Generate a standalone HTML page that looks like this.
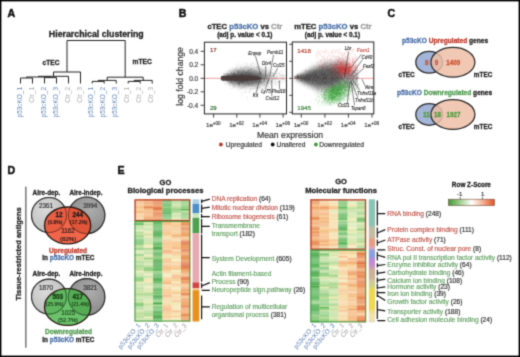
<!DOCTYPE html>
<html><head><meta charset="utf-8"><title>Figure</title>
<style>
html,body{margin:0;padding:0;background:#fff;width:520px;height:357px;overflow:hidden;}
svg{display:block;}
text{font-family:"Liberation Sans", sans-serif;}
</style></head><body>
<svg width="520" height="357" viewBox="0 0 520 357">
<defs><filter id="gb" filterUnits="userSpaceOnUse" x="0" y="0" width="520" height="357" color-interpolation-filters="sRGB"><feConvolveMatrix order="3" kernelMatrix="1 4 1 4 16 4 1 4 1" divisor="36" edgeMode="duplicate" preserveAlpha="true"/></filter></defs>
<g filter="url(#gb)">
<rect width="520" height="357" fill="#fff"/>
<rect x="0.7" y="0.7" width="518.6" height="355.6" fill="none" stroke="#000" stroke-width="1.4"/>
<text class="ns" x="7.6" y="16.7" font-size="10.6" font-weight="bold" fill="#111" stroke="#111" stroke-width="0.5">A</text>
<text class="ns" x="178.8" y="16.6" font-size="10.6" font-weight="bold" fill="#111" stroke="#111" stroke-width="0.5">B</text>
<text class="ns" x="387.6" y="17.0" font-size="10.6" font-weight="bold" fill="#111" stroke="#111" stroke-width="0.5">C</text>
<text class="ns" x="7.4" y="173.8" font-size="10.6" font-weight="bold" fill="#111" stroke="#111" stroke-width="0.5">D</text>
<text class="ns" x="117.6" y="174.2" font-size="10.6" font-weight="bold" fill="#111" stroke="#111" stroke-width="0.5">E</text>
<text x="96.3" y="36.9" font-size="8.8" font-weight="bold" fill="#222" stroke="#222" stroke-width="0.28" text-anchor="middle" >Hierarchical clustering</text>
<text x="42.6" y="64.5" font-size="6.6" font-weight="bold" fill="#222" stroke="#222" stroke-width="0.28" >cTEC</text>
<text x="132.5" y="64.3" font-size="6.65" font-weight="bold" fill="#222" stroke="#222" stroke-width="0.28" >mTEC</text>
<path d="M20.5 83.5L20.5 78.0M32.5 83.5L32.5 78.0M20.5 78.0L32.5 78.0M44.5 83.5L44.5 77.6M56.5 83.5L56.5 77.6M44.5 77.6L56.5 77.6M26.5 78.0L26.5 77.0M50.5 77.6L50.5 77.0M26.5 77.0L50.5 77.0M38.5 77.0L38.5 76.3M68.5 83.5L68.5 76.3M38.5 76.3L68.5 76.3M53.5 76.3L53.5 72.0M80.5 83.5L80.5 72.0M53.5 72.0L80.5 72.0M92.2 83.5L92.2 81.4M104.2 83.5L104.2 81.4M92.2 81.4L104.2 81.4M98.2 81.4L98.2 80.4M116.2 83.5L116.2 80.4M98.2 80.4L116.2 80.4M128.2 83.5L128.2 81.4M140.2 83.5L140.2 81.4M128.2 81.4L140.2 81.4M134.2 81.4L134.2 80.4M152.2 83.5L152.2 80.4M134.2 80.4L152.2 80.4M107.2 80.4L107.2 77.2M143.2 80.4L143.2 77.2M107.2 77.2L143.2 77.2M67.0 72.0L67.0 40.5M125.19999999999999 77.2L125.19999999999999 40.5M67.0 40.5L125.19999999999999 40.5" stroke="#222" stroke-width="1.0" fill="none"/>
<text class="ns" x="21.7" y="87.0" font-size="6.45" fill="#6385b8" text-anchor="end" transform="rotate(-90 21.7 87.0)">p53cKO_1</text>
<text class="ns" x="33.7" y="87.0" font-size="6.45" fill="#a8a8a8" text-anchor="end" transform="rotate(-90 33.7 87.0)">Ctr_1</text>
<text class="ns" x="45.7" y="87.0" font-size="6.45" fill="#6385b8" text-anchor="end" transform="rotate(-90 45.7 87.0)">p53cKO_2</text>
<text class="ns" x="57.7" y="87.0" font-size="6.45" fill="#6385b8" text-anchor="end" transform="rotate(-90 57.7 87.0)">p53cKO_3</text>
<text class="ns" x="69.7" y="87.0" font-size="6.45" fill="#a8a8a8" text-anchor="end" transform="rotate(-90 69.7 87.0)">Ctr_2</text>
<text class="ns" x="81.7" y="87.0" font-size="6.45" fill="#a8a8a8" text-anchor="end" transform="rotate(-90 81.7 87.0)">Ctr_3</text>
<text class="ns" x="93.4" y="87.0" font-size="6.45" fill="#6385b8" text-anchor="end" transform="rotate(-90 93.4 87.0)">p53cKO_1</text>
<text class="ns" x="105.4" y="87.0" font-size="6.45" fill="#6385b8" text-anchor="end" transform="rotate(-90 105.4 87.0)">p53cKO_2</text>
<text class="ns" x="117.4" y="87.0" font-size="6.45" fill="#6385b8" text-anchor="end" transform="rotate(-90 117.4 87.0)">p53cKO_3</text>
<text class="ns" x="129.39999999999998" y="87.0" font-size="6.45" fill="#a8a8a8" text-anchor="end" transform="rotate(-90 129.39999999999998 87.0)">Ctr_1</text>
<text class="ns" x="141.39999999999998" y="87.0" font-size="6.45" fill="#a8a8a8" text-anchor="end" transform="rotate(-90 141.39999999999998 87.0)">Ctr_2</text>
<text class="ns" x="153.39999999999998" y="87.0" font-size="6.45" fill="#a8a8a8" text-anchor="end" transform="rotate(-90 153.39999999999998 87.0)">Ctr_3</text>
<text x="207.4" y="29.3" font-size="7.7" font-weight="bold" fill="#222" stroke="#222" stroke-width="0.28">cTEC <tspan fill="#4a70a8" stroke="#4a70a8">p53cKO</tspan> vs <tspan fill="#9a9a9a" stroke="#9a9a9a">Ctr</tspan></text>
<text x="294.2" y="28.9" font-size="7.7" font-weight="bold" fill="#222" stroke="#222" stroke-width="0.28">mTEC <tspan fill="#4a70a8" stroke="#4a70a8">p53cKO</tspan> vs <tspan fill="#9a9a9a" stroke="#9a9a9a">Ctr</tspan></text>
<text x="217.2" y="36.9" font-size="6.4" font-weight="bold" fill="#222" stroke="#222" stroke-width="0.28" >(adj p. value &lt; 0.1)</text>
<text x="304.8" y="37.1" font-size="6.4" font-weight="bold" fill="#222" stroke="#222" stroke-width="0.28" >(adj p. value &lt; 0.1)</text>
<text x="0" y="0" font-size="9.6" fill="#333" stroke="#333" stroke-width="0.18" text-anchor="middle" transform="translate(182.9 76.4) rotate(-90) scale(0.9 1)">log fold change</text>
<defs><filter id="b1" x="-20%" y="-50%" width="140%" height="200%"><feGaussianBlur stdDeviation="1.2"/></filter><filter id="b2" x="-20%" y="-50%" width="140%" height="200%"><feGaussianBlur stdDeviation="2.2"/></filter><clipPath id="cp1"><rect x="204.5" y="42.5" width="81.3" height="71"/></clipPath><clipPath id="cp2"><rect x="292.8" y="42.5" width="80.5" height="71"/></clipPath></defs>
<line x1="204.5" y1="78.3" x2="286" y2="78.3" stroke="#e05a5a" stroke-width="0.7" opacity="0.85"/>
<line x1="292.8" y1="78.3" x2="373.5" y2="78.3" stroke="#e05a5a" stroke-width="0.7" opacity="0.85"/>
<defs><filter id="b3" x="-30%" y="-80%" width="160%" height="260%"><feGaussianBlur stdDeviation="3"/></filter><filter id="b05" x="-10%" y="-50%" width="120%" height="200%"><feGaussianBlur stdDeviation="0.6"/></filter></defs>
<g clip-path="url(#cp1)">
<ellipse cx="249" cy="77.6" rx="21" ry="8.0" fill="#8c8c8c" opacity="0.85" filter="url(#b3)"/>
<ellipse cx="247" cy="77.8" rx="15" ry="5.2" fill="#555" opacity="0.8" filter="url(#b2)"/>
<path d="M243.3 71.5h0.6M239.2 72.5h0.6M236.8 77.7h0.6M244.2 80.2h0.6M236.3 70.2h0.6M251.9 77.0h0.6M244.9 80.1h0.6M242.8 78.0h0.6M227.9 74.7h0.6M224.8 80.0h0.6M228.5 74.0h0.6M245.8 80.8h0.6M242.5 85.3h0.6M226.6 72.2h0.6M245.6 78.7h0.6M232.7 78.6h0.6M232.7 78.3h0.6M260.3 73.4h0.6M241.5 75.9h0.6M244.3 70.1h0.6M244.5 78.0h0.6M226.5 79.0h0.6M245.2 73.8h0.6M229.1 74.8h0.6M253.6 74.6h0.6M255.8 77.2h0.6M255.5 77.6h0.6M234.1 77.1h0.6M236.7 77.7h0.6M229.2 73.6h0.6M240.3 64.7h0.6M266.6 80.2h0.6M232.8 82.6h0.6M224.0 74.6h0.6M241.7 74.1h0.6M256.0 78.9h0.6M237.9 81.5h0.6M276.8 79.6h0.6M238.8 83.0h0.6M241.4 77.1h0.6M229.8 78.8h0.6M236.9 79.1h0.6M255.2 74.8h0.6M255.5 84.0h0.6M264.3 80.3h0.6M253.8 82.8h0.6M249.2 75.1h0.6M223.8 79.7h0.6M231.8 73.9h0.6M234.7 78.9h0.6M252.0 62.7h0.6M240.1 72.7h0.6M252.5 81.4h0.6M242.0 75.1h0.6M230.3 78.0h0.6M232.2 71.8h0.6M246.4 85.5h0.6M235.1 79.7h0.6M224.0 77.5h0.6M249.5 79.5h0.6M259.4 79.0h0.6M257.4 84.9h0.6M257.9 78.4h0.6M226.6 73.7h0.6M274.5 76.6h0.6M239.2 83.1h0.6M231.0 79.3h0.6M235.7 75.7h0.6M232.9 79.6h0.6M228.4 77.8h0.6M240.9 80.2h0.6M243.4 69.2h0.6M238.4 73.4h0.6M243.4 80.7h0.6M238.8 76.4h0.6M232.7 78.7h0.6M234.2 84.8h0.6M249.0 75.6h0.6M227.1 78.2h0.6M234.6 75.3h0.6M256.9 73.8h0.6M244.4 76.9h0.6M251.2 69.2h0.6M241.0 67.3h0.6M228.9 81.5h0.6M236.1 77.0h0.6M242.7 82.9h0.6M236.1 77.9h0.6M238.8 78.0h0.6M243.6 80.7h0.6M255.8 81.2h0.6M235.4 72.6h0.6M261.8 83.3h0.6M241.1 72.7h0.6M258.0 78.3h0.6M261.1 90.2h0.6M276.6 77.7h0.6M259.8 85.9h0.6M260.0 75.5h0.6M275.7 79.5h0.6M225.6 77.7h0.6M230.7 78.8h0.6M259.3 72.8h0.6M223.5 75.8h0.6M243.9 79.0h0.6M243.8 69.3h0.6M226.7 75.3h0.6M231.1 79.6h0.6M252.2 73.8h0.6M250.3 72.4h0.6M234.3 73.2h0.6M231.9 78.0h0.6M233.0 76.1h0.6M249.0 78.1h0.6M227.6 77.0h0.6M241.8 86.3h0.6M227.1 76.4h0.6M257.1 66.6h0.6M244.5 77.9h0.6M266.8 77.4h0.6M223.2 77.9h0.6M224.1 74.2h0.6M234.0 81.7h0.6M271.5 77.3h0.6M229.3 77.4h0.6M266.2 70.2h0.6M244.0 79.7h0.6M243.8 77.0h0.6M253.1 84.8h0.6M230.4 76.2h0.6M234.0 72.8h0.6M228.5 77.9h0.6M243.1 72.7h0.6M282.8 78.8h0.6M236.7 72.9h0.6M249.8 76.5h0.6M247.4 76.0h0.6M244.6 77.1h0.6M239.2 75.1h0.6M267.7 73.8h0.6M243.1 77.0h0.6M235.5 75.1h0.6M262.1 78.1h0.6M255.5 75.7h0.6M246.8 65.3h0.6M240.2 77.1h0.6M276.5 82.1h0.6M242.3 78.8h0.6M234.6 79.7h0.6M252.2 79.8h0.6M238.2 75.3h0.6M242.2 70.8h0.6M237.6 80.8h0.6M239.9 82.1h0.6M226.2 79.0h0.6M232.2 78.9h0.6M233.1 78.9h0.6M238.6 77.2h0.6M246.4 78.7h0.6M230.9 77.5h0.6M240.2 78.8h0.6M248.7 72.2h0.6M229.8 75.6h0.6M231.7 79.4h0.6M276.9 76.4h0.6M253.2 63.9h0.6M240.3 77.9h0.6M227.8 71.2h0.6M275.6 83.9h0.6M231.4 79.8h0.6M236.2 80.1h0.6M240.1 74.3h0.6M248.3 71.3h0.6M242.6 76.3h0.6M241.9 77.4h0.6M244.1 73.4h0.6M249.9 78.1h0.6M227.4 79.4h0.6M256.3 80.5h0.6M225.5 75.1h0.6M234.1 69.4h0.6M233.0 77.5h0.6M242.4 74.1h0.6M229.5 78.8h0.6M229.5 82.4h0.6M264.5 85.0h0.6M236.5 78.6h0.6M241.2 82.5h0.6M238.3 84.4h0.6M227.2 77.7h0.6M240.3 78.6h0.6M263.0 81.4h0.6M233.0 77.3h0.6M250.0 74.6h0.6M263.7 73.8h0.6M228.9 77.6h0.6M258.5 74.1h0.6M224.5 79.3h0.6M254.1 75.5h0.6M237.7 83.6h0.6M229.7 81.2h0.6M240.6 71.7h0.6M234.5 81.5h0.6M225.7 76.6h0.6M262.6 84.0h0.6M264.8 79.8h0.6M230.4 77.4h0.6M236.7 80.2h0.6M235.8 75.3h0.6M238.7 78.9h0.6M228.3 78.7h0.6M260.2 76.7h0.6M243.3 79.3h0.6M231.0 74.3h0.6M236.0 79.7h0.6M233.0 73.3h0.6M239.8 80.2h0.6M253.9 80.0h0.6M254.2 81.3h0.6M230.0 75.9h0.6M244.1 92.7h0.6M231.7 76.8h0.6M225.4 78.0h0.6M230.1 75.3h0.6M242.3 84.3h0.6M226.6 76.4h0.6M233.4 81.1h0.6M249.8 72.4h0.6M233.6 78.7h0.6M233.3 76.3h0.6M231.1 80.6h0.6M224.8 77.0h0.6M238.5 73.8h0.6M242.7 79.7h0.6M244.0 71.5h0.6M230.4 74.6h0.6M230.7 80.0h0.6M257.2 67.6h0.6M231.2 80.1h0.6M238.1 75.9h0.6M230.1 74.8h0.6M230.1 78.4h0.6M226.8 79.3h0.6M272.9 75.5h0.6M237.5 76.9h0.6M224.5 79.4h0.6M242.7 81.2h0.6M241.8 77.3h0.6M242.2 73.9h0.6M270.4 73.9h0.6M241.1 74.8h0.6M242.2 80.8h0.6M233.4 79.7h0.6M230.4 78.6h0.6M241.6 84.1h0.6M240.5 76.3h0.6M231.3 76.4h0.6M235.6 76.2h0.6M243.2 86.9h0.6M244.3 67.3h0.6M234.8 78.7h0.6M223.7 78.6h0.6M245.7 77.9h0.6M237.2 87.1h0.6M231.0 81.4h0.6M235.6 80.6h0.6M229.0 75.1h0.6M245.6 80.2h0.6M237.0 76.2h0.6M225.8 77.8h0.6M247.3 78.7h0.6M249.8 75.1h0.6M239.4 80.4h0.6M250.7 86.3h0.6M226.7 80.3h0.6M267.2 78.6h0.6M247.1 67.7h0.6M261.6 82.9h0.6M226.9 80.5h0.6M234.6 77.0h0.6M237.9 75.7h0.6M283.6 79.6h0.6M241.6 74.0h0.6M228.6 80.0h0.6M250.6 72.0h0.6M245.0 73.0h0.6M233.1 77.8h0.6M256.9 70.0h0.6M264.7 77.7h0.6M238.7 80.0h0.6M230.8 73.6h0.6M253.7 82.7h0.6M248.5 74.8h0.6M237.9 80.0h0.6M232.1 78.5h0.6M238.3 75.8h0.6M249.8 75.0h0.6M243.0 69.5h0.6M221.6 76.8h0.6M253.0 73.6h0.6M282.1 82.6h0.6M248.5 83.0h0.6M258.1 70.7h0.6M242.6 81.6h0.6M242.5 78.8h0.6M271.8 76.4h0.6M275.3 79.3h0.6M240.4 81.3h0.6M258.1 74.8h0.6M226.7 77.1h0.6M249.0 78.6h0.6M226.7 75.3h0.6M252.0 78.7h0.6M236.5 77.5h0.6M239.6 74.8h0.6M231.6 75.0h0.6M246.6 79.3h0.6M255.7 82.5h0.6M231.5 78.9h0.6M238.1 74.2h0.6M246.8 81.6h0.6M234.6 78.4h0.6M268.3 80.2h0.6M246.9 83.7h0.6M241.3 73.7h0.6M245.1 77.1h0.6M232.5 75.8h0.6M227.2 75.5h0.6M233.2 84.8h0.6M246.8 82.6h0.6M238.3 70.4h0.6M231.9 79.2h0.6M230.6 76.1h0.6M242.8 83.3h0.6M238.1 78.1h0.6M256.2 76.9h0.6M230.5 78.2h0.6M241.5 79.6h0.6M237.9 77.9h0.6M252.0 76.6h0.6M236.1 77.3h0.6M282.4 79.3h0.6M255.9 71.8h0.6M233.7 77.8h0.6M240.3 77.3h0.6M255.8 75.2h0.6M225.6 79.5h0.6M233.4 73.3h0.6M235.0 76.4h0.6M222.8 76.4h0.6M247.5 80.6h0.6M225.0 76.8h0.6M229.0 77.9h0.6M244.5 79.7h0.6M249.1 69.5h0.6M248.3 80.1h0.6M238.6 74.6h0.6M235.7 76.8h0.6M225.7 77.5h0.6M271.2 80.8h0.6M234.1 80.5h0.6M242.4 86.1h0.6M238.9 78.5h0.6M237.0 75.9h0.6M230.0 76.3h0.6M239.7 80.6h0.6M256.4 86.3h0.6M240.1 79.3h0.6M247.8 74.8h0.6M277.7 78.7h0.6M244.6 79.1h0.6M275.9 77.9h0.6M234.2 75.1h0.6M255.4 64.2h0.6M273.2 75.9h0.6M257.3 83.3h0.6M234.2 78.6h0.6M237.9 68.7h0.6M234.4 77.8h0.6M248.5 68.2h0.6M240.2 86.6h0.6M233.3 78.5h0.6M228.9 74.4h0.6M234.5 80.7h0.6M242.4 74.1h0.6M256.1 80.8h0.6M249.4 77.9h0.6M254.8 71.4h0.6M268.9 80.5h0.6M250.0 70.8h0.6M227.1 81.2h0.6M239.4 78.1h0.6M227.8 75.1h0.6M244.9 68.7h0.6M225.5 81.5h0.6M241.8 84.5h0.6M244.7 71.5h0.6M253.1 86.6h0.6M242.6 78.6h0.6M236.7 76.9h0.6M258.0 77.4h0.6M236.4 76.7h0.6M231.0 82.3h0.6M236.5 78.4h0.6M227.2 73.1h0.6M245.7 88.4h0.6M225.1 79.8h0.6M258.3 72.2h0.6M242.0 76.1h0.6M254.7 72.9h0.6M229.3 77.9h0.6M274.7 79.1h0.6M266.9 78.8h0.6M261.5 74.9h0.6M240.8 74.2h0.6M257.7 82.2h0.6M241.9 77.3h0.6M268.2 87.0h0.6M225.3 76.0h0.6M243.5 81.6h0.6M271.1 78.0h0.6M258.7 73.9h0.6M259.9 84.6h0.6M257.8 78.4h0.6M245.8 73.3h0.6M231.5 76.8h0.6M251.3 83.2h0.6M237.0 72.9h0.6M239.1 83.7h0.6M241.2 80.9h0.6M242.9 76.5h0.6M231.1 82.1h0.6M255.4 87.2h0.6M246.2 80.8h0.6M266.3 78.5h0.6M257.1 87.5h0.6M244.9 85.3h0.6M228.1 75.3h0.6M242.5 76.8h0.6M246.3 76.7h0.6M247.9 75.7h0.6M243.8 70.5h0.6M235.9 81.3h0.6M260.6 78.2h0.6M245.7 78.3h0.6M263.9 84.3h0.6M233.8 75.8h0.6M248.5 77.5h0.6M267.7 78.9h0.6M267.8 76.0h0.6M229.9 77.5h0.6M241.7 81.4h0.6M238.0 77.8h0.6M267.8 83.3h0.6M250.3 73.8h0.6M234.5 78.5h0.6M242.7 71.0h0.6M236.3 77.3h0.6M243.7 74.4h0.6M237.1 83.3h0.6M246.8 81.6h0.6M268.0 79.9h0.6M258.6 87.2h0.6M255.4 85.6h0.6M257.0 81.6h0.6M251.2 74.1h0.6M242.0 71.0h0.6M223.0 77.7h0.6M230.5 76.7h0.6M239.8 75.0h0.6M249.7 76.3h0.6M231.6 72.4h0.6M242.8 84.9h0.6M240.9 72.6h0.6M241.1 74.7h0.6M243.5 80.6h0.6M253.6 69.0h0.6M238.3 81.7h0.6M240.8 82.1h0.6M231.8 76.8h0.6M237.5 73.4h0.6M232.5 76.2h0.6M250.0 68.0h0.6M284.5 81.8h0.6M234.3 78.0h0.6M250.9 73.9h0.6M244.0 73.3h0.6M225.0 79.1h0.6M223.1 80.5h0.6M233.6 73.3h0.6M239.9 75.3h0.6M227.3 73.2h0.6M230.2 79.9h0.6M231.1 78.3h0.6M230.3 84.7h0.6M227.7 77.5h0.6M238.5 75.9h0.6M253.5 74.0h0.6M246.5 82.2h0.6M231.1 72.6h0.6M239.6 81.1h0.6M242.5 79.0h0.6M224.1 76.8h0.6M260.2 73.3h0.6M232.9 81.5h0.6M227.6 82.8h0.6M229.8 76.5h0.6M237.4 80.0h0.6M232.6 83.8h0.6M260.3 74.7h0.6M237.8 76.8h0.6M226.5 74.8h0.6M223.1 77.5h0.6M234.7 77.5h0.6M229.5 76.6h0.6M266.9 74.6h0.6M231.2 72.7h0.6M239.2 71.9h0.6M246.0 72.8h0.6M240.0 80.7h0.6M223.4 76.8h0.6M233.7 74.7h0.6M246.9 81.2h0.6M234.5 79.9h0.6M249.2 73.8h0.6M227.1 76.2h0.6M229.2 79.7h0.6M240.1 79.4h0.6M240.0 74.1h0.6M257.2 79.1h0.6M236.9 77.7h0.6M242.5 83.1h0.6M240.5 73.9h0.6M249.5 82.5h0.6M249.3 80.1h0.6M241.3 73.1h0.6M257.5 83.4h0.6M271.7 81.2h0.6M233.3 73.1h0.6M234.1 85.1h0.6M233.7 73.7h0.6M233.0 74.6h0.6M233.5 76.6h0.6M242.6 81.5h0.6M255.1 81.0h0.6M233.2 77.5h0.6M248.7 85.0h0.6M236.1 79.4h0.6M245.5 85.0h0.6M254.5 93.4h0.6M230.3 78.4h0.6M231.3 69.4h0.6M244.8 75.5h0.6M232.3 74.1h0.6M240.7 78.2h0.6M264.1 78.3h0.6M232.6 73.6h0.6M231.5 74.0h0.6M244.0 76.5h0.6M237.8 77.0h0.6M252.2 63.6h0.6M239.5 82.1h0.6M229.5 77.9h0.6M223.2 77.8h0.6M246.9 79.4h0.6M232.7 74.2h0.6M243.2 77.5h0.6M224.6 80.1h0.6M232.2 81.5h0.6M247.0 80.2h0.6M260.6 76.4h0.6M261.2 73.7h0.6M266.4 83.7h0.6M241.0 80.3h0.6M258.9 75.6h0.6M246.7 66.3h0.6M237.9 74.1h0.6M235.3 70.3h0.6M231.9 82.0h0.6M260.4 78.8h0.6M242.0 74.2h0.6M232.5 76.8h0.6M239.5 89.5h0.6M283.7 81.4h0.6M226.8 74.3h0.6M227.1 77.5h0.6M270.8 72.9h0.6M226.7 73.3h0.6M269.6 78.5h0.6M234.1 86.9h0.6M248.0 86.2h0.6M267.5 78.0h0.6M267.6 76.2h0.6M255.4 78.9h0.6M241.2 82.7h0.6M237.7 71.5h0.6M238.0 69.7h0.6M274.6 84.4h0.6M246.9 79.3h0.6M264.5 85.4h0.6M222.3 78.2h0.6M236.8 84.0h0.6M246.5 74.5h0.6M236.4 79.9h0.6M228.8 82.4h0.6M250.7 83.5h0.6M258.2 75.3h0.6M231.5 80.8h0.6M257.7 74.2h0.6M248.9 70.0h0.6M272.9 79.7h0.6M241.3 84.5h0.6M260.5 82.2h0.6M248.8 70.9h0.6M235.7 81.3h0.6M253.7 81.7h0.6M250.5 75.2h0.6M276.6 69.4h0.6M226.9 80.5h0.6M227.2 80.2h0.6M232.3 79.6h0.6M253.8 67.9h0.6M263.1 70.4h0.6M240.2 82.5h0.6M246.1 82.1h0.6M242.7 80.3h0.6M225.5 77.2h0.6M231.7 79.2h0.6M259.3 74.9h0.6M257.8 76.1h0.6M265.6 73.7h0.6M254.6 79.3h0.6M222.0 77.1h0.6M246.9 83.0h0.6M248.1 81.8h0.6M227.4 75.6h0.6M239.9 86.4h0.6M260.3 71.9h0.6M256.6 80.3h0.6M252.9 84.0h0.6M271.6 82.8h0.6M240.1 67.5h0.6M260.2 83.1h0.6M249.9 84.6h0.6M228.3 82.0h0.6M233.8 69.4h0.6M228.5 75.8h0.6M225.9 77.5h0.6M250.3 75.3h0.6M226.8 81.4h0.6M260.9 74.3h0.6M238.4 83.3h0.6M238.3 80.3h0.6M228.1 73.6h0.6M248.4 72.3h0.6M230.9 76.2h0.6M253.6 78.4h0.6M254.6 83.5h0.6M225.1 77.4h0.6M250.5 82.9h0.6M223.4 74.7h0.6M257.3 60.8h0.6M223.2 77.2h0.6M229.7 79.2h0.6M268.9 76.2h0.6M245.7 72.3h0.6M254.7 80.2h0.6M222.1 81.0h0.6M256.4 77.2h0.6M231.6 75.3h0.6M278.8 75.0h0.6M242.9 87.8h0.6M240.5 77.6h0.6M225.5 79.3h0.6M230.9 81.9h0.6M241.6 83.1h0.6M270.5 74.0h0.6M268.2 82.0h0.6M238.3 81.6h0.6M228.7 79.3h0.6M228.1 80.7h0.6M280.1 76.0h0.6M247.0 77.4h0.6M229.5 76.2h0.6M274.9 80.5h0.6M251.8 74.1h0.6M256.3 80.0h0.6M258.4 71.8h0.6M247.9 77.1h0.6M235.2 76.3h0.6M225.4 77.5h0.6M227.3 78.2h0.6M231.2 77.2h0.6M251.2 76.6h0.6M232.6 70.3h0.6M257.2 84.0h0.6M259.5 74.5h0.6M275.2 76.9h0.6M276.1 75.0h0.6M278.4 81.1h0.6M246.0 72.9h0.6M244.9 80.5h0.6M234.1 82.3h0.6M246.9 86.8h0.6M244.5 84.1h0.6M233.7 80.1h0.6M224.4 75.1h0.6M271.4 82.9h0.6M252.7 84.6h0.6M230.4 80.5h0.6M236.0 81.1h0.6M257.4 78.2h0.6M235.3 75.7h0.6M248.0 83.8h0.6M263.7 84.1h0.6M259.3 72.3h0.6M240.6 82.2h0.6M231.7 78.7h0.6M237.5 81.7h0.6M257.1 79.4h0.6M240.3 83.1h0.6M280.4 81.1h0.6M284.9 80.5h0.6M275.9 73.1h0.6M256.6 82.5h0.6M228.9 78.0h0.6M282.0 74.3h0.6M257.6 81.8h0.6M234.2 72.6h0.6M231.9 81.0h0.6M234.6 84.5h0.6M245.7 75.2h0.6M227.1 80.4h0.6M267.6 79.9h0.6M237.9 80.7h0.6M253.3 70.2h0.6M225.4 79.3h0.6M263.5 78.6h0.6M241.5 81.5h0.6M228.9 77.9h0.6M276.2 81.6h0.6M237.1 79.1h0.6M236.7 80.8h0.6M231.5 82.5h0.6M228.4 78.4h0.6M241.6 82.8h0.6M243.1 79.1h0.6M236.7 80.1h0.6M229.5 76.3h0.6M275.6 80.6h0.6M278.6 81.9h0.6M231.7 77.6h0.6M269.7 81.2h0.6M243.2 80.1h0.6M241.5 72.6h0.6M236.3 79.4h0.6M255.3 85.5h0.6M234.0 76.1h0.6M225.4 73.5h0.6M258.9 79.1h0.6M249.9 74.4h0.6M255.5 88.7h0.6M237.9 77.8h0.6M250.5 78.0h0.6M244.4 74.7h0.6M223.9 78.4h0.6M238.9 75.4h0.6M225.6 75.7h0.6M242.6 77.7h0.6M229.3 75.4h0.6M228.6 81.8h0.6M271.7 73.4h0.6M235.9 77.6h0.6M237.5 75.0h0.6M247.0 70.6h0.6M222.9 80.9h0.6M230.5 71.1h0.6M232.0 82.9h0.6M248.5 70.3h0.6M245.3 78.5h0.6M233.3 86.2h0.6M281.4 71.3h0.6M234.4 72.7h0.6M231.6 82.4h0.6M247.9 78.9h0.6M232.4 76.0h0.6M266.4 77.8h0.6M246.4 72.8h0.6M232.4 78.4h0.6M235.8 84.0h0.6M240.7 76.2h0.6M246.4 78.7h0.6M246.8 84.4h0.6M247.9 88.7h0.6M227.2 76.3h0.6M242.2 79.5h0.6M223.4 76.8h0.6M237.6 75.2h0.6M239.4 76.2h0.6M250.3 74.5h0.6M231.5 72.1h0.6M245.6 67.4h0.6M235.3 75.0h0.6M242.3 78.6h0.6M230.3 81.8h0.6M259.4 75.2h0.6M258.0 77.1h0.6M225.4 79.5h0.6M237.3 81.1h0.6M236.0 77.5h0.6M223.4 77.8h0.6M227.4 83.0h0.6M237.3 76.5h0.6M227.7 76.5h0.6M243.0 69.8h0.6M253.4 80.4h0.6M232.9 77.0h0.6M251.1 88.6h0.6M269.0 76.5h0.6M233.0 80.9h0.6M263.8 82.5h0.6M264.3 85.8h0.6M268.7 72.4h0.6M241.7 85.5h0.6M245.9 78.1h0.6M231.6 77.6h0.6M257.9 76.3h0.6M255.1 75.8h0.6M247.9 76.1h0.6M241.6 66.7h0.6M233.2 79.8h0.6M222.6 78.0h0.6M234.3 74.3h0.6M224.8 77.7h0.6M239.7 88.4h0.6M231.5 79.2h0.6M233.8 76.5h0.6M230.6 83.4h0.6M282.9 75.5h0.6M225.4 77.5h0.6M265.7 75.4h0.6M266.9 76.9h0.6M240.7 81.4h0.6M227.4 79.5h0.6M234.2 75.2h0.6M244.4 77.3h0.6M258.3 78.4h0.6M251.8 75.7h0.6M249.6 77.8h0.6M236.3 75.0h0.6M263.4 74.4h0.6M229.9 78.0h0.6M233.3 74.2h0.6M245.0 80.2h0.6M256.4 76.9h0.6M250.3 72.9h0.6M251.2 74.6h0.6M235.6 76.0h0.6M261.3 77.2h0.6M223.3 78.1h0.6M233.6 77.2h0.6M227.5 75.5h0.6M229.4 82.2h0.6M249.6 82.9h0.6M257.3 78.6h0.6M230.2 80.9h0.6M242.1 79.5h0.6M247.4 76.6h0.6M273.7 78.2h0.6M263.2 90.9h0.6M266.0 82.4h0.6M238.0 82.4h0.6M248.6 75.8h0.6M232.6 80.0h0.6M268.1 87.6h0.6M234.7 79.6h0.6M243.5 83.4h0.6M253.5 85.0h0.6M237.1 80.6h0.6M239.2 85.0h0.6M228.8 78.6h0.6M240.5 80.2h0.6M227.7 76.2h0.6M249.4 92.2h0.6M244.3 79.5h0.6M263.8 78.5h0.6M238.9 84.1h0.6M263.5 75.6h0.6M266.0 77.9h0.6M267.9 74.6h0.6M256.5 78.1h0.6M250.1 75.9h0.6M247.0 80.8h0.6M236.1 77.4h0.6M241.6 75.1h0.6M241.8 76.5h0.6M228.4 77.5h0.6M238.6 75.7h0.6M246.7 82.9h0.6M230.8 80.1h0.6M255.6 78.8h0.6M233.9 73.5h0.6M248.4 80.7h0.6M242.9 71.6h0.6M252.9 79.0h0.6M228.0 78.0h0.6M247.7 74.8h0.6M273.6 74.9h0.6M258.6 74.3h0.6M242.3 87.9h0.6M243.2 76.6h0.6M245.2 76.9h0.6M239.1 82.2h0.6M231.8 79.3h0.6M242.4 83.1h0.6M241.4 72.1h0.6M251.1 72.0h0.6M241.9 93.9h0.6M248.4 77.7h0.6M242.9 76.5h0.6M231.9 78.4h0.6M230.8 81.1h0.6M238.4 72.8h0.6M261.2 79.4h0.6M229.8 77.8h0.6M227.5 79.7h0.6M241.7 78.8h0.6M234.0 75.9h0.6M233.4 74.8h0.6M276.6 69.9h0.6M241.4 82.6h0.6M251.9 69.9h0.6M241.0 76.0h0.6M256.1 87.1h0.6M240.8 76.0h0.6M239.6 80.7h0.6M254.0 76.8h0.6M240.9 81.2h0.6M268.5 78.0h0.6M233.0 76.1h0.6M273.9 82.6h0.6M229.2 77.1h0.6M236.2 72.5h0.6M243.7 76.3h0.6M229.0 79.5h0.6M234.1 73.8h0.6M254.7 82.3h0.6M238.3 81.2h0.6M232.5 85.2h0.6M255.1 74.4h0.6M243.3 81.2h0.6M251.7 68.8h0.6M272.6 76.4h0.6M241.9 78.4h0.6M247.4 80.1h0.6M223.6 77.7h0.6M245.1 77.5h0.6M232.1 75.8h0.6M249.1 75.6h0.6M231.9 78.9h0.6M235.7 80.1h0.6M227.7 79.6h0.6M255.2 83.5h0.6M242.1 83.6h0.6M237.8 70.3h0.6M229.8 76.3h0.6M265.5 77.2h0.6M225.2 76.4h0.6M262.4 83.0h0.6M248.3 81.9h0.6M234.9 77.5h0.6M243.3 78.5h0.6M226.6 81.1h0.6M271.2 76.6h0.6M227.8 77.0h0.6M234.4 81.3h0.6M258.6 80.4h0.6M236.5 83.6h0.6M245.5 79.9h0.6M244.9 81.8h0.6M233.2 76.0h0.6M235.5 74.2h0.6M281.2 77.9h0.6M258.4 64.1h0.6M251.8 80.2h0.6M242.9 82.7h0.6M231.3 78.1h0.6M227.7 77.3h0.6M252.5 83.9h0.6M234.3 77.7h0.6M238.0 82.1h0.6M229.1 84.3h0.6M225.4 79.6h0.6M243.6 82.6h0.6M230.7 79.5h0.6M277.8 78.7h0.6M237.9 79.1h0.6M264.0 78.2h0.6M231.4 81.4h0.6M264.2 70.4h0.6M252.9 76.5h0.6M223.1 79.0h0.6M241.1 74.0h0.6M238.3 77.5h0.6M254.0 74.1h0.6M242.2 80.0h0.6M252.4 82.7h0.6M244.5 85.3h0.6M231.6 79.6h0.6M227.6 75.9h0.6M261.9 79.2h0.6M233.2 79.9h0.6M251.6 85.6h0.6M248.1 66.6h0.6M235.5 79.4h0.6M226.4 73.3h0.6M245.7 81.7h0.6M267.0 79.9h0.6M227.1 79.2h0.6M244.4 82.4h0.6M249.2 80.0h0.6M270.3 75.4h0.6M278.2 79.0h0.6M247.9 84.3h0.6M256.5 77.3h0.6M233.8 78.0h0.6M242.4 72.1h0.6M228.3 81.1h0.6M254.3 75.2h0.6M251.4 73.9h0.6M251.9 75.5h0.6M253.4 73.2h0.6M224.5 77.3h0.6M239.4 83.5h0.6M231.1 80.4h0.6M237.7 83.9h0.6M252.0 86.0h0.6M274.2 74.8h0.6M239.5 80.0h0.6M232.9 83.1h0.6M235.7 86.9h0.6M240.5 71.5h0.6M239.3 71.7h0.6M245.9 80.4h0.6M254.6 76.1h0.6M226.0 75.4h0.6M225.6 78.8h0.6M233.2 75.1h0.6M234.7 69.3h0.6M273.4 77.8h0.6M238.3 78.4h0.6M260.1 81.2h0.6M229.6 80.7h0.6M227.4 78.4h0.6M261.8 76.8h0.6M229.9 75.9h0.6M239.7 70.6h0.6M249.8 75.6h0.6M235.2 81.7h0.6M260.1 81.2h0.6M250.5 88.9h0.6M223.9 77.5h0.6M263.3 69.5h0.6M241.4 81.8h0.6M235.2 81.9h0.6M232.7 73.8h0.6M224.4 74.4h0.6M244.7 78.7h0.6M233.6 80.5h0.6M229.0 74.6h0.6M232.7 76.7h0.6M233.7 75.1h0.6M264.6 72.4h0.6M274.8 73.4h0.6M244.4 78.6h0.6M257.3 75.9h0.6M230.3 75.8h0.6M237.8 66.9h0.6M244.9 86.9h0.6M230.9 74.8h0.6M231.4 77.4h0.6M267.6 73.0h0.6M242.0 79.7h0.6M230.1 73.2h0.6M244.8 78.4h0.6M230.2 77.3h0.6M239.3 81.9h0.6M243.2 72.5h0.6M245.3 74.5h0.6M234.2 77.0h0.6M257.3 89.0h0.6M270.2 72.1h0.6M237.6 79.1h0.6M246.1 74.5h0.6M236.0 79.1h0.6M246.2 81.3h0.6M271.5 78.4h0.6M235.3 78.9h0.6M233.5 78.8h0.6M240.0 75.2h0.6M237.8 76.9h0.6M246.4 69.2h0.6M243.8 76.1h0.6M224.5 76.2h0.6M266.2 76.7h0.6M237.6 80.9h0.6M241.2 79.6h0.6M235.2 79.6h0.6M267.7 82.5h0.6M262.0 66.2h0.6M244.4 80.0h0.6M251.4 77.7h0.6M247.2 77.3h0.6M233.0 73.2h0.6M239.1 80.2h0.6M275.2 81.7h0.6M252.8 83.4h0.6M253.0 77.4h0.6M227.4 79.5h0.6M250.3 82.8h0.6M239.6 85.9h0.6M227.2 81.0h0.6M227.1 78.2h0.6M266.8 78.2h0.6M260.1 78.7h0.6M232.0 78.6h0.6M237.7 75.7h0.6M240.5 81.3h0.6M254.3 74.0h0.6M246.8 73.6h0.6M274.7 79.0h0.6M236.7 75.5h0.6M279.6 77.1h0.6M257.3 66.8h0.6M246.1 82.0h0.6M244.5 77.8h0.6M252.5 77.1h0.6M259.6 80.2h0.6M238.9 78.7h0.6M237.0 75.0h0.6M239.2 86.6h0.6M237.6 75.9h0.6M260.8 82.7h0.6M255.8 87.8h0.6M225.8 76.3h0.6M236.0 78.2h0.6M229.2 75.4h0.6M239.7 82.5h0.6M237.1 76.4h0.6M233.3 73.9h0.6M253.7 85.0h0.6M236.7 81.5h0.6M246.0 73.2h0.6M239.4 83.0h0.6M253.8 78.9h0.6M252.9 92.6h0.6M238.8 85.2h0.6M249.7 74.9h0.6M245.2 76.4h0.6M272.9 74.7h0.6M233.0 78.3h0.6M246.0 78.1h0.6M242.4 81.3h0.6M239.9 78.2h0.6M247.8 70.1h0.6M263.5 74.0h0.6M265.0 84.3h0.6M247.6 83.9h0.6M248.4 77.0h0.6M233.0 77.3h0.6M234.2 77.2h0.6M244.3 77.9h0.6M225.7 73.8h0.6M259.9 82.3h0.6M281.1 75.8h0.6M229.0 78.2h0.6M250.9 64.2h0.6M261.4 79.0h0.6M235.1 82.9h0.6M233.3 69.9h0.6M227.1 81.8h0.6M253.6 80.4h0.6M242.2 74.3h0.6M249.8 69.3h0.6M233.0 81.9h0.6M243.8 79.1h0.6M261.4 80.7h0.6M243.5 76.5h0.6M256.4 73.5h0.6M266.0 81.7h0.6M245.8 72.9h0.6M252.5 82.7h0.6M261.7 69.6h0.6M260.1 73.1h0.6M269.3 71.9h0.6M245.0 84.6h0.6M240.2 69.9h0.6M245.7 71.9h0.6M253.0 81.4h0.6M223.0 78.2h0.6M238.2 87.1h0.6M223.4 81.3h0.6M267.2 80.5h0.6M240.4 80.9h0.6M252.6 67.8h0.6M256.4 73.0h0.6M225.1 77.0h0.6M238.1 77.0h0.6M249.0 70.5h0.6M227.8 75.3h0.6M236.0 74.5h0.6M266.0 82.5h0.6M252.0 80.1h0.6M230.0 76.8h0.6M231.3 76.9h0.6M251.2 79.4h0.6M227.9 75.9h0.6M233.1 76.9h0.6M241.4 69.7h0.6M261.2 81.1h0.6M235.1 81.5h0.6M238.8 79.4h0.6M245.2 80.3h0.6M236.9 79.3h0.6M239.4 86.8h0.6M276.1 78.5h0.6M279.4 73.6h0.6M249.8 72.2h0.6M248.2 81.6h0.6M247.3 83.4h0.6M270.8 80.8h0.6M238.8 81.4h0.6M263.0 78.7h0.6M258.4 70.0h0.6M281.8 75.7h0.6M261.5 68.9h0.6M238.1 76.2h0.6M250.0 70.5h0.6M249.4 78.3h0.6M232.6 77.2h0.6M237.4 69.7h0.6M229.8 80.0h0.6M226.7 79.7h0.6M254.3 70.1h0.6M228.8 78.2h0.6M245.5 81.5h0.6M234.5 76.7h0.6M263.1 81.9h0.6M249.6 78.8h0.6M250.3 83.5h0.6M259.2 78.7h0.6M245.1 76.9h0.6M229.8 79.3h0.6M243.8 81.7h0.6M250.1 79.1h0.6M242.4 75.6h0.6M248.0 73.6h0.6M229.0 76.7h0.6M247.2 74.7h0.6M232.0 78.5h0.6M232.3 78.3h0.6M256.5 77.3h0.6M268.4 77.7h0.6M227.6 78.2h0.6M275.4 83.0h0.6M247.0 84.1h0.6M234.0 75.6h0.6M255.3 80.1h0.6M249.7 76.0h0.6M252.2 77.2h0.6M229.3 77.0h0.6M241.3 74.8h0.6M262.0 71.0h0.6M226.0 71.7h0.6M229.2 78.3h0.6M253.0 84.2h0.6M258.6 73.0h0.6M234.5 79.6h0.6M256.7 75.6h0.6M234.5 78.8h0.6M235.8 74.5h0.6M234.3 76.9h0.6M230.8 77.4h0.6M227.8 71.2h0.6M244.2 78.8h0.6M264.1 77.1h0.6M255.6 64.0h0.6M240.0 80.7h0.6M249.8 77.5h0.6M233.0 78.5h0.6M244.4 79.5h0.6M261.8 75.6h0.6M248.0 72.0h0.6M232.3 76.2h0.6M230.9 76.4h0.6M235.2 86.3h0.6M230.0 83.4h0.6M229.1 76.3h0.6M245.9 75.5h0.6M228.5 78.7h0.6M232.8 79.7h0.6M249.8 73.9h0.6M225.0 75.4h0.6M253.3 88.4h0.6M230.6 81.1h0.6M227.8 73.5h0.6M238.3 70.1h0.6M235.9 74.4h0.6M238.4 78.6h0.6M272.0 79.8h0.6M243.9 75.9h0.6M226.5 73.6h0.6M236.5 78.6h0.6M249.3 80.9h0.6M246.9 77.6h0.6M230.7 76.1h0.6M236.0 80.0h0.6M234.4 77.5h0.6M228.7 74.5h0.6M241.7 78.1h0.6M234.4 72.8h0.6M239.9 82.1h0.6M243.9 80.0h0.6M234.1 73.9h0.6M272.7 78.5h0.6M245.1 84.2h0.6M239.8 67.9h0.6M244.1 76.9h0.6M270.2 84.3h0.6M230.4 72.8h0.6M256.3 76.7h0.6M230.1 73.2h0.6M251.7 77.3h0.6M228.7 70.7h0.6M239.1 70.4h0.6M233.7 75.7h0.6M236.6 78.2h0.6M259.9 79.6h0.6M262.7 79.7h0.6M242.3 83.3h0.6M234.4 80.3h0.6M259.0 81.5h0.6M229.4 74.7h0.6M227.1 77.3h0.6M241.1 92.8h0.6M241.0 88.4h0.6M245.7 82.0h0.6M242.5 81.3h0.6M232.4 81.2h0.6M237.0 76.0h0.6M233.5 84.9h0.6M260.3 75.7h0.6M232.9 77.4h0.6M229.2 84.3h0.6M240.0 68.1h0.6M234.7 79.1h0.6M247.5 68.3h0.6M224.0 76.4h0.6M257.1 77.1h0.6M246.7 75.7h0.6M237.4 78.4h0.6M234.3 74.8h0.6M249.1 77.1h0.6M238.4 72.4h0.6M248.7 75.5h0.6M282.6 73.5h0.6M243.4 81.0h0.6M263.6 71.4h0.6M252.8 81.5h0.6M234.5 76.1h0.6M268.5 76.4h0.6M255.8 84.3h0.6M231.0 78.1h0.6M247.7 67.4h0.6M284.3 79.2h0.6M260.2 62.5h0.6M256.5 79.1h0.6M236.7 76.0h0.6M242.3 70.7h0.6M250.2 78.1h0.6M233.4 76.5h0.6M225.6 82.7h0.6M277.7 76.2h0.6M233.9 85.0h0.6M277.8 82.3h0.6M239.9 74.8h0.6M231.8 74.9h0.6M229.7 81.8h0.6M262.9 77.0h0.6M237.9 78.4h0.6M227.9 77.0h0.6M249.1 71.0h0.6M242.5 75.8h0.6M234.3 74.0h0.6M233.8 71.9h0.6M233.8 76.6h0.6M242.5 86.6h0.6M235.7 84.2h0.6M229.4 77.5h0.6M261.5 78.3h0.6M270.4 79.8h0.6M240.1 84.0h0.6M242.8 79.3h0.6M261.7 75.2h0.6M234.0 76.2h0.6M248.5 83.9h0.6M267.6 89.2h0.6M239.1 74.8h0.6M224.2 73.3h0.6M229.0 80.2h0.6M233.4 77.4h0.6M242.2 78.3h0.6M225.7 80.8h0.6M227.0 77.9h0.6M249.5 70.3h0.6M254.0 66.4h0.6M240.3 77.4h0.6M265.5 72.2h0.6M264.3 79.1h0.6M262.1 71.2h0.6M228.7 76.7h0.6M227.4 73.6h0.6M238.0 76.1h0.6M222.8 76.9h0.6M247.8 80.9h0.6M239.5 83.9h0.6M254.1 76.6h0.6M238.8 73.8h0.6M228.8 83.6h0.6M241.3 79.4h0.6M227.1 79.4h0.6M225.6 79.2h0.6M254.0 86.0h0.6M229.7 80.9h0.6M232.9 80.2h0.6M234.9 80.7h0.6M256.5 72.8h0.6M242.9 74.6h0.6M244.5 77.1h0.6M227.5 78.0h0.6M257.8 77.8h0.6M238.8 79.1h0.6M236.4 77.8h0.6M273.1 76.1h0.6M260.3 69.1h0.6M243.6 82.0h0.6M256.8 81.0h0.6M229.1 75.0h0.6M240.4 80.0h0.6M245.8 79.8h0.6M237.2 78.0h0.6M234.2 70.6h0.6M241.1 71.8h0.6M229.3 75.9h0.6M241.2 85.5h0.6M265.5 73.6h0.6M252.3 75.7h0.6M247.4 71.6h0.6M235.3 75.7h0.6M244.3 79.5h0.6M230.3 71.0h0.6M244.5 62.6h0.6M254.8 81.5h0.6M250.8 77.9h0.6M246.1 74.4h0.6M258.8 82.9h0.6M234.6 81.5h0.6M234.7 69.4h0.6M231.2 77.1h0.6M250.6 83.9h0.6M243.4 74.2h0.6M242.0 76.1h0.6M263.0 82.4h0.6M236.2 76.6h0.6M240.9 71.9h0.6M251.7 73.8h0.6M256.7 70.2h0.6M245.5 80.7h0.6M255.8 67.8h0.6M256.1 83.3h0.6M263.2 69.5h0.6M242.9 77.9h0.6M227.6 73.6h0.6M256.4 75.9h0.6M237.0 82.1h0.6M243.6 83.5h0.6M233.9 82.7h0.6M247.0 77.2h0.6M228.2 78.0h0.6M239.2 78.7h0.6M256.6 81.1h0.6M240.0 75.8h0.6M238.7 82.7h0.6M270.7 79.0h0.6M241.1 83.2h0.6M239.6 79.9h0.6M231.3 80.0h0.6M249.1 73.6h0.6M263.1 75.6h0.6M248.7 70.5h0.6M237.3 76.4h0.6M253.1 76.6h0.6M244.2 82.1h0.6M238.5 72.0h0.6M230.8 88.5h0.6M251.1 77.0h0.6M244.1 84.3h0.6M271.2 81.8h0.6M234.9 67.7h0.6M245.3 76.2h0.6M251.6 86.0h0.6M236.4 67.5h0.6M238.9 81.2h0.6M239.7 73.4h0.6M250.5 75.0h0.6M280.9 78.4h0.6M252.8 67.0h0.6M227.4 78.3h0.6M232.3 75.4h0.6M242.8 73.9h0.6M257.0 81.6h0.6M247.1 96.9h0.6M255.2 79.6h0.6M233.7 79.8h0.6M239.4 77.4h0.6M227.2 75.7h0.6M244.2 79.0h0.6M231.9 83.0h0.6M254.6 78.7h0.6M251.7 82.7h0.6M278.8 77.0h0.6M249.2 91.7h0.6M260.6 69.0h0.6M248.9 80.9h0.6M252.3 80.7h0.6M232.2 78.6h0.6M230.4 74.1h0.6M247.6 71.4h0.6M243.6 76.4h0.6M246.0 78.2h0.6M269.8 72.6h0.6M228.8 74.5h0.6M243.0 80.5h0.6M267.2 82.3h0.6M229.1 76.0h0.6M231.8 75.2h0.6M225.1 76.0h0.6M255.1 92.0h0.6M251.3 80.4h0.6M227.1 77.5h0.6M266.9 82.2h0.6M236.8 87.4h0.6M238.5 82.9h0.6M251.8 69.5h0.6M258.3 77.1h0.6M231.4 76.3h0.6M247.6 75.7h0.6M242.0 71.5h0.6M274.4 76.3h0.6M233.6 73.6h0.6M273.9 78.9h0.6M225.3 77.8h0.6M254.4 69.4h0.6M277.7 71.9h0.6M255.7 74.8h0.6M271.2 80.2h0.6M263.7 80.1h0.6M227.4 77.5h0.6M234.9 64.4h0.6M268.0 75.4h0.6M247.8 73.5h0.6M241.4 76.0h0.6M274.9 73.4h0.6M251.9 75.1h0.6M229.8 75.6h0.6M244.8 92.2h0.6M237.6 80.7h0.6M231.2 77.0h0.6M239.8 77.4h0.6M237.1 77.1h0.6M242.9 78.6h0.6M241.9 75.6h0.6M238.3 77.5h0.6M236.6 82.0h0.6M243.2 81.9h0.6M240.6 79.1h0.6M243.1 84.5h0.6M242.4 78.7h0.6M232.5 74.1h0.6M246.4 68.0h0.6M230.2 75.4h0.6M252.6 77.2h0.6M281.8 78.9h0.6M241.6 82.9h0.6M244.4 74.5h0.6M241.7 73.6h0.6M230.2 80.2h0.6M249.9 84.2h0.6M231.8 76.0h0.6M255.3 79.5h0.6M229.0 81.9h0.6M245.0 79.3h0.6M247.9 77.3h0.6M266.2 67.9h0.6M250.3 85.0h0.6M229.9 79.7h0.6M246.9 78.3h0.6M244.8 75.1h0.6M277.2 73.4h0.6M237.6 77.2h0.6M239.7 77.1h0.6M250.8 83.8h0.6M239.9 71.9h0.6M230.8 82.5h0.6M233.7 77.8h0.6M245.3 84.0h0.6M243.0 72.6h0.6M231.5 78.9h0.6M239.9 83.3h0.6M244.4 78.2h0.6M223.9 74.6h0.6M226.8 76.8h0.6M224.1 78.9h0.6M225.7 74.2h0.6M246.5 69.7h0.6M245.1 78.9h0.6M225.0 75.4h0.6M255.4 81.5h0.6M261.6 71.5h0.6M243.3 68.1h0.6M249.1 73.2h0.6M249.5 85.9h0.6M234.8 74.2h0.6M275.1 77.6h0.6M231.6 78.5h0.6M237.1 73.5h0.6M222.6 79.7h0.6M256.5 78.6h0.6M234.5 79.4h0.6M280.0 72.2h0.6M276.8 71.7h0.6M223.1 72.5h0.6M240.2 76.7h0.6M242.6 76.4h0.6M236.8 80.7h0.6M231.4 82.8h0.6M237.9 76.5h0.6M243.3 76.2h0.6M241.7 79.8h0.6M238.7 84.5h0.6M248.9 73.0h0.6M239.0 80.5h0.6M270.8 76.6h0.6M232.8 76.4h0.6M241.5 81.6h0.6M250.3 73.1h0.6M252.2 71.5h0.6M271.8 80.3h0.6M235.2 77.5h0.6M260.2 76.2h0.6M241.8 77.0h0.6M224.8 78.9h0.6M257.7 75.6h0.6M228.3 79.9h0.6M235.8 79.4h0.6M250.5 85.9h0.6M235.1 82.7h0.6M231.6 80.6h0.6M250.9 76.5h0.6M261.0 78.2h0.6M234.6 75.3h0.6M237.6 90.1h0.6M248.6 76.4h0.6M243.3 80.5h0.6M238.7 83.8h0.6M282.5 73.4h0.6M238.1 74.0h0.6M231.7 76.3h0.6M237.0 73.4h0.6M248.1 70.6h0.6M233.5 75.7h0.6M231.1 82.1h0.6M226.7 79.6h0.6M251.5 77.8h0.6M229.3 77.8h0.6M250.3 68.3h0.6M249.1 81.5h0.6M264.7 79.7h0.6M231.0 74.0h0.6M264.7 78.6h0.6M256.3 76.5h0.6M229.3 76.1h0.6M244.9 72.3h0.6M245.6 74.0h0.6M247.0 72.5h0.6M223.5 78.7h0.6M245.9 79.6h0.6M237.1 79.1h0.6M256.5 76.6h0.6M245.2 75.4h0.6M234.8 85.8h0.6M230.8 71.5h0.6M238.4 83.0h0.6M246.4 79.6h0.6M241.2 78.0h0.6M227.6 76.3h0.6M274.3 76.9h0.6M256.9 71.0h0.6M243.1 70.5h0.6M245.2 77.0h0.6M251.3 68.3h0.6M245.8 82.2h0.6M239.3 82.8h0.6M263.1 60.5h0.6M240.0 70.4h0.6M238.2 78.9h0.6M243.0 78.7h0.6M240.8 78.2h0.6M244.9 79.9h0.6M235.8 80.7h0.6M249.8 82.5h0.6M257.8 87.5h0.6M227.3 77.8h0.6M238.7 81.6h0.6M226.9 73.3h0.6M233.6 77.2h0.6M227.1 74.4h0.6M245.3 85.2h0.6M234.7 86.9h0.6M260.8 80.5h0.6M238.2 71.9h0.6M237.1 77.2h0.6M234.6 77.8h0.6M232.3 78.4h0.6M260.9 83.3h0.6M228.0 80.5h0.6M264.9 64.9h0.6M239.4 84.0h0.6M228.6 76.2h0.6M243.5 74.8h0.6M234.2 83.2h0.6M233.8 76.7h0.6M266.2 71.3h0.6M252.4 70.1h0.6M221.7 77.9h0.6M239.2 81.8h0.6M239.0 84.5h0.6M235.7 77.0h0.6M273.8 76.0h0.6M231.7 83.4h0.6M231.9 76.1h0.6M244.0 85.4h0.6M262.6 78.9h0.6M227.3 78.4h0.6M239.1 76.6h0.6M237.7 79.0h0.6M252.1 75.0h0.6M256.1 73.8h0.6M236.0 77.1h0.6M232.5 75.4h0.6M222.1 78.3h0.6M242.8 78.1h0.6M257.5 76.2h0.6M253.4 76.5h0.6M235.0 76.8h0.6M274.3 84.0h0.6M229.3 77.7h0.6M261.8 74.6h0.6M249.8 76.0h0.6M234.6 80.3h0.6M261.1 76.6h0.6M229.7 77.3h0.6M231.5 76.8h0.6M247.3 78.6h0.6M283.5 78.9h0.6M257.8 80.1h0.6M233.9 71.5h0.6M277.2 74.1h0.6M246.6 63.3h0.6M243.5 81.8h0.6M230.4 81.3h0.6M230.1 81.9h0.6M227.4 78.1h0.6M230.5 81.5h0.6M226.2 77.6h0.6M237.7 77.2h0.6M232.7 72.1h0.6M236.5 74.4h0.6M248.5 74.4h0.6M229.8 80.6h0.6M232.8 83.8h0.6M243.3 75.3h0.6M257.0 79.7h0.6M224.1 78.3h0.6M253.3 73.2h0.6M249.9 68.0h0.6M237.8 74.4h0.6M231.5 72.8h0.6M247.1 75.9h0.6M282.8 77.3h0.6M259.5 76.7h0.6M237.4 77.0h0.6M237.3 79.8h0.6M250.8 72.4h0.6M249.5 82.6h0.6M270.4 70.8h0.6M242.3 78.0h0.6M238.8 79.4h0.6M234.3 74.6h0.6M236.9 70.9h0.6M233.4 80.1h0.6M232.3 75.3h0.6M225.7 79.7h0.6M233.8 80.6h0.6M249.7 77.6h0.6M264.1 77.7h0.6M240.7 82.4h0.6M281.4 78.9h0.6M273.2 74.2h0.6M223.8 78.1h0.6M244.7 80.6h0.6M244.1 78.7h0.6M252.7 78.7h0.6M265.1 77.0h0.6M236.6 77.2h0.6M261.1 72.8h0.6M224.7 74.4h0.6M252.9 84.1h0.6M228.7 75.8h0.6M228.6 78.4h0.6M258.8 69.5h0.6M233.5 78.3h0.6M253.2 72.9h0.6M241.0 92.0h0.6M246.6 72.1h0.6M237.0 73.6h0.6M225.5 80.1h0.6M267.8 82.7h0.6M267.9 68.4h0.6M244.1 79.0h0.6M240.8 81.9h0.6M232.9 73.2h0.6M231.0 80.0h0.6M230.7 76.0h0.6M227.7 74.9h0.6M240.2 76.0h0.6M266.9 75.6h0.6M236.2 71.9h0.6M249.9 90.1h0.6M251.0 75.1h0.6M232.9 75.0h0.6M254.3 82.5h0.6M241.3 77.3h0.6M273.7 82.6h0.6M269.8 76.6h0.6M238.7 79.2h0.6M238.8 78.1h0.6M280.6 78.2h0.6M231.1 77.0h0.6M268.8 77.2h0.6M236.3 84.6h0.6M241.0 74.4h0.6M259.1 74.7h0.6M229.4 76.6h0.6M230.7 79.6h0.6M259.2 79.8h0.6M248.0 82.8h0.6M249.5 70.2h0.6M246.4 79.0h0.6M236.5 76.9h0.6M262.6 76.2h0.6M253.3 78.6h0.6M236.2 69.5h0.6M231.1 78.6h0.6M250.3 78.4h0.6M237.0 71.6h0.6M232.6 77.4h0.6M234.1 83.6h0.6M271.3 76.2h0.6M240.0 80.4h0.6M246.5 76.4h0.6M227.2 75.5h0.6M228.1 75.1h0.6M225.1 76.8h0.6M244.2 84.5h0.6M234.1 80.8h0.6M223.6 76.3h0.6M243.5 82.8h0.6M232.7 77.2h0.6M262.1 74.2h0.6M249.6 80.0h0.6M248.6 72.6h0.6M274.9 72.2h0.6M239.6 83.6h0.6M256.5 67.4h0.6M231.6 79.6h0.6M229.5 73.0h0.6M230.2 77.6h0.6M246.9 76.6h0.6M242.9 75.4h0.6M235.6 68.8h0.6M249.5 77.0h0.6M264.6 77.5h0.6M227.5 75.2h0.6M253.7 77.3h0.6M260.5 82.8h0.6M248.2 73.7h0.6M252.1 79.1h0.6M238.5 72.6h0.6M229.0 78.9h0.6M264.6 80.7h0.6M232.7 86.6h0.6M252.8 82.8h0.6M273.3 79.3h0.6M264.1 84.5h0.6M246.0 72.3h0.6M246.1 83.4h0.6M264.7 75.1h0.6M269.7 75.1h0.6M230.6 81.3h0.6M227.1 78.4h0.6M248.1 84.9h0.6M252.8 69.5h0.6M243.3 79.1h0.6M243.9 75.0h0.6M236.8 76.6h0.6M246.4 67.4h0.6M226.4 80.2h0.6M251.6 78.8h0.6M260.5 72.6h0.6M252.0 70.1h0.6M230.5 74.9h0.6M236.6 83.5h0.6M246.9 77.1h0.6M240.9 76.1h0.6M246.7 80.3h0.6M248.5 77.8h0.6M230.5 78.5h0.6M250.5 81.8h0.6M237.3 79.1h0.6M233.2 80.9h0.6M247.7 71.2h0.6M245.1 78.0h0.6M261.4 75.9h0.6M253.9 78.3h0.6M262.0 77.5h0.6M237.2 75.1h0.6M260.8 75.9h0.6M255.7 83.1h0.6M267.8 75.3h0.6M271.6 72.9h0.6M232.3 79.8h0.6M230.9 81.0h0.6M235.9 76.7h0.6M272.3 78.2h0.6M248.2 73.2h0.6M227.4 77.2h0.6M239.9 82.9h0.6M226.7 79.9h0.6M253.0 78.6h0.6M229.3 77.0h0.6M249.9 68.8h0.6M250.7 79.5h0.6M227.9 79.1h0.6M237.8 82.3h0.6M256.1 89.0h0.6M283.3 78.9h0.6M257.7 83.0h0.6M254.5 71.5h0.6M230.2 81.6h0.6M256.3 82.6h0.6M278.2 82.3h0.6M232.5 80.2h0.6M232.4 79.4h0.6M232.1 82.9h0.6M249.9 74.2h0.6M241.0 80.9h0.6M284.2 81.0h0.6M272.7 74.9h0.6M255.6 71.4h0.6M249.0 80.2h0.6M226.9 78.1h0.6M239.6 80.6h0.6M243.4 81.1h0.6M280.8 75.4h0.6M243.9 79.6h0.6M267.1 82.8h0.6M251.2 75.9h0.6M255.5 76.2h0.6M237.5 73.1h0.6M227.4 80.0h0.6M259.6 88.0h0.6M266.0 71.6h0.6M224.7 79.6h0.6M236.4 81.5h0.6M242.0 75.1h0.6M256.7 75.8h0.6M228.5 74.8h0.6M240.6 74.2h0.6M251.8 78.8h0.6M243.3 81.1h0.6M268.2 78.4h0.6M257.5 82.5h0.6M265.6 78.8h0.6M238.2 72.8h0.6M250.1 85.8h0.6M255.9 84.5h0.6M260.7 74.3h0.6M244.0 87.0h0.6M276.6 79.4h0.6M235.8 78.4h0.6M251.8 88.5h0.6M250.6 64.2h0.6M238.0 71.0h0.6M240.6 81.2h0.6M252.7 76.5h0.6M226.4 75.4h0.6M246.0 85.9h0.6M223.9 78.9h0.6M223.4 75.4h0.6M264.0 74.8h0.6M242.7 82.1h0.6M257.5 87.6h0.6M250.1 67.0h0.6M272.2 78.8h0.6M241.0 76.1h0.6M236.4 70.8h0.6M239.3 77.2h0.6M221.0 75.8h0.6M224.2 76.7h0.6M258.3 86.6h0.6M224.4 79.0h0.6M251.3 82.3h0.6M256.9 81.2h0.6M229.0 78.9h0.6M229.8 80.9h0.6M228.0 74.6h0.6M231.3 76.7h0.6M238.3 81.6h0.6M233.7 75.2h0.6M236.2 76.2h0.6M231.4 81.9h0.6M243.8 85.8h0.6M234.3 75.6h0.6M229.8 75.4h0.6M252.1 81.2h0.6M243.7 79.4h0.6M259.5 74.5h0.6M242.8 80.9h0.6M256.2 81.1h0.6M234.2 78.2h0.6M225.0 84.8h0.6M234.7 83.2h0.6M230.3 80.5h0.6M230.7 81.2h0.6M255.5 94.6h0.6M250.4 84.0h0.6M244.2 74.3h0.6M236.0 79.3h0.6M253.0 78.4h0.6M240.0 75.4h0.6M245.7 79.4h0.6M256.7 79.4h0.6M238.3 77.7h0.6M236.7 76.0h0.6M264.5 81.9h0.6M237.1 71.3h0.6M241.7 82.0h0.6M264.4 78.0h0.6M239.4 79.2h0.6M235.9 68.4h0.6M281.0 83.2h0.6M253.7 68.3h0.6M230.7 75.1h0.6M243.4 81.3h0.6M235.4 75.6h0.6M239.8 76.1h0.6M272.7 69.7h0.6M225.5 76.8h0.6M226.0 78.4h0.6M252.3 81.8h0.6M234.5 76.9h0.6M232.8 78.7h0.6M227.1 79.1h0.6M272.5 75.4h0.6M267.8 74.7h0.6M239.8 87.0h0.6M234.3 74.7h0.6M254.3 85.0h0.6M261.7 78.4h0.6M248.2 86.0h0.6M241.5 74.9h0.6M229.4 79.5h0.6M245.7 79.8h0.6M231.6 77.2h0.6M226.3 78.7h0.6M240.4 74.4h0.6M264.2 77.6h0.6M266.2 76.2h0.6M236.0 81.1h0.6M235.7 77.6h0.6M275.4 73.2h0.6M245.9 76.1h0.6M258.9 77.5h0.6M241.0 73.7h0.6M256.3 85.5h0.6M244.3 80.1h0.6M270.7 81.3h0.6M232.1 75.3h0.6M228.5 76.8h0.6M251.9 83.7h0.6M224.1 74.9h0.6M251.2 80.1h0.6M265.5 78.4h0.6M251.4 75.3h0.6M245.5 78.5h0.6M254.7 72.0h0.6M245.3 79.2h0.6M227.0 74.7h0.6M241.5 71.9h0.6M231.7 82.7h0.6M276.1 75.6h0.6M257.1 66.4h0.6M240.9 82.6h0.6M249.0 73.8h0.6M238.9 62.3h0.6M273.8 77.8h0.6M232.7 81.3h0.6M266.4 79.6h0.6M230.8 83.6h0.6M237.4 77.5h0.6M247.6 81.3h0.6M252.7 72.4h0.6M264.6 78.8h0.6M237.2 84.5h0.6M232.0 79.7h0.6M243.0 78.9h0.6M232.3 71.0h0.6M237.1 76.4h0.6M229.6 74.0h0.6M255.9 82.4h0.6M241.9 74.4h0.6M256.5 80.1h0.6M242.9 73.0h0.6M234.5 85.3h0.6M252.5 71.5h0.6M228.7 78.3h0.6M233.2 87.6h0.6M261.8 79.1h0.6M245.5 73.4h0.6M258.4 81.4h0.6M248.5 83.5h0.6M228.3 80.4h0.6M236.9 69.7h0.6M264.0 79.1h0.6M241.2 67.8h0.6M258.6 88.2h0.6M243.9 78.4h0.6M229.2 76.6h0.6M260.6 81.5h0.6M238.4 80.2h0.6M224.9 75.1h0.6M277.9 83.3h0.6M240.7 76.9h0.6M235.2 71.0h0.6M237.1 83.9h0.6M247.8 86.4h0.6M224.7 80.8h0.6M237.2 80.3h0.6M222.9 76.3h0.6M261.4 82.8h0.6M243.8 87.7h0.6M260.8 82.3h0.6M281.1 83.0h0.6M234.3 75.0h0.6M261.8 83.2h0.6M232.0 81.2h0.6M223.7 74.9h0.6M251.5 69.0h0.6M232.5 75.4h0.6M255.9 78.5h0.6M223.9 78.9h0.6M243.1 76.9h0.6M234.6 77.7h0.6M257.5 77.5h0.6M239.2 78.4h0.6M268.6 80.5h0.6M254.7 80.9h0.6M251.4 77.8h0.6M234.6 79.0h0.6M242.0 75.8h0.6M232.8 80.9h0.6M229.7 76.4h0.6M246.3 87.0h0.6M252.5 78.0h0.6M238.2 79.2h0.6M243.7 74.1h0.6M230.7 76.8h0.6M234.1 78.6h0.6M236.1 78.1h0.6M224.6 76.5h0.6M234.8 73.4h0.6M229.4 78.1h0.6M236.7 78.7h0.6M223.6 79.0h0.6M249.1 85.0h0.6M267.6 76.7h0.6M240.0 68.8h0.6M249.7 77.3h0.6M243.1 68.7h0.6M255.5 70.8h0.6M242.5 83.2h0.6M226.2 79.4h0.6M281.0 75.9h0.6M225.8 76.3h0.6M252.1 77.6h0.6M256.8 68.3h0.6M227.6 79.3h0.6M235.8 76.6h0.6M237.3 85.9h0.6M243.4 72.6h0.6M256.2 83.8h0.6M227.6 76.0h0.6M238.9 82.7h0.6M258.4 72.8h0.6M260.6 81.9h0.6M262.2 75.9h0.6M256.7 73.5h0.6M238.5 77.4h0.6M229.8 79.5h0.6M263.9 80.0h0.6M239.8 85.4h0.6M255.3 82.8h0.6M230.2 69.5h0.6M225.5 76.9h0.6M248.5 67.1h0.6M276.1 76.7h0.6M234.8 80.5h0.6M227.7 74.2h0.6M250.1 71.5h0.6M248.4 78.9h0.6M234.9 76.9h0.6M226.7 82.2h0.6M274.2 79.2h0.6M236.1 80.2h0.6M271.6 84.9h0.6M226.5 76.6h0.6M246.4 78.1h0.6M231.9 74.5h0.6M238.2 79.2h0.6M249.9 83.9h0.6M237.7 84.0h0.6M254.9 77.9h0.6M246.1 74.3h0.6M232.7 75.2h0.6M227.7 74.0h0.6M230.5 78.4h0.6M257.4 85.7h0.6M229.3 70.7h0.6M223.7 73.5h0.6M255.9 86.1h0.6M261.4 69.8h0.6M228.2 78.9h0.6M252.6 71.0h0.6M233.3 80.9h0.6M228.9 80.3h0.6M250.4 79.1h0.6M229.6 80.6h0.6M252.2 78.4h0.6M240.0 80.7h0.6M228.2 83.3h0.6M259.7 84.0h0.6M232.6 75.7h0.6M237.0 74.6h0.6M251.6 76.8h0.6M264.8 77.0h0.6M234.7 78.3h0.6M241.6 75.1h0.6M230.6 80.2h0.6M225.9 78.1h0.6M247.3 80.1h0.6M252.0 78.2h0.6M267.2 80.9h0.6M239.2 72.6h0.6M231.1 83.4h0.6M233.3 79.3h0.6M246.1 80.6h0.6M224.6 79.4h0.6M250.1 84.2h0.6M240.4 81.6h0.6M243.4 79.4h0.6M226.4 77.5h0.6M237.3 71.0h0.6M249.7 79.4h0.6M252.7 76.4h0.6M243.5 76.5h0.6M254.9 92.1h0.6M239.7 69.5h0.6M228.3 78.2h0.6M231.6 82.2h0.6M266.8 82.5h0.6M249.2 85.1h0.6M231.7 73.7h0.6M256.3 72.8h0.6M222.4 79.0h0.6M247.4 76.6h0.6M243.8 87.2h0.6M275.3 78.9h0.6M255.8 79.4h0.6M228.8 79.4h0.6M222.1 77.5h0.6M250.3 78.9h0.6M256.7 74.5h0.6M236.5 78.0h0.6M239.6 75.9h0.6M229.8 78.9h0.6M254.7 70.1h0.6M242.9 70.6h0.6M255.5 80.9h0.6M238.0 79.2h0.6M232.1 74.7h0.6M234.0 77.2h0.6M284.8 74.9h0.6M267.6 87.3h0.6M261.8 70.2h0.6M268.0 85.7h0.6M239.7 74.4h0.6M242.3 80.3h0.6M227.5 77.3h0.6M254.6 76.1h0.6M266.1 82.6h0.6M237.2 81.7h0.6M283.5 77.2h0.6M230.9 75.0h0.6M240.7 88.2h0.6M245.1 85.9h0.6M264.7 78.9h0.6M268.4 76.9h0.6M232.8 79.2h0.6M260.1 78.7h0.6M235.2 83.0h0.6M257.2 72.9h0.6M239.8 78.3h0.6M259.2 74.1h0.6M238.8 84.1h0.6M259.4 87.9h0.6M233.0 77.8h0.6M246.2 81.2h0.6M254.5 86.4h0.6M243.6 76.7h0.6M234.9 74.4h0.6M278.1 81.6h0.6M237.6 80.4h0.6M264.2 77.2h0.6M239.3 84.9h0.6M250.8 79.6h0.6M248.3 68.5h0.6M238.3 79.7h0.6M243.6 78.0h0.6M228.6 83.7h0.6M239.6 78.1h0.6M241.2 77.2h0.6M243.6 80.5h0.6M232.7 79.0h0.6M234.0 72.8h0.6M224.4 78.3h0.6M262.8 76.6h0.6M234.2 83.6h0.6M230.4 85.9h0.6M223.1 75.9h0.6M234.4 74.4h0.6M260.1 73.8h0.6M279.3 75.9h0.6M223.8 76.6h0.6M277.3 78.3h0.6M234.5 82.4h0.6M230.0 73.9h0.6M241.9 70.6h0.6M240.2 69.5h0.6M259.4 84.2h0.6M239.7 84.4h0.6M239.3 71.2h0.6M243.2 69.9h0.6M252.2 79.1h0.6M268.7 82.9h0.6M244.2 83.7h0.6M253.4 79.4h0.6M260.5 81.9h0.6M254.4 80.2h0.6M244.9 75.3h0.6M232.9 85.1h0.6M235.8 78.2h0.6M233.7 73.9h0.6M277.0 76.5h0.6M226.1 74.1h0.6M264.1 78.3h0.6M265.8 83.4h0.6M250.7 71.2h0.6M236.2 82.9h0.6M244.4 89.4h0.6M250.7 80.5h0.6M244.4 72.1h0.6M226.1 75.8h0.6M232.9 76.9h0.6M239.3 72.3h0.6M232.2 73.7h0.6M248.2 76.9h0.6M243.7 77.4h0.6M282.6 80.0h0.6M237.8 73.0h0.6M240.4 87.2h0.6M278.0 81.7h0.6M259.5 83.1h0.6M231.2 75.9h0.6M256.3 88.2h0.6M232.3 76.9h0.6M250.8 88.6h0.6M239.9 83.3h0.6M261.3 73.7h0.6M254.1 75.7h0.6M275.8 84.6h0.6M236.6 82.4h0.6M245.1 77.5h0.6M255.6 79.5h0.6M239.2 79.1h0.6M236.1 75.0h0.6M248.8 77.2h0.6M258.4 74.7h0.6M253.9 75.9h0.6M233.3 79.9h0.6M247.8 73.0h0.6M245.7 82.3h0.6M271.3 78.6h0.6M234.6 81.2h0.6M238.9 82.3h0.6M279.6 82.2h0.6M239.5 81.2h0.6M232.3 80.7h0.6M237.7 77.4h0.6M237.1 80.7h0.6M236.9 74.4h0.6M276.3 77.3h0.6M234.6 81.1h0.6M227.7 77.9h0.6M269.9 80.1h0.6M247.0 72.5h0.6M252.6 86.2h0.6M247.2 75.2h0.6M251.9 80.6h0.6M255.2 78.2h0.6M248.0 83.5h0.6M227.3 77.0h0.6M244.6 72.9h0.6M232.0 71.4h0.6M248.7 76.6h0.6M244.9 71.9h0.6M272.8 80.2h0.6M232.6 83.4h0.6M231.8 70.3h0.6M231.4 73.7h0.6M253.4 80.1h0.6M230.8 82.2h0.6M231.4 79.2h0.6M256.1 80.2h0.6M229.7 79.7h0.6M226.9 79.6h0.6M231.3 83.8h0.6M245.1 81.6h0.6M228.3 74.4h0.6M243.6 75.8h0.6M234.0 79.0h0.6M259.7 74.0h0.6M240.3 77.0h0.6M283.7 76.5h0.6M241.6 74.8h0.6M232.9 80.7h0.6M244.1 76.2h0.6M239.9 73.1h0.6M235.8 75.2h0.6M269.0 78.4h0.6M263.2 88.8h0.6M263.6 79.6h0.6M231.7 83.3h0.6M235.9 80.2h0.6M229.6 71.3h0.6M264.4 80.1h0.6M283.7 75.5h0.6M237.8 72.2h0.6M242.2 72.9h0.6M237.7 86.1h0.6M249.2 69.5h0.6M245.6 74.9h0.6M248.4 84.8h0.6M252.0 82.1h0.6M245.6 69.0h0.6M239.9 77.7h0.6M269.5 76.0h0.6M250.6 77.2h0.6M233.5 81.0h0.6M273.0 76.0h0.6M242.4 76.6h0.6M260.2 86.0h0.6M242.4 68.9h0.6M281.7 76.9h0.6M281.8 79.6h0.6M244.1 71.7h0.6M241.3 75.1h0.6M239.3 72.1h0.6M252.3 79.2h0.6M253.4 74.7h0.6M225.0 79.9h0.6M232.0 81.7h0.6M272.4 78.3h0.6M246.4 76.2h0.6M224.5 78.6h0.6M243.8 78.6h0.6M233.6 73.5h0.6M237.6 82.9h0.6M231.5 78.9h0.6M237.7 81.7h0.6M230.4 73.6h0.6M236.4 81.9h0.6M232.6 85.8h0.6M259.5 81.6h0.6M238.3 71.7h0.6M246.8 78.5h0.6M234.8 77.9h0.6M256.8 79.5h0.6M246.4 77.0h0.6M236.6 80.3h0.6M263.7 75.9h0.6M240.3 79.3h0.6M246.9 74.5h0.6M245.7 78.8h0.6M246.1 83.7h0.6M270.1 76.1h0.6M246.5 82.0h0.6M237.4 74.3h0.6M229.6 76.9h0.6M282.2 77.3h0.6M270.0 83.4h0.6M276.7 75.5h0.6M242.4 84.4h0.6M230.1 73.3h0.6M248.0 77.4h0.6M232.0 81.3h0.6M236.7 81.1h0.6M268.6 73.8h0.6M236.1 73.0h0.6M229.2 80.8h0.6M244.7 71.4h0.6M225.8 79.5h0.6M252.5 75.3h0.6M231.5 78.1h0.6M271.1 87.5h0.6M227.9 82.5h0.6M229.1 80.7h0.6M236.8 72.2h0.6M228.8 79.0h0.6M240.9 78.5h0.6M252.0 77.7h0.6M239.6 84.5h0.6M250.9 68.5h0.6M245.7 80.0h0.6M242.5 78.9h0.6M231.6 75.5h0.6M238.8 86.1h0.6M261.3 71.6h0.6M260.0 78.4h0.6M253.3 78.7h0.6M232.7 70.1h0.6M268.3 71.8h0.6M233.7 74.4h0.6M243.5 82.4h0.6M280.9 81.1h0.6M224.8 79.4h0.6M243.4 79.5h0.6M257.4 65.9h0.6M238.2 79.1h0.6M225.2 76.7h0.6M259.6 84.6h0.6M267.5 84.3h0.6M276.6 85.8h0.6M230.3 80.4h0.6M226.6 80.2h0.6M247.7 72.5h0.6M239.7 78.5h0.6M262.7 71.9h0.6M235.1 81.8h0.6M253.3 71.3h0.6M257.1 77.0h0.6M237.6 74.5h0.6M283.6 76.6h0.6M241.2 80.4h0.6M234.4 75.9h0.6M229.0 78.7h0.6M225.0 75.6h0.6M264.5 85.0h0.6M246.9 74.6h0.6M237.5 82.6h0.6M233.7 86.3h0.6M236.3 67.8h0.6M270.6 74.0h0.6M253.2 77.0h0.6M223.0 80.2h0.6M227.9 76.6h0.6M226.5 79.0h0.6M248.5 74.1h0.6M245.0 81.3h0.6M260.4 71.7h0.6M236.7 81.7h0.6M237.8 64.8h0.6M234.6 70.5h0.6M256.1 88.7h0.6M229.3 78.6h0.6M235.1 74.4h0.6M224.3 82.9h0.6M257.2 84.2h0.6M227.6 81.2h0.6M235.7 76.3h0.6M241.9 81.3h0.6M237.0 80.3h0.6M222.8 74.9h0.6M251.9 81.6h0.6M257.0 77.2h0.6M244.7 85.2h0.6M236.9 83.8h0.6M241.6 74.9h0.6M232.5 75.8h0.6M231.1 78.7h0.6M258.8 81.8h0.6M284.8 76.8h0.6M264.4 77.6h0.6M243.2 81.4h0.6M284.8 79.3h0.6M235.8 83.0h0.6M253.6 79.6h0.6M225.2 75.8h0.6M259.7 68.6h0.6M242.6 82.3h0.6M271.1 76.7h0.6M221.9 77.4h0.6M249.9 76.5h0.6M242.2 70.1h0.6M240.0 76.2h0.6M247.3 63.6h0.6M238.7 76.3h0.6M257.8 73.1h0.6M229.0 83.7h0.6M251.6 80.8h0.6M266.7 77.1h0.6M230.9 78.6h0.6M242.4 81.9h0.6M234.2 75.1h0.6M253.2 76.8h0.6M252.4 76.1h0.6M248.8 92.3h0.6M225.7 78.2h0.6M259.1 67.3h0.6M258.7 82.6h0.6M232.9 87.8h0.6M284.0 75.0h0.6M241.6 95.7h0.6M249.5 77.8h0.6M226.9 80.8h0.6M251.9 74.9h0.6M229.7 77.1h0.6M226.8 74.6h0.6M245.4 72.3h0.6M271.8 69.4h0.6M234.4 82.6h0.6M230.8 74.1h0.6M267.5 79.8h0.6M263.0 79.8h0.6M243.0 74.7h0.6M248.9 78.4h0.6M231.1 77.7h0.6M228.8 76.5h0.6M228.0 78.1h0.6M238.6 78.3h0.6M258.2 72.4h0.6M238.8 72.0h0.6M243.8 73.6h0.6M256.1 78.9h0.6M223.7 80.9h0.6M261.8 85.9h0.6M249.1 79.9h0.6M230.8 81.2h0.6M239.9 78.7h0.6M227.1 81.1h0.6M253.6 78.9h0.6M243.6 80.2h0.6M240.1 76.7h0.6M228.8 78.0h0.6M250.4 89.1h0.6M251.9 71.1h0.6M254.6 78.2h0.6M226.8 76.3h0.6M238.4 82.5h0.6M236.8 86.0h0.6M259.7 76.4h0.6M257.5 62.2h0.6M251.2 81.7h0.6M260.1 81.5h0.6M244.2 68.9h0.6M239.7 76.9h0.6M242.7 77.7h0.6M229.6 70.5h0.6M248.2 82.0h0.6M247.6 80.6h0.6M266.8 79.2h0.6M249.6 72.0h0.6M229.3 75.7h0.6M243.9 74.7h0.6M244.4 80.7h0.6M255.0 72.2h0.6M244.9 86.3h0.6M236.7 79.7h0.6M245.2 65.9h0.6M245.9 87.6h0.6M231.0 78.5h0.6M233.1 75.9h0.6M245.0 78.7h0.6M263.7 68.7h0.6M246.2 79.2h0.6M242.9 65.0h0.6M251.4 72.1h0.6M244.3 85.5h0.6M226.9 81.5h0.6M236.3 76.5h0.6M267.6 73.5h0.6M245.3 83.3h0.6M230.4 77.8h0.6M245.8 79.3h0.6M241.5 81.2h0.6M232.1 74.0h0.6M254.4 82.8h0.6M267.8 68.3h0.6M255.0 86.9h0.6M230.5 72.6h0.6M245.9 74.5h0.6M233.2 75.4h0.6M237.9 81.3h0.6M255.2 82.5h0.6M226.6 78.9h0.6M261.5 80.9h0.6M279.6 79.5h0.6M257.9 77.6h0.6M238.9 68.9h0.6M283.2 70.5h0.6M249.9 64.6h0.6M225.9 77.8h0.6M232.0 77.1h0.6M248.8 77.2h0.6M245.8 79.3h0.6M253.1 76.6h0.6M251.8 72.1h0.6M233.6 72.0h0.6M237.7 69.3h0.6M249.2 85.1h0.6M263.5 82.7h0.6M271.6 72.4h0.6M256.1 76.4h0.6M241.2 80.2h0.6M236.1 84.9h0.6M228.8 76.0h0.6M242.9 78.9h0.6M249.0 84.7h0.6M235.1 70.7h0.6M226.1 75.9h0.6M224.3 77.8h0.6M224.9 76.1h0.6M275.5 85.6h0.6M280.0 80.9h0.6M261.7 79.0h0.6M254.6 72.2h0.6M252.6 83.2h0.6M228.3 79.8h0.6M242.9 75.2h0.6M245.6 75.5h0.6M237.5 71.3h0.6M227.5 77.7h0.6M248.4 83.0h0.6M264.6 83.0h0.6M252.1 81.4h0.6M228.2 80.4h0.6M280.4 75.9h0.6M266.6 75.7h0.6M227.8 81.5h0.6M237.8 80.0h0.6M238.3 74.2h0.6M238.5 80.3h0.6M245.1 82.6h0.6M250.4 82.1h0.6M241.9 78.5h0.6M261.6 75.2h0.6M239.5 79.9h0.6M235.5 85.1h0.6M225.3 78.2h0.6M248.0 74.1h0.6M253.7 80.0h0.6M268.4 72.3h0.6M249.1 79.3h0.6M248.5 76.2h0.6M223.8 79.9h0.6M235.9 78.4h0.6M239.2 83.0h0.6M257.6 91.2h0.6M240.3 76.8h0.6M225.9 75.6h0.6M224.9 79.0h0.6M239.1 77.5h0.6M244.7 78.7h0.6M229.1 76.0h0.6M234.7 80.2h0.6M235.4 78.2h0.6M281.6 70.7h0.6M238.8 76.8h0.6M240.5 79.6h0.6M252.3 84.9h0.6M221.0 77.0h0.6M265.3 73.9h0.6M244.3 84.3h0.6M254.6 74.3h0.6M225.2 78.1h0.6M265.2 80.3h0.6M257.4 82.2h0.6M242.6 78.0h0.6M272.1 73.4h0.6M261.2 83.4h0.6M242.8 75.6h0.6M224.7 76.6h0.6M261.9 88.6h0.6M243.7 82.7h0.6M279.4 74.3h0.6M244.6 75.2h0.6M227.1 77.2h0.6M245.1 73.7h0.6M245.2 67.1h0.6M251.7 82.6h0.6M256.2 82.5h0.6M243.5 79.2h0.6M225.7 76.8h0.6M228.7 78.5h0.6M244.2 81.4h0.6M244.6 72.1h0.6M266.0 76.3h0.6M246.0 74.8h0.6M264.2 81.4h0.6M248.0 79.4h0.6M238.1 71.9h0.6M242.6 74.7h0.6M242.3 87.1h0.6M246.7 72.4h0.6M263.3 78.7h0.6M239.8 74.8h0.6M247.7 85.0h0.6M235.2 77.6h0.6M251.6 75.3h0.6M223.3 75.5h0.6M234.6 76.9h0.6M236.3 81.5h0.6M240.7 81.2h0.6M237.5 71.9h0.6M263.4 85.9h0.6M257.4 76.5h0.6M231.3 74.1h0.6M247.7 78.6h0.6M275.6 75.6h0.6M235.5 75.4h0.6M239.0 74.9h0.6M253.4 77.3h0.6M227.9 76.4h0.6M242.4 69.0h0.6M271.2 80.0h0.6M232.0 75.9h0.6M269.1 83.1h0.6M229.6 79.6h0.6M254.5 81.6h0.6M242.4 78.8h0.6M239.5 84.1h0.6M255.4 75.9h0.6M279.9 74.5h0.6M256.9 79.9h0.6M269.7 66.1h0.6M266.1 76.1h0.6M264.0 78.9h0.6M269.7 76.0h0.6M247.4 85.0h0.6M252.5 82.0h0.6M228.3 78.2h0.6M226.9 76.7h0.6M240.2 83.2h0.6M245.7 74.0h0.6M240.1 75.8h0.6M242.4 81.7h0.6M268.2 80.5h0.6M250.9 89.7h0.6M226.1 77.2h0.6M261.0 67.7h0.6M260.3 81.4h0.6M246.0 84.9h0.6M249.9 76.9h0.6M237.5 84.8h0.6M254.2 88.5h0.6M238.0 74.8h0.6M243.8 75.2h0.6M264.2 71.5h0.6M247.3 80.9h0.6M246.3 81.9h0.6M279.8 79.9h0.6M241.7 71.5h0.6M268.2 74.4h0.6M250.6 69.5h0.6M237.9 70.5h0.6M239.0 71.5h0.6M256.8 68.7h0.6M233.6 77.1h0.6M230.7 79.3h0.6M278.1 80.0h0.6M263.0 77.7h0.6M249.9 73.9h0.6M228.0 77.8h0.6M269.3 80.3h0.6M227.8 76.9h0.6M264.1 78.1h0.6M241.8 76.2h0.6M246.5 74.9h0.6M239.6 78.0h0.6M233.8 73.4h0.6M239.3 82.8h0.6M256.7 68.7h0.6M224.5 78.9h0.6M228.4 73.7h0.6M259.8 86.1h0.6M250.7 82.8h0.6M229.9 75.1h0.6M232.4 76.1h0.6M244.3 71.6h0.6M247.2 77.5h0.6M250.0 80.2h0.6M249.4 92.5h0.6M259.5 70.3h0.6M225.5 81.0h0.6M249.2 74.5h0.6M237.3 79.0h0.6M236.2 81.6h0.6M240.3 80.5h0.6M272.2 79.5h0.6M240.2 76.8h0.6M245.4 77.8h0.6M244.0 78.6h0.6M247.8 84.6h0.6M279.1 72.8h0.6M263.5 75.3h0.6M247.8 70.7h0.6M246.2 72.4h0.6M233.5 74.7h0.6M251.9 84.2h0.6M229.8 84.8h0.6M234.5 83.3h0.6M247.0 71.1h0.6M234.9 78.1h0.6M228.1 74.4h0.6M243.0 80.1h0.6M231.7 82.3h0.6M255.5 81.3h0.6M248.5 82.8h0.6M229.0 77.3h0.6M251.9 66.3h0.6M258.4 66.7h0.6M248.3 77.2h0.6M241.7 80.7h0.6M238.4 83.7h0.6M247.8 75.8h0.6M246.0 78.2h0.6M240.5 79.1h0.6M230.2 81.3h0.6M237.5 77.5h0.6M256.0 71.4h0.6M251.0 84.1h0.6M250.7 80.2h0.6M247.3 80.0h0.6M233.1 73.0h0.6M246.1 77.8h0.6M264.8 69.3h0.6M244.5 66.8h0.6M223.1 77.3h0.6M234.2 76.1h0.6M225.1 79.2h0.6M232.7 83.2h0.6M238.4 77.6h0.6M233.1 84.6h0.6M226.5 76.2h0.6M240.9 81.6h0.6M272.9 72.9h0.6M233.3 78.3h0.6M252.8 75.9h0.6M248.6 76.6h0.6M236.2 80.3h0.6M258.9 67.3h0.6M238.5 78.3h0.6M234.1 74.6h0.6M235.1 78.3h0.6M249.1 80.0h0.6M264.5 75.9h0.6M234.7 76.3h0.6M245.5 71.4h0.6M233.2 79.9h0.6M232.4 75.3h0.6M225.2 78.9h0.6M251.2 69.5h0.6M236.3 83.7h0.6M241.4 72.7h0.6M251.2 84.5h0.6M227.9 76.5h0.6M229.8 79.6h0.6M253.0 77.0h0.6M231.0 80.1h0.6M231.6 77.8h0.6M263.6 84.2h0.6M243.3 81.4h0.6M271.5 80.6h0.6M276.6 83.7h0.6M227.7 75.8h0.6M247.9 85.2h0.6M263.1 78.2h0.6M250.9 69.3h0.6M238.5 80.0h0.6M230.7 77.1h0.6M257.1 87.5h0.6M227.6 76.4h0.6M226.1 77.9h0.6M232.2 78.7h0.6M244.3 67.4h0.6M272.7 79.8h0.6M239.6 73.1h0.6M262.6 85.1h0.6M231.6 83.7h0.6M237.2 77.8h0.6M238.2 70.6h0.6M234.3 78.5h0.6M267.8 78.6h0.6M227.3 79.8h0.6M267.2 76.4h0.6M248.6 71.0h0.6M256.6 77.0h0.6M233.3 74.3h0.6M255.9 88.2h0.6M225.5 76.0h0.6M241.6 74.5h0.6M249.3 77.5h0.6M233.9 72.9h0.6M227.6 76.5h0.6M232.2 77.3h0.6M238.5 75.5h0.6M237.0 76.7h0.6M223.9 80.5h0.6M255.4 80.4h0.6M228.2 73.8h0.6M248.0 75.4h0.6M233.5 80.7h0.6M225.8 76.1h0.6M259.3 78.2h0.6M239.9 77.7h0.6M250.1 80.8h0.6M250.7 76.8h0.6M248.3 77.0h0.6M233.2 74.5h0.6M251.2 79.9h0.6M260.8 72.8h0.6M233.9 84.6h0.6M230.1 77.7h0.6M234.9 76.9h0.6M264.4 81.7h0.6M241.7 77.4h0.6M274.1 78.1h0.6M237.2 77.6h0.6M243.5 73.9h0.6M275.5 74.5h0.6M281.2 75.5h0.6M256.7 84.3h0.6M229.7 75.8h0.6M243.6 75.6h0.6M242.4 75.5h0.6M230.4 80.1h0.6M269.0 86.5h0.6M250.3 72.5h0.6M232.0 79.8h0.6M229.4 78.2h0.6M246.9 76.1h0.6M225.6 79.1h0.6M261.8 71.1h0.6M236.7 81.4h0.6M228.5 78.5h0.6M253.2 72.0h0.6M232.1 83.6h0.6M241.1 82.0h0.6M246.0 84.3h0.6M231.2 72.7h0.6M250.3 76.2h0.6M270.8 75.6h0.6M264.2 80.9h0.6M242.2 84.7h0.6M258.1 67.1h0.6M230.1 77.9h0.6M240.6 77.2h0.6M265.5 82.6h0.6M230.4 77.7h0.6M246.4 70.7h0.6M258.9 76.7h0.6M245.3 72.1h0.6M283.9 75.4h0.6M237.7 78.0h0.6M235.9 75.8h0.6M227.5 78.6h0.6M247.2 69.3h0.6M245.4 90.7h0.6M232.7 82.5h0.6M250.1 81.9h0.6M278.6 73.4h0.6M236.1 68.6h0.6M271.6 74.3h0.6M256.9 76.5h0.6M240.7 88.7h0.6M223.4 80.4h0.6M241.2 75.2h0.6M232.9 82.3h0.6M248.8 84.7h0.6M235.8 77.9h0.6M240.1 83.7h0.6M233.5 79.1h0.6M235.4 75.1h0.6M250.3 71.1h0.6M225.1 77.5h0.6M267.0 82.4h0.6M254.0 69.8h0.6M224.6 74.0h0.6M248.2 80.9h0.6M237.6 65.7h0.6M234.9 85.2h0.6M239.8 75.7h0.6M240.7 81.4h0.6M232.3 84.6h0.6M236.1 71.6h0.6M264.4 72.6h0.6M226.5 83.8h0.6M260.2 76.3h0.6M232.6 77.3h0.6M251.6 79.1h0.6M227.7 80.9h0.6M232.4 82.7h0.6M239.2 78.3h0.6M223.6 77.1h0.6M227.9 77.7h0.6M276.7 78.9h0.6M257.9 85.2h0.6M261.3 78.5h0.6M253.8 88.5h0.6M235.0 74.3h0.6M283.1 79.5h0.6M229.3 83.4h0.6M242.5 84.5h0.6M240.9 79.4h0.6M241.9 73.3h0.6M260.9 74.0h0.6M243.0 77.0h0.6M245.0 79.5h0.6M243.1 76.5h0.6M228.2 73.5h0.6M282.5 75.4h0.6M227.4 79.3h0.6M238.3 81.6h0.6M239.8 71.1h0.6M249.5 75.7h0.6M254.1 67.9h0.6M224.2 76.5h0.6M245.9 97.5h0.6M230.5 78.0h0.6M251.2 75.8h0.6M224.3 76.5h0.6M247.2 71.0h0.6M222.9 74.3h0.6M228.0 77.7h0.6M241.5 76.4h0.6M254.6 86.5h0.6M258.5 68.7h0.6M249.8 80.3h0.6M234.6 83.2h0.6M247.5 66.8h0.6M241.8 81.1h0.6M235.5 71.1h0.6M263.9 80.4h0.6M245.0 86.0h0.6M244.8 77.8h0.6M258.2 79.4h0.6M235.8 74.9h0.6M241.6 79.3h0.6M228.8 81.3h0.6M231.6 77.2h0.6M227.3 77.4h0.6M229.3 79.0h0.6M230.4 80.6h0.6M240.7 69.8h0.6M252.0 78.1h0.6M235.0 75.0h0.6M244.4 80.5h0.6M234.0 81.9h0.6M238.5 79.2h0.6M236.9 83.4h0.6M280.3 74.5h0.6M246.5 75.5h0.6M226.8 75.1h0.6M248.7 78.1h0.6M231.5 78.1h0.6M241.2 76.8h0.6M255.7 70.7h0.6M245.7 77.4h0.6M230.3 76.4h0.6M226.2 79.4h0.6M234.2 76.7h0.6M247.5 84.4h0.6M234.0 78.7h0.6M234.0 70.5h0.6M242.7 76.9h0.6M261.3 70.2h0.6M222.3 79.5h0.6M229.9 82.5h0.6M227.7 77.7h0.6M236.0 79.7h0.6M258.7 69.8h0.6M251.6 64.8h0.6M244.7 74.8h0.6M253.9 76.3h0.6M240.9 70.3h0.6M244.3 78.3h0.6M281.6 78.8h0.6M256.8 81.5h0.6M267.6 84.9h0.6M228.6 80.3h0.6M228.6 76.7h0.6M270.6 78.2h0.6M240.1 80.7h0.6M270.0 73.4h0.6M232.5 82.7h0.6M253.9 83.1h0.6M254.2 76.5h0.6M234.5 75.2h0.6M247.2 99.2h0.6M234.9 81.2h0.6M238.8 82.2h0.6M242.1 87.0h0.6M243.9 83.1h0.6M230.2 78.5h0.6M227.6 79.8h0.6M246.3 72.7h0.6M234.7 80.7h0.6M271.8 71.7h0.6M236.9 79.7h0.6M236.9 80.3h0.6M236.3 71.1h0.6M242.7 87.8h0.6M233.0 73.5h0.6M252.3 83.9h0.6M246.8 74.9h0.6M230.2 78.9h0.6M248.0 74.1h0.6M235.8 88.3h0.6M250.6 83.8h0.6M229.6 83.6h0.6M259.8 82.1h0.6M263.3 81.4h0.6M231.9 78.4h0.6M242.1 76.7h0.6M254.6 81.5h0.6M227.7 78.3h0.6M244.5 77.1h0.6M248.3 70.1h0.6M228.8 76.9h0.6M232.3 80.1h0.6M270.4 75.9h0.6M249.5 79.9h0.6M238.5 77.2h0.6M230.1 74.5h0.6M254.4 72.6h0.6M235.1 74.8h0.6M248.7 76.3h0.6M265.0 76.6h0.6M246.6 84.2h0.6M277.6 74.1h0.6M249.3 66.3h0.6M231.5 80.3h0.6M247.2 75.4h0.6M238.5 77.4h0.6M246.3 92.2h0.6M239.8 84.9h0.6M242.5 81.0h0.6M235.2 81.8h0.6M237.7 78.4h0.6M246.9 83.3h0.6M239.4 75.0h0.6M264.1 74.4h0.6M258.7 75.3h0.6M237.6 85.0h0.6M229.2 82.8h0.6M271.1 75.4h0.6M237.4 83.1h0.6M228.9 77.4h0.6M233.3 82.0h0.6M239.0 76.5h0.6M272.4 81.7h0.6M259.1 77.4h0.6M245.0 76.4h0.6M228.1 77.8h0.6M238.1 78.7h0.6M234.9 75.6h0.6M276.1 73.1h0.6M240.7 86.3h0.6M252.4 75.7h0.6M233.5 70.9h0.6M246.1 65.3h0.6M232.0 67.8h0.6M251.6 74.4h0.6M223.6 80.7h0.6M268.4 70.6h0.6M246.6 76.2h0.6M258.1 67.6h0.6M228.6 81.3h0.6M228.5 79.0h0.6M246.4 79.8h0.6M228.4 82.0h0.6M238.3 85.5h0.6M248.7 83.9h0.6M226.8 76.3h0.6M240.8 71.4h0.6M250.9 72.0h0.6M230.5 72.0h0.6M260.7 87.7h0.6M240.2 77.1h0.6M228.9 78.3h0.6M233.9 78.7h0.6M231.9 85.2h0.6M241.9 75.1h0.6M254.5 85.1h0.6M242.7 79.6h0.6M247.9 77.2h0.6M242.5 68.0h0.6M252.7 83.4h0.6M265.5 74.4h0.6M226.2 76.7h0.6M245.2 79.3h0.6M240.1 78.5h0.6M275.0 82.0h0.6M263.4 74.6h0.6M228.0 78.4h0.6M235.3 79.1h0.6M224.8 78.0h0.6M249.7 81.9h0.6M247.2 76.6h0.6M238.2 83.5h0.6M226.5 76.0h0.6M250.2 69.7h0.6M231.3 77.8h0.6M254.5 85.1h0.6M231.8 76.1h0.6M273.6 75.6h0.6M273.1 76.6h0.6M224.6 78.3h0.6M263.0 77.1h0.6M266.6 79.5h0.6M233.2 71.4h0.6M242.2 85.8h0.6M236.2 80.5h0.6M259.1 73.3h0.6M229.4 82.3h0.6M228.1 79.3h0.6M252.2 86.7h0.6M230.3 74.0h0.6M257.4 87.5h0.6M237.7 78.2h0.6M250.8 66.1h0.6M260.7 82.1h0.6M246.2 76.3h0.6M262.5 72.7h0.6M230.3 77.2h0.6M229.2 71.8h0.6M246.1 81.3h0.6M229.6 77.2h0.6M242.4 76.6h0.6M252.6 86.3h0.6M242.7 78.2h0.6M250.0 74.2h0.6M247.9 72.6h0.6M222.2 77.8h0.6M239.4 83.1h0.6M236.1 75.5h0.6M273.0 73.9h0.6M269.9 81.9h0.6M235.3 78.2h0.6M261.2 77.9h0.6M239.2 87.9h0.6M254.8 70.8h0.6M228.2 78.5h0.6M255.8 67.6h0.6M257.1 76.3h0.6M226.9 79.6h0.6M251.1 84.6h0.6M272.2 72.9h0.6M241.8 82.3h0.6M267.4 81.6h0.6M231.3 77.5h0.6M230.2 86.1h0.6M228.0 77.9h0.6M260.5 73.3h0.6M223.3 78.7h0.6M256.4 67.2h0.6M239.3 85.4h0.6M259.5 83.5h0.6M247.3 75.8h0.6M242.8 81.2h0.6M255.9 81.2h0.6M262.8 88.0h0.6M266.8 75.1h0.6M265.0 71.6h0.6M258.7 66.6h0.6M235.3 76.7h0.6M240.2 70.4h0.6M226.0 77.5h0.6M239.1 79.9h0.6M239.9 75.9h0.6M271.9 74.2h0.6M229.2 81.7h0.6M225.7 77.4h0.6M233.6 78.9h0.6M246.9 83.4h0.6M228.2 74.0h0.6M227.8 75.2h0.6M228.5 85.5h0.6M269.6 77.3h0.6M234.2 73.8h0.6M238.2 76.8h0.6M229.0 76.1h0.6M252.8 70.8h0.6M237.5 76.1h0.6M242.7 77.9h0.6M233.4 77.9h0.6M234.7 80.2h0.6M267.7 70.0h0.6M235.0 71.8h0.6M255.0 82.7h0.6M236.5 76.1h0.6M229.5 81.8h0.6M248.2 79.8h0.6M231.3 73.0h0.6M243.7 80.9h0.6M263.5 72.8h0.6M238.7 79.2h0.6M233.6 82.7h0.6M264.8 88.5h0.6M240.7 77.7h0.6M233.2 80.6h0.6M242.6 79.6h0.6M255.9 82.7h0.6M253.6 63.0h0.6M249.0 75.8h0.6M251.9 79.7h0.6M241.7 80.4h0.6" stroke="#444" stroke-opacity="0.28" stroke-width="0.6" fill="none"/>
<path d="M220.8 76.8 Q221 75.9 224 75.8 L240 75.6 Q252 75.7 258 76.5 Q262 77.6 262.5 78.2 Q262 79.1 258 79.9 Q252 80.6 240 80.7 L224 80.7 Q221 80.6 220.8 79.8 Z" fill="#4a3838" opacity="0.9" filter="url(#b05)"/>
</g>
<g clip-path="url(#cp2)">
<path d="M294 78.3 L310 69 L325 62 L345 60 L352 72 L350 86 L335 92 L320 92 L310 87 Z" fill="#7a7a7a" opacity="0.55" filter="url(#b2)"/>
<path d="M296 78.3 L310 72 L325 66.5 L340 67 L342 80 L332 86 L318 86 L308 83 Z" fill="#3c3c3c" opacity="0.6" filter="url(#b2)"/>
<path d="M346.3 66.9h0.6M343.8 63.5h0.6M354.2 93.7h0.6M339.8 89.5h0.6M325.0 73.5h0.6M353.4 89.5h0.6M323.7 64.4h0.6M344.1 82.6h0.6M313.0 81.0h0.6M316.9 72.3h0.6M336.8 73.9h0.6M318.0 71.0h0.6M350.7 77.6h0.6M331.7 87.2h0.6M354.3 83.7h0.6M336.6 80.6h0.6M335.2 86.0h0.6M331.2 64.0h0.6M311.3 87.0h0.6M321.7 77.0h0.6M352.6 68.7h0.6M340.9 74.5h0.6M345.9 72.6h0.6M325.7 78.0h0.6M311.8 78.9h0.6M347.3 60.6h0.6M325.8 86.4h0.6M346.4 89.9h0.6M301.4 74.8h0.6M321.8 87.5h0.6M339.4 86.9h0.6M354.4 83.8h0.6M311.7 85.3h0.6M357.1 68.9h0.6M340.7 82.8h0.6M311.6 72.4h0.6M296.2 80.0h0.6M354.3 71.1h0.6M340.8 68.0h0.6M343.3 85.8h0.6M325.6 81.8h0.6M303.1 77.4h0.6M329.5 78.3h0.6M339.0 82.0h0.6M316.9 87.6h0.6M355.9 72.9h0.6M346.1 73.2h0.6M296.6 76.6h0.6M318.1 76.9h0.6M352.9 77.4h0.6M344.7 67.7h0.6M347.7 79.5h0.6M310.8 71.4h0.6M351.8 75.2h0.6M339.8 75.4h0.6M325.0 75.6h0.6M341.2 88.6h0.6M314.7 86.4h0.6M352.7 84.4h0.6M302.4 81.6h0.6M316.3 75.6h0.6M343.1 87.9h0.6M325.9 76.9h0.6M351.9 78.8h0.6M349.0 79.2h0.6M341.0 67.2h0.6M322.3 73.0h0.6M327.1 76.1h0.6M320.4 79.7h0.6M319.2 76.5h0.6M295.9 76.4h0.6M315.7 70.7h0.6M341.9 77.4h0.6M333.2 68.2h0.6M320.4 69.5h0.6M320.1 76.6h0.6M310.2 78.1h0.6M302.2 75.1h0.6M308.4 69.9h0.6M337.8 79.5h0.6M354.4 82.5h0.6M341.4 74.2h0.6M321.3 74.7h0.6M334.4 59.3h0.6M306.8 80.7h0.6M302.7 74.3h0.6M301.0 79.0h0.6M334.6 72.7h0.6M335.7 76.2h0.6M308.4 76.5h0.6M355.0 65.9h0.6M307.3 88.0h0.6M331.3 65.5h0.6M339.3 78.1h0.6M298.0 76.0h0.6M316.5 75.9h0.6M332.7 87.8h0.6M340.9 63.1h0.6M341.1 76.2h0.6M340.0 81.1h0.6M301.9 77.6h0.6M300.5 78.2h0.6M350.7 72.2h0.6M307.8 70.7h0.6M322.4 68.1h0.6M349.7 74.5h0.6M299.3 78.7h0.6M350.6 77.9h0.6M339.6 89.6h0.6M324.0 78.0h0.6M314.4 78.4h0.6M332.0 78.8h0.6M348.8 65.1h0.6M311.8 80.2h0.6M314.9 71.1h0.6M330.7 74.4h0.6M348.1 94.0h0.6M325.8 68.4h0.6M325.4 78.2h0.6M356.1 79.1h0.6M332.8 78.3h0.6M346.8 77.3h0.6M340.6 73.0h0.6M333.6 92.7h0.6M326.8 62.7h0.6M339.6 69.4h0.6M349.3 87.7h0.6M307.6 79.5h0.6M316.4 72.8h0.6M312.4 72.7h0.6M348.1 75.5h0.6M320.0 94.7h0.6M327.7 80.9h0.6M331.6 69.5h0.6M355.8 78.8h0.6M294.7 76.8h0.6M310.6 84.3h0.6M351.2 79.3h0.6M328.2 86.6h0.6M322.7 78.4h0.6M355.1 90.2h0.6M304.7 78.6h0.6M296.3 77.6h0.6M353.2 70.6h0.6M348.6 74.3h0.6M333.0 80.3h0.6M316.2 74.4h0.6M346.3 95.6h0.6M308.6 77.3h0.6M326.4 71.8h0.6M309.6 81.7h0.6M325.2 73.5h0.6M295.0 77.6h0.6M328.3 76.6h0.6M327.9 72.0h0.6M357.1 85.8h0.6M323.5 77.9h0.6M332.6 85.6h0.6M308.1 75.9h0.6M317.3 68.7h0.6M313.7 70.7h0.6M356.6 74.1h0.6M306.3 76.6h0.6M338.9 77.7h0.6M349.2 80.9h0.6M355.0 69.4h0.6M342.4 79.0h0.6M310.3 71.7h0.6M353.9 72.9h0.6M331.7 96.8h0.6M332.4 87.0h0.6M352.4 74.9h0.6M296.4 79.4h0.6M343.2 88.0h0.6M345.4 83.9h0.6M340.5 88.5h0.6M311.2 76.1h0.6M353.5 76.5h0.6M314.4 72.6h0.6M320.0 81.1h0.6M349.4 68.5h0.6M353.9 74.0h0.6M316.0 80.0h0.6M329.5 73.5h0.6M350.2 79.7h0.6M333.0 91.3h0.6M313.6 72.1h0.6M323.0 87.2h0.6M338.3 72.0h0.6M343.4 70.2h0.6M319.0 78.7h0.6M310.9 82.2h0.6M346.5 72.1h0.6M318.7 72.7h0.6M314.8 74.9h0.6M317.7 72.9h0.6M313.8 78.3h0.6M306.8 74.6h0.6M323.9 75.5h0.6M310.8 79.0h0.6M339.2 74.1h0.6M304.4 81.0h0.6M322.1 72.6h0.6M355.3 72.4h0.6M328.3 92.4h0.6M352.4 87.3h0.6M313.6 77.7h0.6M346.8 83.4h0.6M303.0 78.3h0.6M355.5 74.1h0.6M356.0 81.5h0.6M341.7 79.6h0.6M311.9 83.7h0.6M345.3 63.5h0.6M347.8 83.1h0.6M339.6 78.6h0.6M346.3 72.2h0.6M315.4 74.9h0.6M346.5 74.3h0.6M313.4 70.3h0.6M331.1 73.0h0.6M324.5 82.9h0.6M312.6 69.5h0.6M315.6 75.1h0.6M352.0 61.5h0.6M300.9 76.0h0.6M330.3 80.2h0.6M329.7 76.9h0.6M305.0 77.4h0.6M302.8 74.2h0.6M327.0 81.5h0.6M322.2 71.0h0.6M315.7 82.5h0.6M315.5 78.5h0.6M313.7 75.3h0.6M338.7 88.7h0.6M356.8 74.9h0.6M318.9 83.8h0.6M324.7 78.1h0.6M342.0 77.3h0.6M318.9 83.7h0.6M306.3 78.9h0.6M339.3 77.2h0.6M321.9 76.5h0.6M294.7 77.5h0.6M320.3 77.9h0.6M351.7 75.1h0.6M300.1 75.1h0.6M352.4 60.1h0.6M337.3 76.4h0.6M349.3 75.6h0.6M334.3 86.7h0.6M342.7 80.7h0.6M352.1 84.9h0.6M309.6 85.0h0.6M305.0 76.9h0.6M334.9 70.8h0.6M329.5 83.4h0.6M332.0 72.8h0.6M322.3 75.5h0.6M357.0 86.1h0.6M336.8 81.6h0.6M337.1 85.8h0.6M297.7 75.2h0.6M316.9 77.5h0.6M317.3 84.1h0.6M357.6 69.6h0.6M307.1 78.1h0.6M331.1 80.4h0.6M343.8 59.9h0.6M337.7 89.6h0.6M345.5 72.0h0.6M322.4 76.3h0.6M309.0 84.5h0.6M313.6 67.8h0.6M333.6 80.9h0.6M331.9 73.9h0.6M325.1 77.6h0.6M353.8 72.0h0.6M324.8 87.1h0.6M312.5 71.6h0.6M336.6 80.1h0.6M335.5 81.5h0.6M346.7 76.6h0.6M334.2 75.2h0.6M295.3 77.1h0.6M329.8 85.0h0.6M310.5 79.4h0.6M314.1 76.9h0.6M345.9 69.3h0.6M356.1 78.3h0.6M351.4 80.9h0.6M314.1 77.1h0.6M326.3 87.8h0.6M350.8 64.3h0.6M349.7 94.7h0.6M300.6 76.9h0.6M317.0 70.5h0.6M336.1 63.8h0.6M311.4 81.5h0.6M296.8 78.1h0.6M313.1 76.2h0.6M333.2 77.0h0.6M342.9 78.6h0.6M344.2 74.1h0.6M334.6 86.3h0.6M336.5 82.2h0.6M332.0 76.4h0.6M347.2 65.5h0.6M339.4 87.8h0.6M341.2 73.7h0.6M353.0 70.5h0.6M305.5 81.8h0.6M298.7 78.2h0.6M332.6 61.9h0.6M327.6 65.1h0.6M353.3 74.7h0.6M319.0 69.3h0.6M340.8 76.2h0.6M341.9 97.2h0.6M314.3 93.6h0.6M295.4 77.3h0.6M325.9 83.1h0.6M311.8 81.7h0.6M311.0 76.8h0.6M328.4 66.4h0.6M310.2 82.2h0.6M334.2 76.0h0.6M337.4 80.9h0.6M329.0 82.6h0.6M334.5 71.1h0.6M311.5 85.6h0.6M335.1 78.0h0.6M350.4 78.9h0.6M350.1 74.4h0.6M305.0 79.7h0.6M320.0 84.0h0.6M343.1 73.2h0.6M336.0 81.9h0.6M323.9 74.3h0.6M349.3 68.7h0.6M352.6 75.2h0.6M334.4 82.1h0.6M315.1 80.5h0.6M356.1 84.1h0.6M329.6 72.3h0.6M321.4 75.3h0.6M306.3 77.6h0.6M355.0 81.3h0.6M341.6 76.5h0.6M301.7 74.9h0.6M310.3 70.2h0.6M354.1 85.0h0.6M302.1 80.1h0.6M340.8 72.3h0.6M334.8 88.9h0.6M330.8 76.9h0.6M341.6 80.9h0.6M320.8 85.9h0.6M338.0 73.7h0.6M351.6 72.1h0.6M335.0 63.8h0.6M332.2 79.7h0.6M337.2 80.9h0.6M310.7 81.4h0.6M320.6 81.5h0.6M343.0 78.2h0.6M334.7 86.4h0.6M305.6 73.8h0.6M351.1 80.1h0.6M325.4 81.1h0.6M314.9 76.7h0.6M308.0 84.4h0.6M354.1 80.2h0.6M343.8 87.6h0.6M319.0 83.2h0.6M311.1 76.5h0.6M350.3 90.8h0.6M307.8 81.8h0.6M332.0 77.6h0.6M340.4 76.5h0.6M354.8 70.8h0.6M341.4 76.3h0.6M304.8 76.6h0.6M331.9 79.0h0.6M353.4 74.6h0.6M316.5 80.8h0.6M303.2 77.1h0.6M300.6 73.8h0.6M349.4 73.9h0.6M354.6 71.6h0.6M328.5 68.0h0.6M318.8 75.8h0.6M324.6 84.0h0.6M310.1 72.3h0.6M327.0 62.7h0.6M329.1 76.2h0.6M332.7 100.4h0.6M304.6 75.5h0.6M356.7 79.1h0.6M338.0 74.3h0.6M335.0 84.2h0.6M349.0 87.6h0.6M299.7 77.0h0.6M335.8 86.7h0.6M322.9 69.8h0.6M338.8 79.1h0.6M354.8 69.3h0.6M301.6 77.8h0.6M309.7 74.6h0.6M321.7 79.1h0.6M332.7 68.8h0.6M349.0 79.1h0.6M344.0 78.3h0.6M333.6 73.0h0.6M311.2 73.5h0.6M331.0 68.5h0.6M327.2 74.5h0.6M305.2 78.7h0.6M353.6 76.6h0.6M349.7 78.5h0.6M337.3 87.3h0.6M314.9 75.6h0.6M335.2 79.8h0.6M319.9 82.9h0.6M339.2 81.4h0.6M298.6 78.0h0.6M336.7 78.1h0.6M334.2 92.5h0.6M354.1 77.0h0.6M334.9 74.5h0.6M346.6 81.8h0.6M313.2 86.0h0.6M333.8 88.5h0.6M320.0 77.7h0.6M357.3 82.5h0.6M355.8 80.6h0.6M314.8 77.9h0.6M337.9 82.5h0.6M301.7 78.9h0.6M333.6 78.6h0.6M357.2 88.0h0.6M307.3 75.9h0.6M343.7 88.0h0.6M331.7 93.5h0.6M357.7 90.3h0.6M325.3 79.5h0.6M349.0 76.2h0.6M336.3 65.1h0.6M347.5 77.1h0.6M350.3 94.4h0.6M339.2 65.4h0.6M321.6 66.7h0.6M336.3 84.0h0.6M347.0 82.0h0.6M348.6 64.5h0.6M338.3 77.1h0.6M328.1 80.0h0.6M302.8 73.1h0.6M305.4 80.7h0.6M339.1 67.3h0.6M324.5 85.6h0.6M340.8 79.0h0.6M332.0 72.2h0.6M324.7 65.9h0.6M312.0 75.7h0.6M350.1 76.8h0.6M316.6 76.7h0.6M338.3 72.9h0.6M304.3 76.7h0.6M356.1 82.9h0.6M308.2 73.7h0.6M331.0 75.9h0.6M348.2 80.8h0.6M313.9 77.3h0.6M339.1 84.1h0.6M325.2 88.7h0.6M356.1 75.2h0.6M306.8 78.2h0.6M311.1 63.4h0.6M333.4 74.8h0.6M341.1 82.6h0.6M335.2 68.7h0.6M310.4 83.6h0.6M330.2 63.3h0.6M301.2 80.6h0.6M340.6 73.5h0.6M320.3 70.6h0.6M356.0 74.4h0.6M324.8 75.5h0.6M300.0 75.2h0.6M295.9 75.8h0.6M320.3 73.9h0.6M315.9 82.9h0.6M355.5 80.0h0.6M346.5 87.3h0.6M322.7 73.1h0.6M315.8 75.4h0.6M301.4 76.5h0.6M306.0 77.9h0.6M344.4 80.9h0.6M300.4 81.2h0.6M346.7 82.6h0.6M324.4 78.6h0.6M341.2 87.8h0.6M337.5 71.4h0.6M304.9 73.0h0.6M345.2 82.4h0.6M351.6 78.5h0.6M305.0 77.8h0.6M356.5 83.2h0.6M347.9 75.0h0.6M336.8 76.5h0.6M341.9 80.3h0.6M299.5 78.6h0.6M313.6 82.6h0.6M353.1 78.2h0.6M350.9 79.2h0.6M312.9 64.8h0.6M333.5 86.9h0.6M321.3 66.6h0.6M310.7 77.2h0.6M346.6 96.0h0.6M340.8 74.9h0.6M301.5 73.4h0.6M340.4 89.8h0.6M295.9 76.7h0.6M303.8 76.8h0.6M325.6 76.2h0.6M298.4 78.6h0.6M331.9 83.3h0.6M341.2 76.4h0.6M315.7 83.8h0.6M342.0 70.5h0.6M301.7 79.0h0.6M303.2 75.5h0.6M330.7 82.7h0.6M297.7 76.3h0.6M345.3 74.1h0.6M352.4 87.2h0.6M295.2 76.3h0.6M347.5 68.9h0.6M334.8 81.8h0.6M356.7 75.7h0.6M347.6 74.3h0.6M353.0 76.4h0.6M350.4 92.0h0.6M350.4 70.2h0.6M345.2 75.3h0.6M353.2 78.4h0.6M303.0 74.6h0.6M347.8 77.1h0.6M340.9 81.1h0.6M322.4 70.9h0.6M327.0 85.5h0.6M305.2 73.5h0.6M319.1 76.4h0.6M342.9 79.9h0.6M333.7 101.9h0.6M354.2 66.1h0.6M315.5 78.9h0.6M313.7 90.8h0.6M344.2 72.8h0.6M355.8 84.2h0.6M322.7 78.8h0.6M324.4 67.1h0.6M300.3 78.2h0.6M314.1 72.5h0.6M353.3 77.9h0.6M356.8 68.1h0.6M330.2 82.8h0.6M350.4 60.7h0.6M312.8 76.4h0.6M339.2 87.2h0.6M353.5 80.7h0.6M321.6 74.9h0.6M338.7 75.5h0.6M344.5 74.1h0.6M307.3 87.9h0.6M315.7 77.0h0.6M336.1 77.2h0.6M315.7 73.1h0.6M308.8 75.3h0.6M308.9 79.9h0.6M346.6 72.9h0.6M328.4 71.3h0.6M334.0 73.0h0.6M338.5 74.6h0.6M320.0 78.5h0.6M339.8 73.6h0.6M327.9 75.9h0.6M303.5 75.1h0.6M332.1 86.7h0.6M330.7 78.0h0.6M341.5 74.9h0.6M355.9 79.1h0.6M299.6 77.2h0.6M337.5 65.2h0.6M342.3 75.9h0.6M329.6 89.6h0.6M326.7 81.0h0.6M342.7 86.2h0.6M333.2 72.1h0.6M325.8 66.6h0.6M339.6 72.0h0.6M336.9 87.8h0.6M303.2 74.4h0.6M322.2 71.7h0.6M352.5 84.6h0.6M308.7 76.2h0.6M332.0 75.8h0.6M338.6 80.2h0.6M305.7 77.6h0.6M311.7 75.8h0.6M319.9 79.0h0.6M336.5 71.8h0.6M306.2 77.1h0.6M345.8 82.2h0.6M341.1 69.2h0.6M347.7 75.8h0.6M314.5 71.0h0.6M333.2 83.0h0.6M350.7 81.5h0.6M327.0 84.2h0.6M334.8 85.3h0.6M325.4 84.7h0.6M344.3 82.7h0.6M338.1 71.3h0.6M344.9 84.3h0.6M356.4 71.7h0.6M346.4 94.4h0.6M335.0 79.6h0.6M315.4 80.7h0.6M331.5 67.9h0.6M355.2 84.1h0.6M357.2 84.4h0.6M305.9 71.7h0.6M340.6 73.0h0.6M297.1 76.7h0.6M304.8 75.2h0.6M323.0 87.1h0.6M303.9 83.9h0.6M339.4 69.1h0.6M330.7 85.2h0.6M323.8 75.4h0.6M350.3 86.7h0.6M322.0 60.1h0.6M314.9 74.9h0.6M317.4 84.7h0.6M297.1 76.3h0.6M343.3 86.3h0.6M339.1 73.4h0.6M325.7 85.5h0.6M348.5 81.4h0.6M320.4 74.5h0.6M312.7 73.4h0.6M298.2 77.0h0.6M310.1 82.6h0.6M327.7 77.2h0.6M320.4 72.8h0.6M327.4 101.7h0.6M300.2 73.9h0.6M297.5 77.0h0.6M340.8 81.4h0.6M325.7 69.7h0.6M346.8 77.2h0.6M350.0 74.4h0.6M322.4 66.9h0.6M328.3 80.6h0.6M345.7 68.8h0.6M306.8 74.5h0.6M347.8 86.1h0.6M322.7 69.4h0.6M315.0 80.7h0.6M328.9 86.1h0.6M339.2 84.9h0.6M349.6 80.5h0.6M348.7 75.6h0.6M298.4 74.9h0.6M309.1 77.9h0.6M320.9 80.3h0.6M300.7 76.1h0.6M327.6 70.0h0.6M327.9 83.7h0.6M332.1 69.2h0.6M321.6 80.3h0.6M314.4 74.6h0.6M335.9 64.1h0.6M300.4 80.8h0.6M298.9 78.4h0.6M344.5 81.3h0.6M311.0 70.5h0.6M308.7 76.7h0.6M314.9 78.8h0.6M335.1 71.4h0.6M314.4 86.3h0.6M340.1 61.7h0.6M338.8 82.6h0.6M325.0 63.6h0.6M354.2 67.1h0.6M345.2 67.6h0.6M307.2 79.4h0.6M313.7 73.4h0.6M304.9 75.0h0.6M342.8 70.2h0.6M311.1 70.1h0.6M327.9 70.5h0.6M303.5 74.3h0.6M351.6 74.9h0.6M344.6 74.2h0.6M340.2 58.6h0.6M342.0 72.1h0.6M322.4 85.5h0.6M310.9 74.8h0.6M296.6 77.1h0.6M325.4 71.7h0.6M353.2 72.4h0.6M297.6 77.1h0.6M311.2 70.5h0.6M332.3 75.5h0.6M301.9 72.8h0.6M318.2 78.9h0.6M344.9 64.9h0.6M312.7 80.3h0.6M318.7 83.2h0.6M317.2 67.0h0.6M312.0 80.3h0.6M347.9 73.8h0.6M355.4 84.1h0.6M336.0 72.5h0.6M315.4 75.2h0.6M314.6 75.2h0.6M341.5 86.2h0.6M343.2 62.0h0.6M348.4 82.1h0.6M307.0 77.3h0.6M311.6 74.4h0.6M321.1 75.0h0.6M326.5 83.4h0.6M348.3 82.5h0.6M303.1 81.9h0.6M318.3 72.7h0.6M305.4 70.5h0.6M347.8 72.6h0.6M342.7 75.1h0.6M348.0 73.4h0.6M319.6 84.6h0.6M332.2 93.9h0.6M352.1 79.2h0.6M296.8 74.8h0.6M347.5 84.1h0.6M345.8 71.8h0.6M326.9 76.9h0.6M346.2 82.7h0.6M345.3 79.3h0.6M310.2 76.5h0.6M356.4 78.4h0.6M354.9 81.5h0.6M315.5 80.3h0.6M355.7 89.6h0.6M333.4 53.4h0.6M331.4 70.6h0.6M346.2 72.2h0.6M353.6 82.0h0.6M315.5 78.0h0.6M305.9 79.9h0.6M349.6 66.6h0.6M327.3 74.9h0.6M333.7 81.5h0.6M329.5 76.1h0.6M351.7 73.9h0.6M334.7 78.6h0.6M342.4 89.0h0.6M345.8 60.9h0.6M294.6 78.4h0.6M334.3 78.6h0.6M336.8 69.8h0.6M304.5 79.1h0.6M309.3 77.0h0.6M301.4 80.0h0.6M325.6 70.7h0.6M346.2 83.6h0.6M314.8 71.7h0.6M351.4 78.7h0.6M301.4 78.7h0.6M321.3 76.0h0.6M313.9 80.2h0.6M355.8 72.9h0.6M309.3 81.5h0.6M350.3 73.1h0.6M331.8 71.1h0.6M316.5 76.0h0.6M325.8 76.1h0.6M306.6 73.8h0.6M337.0 82.6h0.6M340.3 75.5h0.6M327.3 81.0h0.6M347.1 65.7h0.6M345.7 66.8h0.6M340.7 74.5h0.6M345.0 69.1h0.6M326.5 75.6h0.6M308.5 79.2h0.6M332.4 85.0h0.6M328.5 87.4h0.6M307.9 80.0h0.6M341.9 71.1h0.6M327.4 80.6h0.6M340.8 72.5h0.6M311.0 79.4h0.6M314.0 71.0h0.6M303.7 81.0h0.6M353.2 79.3h0.6M341.6 74.3h0.6M319.0 67.9h0.6M300.0 77.7h0.6M320.8 73.0h0.6M346.5 78.4h0.6M352.8 71.9h0.6M309.3 74.5h0.6M354.1 80.6h0.6M311.8 84.1h0.6M298.4 75.0h0.6M306.7 76.2h0.6M296.6 77.7h0.6M314.5 75.9h0.6M345.9 73.3h0.6M329.5 92.7h0.6M347.1 70.5h0.6M303.6 78.1h0.6M344.8 72.9h0.6M307.0 76.5h0.6M319.9 61.6h0.6M354.6 82.3h0.6M343.8 74.9h0.6M343.8 69.3h0.6M339.1 89.3h0.6M322.8 74.6h0.6M338.1 71.8h0.6M326.6 70.4h0.6M347.0 84.3h0.6M340.7 76.7h0.6M352.3 74.6h0.6M349.5 67.3h0.6M349.6 70.3h0.6M303.7 78.0h0.6M296.9 77.1h0.6M323.6 62.3h0.6M355.2 71.1h0.6M336.9 78.3h0.6M335.3 97.4h0.6M348.9 71.3h0.6M338.4 59.4h0.6M305.1 79.5h0.6M329.2 73.0h0.6M351.1 67.6h0.6M347.9 80.6h0.6M300.9 76.5h0.6M357.9 70.9h0.6M332.0 66.5h0.6M317.7 75.9h0.6M326.6 77.2h0.6M355.1 65.4h0.6M352.6 83.2h0.6M322.0 67.7h0.6M338.6 87.3h0.6M301.8 77.9h0.6M347.1 75.2h0.6M302.1 77.9h0.6M343.0 72.1h0.6M319.5 76.2h0.6M308.2 83.6h0.6M307.6 74.7h0.6M356.6 81.7h0.6M313.2 72.1h0.6M329.0 76.4h0.6M308.5 80.9h0.6M330.2 67.5h0.6M348.6 79.0h0.6M315.1 64.7h0.6M342.9 67.9h0.6M322.0 73.7h0.6M306.1 80.1h0.6M348.2 81.7h0.6M321.2 70.3h0.6M338.7 75.5h0.6M355.5 77.8h0.6M343.4 64.7h0.6M320.4 79.5h0.6M337.4 87.0h0.6M344.8 85.9h0.6M312.8 73.7h0.6M355.7 74.1h0.6M313.5 71.8h0.6M298.6 76.3h0.6M332.6 74.6h0.6M329.2 81.6h0.6M308.4 77.2h0.6M329.8 69.6h0.6M316.6 81.6h0.6M348.2 82.9h0.6M330.3 72.0h0.6M332.2 74.7h0.6M307.6 76.5h0.6M355.3 66.3h0.6M315.3 77.5h0.6M335.6 81.8h0.6M346.3 90.9h0.6M331.9 78.0h0.6M319.7 74.8h0.6M339.0 75.4h0.6M343.1 81.2h0.6M307.2 80.0h0.6M315.5 71.8h0.6M310.5 77.7h0.6M297.1 78.1h0.6M337.7 61.0h0.6M357.9 84.9h0.6M316.6 75.5h0.6M354.8 82.2h0.6M323.8 76.3h0.6M353.5 75.1h0.6M303.7 76.8h0.6M319.6 78.5h0.6M350.0 82.7h0.6M353.3 74.9h0.6M347.7 68.6h0.6M341.1 71.3h0.6M319.1 70.4h0.6M357.2 81.4h0.6M335.0 69.1h0.6M348.6 87.4h0.6M324.7 77.6h0.6M354.8 76.1h0.6M337.8 86.7h0.6M342.7 73.8h0.6M307.5 75.8h0.6M325.6 82.3h0.6M303.9 79.3h0.6M321.9 69.7h0.6M334.7 95.7h0.6M317.8 80.2h0.6M295.1 76.1h0.6M326.6 75.4h0.6M345.3 83.6h0.6M323.5 78.2h0.6M346.3 83.0h0.6M324.0 93.5h0.6M333.7 83.8h0.6M318.6 89.5h0.6M303.0 79.0h0.6M346.5 71.8h0.6M331.5 88.1h0.6M347.2 71.6h0.6M346.7 83.7h0.6M346.4 81.5h0.6M323.6 70.7h0.6M318.0 72.5h0.6M313.5 76.0h0.6M328.9 79.7h0.6M336.7 87.1h0.6M350.8 77.3h0.6M357.9 88.3h0.6M343.7 83.4h0.6M334.7 71.8h0.6M317.7 73.1h0.6M335.6 77.5h0.6M317.4 73.8h0.6M351.3 76.3h0.6M313.6 81.1h0.6M325.3 78.8h0.6M313.4 82.2h0.6M312.9 73.5h0.6M345.6 70.5h0.6M311.8 70.1h0.6M319.8 65.3h0.6M299.2 76.4h0.6M353.4 77.5h0.6M352.8 75.7h0.6M323.3 77.1h0.6M353.9 90.3h0.6M313.7 71.3h0.6M315.3 75.6h0.6M334.0 73.2h0.6M312.9 72.4h0.6M353.2 85.9h0.6M356.5 76.9h0.6M305.9 81.6h0.6M327.6 68.8h0.6M326.2 90.7h0.6M357.4 90.9h0.6M357.3 71.8h0.6M300.9 77.2h0.6M355.7 76.3h0.6M339.2 81.4h0.6M329.1 67.4h0.6M327.0 80.5h0.6M350.5 82.1h0.6M306.4 75.0h0.6M324.6 60.9h0.6M304.1 75.1h0.6M324.6 74.3h0.6M347.6 82.6h0.6M349.3 72.8h0.6M307.4 72.7h0.6M315.0 80.6h0.6M342.1 79.9h0.6M309.7 80.5h0.6M299.8 77.3h0.6M351.1 84.3h0.6M297.2 78.0h0.6M352.4 65.3h0.6M336.5 78.7h0.6M324.5 82.7h0.6M318.4 77.4h0.6M324.3 87.6h0.6M352.7 74.2h0.6M335.4 82.6h0.6M307.6 72.4h0.6M334.4 77.2h0.6M319.2 73.6h0.6M352.9 70.6h0.6M308.7 71.7h0.6M330.5 78.8h0.6M297.2 77.9h0.6M316.0 73.5h0.6M342.6 67.8h0.6M337.3 70.4h0.6M353.8 82.1h0.6M308.4 72.2h0.6M328.7 85.6h0.6M304.4 72.0h0.6M341.9 79.3h0.6M304.5 79.4h0.6M354.1 85.1h0.6M330.0 74.0h0.6M333.1 71.3h0.6M322.8 67.2h0.6M324.7 83.7h0.6M351.4 76.3h0.6M345.3 73.8h0.6M324.0 74.2h0.6M348.4 79.0h0.6M323.4 77.4h0.6M302.5 80.5h0.6M313.7 65.8h0.6M326.2 83.3h0.6M327.3 73.3h0.6M309.9 76.9h0.6M342.3 74.8h0.6M314.3 76.8h0.6M339.3 83.0h0.6M332.3 78.9h0.6M339.2 66.1h0.6M352.4 76.8h0.6M342.7 76.5h0.6M337.4 80.1h0.6M341.2 77.5h0.6M331.7 76.6h0.6M357.6 83.4h0.6M348.4 69.5h0.6M308.6 86.4h0.6M308.4 74.9h0.6M326.9 69.7h0.6M354.0 82.3h0.6M307.5 81.5h0.6M314.3 84.1h0.6M358.0 86.0h0.6M344.7 80.8h0.6M333.3 77.7h0.6M309.2 78.9h0.6M298.1 77.3h0.6M320.4 73.6h0.6M311.0 84.9h0.6M352.0 89.4h0.6M331.8 77.3h0.6M331.1 75.5h0.6M337.2 73.5h0.6M330.4 64.6h0.6M314.3 73.6h0.6M344.0 73.4h0.6M344.2 77.1h0.6M353.3 70.7h0.6M330.1 63.0h0.6M306.6 79.7h0.6M356.1 88.0h0.6M296.2 74.8h0.6M308.5 76.7h0.6M342.5 83.8h0.6M350.9 69.3h0.6M355.1 68.2h0.6M336.3 77.6h0.6M316.9 75.9h0.6M297.9 76.3h0.6M344.0 89.7h0.6M338.9 88.8h0.6M305.4 79.6h0.6M344.7 76.8h0.6M355.4 75.3h0.6M310.7 81.5h0.6M336.7 75.6h0.6M325.9 88.1h0.6M337.4 87.0h0.6M305.6 75.3h0.6M352.7 82.4h0.6M318.0 87.1h0.6M338.9 82.5h0.6M314.0 72.3h0.6M310.2 76.2h0.6M355.9 75.3h0.6M315.7 78.1h0.6M355.7 77.7h0.6M350.8 75.1h0.6M334.1 84.2h0.6M334.4 88.0h0.6M297.9 76.5h0.6M345.9 66.7h0.6M341.2 80.4h0.6M335.7 77.6h0.6M348.3 80.6h0.6M329.0 72.5h0.6M323.7 79.7h0.6M344.3 70.8h0.6M330.5 85.9h0.6M336.9 90.7h0.6M308.2 73.7h0.6M311.7 64.7h0.6M310.4 75.3h0.6M347.7 73.9h0.6M357.7 78.8h0.6M356.6 77.8h0.6M333.8 81.6h0.6M346.7 97.6h0.6M305.8 75.6h0.6M320.3 75.2h0.6M354.9 80.5h0.6M318.2 66.2h0.6M308.7 80.9h0.6M326.8 73.3h0.6M345.8 67.2h0.6M357.3 72.6h0.6M298.1 78.2h0.6M338.6 84.3h0.6M349.7 86.5h0.6M348.4 80.9h0.6M353.8 73.1h0.6M339.1 82.2h0.6M350.1 77.3h0.6M324.9 94.7h0.6M336.0 61.9h0.6M333.6 90.4h0.6M327.3 83.5h0.6M327.7 80.9h0.6M342.5 77.2h0.6M308.1 75.4h0.6M349.3 71.1h0.6M342.6 66.2h0.6M311.8 87.8h0.6M321.6 84.4h0.6M349.7 82.6h0.6M326.2 80.6h0.6M350.1 64.7h0.6M324.7 76.0h0.6M357.6 78.6h0.6M324.2 86.2h0.6M357.2 71.8h0.6M323.8 79.9h0.6M326.0 76.3h0.6M309.8 77.9h0.6M346.8 72.3h0.6M302.4 78.5h0.6M346.6 78.6h0.6M330.7 64.0h0.6M350.8 86.3h0.6M337.7 95.1h0.6M355.3 72.4h0.6M331.6 86.8h0.6M313.5 72.7h0.6M354.1 74.6h0.6M352.5 89.7h0.6M349.7 79.5h0.6M336.5 89.9h0.6M316.0 79.6h0.6M296.5 78.7h0.6M348.2 76.9h0.6M339.9 89.2h0.6M327.2 91.2h0.6M331.6 83.3h0.6M346.9 74.0h0.6M313.8 76.0h0.6M296.9 76.2h0.6M303.7 79.5h0.6M357.4 81.2h0.6M312.3 74.4h0.6M356.8 83.7h0.6M297.7 76.6h0.6M340.6 92.1h0.6M332.3 84.6h0.6M330.4 90.2h0.6M294.1 76.9h0.6M334.7 70.6h0.6M337.5 64.2h0.6M349.4 82.7h0.6M349.2 70.3h0.6M348.1 87.8h0.6M300.7 77.9h0.6M351.6 83.3h0.6M332.1 68.6h0.6M351.2 74.2h0.6M353.3 79.4h0.6M302.6 79.7h0.6M325.4 69.0h0.6M331.1 80.9h0.6M336.7 72.0h0.6M354.8 83.3h0.6M298.4 77.1h0.6M336.7 76.1h0.6M330.3 81.6h0.6M306.8 82.2h0.6M341.3 76.5h0.6M343.7 87.6h0.6M305.3 74.4h0.6M304.5 78.7h0.6M330.0 70.0h0.6M355.8 79.5h0.6M349.2 71.9h0.6M340.1 78.6h0.6M324.5 82.7h0.6M355.5 72.1h0.6M329.2 65.3h0.6M307.2 77.2h0.6M336.4 82.4h0.6M303.6 78.4h0.6M351.0 72.1h0.6M330.9 84.6h0.6M344.2 76.2h0.6M350.2 83.5h0.6M346.9 71.9h0.6M347.1 81.5h0.6M346.8 86.8h0.6M323.9 73.6h0.6M297.7 77.1h0.6M315.4 81.6h0.6M339.4 82.3h0.6M319.5 80.5h0.6M357.3 77.4h0.6M319.4 68.1h0.6M342.6 78.2h0.6M305.9 73.2h0.6M328.1 78.9h0.6M347.7 61.5h0.6M353.4 87.5h0.6M301.8 82.5h0.6M347.8 81.4h0.6M356.2 72.9h0.6M297.2 77.1h0.6M348.3 84.5h0.6M299.2 78.8h0.6M340.9 73.0h0.6M357.4 85.3h0.6M302.9 79.7h0.6M344.6 82.2h0.6M305.0 76.5h0.6M335.6 78.2h0.6M321.4 73.3h0.6M334.1 79.7h0.6M345.3 73.3h0.6M311.2 83.5h0.6M318.4 78.3h0.6M305.4 78.4h0.6M325.2 80.5h0.6M302.6 78.5h0.6M297.7 75.3h0.6M343.9 87.8h0.6M342.3 78.9h0.6M297.8 76.6h0.6M339.5 70.9h0.6M340.7 73.1h0.6M321.2 74.0h0.6M318.1 78.1h0.6M313.7 73.4h0.6M336.7 79.1h0.6M306.8 78.3h0.6M333.6 72.9h0.6M325.1 93.9h0.6M331.5 77.3h0.6M345.3 80.6h0.6M313.4 78.5h0.6M319.3 77.0h0.6M329.7 83.1h0.6M320.1 87.1h0.6M341.2 77.6h0.6M307.5 74.4h0.6M353.7 81.5h0.6M355.1 64.5h0.6M306.2 78.3h0.6M330.0 76.7h0.6M321.4 80.2h0.6M321.3 67.8h0.6M311.7 75.7h0.6M333.0 70.3h0.6M347.7 74.2h0.6M314.2 81.0h0.6M346.7 76.6h0.6M344.8 73.6h0.6M338.3 87.0h0.6M352.2 78.0h0.6M336.7 62.5h0.6M347.5 70.5h0.6M355.7 80.4h0.6M350.4 80.8h0.6M335.2 79.6h0.6M317.9 79.4h0.6M336.8 71.0h0.6M343.3 77.1h0.6M343.2 69.0h0.6M324.6 71.9h0.6M344.8 71.0h0.6M320.5 72.2h0.6M306.4 76.3h0.6M355.8 76.3h0.6M353.8 72.5h0.6M326.2 85.4h0.6M333.7 74.2h0.6M296.3 79.1h0.6M355.5 83.8h0.6M321.9 69.3h0.6M337.2 84.4h0.6M306.9 72.3h0.6M307.2 82.9h0.6M335.8 80.1h0.6M340.6 70.1h0.6M356.9 64.3h0.6M342.1 74.5h0.6M337.2 67.2h0.6M336.8 85.9h0.6M316.8 70.1h0.6M322.9 75.8h0.6M338.0 81.2h0.6M307.0 77.4h0.6M318.6 79.0h0.6M309.4 76.3h0.6M298.5 78.5h0.6M327.9 70.6h0.6M323.1 81.3h0.6M334.2 68.2h0.6M324.6 78.6h0.6M301.9 74.4h0.6M350.8 76.0h0.6M298.8 78.3h0.6M297.0 78.9h0.6M297.1 74.9h0.6M347.0 71.8h0.6M322.8 70.5h0.6M355.2 84.8h0.6M319.5 71.7h0.6M325.3 82.3h0.6M342.1 73.4h0.6M355.3 68.3h0.6M353.5 78.0h0.6M323.2 69.3h0.6M341.0 82.7h0.6M300.9 79.2h0.6M334.9 87.5h0.6M339.1 69.6h0.6M316.9 86.5h0.6M339.7 84.5h0.6M318.8 66.0h0.6M345.7 93.4h0.6M301.8 81.5h0.6M332.0 69.4h0.6M355.4 79.3h0.6M338.2 67.0h0.6M354.9 76.4h0.6M355.3 78.4h0.6M345.5 81.8h0.6M347.8 71.4h0.6M344.0 77.0h0.6M331.4 70.2h0.6M347.0 80.0h0.6M346.9 82.0h0.6M350.8 77.7h0.6M295.2 78.3h0.6M298.5 78.6h0.6M328.6 79.9h0.6M343.1 85.9h0.6M325.9 68.3h0.6M323.6 77.0h0.6M296.8 75.0h0.6M336.9 77.1h0.6M355.7 74.3h0.6M337.4 83.5h0.6M314.8 74.8h0.6M338.5 72.3h0.6M322.9 76.6h0.6M322.6 76.3h0.6M300.4 78.4h0.6M342.9 70.7h0.6M294.2 76.3h0.6M349.7 66.3h0.6M295.1 78.3h0.6M346.4 68.1h0.6M321.6 74.0h0.6M321.6 69.7h0.6M330.2 83.7h0.6M310.6 74.6h0.6M312.1 83.3h0.6M342.9 71.9h0.6M353.3 79.1h0.6M307.3 80.2h0.6M316.8 82.9h0.6M357.0 70.0h0.6M341.4 74.5h0.6M353.7 76.7h0.6M323.9 64.4h0.6M345.8 82.4h0.6M342.7 80.2h0.6M344.5 81.0h0.6M329.4 67.0h0.6M318.0 78.4h0.6M322.5 80.3h0.6M307.5 81.3h0.6M302.4 75.9h0.6M323.5 82.0h0.6M350.6 90.6h0.6M320.4 74.4h0.6M334.3 74.1h0.6M348.8 75.0h0.6M304.6 72.5h0.6M322.9 74.7h0.6M322.9 88.6h0.6M342.8 70.3h0.6M353.0 76.0h0.6M295.3 78.4h0.6M333.4 81.6h0.6M294.6 77.5h0.6M318.5 75.2h0.6M324.8 76.5h0.6M317.2 77.3h0.6M325.5 82.2h0.6M322.4 77.8h0.6M330.7 84.3h0.6M315.1 66.9h0.6M324.1 83.1h0.6M313.0 74.6h0.6M326.0 77.4h0.6M342.6 74.1h0.6M297.9 78.3h0.6M357.9 76.6h0.6M307.9 79.8h0.6M347.1 71.5h0.6M317.6 78.4h0.6M301.7 80.4h0.6M347.0 85.3h0.6M334.5 74.6h0.6M316.0 78.1h0.6M323.5 74.7h0.6M351.0 76.5h0.6M342.5 77.4h0.6M317.0 84.5h0.6M314.2 80.4h0.6M334.6 88.5h0.6M305.8 82.6h0.6M313.7 70.6h0.6M347.8 79.5h0.6M343.5 74.0h0.6M297.4 75.0h0.6M327.6 69.5h0.6M324.7 73.8h0.6M344.2 89.7h0.6M326.3 77.9h0.6M313.6 76.3h0.6M349.8 77.1h0.6M311.2 73.8h0.6M339.2 78.6h0.6M317.3 76.8h0.6M337.6 64.9h0.6M309.7 75.0h0.6M351.6 99.6h0.6M322.9 81.7h0.6M341.0 76.6h0.6M344.8 82.3h0.6M328.8 70.2h0.6M333.0 78.0h0.6M305.6 80.3h0.6M333.2 65.2h0.6M332.6 71.8h0.6M352.6 74.7h0.6M321.8 75.4h0.6M308.3 75.3h0.6M325.1 79.3h0.6M346.8 84.7h0.6M295.8 77.7h0.6M298.5 79.0h0.6M357.9 83.5h0.6M334.0 72.8h0.6M343.1 79.4h0.6M328.7 74.6h0.6M311.3 80.5h0.6M340.3 74.7h0.6M314.5 76.3h0.6M327.9 89.6h0.6M312.4 76.5h0.6M353.2 67.3h0.6M324.4 78.2h0.6M341.8 79.6h0.6M310.4 75.1h0.6M337.0 77.9h0.6M318.1 83.6h0.6M305.6 75.6h0.6M319.5 76.2h0.6M301.1 75.7h0.6M336.7 79.9h0.6M334.0 76.4h0.6M350.4 71.2h0.6M297.6 77.1h0.6M325.3 90.3h0.6M357.2 67.2h0.6M321.4 68.1h0.6M300.6 78.1h0.6M347.5 67.6h0.6M303.6 83.0h0.6M342.9 66.4h0.6M332.3 67.7h0.6M351.6 74.0h0.6M331.5 85.4h0.6M341.0 83.4h0.6M315.6 80.6h0.6M357.1 79.1h0.6M312.3 83.8h0.6M349.5 65.0h0.6M341.1 79.5h0.6M329.7 87.8h0.6M323.1 70.0h0.6M302.9 78.2h0.6M347.2 86.1h0.6M313.6 83.9h0.6M351.4 76.5h0.6M352.2 89.5h0.6M312.4 79.9h0.6M317.8 83.8h0.6M342.7 69.5h0.6M345.6 71.9h0.6M299.7 75.8h0.6M348.9 89.5h0.6M348.4 61.2h0.6M337.8 63.6h0.6M352.4 82.6h0.6M356.8 78.3h0.6M312.0 62.9h0.6M355.1 74.9h0.6M350.8 75.4h0.6M335.8 86.6h0.6M305.0 71.2h0.6M356.0 74.2h0.6M344.5 85.2h0.6M322.9 82.6h0.6M319.9 71.5h0.6M355.5 75.6h0.6M313.8 69.7h0.6M348.6 86.8h0.6M327.4 74.4h0.6M341.9 86.8h0.6M348.7 82.9h0.6M304.1 74.7h0.6M315.8 76.6h0.6M305.3 79.5h0.6M324.9 80.5h0.6M307.4 83.2h0.6M353.6 84.5h0.6M346.9 79.7h0.6M335.5 82.7h0.6M311.0 74.1h0.6M312.4 74.5h0.6M336.1 82.0h0.6M353.2 79.6h0.6M354.5 70.6h0.6M354.3 76.9h0.6M319.9 72.3h0.6M342.0 73.4h0.6M331.9 87.0h0.6M334.0 70.4h0.6M340.9 72.6h0.6M318.1 80.9h0.6M316.3 77.9h0.6M325.5 78.7h0.6M314.0 69.9h0.6M350.7 77.3h0.6M322.6 75.0h0.6M298.7 76.0h0.6M338.4 73.3h0.6M357.3 75.7h0.6M333.6 83.8h0.6M317.3 88.5h0.6M352.9 78.2h0.6M338.2 88.6h0.6M337.6 78.4h0.6M328.4 66.9h0.6M346.0 78.0h0.6M340.5 87.0h0.6M333.5 88.0h0.6M320.6 71.8h0.6M346.7 93.4h0.6M353.4 72.9h0.6M303.4 75.3h0.6M297.5 76.6h0.6M304.1 81.8h0.6M351.4 80.2h0.6M337.5 84.4h0.6M324.6 62.2h0.6M356.7 77.2h0.6M355.1 76.8h0.6M326.2 82.5h0.6M322.9 74.4h0.6M332.7 86.4h0.6M336.1 72.4h0.6M349.8 68.2h0.6M351.7 66.9h0.6M317.4 85.0h0.6M350.4 82.6h0.6M302.3 75.4h0.6M312.2 82.9h0.6M326.0 76.4h0.6M302.1 77.1h0.6M321.4 67.8h0.6M297.6 76.6h0.6M347.8 78.4h0.6M340.8 79.1h0.6M315.8 74.4h0.6M332.1 85.0h0.6M324.1 87.5h0.6M348.6 72.1h0.6M318.0 80.0h0.6M314.2 69.5h0.6M346.3 80.6h0.6M345.2 70.7h0.6M342.3 76.5h0.6M301.1 77.8h0.6M299.0 77.0h0.6M354.4 84.1h0.6M356.6 73.0h0.6M312.0 75.3h0.6M330.3 80.0h0.6M328.6 77.4h0.6M317.4 79.1h0.6M302.4 76.9h0.6M315.3 73.2h0.6M356.0 81.6h0.6M327.4 78.2h0.6M312.1 81.9h0.6M302.1 80.8h0.6M339.1 75.1h0.6M349.7 72.7h0.6M315.2 75.1h0.6M345.1 73.0h0.6M297.0 74.8h0.6M306.5 83.3h0.6M338.7 80.7h0.6M303.7 84.2h0.6M328.7 73.7h0.6M329.8 82.0h0.6M297.7 77.8h0.6M348.7 77.2h0.6M344.2 84.8h0.6M347.0 77.7h0.6M339.5 77.1h0.6M317.2 78.6h0.6M341.8 61.4h0.6M334.9 72.3h0.6M337.9 72.3h0.6M345.0 89.6h0.6M317.7 81.1h0.6M353.6 82.6h0.6M328.5 82.2h0.6M319.5 76.5h0.6M332.4 89.9h0.6M356.6 76.4h0.6M342.4 67.4h0.6M303.8 79.3h0.6M316.8 84.4h0.6M340.7 78.5h0.6M355.8 79.9h0.6M333.0 84.8h0.6M333.1 89.1h0.6M294.2 77.7h0.6M308.3 84.2h0.6M347.8 79.7h0.6M314.6 88.8h0.6M332.9 67.6h0.6M341.2 84.7h0.6M336.3 79.9h0.6M345.7 78.6h0.6M339.0 68.3h0.6M319.1 84.3h0.6M335.7 76.3h0.6M341.9 70.5h0.6M301.6 75.9h0.6M356.2 76.3h0.6M337.6 78.5h0.6M356.7 72.3h0.6M350.9 71.7h0.6M298.0 78.0h0.6M302.7 77.3h0.6M350.5 90.7h0.6M314.8 75.4h0.6M353.4 82.4h0.6M356.9 87.9h0.6M345.9 76.3h0.6M337.9 85.1h0.6M327.1 79.9h0.6M353.3 78.0h0.6M338.2 89.7h0.6M303.6 74.6h0.6M343.5 73.4h0.6M320.5 66.3h0.6M307.0 77.1h0.6M322.7 84.4h0.6M350.7 76.0h0.6M344.4 83.7h0.6M323.5 72.6h0.6M348.8 85.5h0.6M334.2 76.9h0.6M320.9 74.6h0.6M304.3 82.5h0.6M341.1 77.7h0.6M315.0 80.7h0.6M331.1 78.6h0.6M314.4 81.3h0.6M338.3 78.7h0.6M300.6 74.8h0.6M317.0 79.3h0.6M338.0 81.3h0.6M349.8 80.3h0.6M343.7 76.1h0.6M317.7 88.3h0.6M324.6 72.7h0.6M330.8 78.6h0.6M355.2 79.0h0.6M310.0 72.9h0.6M346.9 69.4h0.6M305.2 79.7h0.6M349.6 82.2h0.6M305.0 77.9h0.6M323.7 66.8h0.6M322.9 75.8h0.6M340.3 79.5h0.6M319.5 81.6h0.6M347.9 85.9h0.6M357.3 80.3h0.6M343.1 84.7h0.6M296.9 79.5h0.6M303.8 70.7h0.6M347.7 84.6h0.6M325.3 74.7h0.6M331.5 81.3h0.6M349.9 79.1h0.6M342.9 70.3h0.6M332.3 71.1h0.6M318.4 80.3h0.6M302.5 77.0h0.6M305.2 79.9h0.6M300.1 76.6h0.6M324.7 92.5h0.6M355.3 76.1h0.6M305.0 84.1h0.6M331.6 72.2h0.6M337.4 81.9h0.6M355.0 84.5h0.6M357.7 70.1h0.6M339.7 70.6h0.6M335.4 80.8h0.6M342.5 86.1h0.6M326.9 87.3h0.6M346.5 81.6h0.6M349.5 84.7h0.6M312.7 71.8h0.6M332.4 74.6h0.6M319.3 86.6h0.6M306.1 75.6h0.6M326.0 76.0h0.6M336.8 64.8h0.6M331.8 76.3h0.6M323.8 66.8h0.6M334.0 80.4h0.6M331.0 88.4h0.6M297.6 77.8h0.6M341.6 78.9h0.6M346.9 74.9h0.6M328.5 81.6h0.6M339.4 69.5h0.6M314.6 75.1h0.6M343.7 93.3h0.6M328.1 68.5h0.6M338.8 73.5h0.6M340.6 67.5h0.6M326.7 86.3h0.6M310.8 76.5h0.6M354.8 69.8h0.6M349.1 69.2h0.6M323.7 85.2h0.6M323.4 82.2h0.6M350.1 82.9h0.6M345.0 77.2h0.6M316.9 82.7h0.6M348.7 86.5h0.6M320.9 81.9h0.6M349.8 66.9h0.6M305.0 71.2h0.6M355.3 68.7h0.6M322.6 79.4h0.6M353.9 68.3h0.6M314.9 71.7h0.6M323.1 77.8h0.6M315.3 72.7h0.6M335.8 68.0h0.6M315.4 82.7h0.6M340.7 81.1h0.6M341.0 83.3h0.6M345.8 84.0h0.6M328.0 87.7h0.6M326.5 77.2h0.6M315.1 76.4h0.6M330.0 64.8h0.6M332.4 75.7h0.6M317.0 74.0h0.6M334.1 85.2h0.6M309.7 80.2h0.6M325.9 87.6h0.6M320.0 84.3h0.6M332.7 86.1h0.6M346.2 81.1h0.6M298.0 77.5h0.6M327.2 74.7h0.6M304.2 77.3h0.6M321.9 71.0h0.6M344.1 80.2h0.6M338.5 76.7h0.6M343.0 62.6h0.6M348.3 58.9h0.6M321.0 72.6h0.6M323.1 74.2h0.6M310.8 76.0h0.6M320.2 85.6h0.6M337.6 72.7h0.6M340.5 68.0h0.6M342.7 80.1h0.6M332.9 84.7h0.6M299.9 80.6h0.6M339.1 69.8h0.6M350.0 75.6h0.6M351.4 74.5h0.6M297.1 79.3h0.6M323.3 82.0h0.6M330.2 77.4h0.6M337.9 82.6h0.6M347.3 74.8h0.6M297.6 77.0h0.6M352.8 77.1h0.6M327.0 73.8h0.6M356.3 75.8h0.6M346.9 79.7h0.6M324.5 78.9h0.6M355.5 86.2h0.6M328.7 83.4h0.6M304.8 77.0h0.6M311.7 66.9h0.6M332.9 66.4h0.6M345.3 73.6h0.6M319.1 74.9h0.6M354.8 69.2h0.6M315.5 75.2h0.6M356.8 77.9h0.6M339.3 72.5h0.6M344.0 76.2h0.6M323.9 76.5h0.6M332.6 72.0h0.6M321.8 71.4h0.6M331.1 76.2h0.6M349.8 78.9h0.6M345.8 69.8h0.6M348.9 63.4h0.6M325.5 70.5h0.6M318.2 80.2h0.6M336.1 65.1h0.6M355.5 82.7h0.6M342.4 72.9h0.6M313.9 77.8h0.6M347.1 71.8h0.6M352.1 80.8h0.6M344.1 77.5h0.6M343.5 79.8h0.6M340.9 62.9h0.6M334.6 82.4h0.6M324.4 65.6h0.6M343.1 74.7h0.6M326.1 80.7h0.6M310.0 76.3h0.6M352.6 80.2h0.6M353.7 78.1h0.6M306.2 77.5h0.6M347.8 71.5h0.6M337.7 84.4h0.6M320.4 84.2h0.6M320.3 73.7h0.6M307.7 73.8h0.6M327.6 78.5h0.6M312.5 73.5h0.6M340.6 78.0h0.6M355.2 82.0h0.6M318.3 81.0h0.6M315.7 85.2h0.6M332.0 80.4h0.6M305.4 73.8h0.6M307.4 74.0h0.6M310.0 79.4h0.6M349.1 89.8h0.6M330.9 74.5h0.6M346.8 70.7h0.6M349.3 86.3h0.6M318.5 76.3h0.6M309.9 80.1h0.6M300.8 79.6h0.6M344.0 70.0h0.6M333.0 74.4h0.6M350.3 73.4h0.6M339.7 80.9h0.6M309.5 79.9h0.6M329.9 73.5h0.6M325.1 80.8h0.6M305.7 71.3h0.6M307.4 78.4h0.6M342.4 79.5h0.6M340.0 77.0h0.6M326.0 67.1h0.6M306.1 76.8h0.6M315.6 71.3h0.6M327.1 87.1h0.6M344.2 75.0h0.6M325.7 75.6h0.6M345.1 76.2h0.6M322.6 80.6h0.6M336.7 77.6h0.6M344.7 80.8h0.6M325.9 70.7h0.6M328.9 84.7h0.6M300.2 76.2h0.6M305.1 79.6h0.6M341.1 78.7h0.6M303.9 80.3h0.6M310.8 76.8h0.6M329.9 66.6h0.6M354.3 70.1h0.6M357.8 75.8h0.6M346.2 86.6h0.6M322.4 74.3h0.6M310.1 77.4h0.6M325.2 85.5h0.6M301.0 76.0h0.6M317.4 78.8h0.6M342.5 79.0h0.6M337.6 72.7h0.6M354.4 78.4h0.6M319.3 83.4h0.6M325.8 84.2h0.6M344.0 74.6h0.6M315.2 92.5h0.6M314.4 78.9h0.6M356.9 75.5h0.6M321.5 72.4h0.6M351.6 70.8h0.6M324.9 82.5h0.6M352.8 59.2h0.6M349.1 76.0h0.6M318.0 69.1h0.6M299.8 76.9h0.6M340.2 76.8h0.6M321.1 68.7h0.6M320.4 70.9h0.6M343.0 86.0h0.6M325.5 73.3h0.6M316.9 77.0h0.6M350.8 75.0h0.6M347.3 82.7h0.6M347.9 85.2h0.6M320.1 82.8h0.6M356.8 80.2h0.6M331.4 81.0h0.6M319.4 69.8h0.6M307.2 81.9h0.6M348.1 73.3h0.6M342.4 70.7h0.6M354.7 74.8h0.6M303.6 75.0h0.6M300.3 78.1h0.6M352.3 81.6h0.6M315.2 83.9h0.6M320.5 76.4h0.6M306.3 75.1h0.6M330.8 75.0h0.6M312.1 71.6h0.6M300.7 75.6h0.6M355.6 88.8h0.6M307.2 74.4h0.6M322.7 74.0h0.6M311.7 80.0h0.6M348.8 78.7h0.6M346.5 82.3h0.6M353.8 71.8h0.6M329.3 69.6h0.6M346.8 86.0h0.6M348.1 72.5h0.6M349.6 76.4h0.6M308.5 78.0h0.6M330.2 64.0h0.6M339.6 75.6h0.6M318.8 73.2h0.6M346.7 80.6h0.6M338.5 74.8h0.6M347.7 61.8h0.6M344.6 82.6h0.6M326.9 59.5h0.6M305.5 75.8h0.6M314.5 73.5h0.6M330.5 72.7h0.6M355.5 77.0h0.6M312.2 81.6h0.6M348.4 71.2h0.6M315.5 73.8h0.6M335.9 82.4h0.6M352.9 80.2h0.6M327.7 82.0h0.6M313.1 78.7h0.6M319.1 75.6h0.6M344.6 73.6h0.6M340.4 73.6h0.6M338.0 83.6h0.6M312.6 84.3h0.6M345.1 90.9h0.6M349.6 70.2h0.6M328.5 75.4h0.6M316.8 77.1h0.6M337.0 75.8h0.6M346.8 69.3h0.6M328.1 92.1h0.6M334.3 88.0h0.6M344.7 75.9h0.6M353.7 74.3h0.6M302.4 77.2h0.6M341.5 68.4h0.6M301.1 76.5h0.6M316.4 81.4h0.6M341.1 88.9h0.6M309.8 80.9h0.6M340.2 86.4h0.6M346.6 69.8h0.6M341.1 53.8h0.6M348.8 86.2h0.6M337.1 78.4h0.6M330.9 76.4h0.6M357.3 86.7h0.6M321.0 70.9h0.6M309.7 73.1h0.6M330.5 71.8h0.6M335.8 88.9h0.6M322.4 83.3h0.6M355.6 66.5h0.6M320.5 87.5h0.6M310.7 77.2h0.6M332.9 80.1h0.6M313.2 73.3h0.6M338.1 90.7h0.6M317.9 79.6h0.6M322.7 85.8h0.6M341.4 69.8h0.6M341.0 82.1h0.6M299.6 77.4h0.6M334.5 75.4h0.6M334.6 71.0h0.6M322.2 72.4h0.6M322.9 69.2h0.6M336.9 72.1h0.6M346.6 76.9h0.6M346.5 81.1h0.6M350.0 66.8h0.6M332.6 69.5h0.6M315.6 73.8h0.6M343.9 65.3h0.6M309.1 76.0h0.6M296.7 76.9h0.6M307.2 76.5h0.6M300.2 78.1h0.6M326.1 83.5h0.6M324.5 82.5h0.6M356.2 78.7h0.6M350.3 80.9h0.6M349.0 71.7h0.6M344.1 70.3h0.6M310.3 80.0h0.6M308.4 79.4h0.6M348.6 91.8h0.6M345.5 75.4h0.6M299.7 75.3h0.6M325.7 79.0h0.6M316.5 74.6h0.6M333.9 70.5h0.6M327.9 86.6h0.6M328.8 90.6h0.6M337.7 79.7h0.6M346.1 72.4h0.6M352.3 78.7h0.6M329.9 76.6h0.6M323.4 67.7h0.6M350.5 82.5h0.6M297.3 77.7h0.6M345.9 85.9h0.6M300.2 76.1h0.6M318.1 77.0h0.6M354.0 76.4h0.6M319.1 66.5h0.6M299.8 82.1h0.6M306.2 70.0h0.6M355.8 70.3h0.6M325.4 74.6h0.6M322.8 66.6h0.6M353.1 79.7h0.6M350.1 74.0h0.6M314.9 77.5h0.6M305.7 78.0h0.6M352.6 77.6h0.6M323.6 77.8h0.6M328.4 76.0h0.6M308.6 78.9h0.6M325.4 82.7h0.6M352.5 75.5h0.6M353.3 74.3h0.6M310.9 75.4h0.6M338.9 79.4h0.6M307.4 75.8h0.6M331.1 74.4h0.6M346.7 66.6h0.6M315.7 87.8h0.6M335.9 68.0h0.6M311.3 84.9h0.6M317.1 81.8h0.6M338.8 84.7h0.6M320.8 78.9h0.6M312.9 79.7h0.6M319.8 79.0h0.6M345.5 81.4h0.6M325.8 83.0h0.6M336.6 88.5h0.6M315.8 71.8h0.6M337.9 80.8h0.6M299.1 80.2h0.6M300.5 80.2h0.6M312.9 72.2h0.6M347.0 79.4h0.6M309.9 78.5h0.6M325.9 79.0h0.6M357.7 64.2h0.6M313.9 81.8h0.6M307.7 71.1h0.6M316.9 89.9h0.6M332.6 82.1h0.6M352.7 76.7h0.6M298.0 78.3h0.6M332.6 78.4h0.6M296.5 76.7h0.6M357.6 76.8h0.6M328.2 79.8h0.6M340.8 71.4h0.6M315.6 81.3h0.6M329.2 85.4h0.6M348.8 84.7h0.6M305.6 81.3h0.6M312.7 83.8h0.6M318.7 81.7h0.6M348.7 86.3h0.6M352.8 77.8h0.6M344.8 80.4h0.6M314.8 85.0h0.6M319.4 89.5h0.6M344.1 74.9h0.6M327.5 67.1h0.6M321.5 91.7h0.6M357.8 84.1h0.6M315.5 87.5h0.6M346.4 83.8h0.6M310.0 78.4h0.6M353.5 73.4h0.6M317.4 71.7h0.6M353.9 86.5h0.6M342.7 84.7h0.6M351.5 79.5h0.6M338.6 69.1h0.6M304.4 75.8h0.6M324.6 73.1h0.6M356.9 75.6h0.6M306.1 67.4h0.6M332.7 79.1h0.6M332.0 89.0h0.6M327.0 73.6h0.6M317.2 77.6h0.6M319.0 79.1h0.6M311.9 72.6h0.6M315.9 79.8h0.6M298.6 76.0h0.6M344.8 74.2h0.6M352.5 79.1h0.6M313.1 77.1h0.6M300.5 77.6h0.6M323.8 71.1h0.6M304.8 79.7h0.6M326.3 69.8h0.6M315.4 82.1h0.6M335.2 73.8h0.6M344.4 68.8h0.6M351.6 76.9h0.6M343.0 69.7h0.6M349.0 73.8h0.6M357.7 76.5h0.6M324.8 82.9h0.6M308.5 80.6h0.6M309.5 79.4h0.6M328.7 75.4h0.6M341.8 66.2h0.6M349.2 75.9h0.6M309.2 76.0h0.6M332.1 76.5h0.6M302.2 76.0h0.6M335.0 73.5h0.6M351.0 82.8h0.6M321.3 68.5h0.6M340.9 77.5h0.6M338.4 86.9h0.6M340.1 71.7h0.6M310.4 73.0h0.6M331.3 75.8h0.6M300.3 76.6h0.6M325.5 79.3h0.6M300.1 80.2h0.6M356.2 76.7h0.6M321.4 81.2h0.6M315.0 74.2h0.6M353.0 74.3h0.6M326.7 79.5h0.6M331.4 72.5h0.6M351.1 85.4h0.6M332.1 74.4h0.6M324.3 76.3h0.6M344.2 69.8h0.6M318.5 74.7h0.6M308.1 73.4h0.6M343.1 73.8h0.6M330.6 64.4h0.6M357.9 77.4h0.6M333.4 90.6h0.6M352.6 65.3h0.6M299.1 80.5h0.6M297.1 77.2h0.6M321.7 83.4h0.6M349.4 70.5h0.6M329.3 92.2h0.6M337.1 69.3h0.6M322.4 76.9h0.6M321.3 87.9h0.6M320.4 69.1h0.6M317.4 63.5h0.6M298.5 77.2h0.6M340.8 71.7h0.6M319.0 71.3h0.6M353.8 71.6h0.6M336.0 66.2h0.6M308.4 83.1h0.6M318.0 84.8h0.6M310.4 71.2h0.6M345.1 76.6h0.6M315.3 74.8h0.6M334.2 85.8h0.6M326.8 71.4h0.6M322.8 88.7h0.6M351.1 77.4h0.6M331.5 71.5h0.6M319.1 76.8h0.6M309.5 74.8h0.6M318.3 91.3h0.6M310.9 78.1h0.6M340.1 73.8h0.6M344.5 78.1h0.6M336.3 88.7h0.6M342.7 70.2h0.6M344.8 64.9h0.6M335.0 87.5h0.6M310.9 80.2h0.6M338.8 74.0h0.6M297.2 77.2h0.6M329.4 85.5h0.6M308.8 65.9h0.6M341.9 86.9h0.6M340.3 76.0h0.6M320.4 81.9h0.6M335.7 77.0h0.6M342.7 100.6h0.6M331.4 72.7h0.6M315.4 83.6h0.6M305.2 68.6h0.6M351.3 77.6h0.6M303.2 79.6h0.6M311.6 69.8h0.6M346.5 62.6h0.6M299.8 77.5h0.6M307.5 81.3h0.6M323.0 85.7h0.6M308.1 74.6h0.6M298.9 77.9h0.6M346.2 67.0h0.6M309.7 85.1h0.6M353.5 73.6h0.6M299.8 79.9h0.6M316.7 75.7h0.6M334.9 74.8h0.6M304.1 82.3h0.6M329.5 70.9h0.6M330.0 87.0h0.6M336.5 74.6h0.6M354.2 71.7h0.6M325.3 71.3h0.6M353.3 84.7h0.6M312.9 76.9h0.6M339.5 74.6h0.6M326.5 66.4h0.6M346.2 85.9h0.6M332.0 85.3h0.6M350.4 79.5h0.6M308.4 80.5h0.6M316.1 58.5h0.6M333.4 73.2h0.6M338.5 78.6h0.6M323.5 78.1h0.6M347.7 73.2h0.6M323.4 79.0h0.6M354.6 72.6h0.6M354.4 73.1h0.6M299.1 75.0h0.6M338.9 78.4h0.6M350.7 72.4h0.6M299.9 76.3h0.6M344.2 87.7h0.6M335.6 77.0h0.6M331.8 77.0h0.6M316.7 68.2h0.6M344.0 73.4h0.6M313.1 82.4h0.6M310.4 79.8h0.6M321.6 77.7h0.6M357.6 76.2h0.6M325.1 77.8h0.6M307.5 78.9h0.6M324.7 75.0h0.6M345.7 58.8h0.6M337.9 92.5h0.6M343.1 85.9h0.6M348.9 76.2h0.6M317.8 86.0h0.6M321.5 68.3h0.6M350.6 86.1h0.6M323.7 78.7h0.6M331.5 84.0h0.6M349.3 74.9h0.6M338.2 78.5h0.6M353.5 81.1h0.6M296.2 78.5h0.6M337.6 81.3h0.6M331.4 80.7h0.6M325.4 73.0h0.6M318.2 88.0h0.6M323.3 78.8h0.6M348.5 75.7h0.6M329.4 74.9h0.6M313.1 71.0h0.6M341.8 71.7h0.6M348.6 66.5h0.6M325.1 78.8h0.6M306.5 77.0h0.6M344.5 78.9h0.6M341.6 67.8h0.6M341.8 74.1h0.6M296.1 76.6h0.6M305.7 80.8h0.6M356.3 68.1h0.6M333.9 65.5h0.6M315.8 84.7h0.6M299.8 78.0h0.6M329.3 65.6h0.6M320.0 86.2h0.6M308.4 83.5h0.6M338.7 86.1h0.6M310.2 67.9h0.6M355.3 78.1h0.6M313.9 72.6h0.6M352.2 75.5h0.6M321.9 66.2h0.6M317.9 88.0h0.6M345.3 72.1h0.6M331.1 79.4h0.6M307.3 80.4h0.6M349.7 81.6h0.6M333.7 80.5h0.6M334.7 74.2h0.6M323.4 78.9h0.6M348.9 75.7h0.6M337.4 59.7h0.6M301.9 79.9h0.6M352.0 73.1h0.6M334.6 73.2h0.6M316.6 74.8h0.6M299.0 74.7h0.6M299.0 75.0h0.6M305.9 70.9h0.6M315.6 80.0h0.6M332.4 86.3h0.6M313.5 77.7h0.6M346.9 68.9h0.6M332.3 87.3h0.6M326.5 75.0h0.6M326.5 65.7h0.6M314.5 66.9h0.6M333.0 78.7h0.6M313.9 85.1h0.6M319.9 74.7h0.6M331.4 72.5h0.6M338.5 75.2h0.6M320.2 71.6h0.6M343.3 73.1h0.6M322.1 79.0h0.6M353.6 72.6h0.6M307.9 81.0h0.6M335.3 69.6h0.6M321.9 82.2h0.6M328.1 79.8h0.6M305.4 76.0h0.6M320.9 75.2h0.6M310.9 75.7h0.6M340.8 90.1h0.6M346.2 71.3h0.6M346.8 85.9h0.6M353.5 83.8h0.6M323.7 74.9h0.6M338.8 89.7h0.6M355.7 62.4h0.6M330.7 79.1h0.6M331.9 78.2h0.6M339.7 77.4h0.6M297.9 78.6h0.6M350.2 74.5h0.6M325.7 75.9h0.6M345.1 85.9h0.6M306.7 76.8h0.6M330.3 69.5h0.6M334.8 81.7h0.6M346.1 76.6h0.6M336.4 72.9h0.6M337.8 81.5h0.6M354.1 72.3h0.6M316.5 71.5h0.6M327.7 75.3h0.6M351.8 76.0h0.6M328.2 77.6h0.6M336.1 67.9h0.6M331.1 90.2h0.6M356.7 81.4h0.6M341.0 78.3h0.6M346.1 78.9h0.6M298.1 73.2h0.6M324.4 83.9h0.6M344.7 69.6h0.6M309.4 79.5h0.6M346.4 68.5h0.6M353.9 83.6h0.6M345.5 73.3h0.6M343.4 75.6h0.6M316.8 86.4h0.6M305.8 80.8h0.6M354.8 68.5h0.6M326.1 72.2h0.6M352.9 78.5h0.6M340.3 75.5h0.6M354.5 82.4h0.6M297.4 76.3h0.6M347.5 63.7h0.6M344.3 70.4h0.6M334.4 75.8h0.6M309.0 79.6h0.6M311.9 81.0h0.6M354.3 85.3h0.6M324.1 78.9h0.6M345.0 75.7h0.6M356.8 81.7h0.6M313.6 76.7h0.6M301.3 76.1h0.6M298.4 76.5h0.6M326.7 84.0h0.6M348.9 87.7h0.6M347.5 86.7h0.6M336.0 64.8h0.6M294.6 78.1h0.6M314.9 71.0h0.6M307.9 75.9h0.6M308.5 79.7h0.6M306.7 72.3h0.6M298.3 75.2h0.6M331.0 71.6h0.6M321.1 88.8h0.6M321.8 84.7h0.6M316.8 71.9h0.6M347.1 78.3h0.6M317.8 78.1h0.6M308.6 78.6h0.6M317.3 73.0h0.6M315.0 85.3h0.6M321.4 74.6h0.6M323.5 83.1h0.6M313.6 68.3h0.6M338.1 80.3h0.6M308.4 77.9h0.6M353.3 86.1h0.6M351.9 59.9h0.6M330.4 81.4h0.6M343.8 83.4h0.6M312.6 75.9h0.6M317.9 85.4h0.6M353.3 91.0h0.6M329.2 83.8h0.6M344.3 83.3h0.6M348.2 86.9h0.6M342.2 80.6h0.6M328.0 86.3h0.6M323.5 81.5h0.6M300.7 75.7h0.6M351.0 70.1h0.6M341.7 86.2h0.6M301.0 78.7h0.6M349.3 72.6h0.6M317.4 77.4h0.6M350.3 87.4h0.6M308.0 70.4h0.6M297.0 76.1h0.6M350.7 82.1h0.6M352.3 82.8h0.6M330.4 68.5h0.6M353.5 70.8h0.6M303.3 77.8h0.6M308.0 83.0h0.6M356.5 77.3h0.6M354.9 62.5h0.6M341.8 85.1h0.6M320.7 77.1h0.6M342.9 73.8h0.6M294.1 76.6h0.6M321.9 85.6h0.6M350.3 79.1h0.6M313.7 79.4h0.6M306.4 78.6h0.6M330.2 80.5h0.6M340.7 83.7h0.6M319.1 88.3h0.6M348.5 69.7h0.6M353.2 76.8h0.6M312.8 74.9h0.6M323.8 89.2h0.6M349.4 75.3h0.6M330.9 65.1h0.6M344.7 77.1h0.6M319.3 72.5h0.6M348.5 72.0h0.6M349.4 74.1h0.6M346.2 67.6h0.6M351.7 64.3h0.6M324.2 91.2h0.6M331.7 76.3h0.6M347.9 70.6h0.6M343.4 82.0h0.6M332.9 87.5h0.6M298.4 74.3h0.6M312.9 75.0h0.6M328.0 79.3h0.6M345.0 70.9h0.6M353.1 80.2h0.6M357.3 69.7h0.6M323.8 72.5h0.6M356.3 76.5h0.6M323.6 80.3h0.6M310.4 77.5h0.6M354.3 72.9h0.6M304.6 76.1h0.6M329.4 61.5h0.6M346.2 93.0h0.6M338.0 74.1h0.6M350.2 75.2h0.6M332.6 79.3h0.6M327.5 81.5h0.6M320.9 79.6h0.6M337.9 72.0h0.6M334.5 64.4h0.6M331.3 75.9h0.6M341.0 71.2h0.6M331.1 73.1h0.6M341.8 77.2h0.6M330.8 79.1h0.6M346.2 86.8h0.6M311.9 76.5h0.6M322.3 65.1h0.6M318.8 81.0h0.6M351.7 83.5h0.6M335.4 64.4h0.6M355.0 81.1h0.6M334.1 78.7h0.6M354.7 73.8h0.6M344.3 78.5h0.6M352.5 79.8h0.6M318.3 81.0h0.6M357.8 84.2h0.6M318.4 77.2h0.6M344.8 77.2h0.6M337.7 95.9h0.6M322.0 69.7h0.6M304.5 76.4h0.6M299.4 76.6h0.6M295.7 78.1h0.6M333.7 85.8h0.6M334.3 67.0h0.6M304.8 81.3h0.6M298.7 75.2h0.6M296.7 80.6h0.6M335.4 72.0h0.6M345.1 85.5h0.6M352.7 75.5h0.6M328.9 82.5h0.6M344.4 71.6h0.6M314.3 78.0h0.6M299.7 77.3h0.6M335.2 78.0h0.6M320.1 82.5h0.6M324.8 74.1h0.6M305.3 76.2h0.6M341.6 67.2h0.6M351.9 76.3h0.6M344.4 73.5h0.6M307.0 80.6h0.6M316.6 81.2h0.6M311.4 73.7h0.6M357.5 79.9h0.6M324.1 86.6h0.6M307.8 76.4h0.6M348.3 68.9h0.6M312.5 89.9h0.6M302.4 78.8h0.6M323.0 82.2h0.6M298.6 81.7h0.6M328.3 71.3h0.6M326.9 79.5h0.6M319.2 65.0h0.6M334.0 81.1h0.6M346.9 80.1h0.6M321.1 71.9h0.6M316.6 72.2h0.6M338.6 75.9h0.6M326.0 75.6h0.6M315.7 86.4h0.6M355.2 75.7h0.6M312.3 76.5h0.6M324.7 76.0h0.6M317.9 67.4h0.6M348.0 73.8h0.6M340.1 66.9h0.6M353.3 78.1h0.6M316.5 64.3h0.6M348.9 69.3h0.6M340.3 79.2h0.6M305.2 70.2h0.6M315.2 68.5h0.6M349.6 84.2h0.6M326.9 67.5h0.6M308.9 77.2h0.6M306.5 78.4h0.6M317.9 70.7h0.6M339.2 64.3h0.6M306.9 83.0h0.6M308.5 74.9h0.6M350.4 80.8h0.6M316.0 72.8h0.6M341.1 80.0h0.6M349.3 68.0h0.6M344.7 66.9h0.6M338.1 69.2h0.6M327.8 72.6h0.6M342.4 72.5h0.6M322.6 74.9h0.6M345.6 80.5h0.6M342.0 73.2h0.6M305.3 80.4h0.6M295.2 76.7h0.6M340.1 82.3h0.6M329.4 87.0h0.6M337.0 90.7h0.6M340.2 62.0h0.6M328.9 90.1h0.6M306.7 70.7h0.6M335.4 88.3h0.6M317.8 77.2h0.6M330.8 79.9h0.6M297.7 75.8h0.6M355.9 83.1h0.6M310.4 80.4h0.6M357.6 73.9h0.6M347.2 72.8h0.6M323.9 83.3h0.6M334.6 85.3h0.6M313.0 81.3h0.6M296.0 76.9h0.6M330.4 77.3h0.6M301.6 79.6h0.6M310.1 81.1h0.6M301.2 80.0h0.6M333.8 78.4h0.6M340.3 71.9h0.6M356.0 79.1h0.6M314.7 79.8h0.6M349.6 73.5h0.6M335.9 80.7h0.6M296.0 76.4h0.6M322.6 79.1h0.6M357.0 73.6h0.6M343.8 93.2h0.6M340.4 86.4h0.6M342.1 79.2h0.6M355.8 69.0h0.6M333.0 67.8h0.6M307.0 79.9h0.6M299.9 77.0h0.6M334.7 79.7h0.6M310.0 70.1h0.6M354.7 67.6h0.6M356.8 78.0h0.6M334.5 75.6h0.6M337.2 66.9h0.6M306.5 74.3h0.6M348.1 82.9h0.6M326.3 74.1h0.6M345.1 81.6h0.6M326.5 89.3h0.6M347.7 79.7h0.6M305.9 77.7h0.6M356.7 73.6h0.6M341.3 86.5h0.6M321.3 67.3h0.6M325.4 69.3h0.6M312.7 77.2h0.6M331.3 66.1h0.6M352.6 83.8h0.6M329.4 72.6h0.6M320.5 80.8h0.6M328.5 75.0h0.6M325.8 75.4h0.6M326.2 77.4h0.6M331.7 62.3h0.6M343.2 69.0h0.6M343.1 73.7h0.6M297.7 80.7h0.6M354.9 82.4h0.6M321.8 82.3h0.6M327.2 69.7h0.6M331.7 84.0h0.6M353.2 85.4h0.6M299.0 78.7h0.6M349.9 95.5h0.6M340.9 67.0h0.6M332.9 69.0h0.6M324.9 75.4h0.6M332.9 69.8h0.6M342.2 77.6h0.6M327.9 81.1h0.6M354.2 77.2h0.6M334.7 78.0h0.6M328.3 80.2h0.6M353.3 82.3h0.6M297.6 76.3h0.6M352.9 72.8h0.6M330.0 86.2h0.6M307.2 76.0h0.6M341.8 70.9h0.6M315.2 78.9h0.6M329.5 74.6h0.6M333.0 78.1h0.6M356.4 76.8h0.6M341.1 82.0h0.6M328.0 84.0h0.6M339.4 70.9h0.6M339.6 67.9h0.6M308.0 83.7h0.6M323.7 72.4h0.6M309.9 70.3h0.6M305.6 70.7h0.6M320.6 77.0h0.6M298.7 76.1h0.6M310.7 68.7h0.6M310.6 72.8h0.6M333.3 69.1h0.6M326.4 84.5h0.6M304.9 78.0h0.6M357.7 77.1h0.6M344.9 67.7h0.6M341.3 75.8h0.6M339.1 82.3h0.6M343.7 78.4h0.6M311.4 82.4h0.6M343.7 77.8h0.6M322.8 82.1h0.6M311.9 79.5h0.6M318.0 73.7h0.6M349.1 86.6h0.6M325.5 79.8h0.6M351.6 82.7h0.6M357.8 70.8h0.6M354.9 70.3h0.6M329.7 75.8h0.6M334.6 70.9h0.6M336.8 82.0h0.6M303.5 78.5h0.6M345.3 86.3h0.6M347.8 81.4h0.6M311.8 71.6h0.6M321.1 83.7h0.6M338.5 72.2h0.6M355.7 72.6h0.6M322.3 77.6h0.6M351.8 77.1h0.6M301.6 79.9h0.6M333.7 99.0h0.6M318.5 79.9h0.6M350.9 87.1h0.6M310.9 76.2h0.6M303.8 78.3h0.6M323.7 73.5h0.6M345.3 74.0h0.6M344.1 87.3h0.6M321.2 80.3h0.6M343.7 80.5h0.6M308.0 74.0h0.6M327.8 89.7h0.6M351.6 76.0h0.6M309.1 74.4h0.6M314.7 77.1h0.6M322.3 81.9h0.6M312.7 81.1h0.6M332.7 88.4h0.6M326.1 69.5h0.6M336.3 73.8h0.6M296.9 79.3h0.6M348.3 93.3h0.6M324.6 72.7h0.6M301.5 77.0h0.6M337.7 65.3h0.6M309.9 73.5h0.6M312.8 72.7h0.6M345.2 76.4h0.6M301.9 74.2h0.6M355.3 83.1h0.6M314.9 76.9h0.6M336.9 75.2h0.6M305.7 80.5h0.6M358.0 75.6h0.6M355.6 69.5h0.6M339.7 77.4h0.6M316.3 89.9h0.6M322.5 77.9h0.6M335.5 81.3h0.6M317.0 76.0h0.6M335.8 75.5h0.6M353.2 80.5h0.6M307.8 66.7h0.6M316.6 69.9h0.6M356.1 73.5h0.6M350.8 75.4h0.6M298.3 79.7h0.6M304.1 84.9h0.6M339.1 82.0h0.6M349.4 80.0h0.6M356.9 81.4h0.6M306.5 82.8h0.6M329.3 69.9h0.6M331.5 73.5h0.6M350.4 78.3h0.6M330.0 79.4h0.6M298.8 73.9h0.6M302.1 78.4h0.6M330.8 65.3h0.6M306.9 80.1h0.6M331.5 83.6h0.6M335.9 59.7h0.6M331.2 81.0h0.6M335.3 78.7h0.6M296.3 76.6h0.6M341.9 84.4h0.6M298.6 80.8h0.6M330.9 80.9h0.6M308.1 72.8h0.6M325.0 66.9h0.6M348.0 68.9h0.6M349.7 70.1h0.6M352.0 84.7h0.6M341.8 79.4h0.6M332.8 77.0h0.6M347.7 83.5h0.6M301.6 77.3h0.6M298.0 77.3h0.6M351.9 71.6h0.6M343.3 72.5h0.6M326.5 77.4h0.6M315.5 70.6h0.6M356.6 87.4h0.6M312.7 77.9h0.6M315.3 74.1h0.6M355.1 83.4h0.6M345.4 69.3h0.6M350.2 84.5h0.6M354.8 77.7h0.6M355.8 88.9h0.6M324.3 73.3h0.6M314.9 75.0h0.6M334.4 70.6h0.6M323.7 68.4h0.6M320.8 78.9h0.6M335.3 69.0h0.6M352.5 79.3h0.6M333.5 72.3h0.6M320.9 84.3h0.6M310.9 65.2h0.6M349.3 80.1h0.6M338.6 77.5h0.6M312.9 77.2h0.6M348.2 72.7h0.6M302.5 82.0h0.6M303.2 76.1h0.6M318.0 79.8h0.6M346.7 75.3h0.6M332.2 74.4h0.6M341.7 77.8h0.6M353.2 81.6h0.6M357.3 70.4h0.6M349.6 73.9h0.6M327.1 66.9h0.6M333.4 80.2h0.6M294.4 76.7h0.6M302.4 75.3h0.6M327.1 81.9h0.6M320.1 77.1h0.6M332.1 80.2h0.6M295.0 77.2h0.6M355.4 79.7h0.6M329.7 77.8h0.6M309.0 72.5h0.6M338.8 78.8h0.6M335.2 74.5h0.6M342.5 75.3h0.6M357.4 78.9h0.6M327.2 73.1h0.6M294.0 76.6h0.6M311.7 83.0h0.6M325.2 90.4h0.6M315.3 75.2h0.6M330.0 85.7h0.6M338.3 80.1h0.6M332.2 72.3h0.6M300.1 75.5h0.6M297.4 76.9h0.6M297.6 76.6h0.6M341.3 74.6h0.6M325.1 76.3h0.6M333.7 68.4h0.6M324.7 83.3h0.6M341.6 68.6h0.6M357.5 70.7h0.6M337.3 84.3h0.6M312.0 81.0h0.6M343.5 88.1h0.6M312.6 77.9h0.6M341.5 72.3h0.6M335.1 86.0h0.6M295.8 77.2h0.6M310.8 76.6h0.6M313.5 72.7h0.6M323.4 80.0h0.6M352.0 61.4h0.6M342.7 81.1h0.6M329.6 62.2h0.6M325.1 83.4h0.6M297.9 74.8h0.6M312.9 80.7h0.6M351.8 93.7h0.6M323.4 75.2h0.6M316.7 70.3h0.6M354.9 89.5h0.6M313.2 74.9h0.6M347.6 69.1h0.6M323.6 86.1h0.6M322.6 57.2h0.6M320.6 67.2h0.6M316.5 69.4h0.6M316.0 73.2h0.6M317.2 64.9h0.6M328.7 83.2h0.6M327.4 84.6h0.6M296.7 77.2h0.6M324.4 74.2h0.6M348.6 66.1h0.6M345.0 80.7h0.6M306.3 74.7h0.6M312.2 80.3h0.6M338.2 85.0h0.6M338.1 77.5h0.6M299.8 72.9h0.6M319.1 71.1h0.6M331.4 87.5h0.6M341.1 79.2h0.6M334.4 88.2h0.6M339.0 60.0h0.6M352.1 76.4h0.6M351.6 76.0h0.6M311.7 69.2h0.6M351.2 72.8h0.6M312.5 82.2h0.6M294.7 77.7h0.6M346.5 73.2h0.6M353.2 79.3h0.6M304.4 81.0h0.6M345.0 69.1h0.6M302.6 78.0h0.6M353.6 84.0h0.6M328.6 72.1h0.6M330.0 86.9h0.6M353.4 76.6h0.6M318.7 84.2h0.6M333.1 84.3h0.6M304.2 78.1h0.6M310.0 75.9h0.6M332.8 72.1h0.6M351.1 78.3h0.6M323.0 78.7h0.6M295.0 78.5h0.6M313.9 76.7h0.6M330.6 79.8h0.6M301.1 81.3h0.6M307.5 78.5h0.6M313.4 79.6h0.6M349.8 88.4h0.6M326.4 77.9h0.6M307.2 78.8h0.6M333.0 83.0h0.6M335.1 76.3h0.6M337.5 68.6h0.6M344.2 66.2h0.6M334.6 75.6h0.6M300.0 79.6h0.6M336.2 84.9h0.6M336.9 89.8h0.6M330.9 84.0h0.6M307.6 74.7h0.6M312.1 69.9h0.6M338.1 73.2h0.6M346.0 75.2h0.6M301.9 75.4h0.6M345.4 84.1h0.6M327.8 71.4h0.6M338.1 81.7h0.6M346.8 82.9h0.6M302.8 72.4h0.6M343.7 74.0h0.6M344.5 86.6h0.6M328.9 83.4h0.6M315.6 77.9h0.6M335.1 68.5h0.6M335.8 71.7h0.6M324.9 77.8h0.6M332.3 86.8h0.6M344.1 80.9h0.6M347.1 76.6h0.6M355.2 78.7h0.6M356.6 82.0h0.6M297.2 74.8h0.6M353.1 70.7h0.6M351.9 77.4h0.6M357.9 84.5h0.6M347.1 85.0h0.6M355.3 72.3h0.6M357.0 77.3h0.6M306.8 74.5h0.6M305.8 75.9h0.6M334.3 78.3h0.6M353.7 74.8h0.6M332.6 72.9h0.6M331.2 68.4h0.6M350.6 66.3h0.6M335.7 75.7h0.6M348.8 78.5h0.6M336.7 81.9h0.6M331.8 70.9h0.6M330.6 71.7h0.6M347.2 86.3h0.6M306.0 78.7h0.6M320.9 83.2h0.6M303.9 75.5h0.6M339.8 71.7h0.6M325.1 68.9h0.6M352.6 83.7h0.6M321.1 69.4h0.6M353.7 66.0h0.6M319.2 72.4h0.6M355.1 85.2h0.6M352.7 77.4h0.6M317.7 78.6h0.6M332.6 78.0h0.6M302.0 77.1h0.6M337.7 75.9h0.6M340.9 66.5h0.6M328.4 89.4h0.6M326.7 76.0h0.6M330.4 86.2h0.6M346.9 65.8h0.6M311.6 79.9h0.6M349.4 68.9h0.6M343.0 67.4h0.6M324.6 79.1h0.6M356.7 83.5h0.6M335.6 87.8h0.6M331.4 87.2h0.6M332.5 75.1h0.6M321.2 82.5h0.6M332.4 72.6h0.6M303.6 75.6h0.6M336.9 79.0h0.6M321.0 76.4h0.6M339.9 83.6h0.6M336.7 63.0h0.6M357.6 84.0h0.6M344.2 72.8h0.6M295.3 78.7h0.6M305.7 81.2h0.6M330.5 68.5h0.6M333.1 76.8h0.6M329.4 82.2h0.6M343.9 71.2h0.6M354.6 72.5h0.6M300.9 76.5h0.6M338.1 82.9h0.6M317.7 82.7h0.6M324.2 74.2h0.6M355.7 82.4h0.6M301.4 80.8h0.6M312.0 81.8h0.6M331.0 71.7h0.6M344.7 70.9h0.6M355.5 79.0h0.6M356.6 82.2h0.6M354.3 79.9h0.6M346.3 74.4h0.6M327.8 70.4h0.6M317.4 84.9h0.6M350.9 76.2h0.6M344.7 91.1h0.6M342.7 68.6h0.6M346.0 74.8h0.6M353.7 73.1h0.6M333.5 91.3h0.6M315.5 84.2h0.6M295.8 76.8h0.6M314.4 66.7h0.6M339.7 86.0h0.6M322.8 78.1h0.6M311.4 71.8h0.6M306.7 71.7h0.6M298.3 78.0h0.6M334.9 75.6h0.6M339.8 78.3h0.6M355.6 79.7h0.6M346.6 74.5h0.6M308.5 76.1h0.6M312.1 80.5h0.6M356.3 76.6h0.6M317.8 75.6h0.6M333.1 82.1h0.6M347.8 63.1h0.6M338.8 86.7h0.6M298.8 78.1h0.6M329.1 71.6h0.6M332.7 75.9h0.6M332.9 86.6h0.6M305.1 79.1h0.6M356.1 66.3h0.6M330.8 69.7h0.6M340.6 78.6h0.6M345.7 90.4h0.6M315.3 81.6h0.6M297.5 77.0h0.6M337.4 81.7h0.6M353.4 77.4h0.6M352.3 75.3h0.6M351.6 79.8h0.6M311.9 66.7h0.6M352.0 84.0h0.6M302.2 78.7h0.6M317.4 74.6h0.6M348.9 71.3h0.6M303.6 73.7h0.6M346.5 79.3h0.6M347.3 78.4h0.6M353.2 78.4h0.6M350.5 88.9h0.6M343.1 60.8h0.6M309.3 74.2h0.6M305.5 74.7h0.6M302.5 79.9h0.6M319.2 75.7h0.6M319.2 71.3h0.6M357.5 78.5h0.6M350.4 80.1h0.6M303.6 82.1h0.6M329.0 79.2h0.6M347.6 74.2h0.6M324.3 73.7h0.6M332.0 71.2h0.6M351.6 80.6h0.6M353.7 82.6h0.6M309.6 76.3h0.6M348.6 76.4h0.6M327.8 87.4h0.6M297.1 77.4h0.6M318.6 80.4h0.6M352.3 70.1h0.6M310.5 74.5h0.6M309.2 68.2h0.6M355.8 68.8h0.6M326.8 80.0h0.6M353.5 85.4h0.6M317.2 75.7h0.6M300.9 74.6h0.6M353.6 77.9h0.6M319.7 84.7h0.6M354.9 76.3h0.6M340.6 84.3h0.6M349.4 76.9h0.6M319.7 69.3h0.6M342.8 70.5h0.6M348.4 75.5h0.6M341.0 94.6h0.6M354.1 81.0h0.6M353.1 75.8h0.6M334.7 79.5h0.6M355.0 78.6h0.6M342.9 74.0h0.6M353.4 76.6h0.6M307.5 76.3h0.6M318.3 81.9h0.6M308.1 83.6h0.6M297.2 79.2h0.6M339.6 74.9h0.6M356.5 80.7h0.6M338.2 71.8h0.6M356.7 70.6h0.6M348.7 77.8h0.6M337.6 82.0h0.6M324.7 76.9h0.6M311.5 81.3h0.6M355.8 82.4h0.6M355.0 82.1h0.6M352.8 76.3h0.6M320.6 68.2h0.6M344.8 90.7h0.6M332.8 73.7h0.6M348.8 82.4h0.6M334.6 81.1h0.6M295.8 76.9h0.6M316.9 88.2h0.6M316.5 81.3h0.6M320.3 77.2h0.6M321.3 74.5h0.6M296.6 76.1h0.6M331.4 67.8h0.6M354.9 80.9h0.6M337.5 73.9h0.6M312.6 75.0h0.6M356.5 80.4h0.6M351.6 75.0h0.6M351.9 81.6h0.6M305.5 75.1h0.6M342.3 73.4h0.6M320.3 83.4h0.6M347.4 72.4h0.6M323.2 81.6h0.6M314.8 80.1h0.6M356.4 77.4h0.6M350.4 66.1h0.6M339.3 67.4h0.6M329.6 69.2h0.6M334.6 67.4h0.6M339.8 83.8h0.6M326.5 71.0h0.6M325.3 68.5h0.6M316.2 74.4h0.6M338.0 76.6h0.6M317.5 67.2h0.6M325.8 81.6h0.6M317.6 81.7h0.6M353.6 73.5h0.6M331.9 83.4h0.6M308.0 71.1h0.6M305.8 75.4h0.6M346.0 76.1h0.6M354.8 77.7h0.6M313.4 83.3h0.6M334.9 74.8h0.6M330.0 69.8h0.6M327.1 78.8h0.6M342.0 78.5h0.6M347.7 80.5h0.6M348.6 75.0h0.6M313.1 78.2h0.6M336.7 72.9h0.6M308.4 79.6h0.6M310.7 74.2h0.6M321.4 73.1h0.6M335.0 86.3h0.6M330.3 71.7h0.6M299.6 77.3h0.6M330.3 81.5h0.6M309.5 75.9h0.6M309.6 81.2h0.6M350.9 73.4h0.6M339.2 85.0h0.6M314.9 68.7h0.6M346.0 67.5h0.6M357.1 77.7h0.6M350.4 87.0h0.6M307.9 83.7h0.6M339.9 70.8h0.6M325.4 77.1h0.6M327.2 73.7h0.6M310.5 67.5h0.6M306.1 79.9h0.6M356.7 75.0h0.6M328.2 87.2h0.6M309.1 78.5h0.6M328.6 73.4h0.6M328.2 72.3h0.6M308.5 76.5h0.6M344.3 80.6h0.6M338.0 73.6h0.6M343.3 98.1h0.6M349.6 78.7h0.6M351.7 69.8h0.6M358.0 77.8h0.6M342.4 85.8h0.6M357.0 79.9h0.6M357.4 75.3h0.6M311.2 74.1h0.6M324.2 71.7h0.6M329.6 68.6h0.6M328.9 73.5h0.6M303.9 78.1h0.6M324.3 73.3h0.6M347.0 88.9h0.6M331.3 80.1h0.6M340.3 74.0h0.6M341.7 77.0h0.6M338.0 88.4h0.6M296.0 75.5h0.6M323.6 78.9h0.6M344.7 97.1h0.6M322.7 84.2h0.6M356.4 71.8h0.6M355.9 78.1h0.6M331.5 75.5h0.6M357.0 94.0h0.6M312.2 74.0h0.6M329.6 75.3h0.6M354.2 75.2h0.6M303.3 73.2h0.6M331.4 52.7h0.6M325.7 75.6h0.6M324.1 80.9h0.6M326.8 74.2h0.6M336.6 81.1h0.6M354.1 82.1h0.6M300.0 78.7h0.6M307.7 70.7h0.6M341.4 88.6h0.6M333.1 83.8h0.6M343.3 83.2h0.6M350.0 77.4h0.6M348.7 77.3h0.6M319.7 73.8h0.6M312.8 79.4h0.6M337.7 84.3h0.6M300.3 76.1h0.6M336.2 83.5h0.6M337.7 73.7h0.6M329.9 81.7h0.6M350.4 76.3h0.6M301.4 79.4h0.6M296.7 79.7h0.6M354.5 78.7h0.6M349.8 73.9h0.6M298.6 76.6h0.6M343.2 81.9h0.6M335.8 73.5h0.6M307.5 81.1h0.6M325.6 79.4h0.6M336.4 84.2h0.6M336.9 73.1h0.6M311.8 72.6h0.6M295.8 76.5h0.6M301.0 78.2h0.6M314.5 73.0h0.6M319.3 81.7h0.6M312.1 67.1h0.6M321.1 72.8h0.6M304.3 76.8h0.6M324.3 64.4h0.6M320.7 73.2h0.6M318.4 68.0h0.6M323.6 76.8h0.6M350.9 75.7h0.6M346.9 82.6h0.6M306.4 74.3h0.6M304.1 72.3h0.6M334.4 73.2h0.6M303.1 77.7h0.6M348.2 78.0h0.6M323.0 78.5h0.6M357.0 84.7h0.6M322.7 74.8h0.6M333.1 75.7h0.6M301.1 75.3h0.6M309.7 74.7h0.6M310.3 82.0h0.6M354.9 79.6h0.6M357.7 61.8h0.6M338.7 86.5h0.6M338.1 62.2h0.6M345.5 74.3h0.6M327.2 84.3h0.6M354.6 78.2h0.6M314.0 80.3h0.6M353.4 82.9h0.6M296.8 77.7h0.6M335.9 67.7h0.6M337.4 80.2h0.6M345.3 72.2h0.6M310.3 66.4h0.6M321.1 75.4h0.6M353.9 80.8h0.6M311.5 77.9h0.6M318.2 77.4h0.6M335.2 90.7h0.6M357.4 79.0h0.6M320.4 83.4h0.6M309.7 78.8h0.6M306.0 83.1h0.6M357.4 75.1h0.6M315.4 84.0h0.6M344.5 90.8h0.6M301.8 76.4h0.6M326.5 84.9h0.6M335.6 67.0h0.6M344.0 79.7h0.6M338.5 83.0h0.6M326.1 71.4h0.6M309.2 69.7h0.6M325.6 77.7h0.6M328.6 75.0h0.6M319.5 78.6h0.6M307.6 78.5h0.6M352.0 82.9h0.6M311.2 84.8h0.6M323.4 80.4h0.6M328.5 66.3h0.6M309.2 80.2h0.6M346.6 80.2h0.6M308.8 78.0h0.6M349.2 88.4h0.6M297.5 77.7h0.6M297.2 76.8h0.6M331.8 80.9h0.6M332.8 65.4h0.6M328.3 84.4h0.6M353.7 77.8h0.6M344.9 90.0h0.6M348.8 82.2h0.6M346.4 80.2h0.6M348.6 78.8h0.6M347.9 69.1h0.6M352.3 76.9h0.6M345.2 79.7h0.6M310.4 81.9h0.6M331.6 80.7h0.6M342.3 82.7h0.6M331.3 82.6h0.6M331.2 73.6h0.6M319.8 79.5h0.6M309.6 76.5h0.6M352.9 69.4h0.6M322.6 67.1h0.6M297.4 78.5h0.6M322.2 87.4h0.6M358.0 85.9h0.6M296.7 76.3h0.6M357.4 86.5h0.6M310.9 84.7h0.6M298.3 76.1h0.6M357.7 80.4h0.6M315.8 87.2h0.6M356.6 78.1h0.6M315.7 84.2h0.6M321.9 73.3h0.6M357.1 75.5h0.6M315.6 82.5h0.6M348.6 76.4h0.6M349.6 78.4h0.6M324.6 78.2h0.6M305.8 73.9h0.6M347.9 88.1h0.6M308.6 76.9h0.6M322.8 75.3h0.6M311.8 75.3h0.6M352.8 78.0h0.6M317.1 72.0h0.6M333.6 84.2h0.6M340.6 75.0h0.6M316.0 82.0h0.6M334.8 70.9h0.6M343.1 70.0h0.6M357.2 72.0h0.6M326.6 79.2h0.6M321.2 68.6h0.6M321.6 83.3h0.6M334.2 75.1h0.6M319.4 83.3h0.6M325.3 74.8h0.6M338.8 83.7h0.6M344.1 70.0h0.6M343.4 69.4h0.6M339.7 82.0h0.6M307.3 75.3h0.6M340.7 85.5h0.6M312.8 73.9h0.6M350.1 81.0h0.6M352.7 72.2h0.6M316.9 67.3h0.6M355.6 86.3h0.6M338.4 76.0h0.6M343.9 84.7h0.6M343.6 78.8h0.6M340.3 64.6h0.6M307.1 78.9h0.6M335.9 85.8h0.6M356.8 85.3h0.6M348.9 88.9h0.6M327.9 80.4h0.6M357.1 76.9h0.6M352.9 77.9h0.6M327.4 69.1h0.6M350.2 82.5h0.6M316.2 81.6h0.6M307.7 78.8h0.6M330.8 71.8h0.6M348.1 82.0h0.6M342.0 73.4h0.6M319.1 85.3h0.6M330.3 73.0h0.6M345.9 73.6h0.6M343.7 75.1h0.6M355.4 71.1h0.6M308.0 73.8h0.6M344.2 75.4h0.6M340.2 58.9h0.6M317.3 89.4h0.6M355.8 79.7h0.6M330.4 79.6h0.6M338.7 70.8h0.6M357.6 78.6h0.6M333.0 77.4h0.6M340.2 78.2h0.6M335.5 66.1h0.6M349.6 76.6h0.6M340.6 63.2h0.6M307.7 76.6h0.6M300.4 75.4h0.6M352.9 73.5h0.6M345.1 75.0h0.6M306.2 80.4h0.6M351.2 85.6h0.6M340.0 77.6h0.6M336.9 69.2h0.6M345.0 88.4h0.6M354.3 68.5h0.6M318.6 73.9h0.6M300.4 76.9h0.6M340.9 71.8h0.6M319.2 85.9h0.6M343.2 80.4h0.6M341.2 85.5h0.6M340.8 75.1h0.6M348.2 83.5h0.6M308.6 76.7h0.6M310.3 76.7h0.6M331.9 79.6h0.6M309.3 79.0h0.6M331.0 81.6h0.6M316.3 76.1h0.6M357.3 68.3h0.6M349.5 75.2h0.6M346.9 58.0h0.6M351.1 75.4h0.6M314.8 72.9h0.6M332.6 83.6h0.6M337.4 56.6h0.6M299.8 81.4h0.6M315.0 75.4h0.6M348.8 66.2h0.6M315.6 79.7h0.6M353.1 80.5h0.6M329.0 80.5h0.6M330.8 93.6h0.6M306.0 74.4h0.6M350.3 79.3h0.6M325.3 78.4h0.6M313.2 73.8h0.6M309.4 78.6h0.6M309.1 82.7h0.6M346.2 71.1h0.6M322.7 80.5h0.6M336.1 85.1h0.6M321.4 81.8h0.6M354.2 67.1h0.6M331.6 79.4h0.6M328.7 74.5h0.6M355.1 85.0h0.6M348.3 76.4h0.6M357.0 89.2h0.6M345.8 68.3h0.6M313.7 80.0h0.6M328.5 70.9h0.6M347.0 90.1h0.6M313.8 85.7h0.6M327.6 70.6h0.6M306.4 80.0h0.6M327.4 77.0h0.6M334.0 64.9h0.6M309.9 72.7h0.6M336.4 78.1h0.6M307.9 79.4h0.6M330.5 74.5h0.6M341.7 79.5h0.6M343.8 79.7h0.6M326.8 79.4h0.6M309.7 72.1h0.6M356.8 78.1h0.6M333.3 81.4h0.6M330.0 66.2h0.6M298.7 80.0h0.6M345.3 88.1h0.6M346.8 78.5h0.6M343.2 93.0h0.6M328.2 71.4h0.6M328.6 70.4h0.6M348.8 72.9h0.6M354.5 72.8h0.6M336.2 91.5h0.6M338.8 77.7h0.6M349.6 76.9h0.6M320.9 79.8h0.6M309.9 84.4h0.6M344.9 78.6h0.6M337.4 74.4h0.6M321.0 79.2h0.6M349.7 86.0h0.6M345.1 75.8h0.6M298.2 79.6h0.6M331.1 79.6h0.6M342.3 76.0h0.6M353.2 80.5h0.6M342.6 92.2h0.6M314.2 76.0h0.6M308.1 82.9h0.6M356.1 80.8h0.6M350.7 78.4h0.6M326.2 77.7h0.6M325.5 83.2h0.6M345.7 81.9h0.6M339.0 80.2h0.6M316.0 81.1h0.6M329.9 71.0h0.6M356.9 73.4h0.6M327.8 70.1h0.6M296.9 76.9h0.6M304.6 76.6h0.6M308.2 75.8h0.6M339.5 81.4h0.6M322.7 70.7h0.6M339.9 75.5h0.6M317.5 82.6h0.6M347.1 89.4h0.6M330.6 77.7h0.6M354.7 84.9h0.6M345.7 87.4h0.6M329.5 69.8h0.6M356.6 78.8h0.6M319.9 70.5h0.6M328.9 74.5h0.6M322.0 80.2h0.6M298.1 75.3h0.6M319.1 80.7h0.6M301.7 77.0h0.6M305.3 76.5h0.6M305.6 79.2h0.6M323.0 71.6h0.6M334.0 64.4h0.6M334.6 77.6h0.6M338.6 71.9h0.6M310.8 76.4h0.6M317.8 70.7h0.6M306.2 74.0h0.6M353.1 70.7h0.6M308.6 72.0h0.6M338.3 71.1h0.6M330.5 71.5h0.6M302.0 77.4h0.6M349.2 99.2h0.6M331.2 72.7h0.6M334.3 65.2h0.6M344.9 81.6h0.6M318.8 69.6h0.6M324.0 71.0h0.6M307.5 76.0h0.6M351.7 77.5h0.6M323.6 77.7h0.6M350.1 78.9h0.6M350.3 76.5h0.6M325.1 85.1h0.6M336.3 83.6h0.6M314.2 74.3h0.6M329.6 75.7h0.6M319.4 68.6h0.6M354.4 81.4h0.6M340.4 75.7h0.6M352.7 89.6h0.6M315.0 73.5h0.6M312.1 84.7h0.6M294.4 76.7h0.6M335.8 64.4h0.6M318.0 72.0h0.6M316.8 79.2h0.6M327.9 84.5h0.6M334.7 70.5h0.6M344.9 84.3h0.6M352.1 73.8h0.6M311.3 74.8h0.6M330.4 75.0h0.6M353.8 87.7h0.6M319.6 78.4h0.6M333.9 79.5h0.6M327.5 66.3h0.6M344.8 78.4h0.6M343.7 79.2h0.6M324.7 88.6h0.6M316.2 72.2h0.6M338.2 71.9h0.6M354.6 71.5h0.6M324.8 72.6h0.6M330.7 82.1h0.6M314.9 72.9h0.6M352.2 85.5h0.6M300.2 77.3h0.6M323.6 70.8h0.6M303.3 75.4h0.6M327.3 67.3h0.6M336.5 66.1h0.6M304.9 81.0h0.6M340.3 83.7h0.6M316.2 71.6h0.6M312.4 74.9h0.6M320.9 87.8h0.6M354.3 72.6h0.6M351.9 78.6h0.6M318.5 80.3h0.6M298.0 76.9h0.6M304.0 76.7h0.6M328.0 74.7h0.6M297.4 77.4h0.6M341.4 65.5h0.6M336.5 77.4h0.6M325.5 78.4h0.6M308.0 71.9h0.6M355.7 79.9h0.6M322.8 70.7h0.6M314.9 62.8h0.6M357.2 65.6h0.6M344.9 77.8h0.6M333.2 81.3h0.6M321.7 74.2h0.6M348.0 66.9h0.6M342.2 75.8h0.6M352.0 83.1h0.6M356.8 76.8h0.6M335.4 65.8h0.6M349.0 80.3h0.6M353.5 75.8h0.6M312.0 76.3h0.6M338.1 77.5h0.6M350.1 80.8h0.6M347.5 76.3h0.6M344.3 69.9h0.6M328.4 76.2h0.6M351.0 77.9h0.6M330.2 85.7h0.6M318.0 69.6h0.6M327.4 76.0h0.6M348.8 71.0h0.6M302.4 77.9h0.6M295.9 76.7h0.6M301.0 70.1h0.6M306.7 80.6h0.6M313.9 73.6h0.6M307.1 73.1h0.6M296.6 75.4h0.6M316.4 70.9h0.6M336.8 67.1h0.6M344.5 75.9h0.6M329.2 78.0h0.6M354.2 76.5h0.6M299.2 77.9h0.6M351.8 71.5h0.6M299.6 78.4h0.6M336.5 76.2h0.6M312.0 79.3h0.6M343.1 81.5h0.6M344.7 74.3h0.6M348.3 85.6h0.6M318.1 81.9h0.6M308.6 75.4h0.6M345.4 89.8h0.6M341.4 89.4h0.6M328.1 65.9h0.6M326.7 61.0h0.6M330.8 72.4h0.6M355.7 79.9h0.6M306.2 80.5h0.6M336.3 82.0h0.6M350.6 77.0h0.6M304.3 80.2h0.6M344.5 82.3h0.6M348.5 74.0h0.6M315.0 78.1h0.6M321.2 84.2h0.6M326.4 72.5h0.6M357.5 73.4h0.6M353.2 71.7h0.6M354.3 86.3h0.6M322.7 81.7h0.6M352.0 82.6h0.6M330.5 74.3h0.6M336.4 76.9h0.6M339.9 86.1h0.6M344.2 75.0h0.6M320.7 84.9h0.6M323.0 77.0h0.6M306.1 77.1h0.6M351.2 80.8h0.6M328.0 83.3h0.6M355.9 87.8h0.6M316.1 75.2h0.6M338.1 89.8h0.6M357.8 72.7h0.6M342.0 70.8h0.6M352.6 62.7h0.6M354.5 82.4h0.6M332.8 88.2h0.6M310.4 71.8h0.6M338.2 74.7h0.6M339.5 75.2h0.6M319.8 67.2h0.6M310.5 77.5h0.6M321.5 79.2h0.6M346.5 73.6h0.6M319.6 70.7h0.6M347.3 78.1h0.6M322.4 81.2h0.6M347.7 67.2h0.6M337.1 76.4h0.6M354.9 80.6h0.6M313.5 62.7h0.6M346.0 79.5h0.6M327.7 89.5h0.6M312.1 70.9h0.6M309.3 82.7h0.6M314.9 75.6h0.6M341.0 81.7h0.6M350.2 76.1h0.6M318.7 70.1h0.6M321.0 65.8h0.6M305.9 85.5h0.6M332.5 67.2h0.6M305.0 76.4h0.6M319.3 86.2h0.6M353.1 79.1h0.6M331.8 78.5h0.6M319.1 64.6h0.6M345.1 72.7h0.6M294.2 76.4h0.6M344.2 64.0h0.6M347.9 79.7h0.6M330.0 83.3h0.6M312.5 73.4h0.6M313.3 73.9h0.6M352.8 80.0h0.6M343.0 83.7h0.6M356.7 70.9h0.6M311.0 82.7h0.6M326.0 83.8h0.6M346.6 77.2h0.6M335.7 68.7h0.6M329.8 81.3h0.6M306.7 79.8h0.6M355.0 88.1h0.6M312.5 74.2h0.6M343.2 88.9h0.6M336.7 74.5h0.6M346.6 81.0h0.6M346.0 76.4h0.6M328.4 77.8h0.6M333.0 88.2h0.6M302.3 75.5h0.6M344.9 83.3h0.6M317.2 75.6h0.6M305.6 77.1h0.6M299.2 75.9h0.6M317.9 78.4h0.6M306.6 70.0h0.6M309.4 76.1h0.6M325.0 84.3h0.6M321.4 82.9h0.6M316.4 67.9h0.6M310.2 72.2h0.6M337.1 74.1h0.6M333.1 91.3h0.6M324.2 74.2h0.6M311.2 77.2h0.6M346.7 75.5h0.6M304.3 78.2h0.6M323.7 70.9h0.6M312.1 78.5h0.6M343.5 80.7h0.6M332.8 85.1h0.6M353.4 71.6h0.6M340.3 84.0h0.6M339.0 91.7h0.6M302.4 79.4h0.6M295.8 78.0h0.6M338.8 58.8h0.6M346.7 86.9h0.6M350.8 90.1h0.6M357.4 84.5h0.6M351.6 80.6h0.6M333.8 83.6h0.6M341.4 99.7h0.6M321.9 72.4h0.6M356.9 74.8h0.6M356.7 83.9h0.6M342.5 79.2h0.6M313.9 65.8h0.6M334.4 79.0h0.6M341.2 79.9h0.6M348.2 70.7h0.6M339.0 80.1h0.6M347.5 79.0h0.6M346.2 64.2h0.6M339.5 81.2h0.6M305.4 84.5h0.6M344.2 90.2h0.6M328.9 69.0h0.6M347.5 67.8h0.6M304.8 77.5h0.6M330.1 79.3h0.6M319.6 68.6h0.6M329.7 71.8h0.6M357.1 85.5h0.6M345.9 79.0h0.6M351.8 84.2h0.6M349.6 77.0h0.6M300.9 79.7h0.6M343.3 73.3h0.6M344.5 73.4h0.6M345.3 70.2h0.6M315.3 66.5h0.6M323.1 74.5h0.6M339.2 66.9h0.6M316.6 74.5h0.6M331.1 78.3h0.6M325.5 78.5h0.6M302.1 78.3h0.6M301.8 76.3h0.6M312.1 77.0h0.6M328.0 85.7h0.6M353.6 76.2h0.6M345.5 77.4h0.6M318.9 61.7h0.6M346.8 69.2h0.6M348.0 85.0h0.6M354.3 71.7h0.6M342.2 69.1h0.6M337.5 84.6h0.6M340.5 67.9h0.6M302.1 79.8h0.6M336.3 76.4h0.6M299.1 76.1h0.6M338.4 61.5h0.6M340.3 87.3h0.6M323.4 64.4h0.6M309.8 71.8h0.6M331.7 83.1h0.6M308.5 72.1h0.6M323.6 80.8h0.6M342.4 76.9h0.6M298.1 76.8h0.6M354.7 70.5h0.6M352.1 72.8h0.6M322.6 79.1h0.6M348.8 70.3h0.6M348.4 81.6h0.6M342.7 79.0h0.6M325.9 81.1h0.6M322.4 78.8h0.6M311.9 80.0h0.6M347.7 79.9h0.6M340.6 83.4h0.6M356.3 79.5h0.6M337.6 79.6h0.6M294.8 76.6h0.6M311.7 68.7h0.6M299.3 77.4h0.6M317.8 83.0h0.6M335.1 69.9h0.6M333.8 64.9h0.6M336.9 72.9h0.6M322.7 79.7h0.6M353.6 82.7h0.6M327.0 74.8h0.6M314.2 70.8h0.6M325.5 76.7h0.6M323.8 82.0h0.6M310.2 77.0h0.6M335.0 85.0h0.6M332.4 73.3h0.6M296.2 78.3h0.6M318.4 87.4h0.6M305.5 73.8h0.6M320.9 71.3h0.6M309.4 80.0h0.6M301.4 84.9h0.6M323.0 80.7h0.6M299.0 77.2h0.6M301.4 80.4h0.6M343.4 76.3h0.6M313.3 68.7h0.6M345.7 70.1h0.6M325.7 86.8h0.6M334.8 64.1h0.6M349.4 67.2h0.6M304.6 79.9h0.6M297.2 77.5h0.6M321.9 85.5h0.6M355.6 70.5h0.6M322.2 72.0h0.6M325.3 74.7h0.6M336.9 67.6h0.6M294.3 77.1h0.6M336.1 75.8h0.6M339.7 83.7h0.6M353.3 76.6h0.6M339.1 74.1h0.6M340.3 80.9h0.6M303.6 80.5h0.6M327.5 84.7h0.6M312.4 78.6h0.6M318.7 74.8h0.6M302.0 76.0h0.6M324.0 67.9h0.6M308.0 77.5h0.6M318.6 77.0h0.6M298.2 80.0h0.6M356.7 78.5h0.6M325.4 82.5h0.6M320.6 85.9h0.6M341.4 63.0h0.6M344.9 72.3h0.6M340.9 75.3h0.6M319.5 77.9h0.6M333.4 68.4h0.6M326.6 83.4h0.6M345.1 83.9h0.6M324.3 80.7h0.6M354.0 81.5h0.6M325.5 69.3h0.6M313.0 83.1h0.6M351.2 73.0h0.6M301.4 72.6h0.6M357.7 77.9h0.6M357.5 79.7h0.6M330.3 72.0h0.6M319.6 66.4h0.6M305.2 73.4h0.6M327.8 76.0h0.6M343.2 58.0h0.6M312.1 82.3h0.6M341.4 84.7h0.6M319.1 76.0h0.6M333.2 85.2h0.6M347.2 76.0h0.6M329.8 68.7h0.6M339.8 82.0h0.6M321.5 81.0h0.6M335.5 69.9h0.6M348.2 67.1h0.6M351.9 70.6h0.6M355.4 84.5h0.6M317.6 75.3h0.6M304.3 86.1h0.6M297.7 76.3h0.6M308.3 79.7h0.6M343.1 79.6h0.6M310.9 76.1h0.6M345.7 83.3h0.6M300.2 75.4h0.6M346.7 76.7h0.6M325.2 68.7h0.6M308.7 68.1h0.6M336.2 77.7h0.6M345.1 68.6h0.6M300.5 74.4h0.6M325.5 81.3h0.6M303.7 76.7h0.6M355.6 79.6h0.6M326.5 89.7h0.6M328.9 78.5h0.6M336.4 80.6h0.6M348.6 68.7h0.6M354.8 82.5h0.6M324.9 83.3h0.6M326.1 69.6h0.6M349.4 81.7h0.6M344.2 79.5h0.6M341.1 75.5h0.6M347.7 77.8h0.6M354.4 92.7h0.6M300.0 75.9h0.6M334.8 74.6h0.6M316.1 77.8h0.6M353.8 76.0h0.6M297.0 74.8h0.6M324.7 81.8h0.6M329.0 84.0h0.6M302.5 81.9h0.6M320.5 73.4h0.6M323.6 68.2h0.6M304.3 79.3h0.6M345.8 69.6h0.6M321.8 77.1h0.6M328.5 74.2h0.6M347.7 78.5h0.6M353.5 74.3h0.6M315.7 81.2h0.6M345.0 70.3h0.6M318.2 92.1h0.6M355.5 82.1h0.6M354.0 73.1h0.6M330.5 69.9h0.6M303.5 76.7h0.6M350.3 73.9h0.6M341.2 70.9h0.6M347.1 87.3h0.6M331.6 84.5h0.6M356.1 70.5h0.6M322.0 81.1h0.6M345.9 77.3h0.6M304.1 79.6h0.6M353.9 72.9h0.6M320.7 91.6h0.6M307.2 77.5h0.6M326.1 91.7h0.6M306.6 75.5h0.6M335.1 87.7h0.6M338.5 76.4h0.6M314.4 86.4h0.6M303.4 76.7h0.6M350.0 69.8h0.6M341.0 69.0h0.6M337.7 72.3h0.6M356.0 81.0h0.6M304.8 78.5h0.6M332.4 78.1h0.6M300.0 79.5h0.6M351.1 88.4h0.6M349.8 70.3h0.6M324.5 84.4h0.6M335.9 95.2h0.6M344.3 72.6h0.6M339.3 72.9h0.6M341.9 80.3h0.6M316.1 78.6h0.6M343.5 73.2h0.6M344.6 76.7h0.6M330.0 89.3h0.6M333.2 84.3h0.6M325.2 71.4h0.6M337.1 64.0h0.6M353.4 70.0h0.6M298.4 77.6h0.6M345.8 71.4h0.6M343.7 70.9h0.6M326.8 82.5h0.6M312.3 75.8h0.6M338.0 74.3h0.6M345.6 78.8h0.6M308.3 83.2h0.6M334.5 79.6h0.6M344.5 82.4h0.6M316.2 77.7h0.6M348.9 88.2h0.6M333.4 67.8h0.6M302.2 74.3h0.6M349.3 73.7h0.6M298.2 80.7h0.6M348.8 88.2h0.6M333.8 68.8h0.6M295.0 76.9h0.6M308.1 79.5h0.6M306.3 77.5h0.6M339.2 84.1h0.6M345.8 73.6h0.6M322.5 65.6h0.6M339.0 82.0h0.6M334.3 87.0h0.6M350.6 66.8h0.6M314.5 67.0h0.6M306.3 75.7h0.6M325.3 63.8h0.6M349.4 80.3h0.6M315.6 70.7h0.6M348.4 82.6h0.6M303.2 76.3h0.6M350.7 78.2h0.6M327.6 82.1h0.6M349.2 75.9h0.6M328.7 69.8h0.6M332.3 84.3h0.6M341.9 66.1h0.6M309.3 83.4h0.6M297.4 76.4h0.6M324.1 73.5h0.6M306.8 78.8h0.6M313.6 79.5h0.6M309.4 79.5h0.6M305.5 72.2h0.6M350.1 71.2h0.6M337.7 79.9h0.6M321.9 79.9h0.6M352.3 76.7h0.6M295.6 78.6h0.6M353.5 76.2h0.6M347.5 84.1h0.6M328.9 85.4h0.6M354.7 79.5h0.6M321.5 76.0h0.6M307.3 80.2h0.6M304.2 78.7h0.6M343.8 82.0h0.6M318.4 71.9h0.6M316.2 80.0h0.6M347.8 88.7h0.6M351.3 75.4h0.6M323.8 78.3h0.6M321.3 75.7h0.6M331.6 84.0h0.6M324.9 62.6h0.6M351.8 88.0h0.6M332.6 81.3h0.6M316.2 76.0h0.6M295.0 77.5h0.6M355.2 84.5h0.6M320.8 79.9h0.6M355.0 81.6h0.6M352.1 85.4h0.6M326.4 78.6h0.6M313.7 81.3h0.6M343.4 88.5h0.6M303.7 79.0h0.6M300.9 75.9h0.6M297.7 78.5h0.6M334.7 93.2h0.6M346.5 75.1h0.6M339.2 80.9h0.6M354.2 80.1h0.6M302.5 79.7h0.6M343.9 74.3h0.6M342.2 77.3h0.6M343.3 92.1h0.6M331.5 82.6h0.6M306.9 75.0h0.6M321.3 82.8h0.6M314.6 77.7h0.6M355.8 87.0h0.6M346.2 65.6h0.6M353.5 78.1h0.6M335.2 85.0h0.6M300.6 74.5h0.6M344.6 71.9h0.6M322.4 80.7h0.6M339.5 77.7h0.6M327.1 75.2h0.6M334.7 79.8h0.6M308.9 71.5h0.6M352.8 71.9h0.6M319.4 88.5h0.6M350.8 73.0h0.6M353.2 80.3h0.6M334.9 77.0h0.6M308.9 81.0h0.6M324.9 79.8h0.6M331.2 80.5h0.6M317.8 84.5h0.6M302.1 78.2h0.6M355.5 66.8h0.6M336.8 72.4h0.6M331.5 88.2h0.6M304.2 80.6h0.6M332.0 75.7h0.6M347.9 66.2h0.6M310.3 74.1h0.6M353.6 90.8h0.6M311.9 83.3h0.6M306.7 81.9h0.6M345.8 65.6h0.6M310.7 71.1h0.6M352.0 73.5h0.6M316.1 69.6h0.6M303.0 77.7h0.6M337.6 69.1h0.6M296.7 77.9h0.6M304.9 76.6h0.6M335.7 73.1h0.6M344.4 82.3h0.6M331.0 80.8h0.6M349.2 78.3h0.6M309.4 75.8h0.6M347.6 77.1h0.6M327.8 63.4h0.6M350.6 64.1h0.6M307.2 74.8h0.6M333.0 78.5h0.6M303.6 82.5h0.6M309.5 79.1h0.6M321.8 70.6h0.6M333.8 73.7h0.6M334.4 67.7h0.6M314.6 77.1h0.6M318.7 76.8h0.6M356.3 77.2h0.6M297.6 77.7h0.6M324.7 84.8h0.6M350.0 82.1h0.6M341.2 68.7h0.6M335.2 83.9h0.6M308.5 73.2h0.6M315.3 79.5h0.6M357.7 78.0h0.6M334.7 90.3h0.6M317.7 76.8h0.6M354.4 76.8h0.6M348.5 75.5h0.6M345.2 83.8h0.6M313.9 79.0h0.6M325.0 75.5h0.6M349.9 83.1h0.6M317.3 90.0h0.6M356.1 87.4h0.6M325.8 88.1h0.6M331.1 73.5h0.6M345.7 76.8h0.6M304.0 77.8h0.6M337.8 64.5h0.6M336.6 90.6h0.6M309.3 71.2h0.6M309.5 79.1h0.6M297.8 75.5h0.6M322.8 78.3h0.6M338.9 83.7h0.6M301.9 78.7h0.6M331.7 71.0h0.6M309.8 74.5h0.6M348.6 83.9h0.6M301.6 77.2h0.6M295.0 77.4h0.6M340.2 84.5h0.6M321.9 60.2h0.6M353.4 79.1h0.6M324.0 86.3h0.6M347.0 90.2h0.6M329.5 82.5h0.6M330.1 72.1h0.6M324.1 84.3h0.6M342.1 91.5h0.6M298.1 76.3h0.6M348.2 72.4h0.6M339.9 76.4h0.6M343.9 74.4h0.6M304.4 71.0h0.6M343.0 59.9h0.6M331.7 67.7h0.6M343.1 72.8h0.6M332.2 80.8h0.6M352.3 74.0h0.6M348.1 78.7h0.6M334.9 88.0h0.6M357.3 95.3h0.6M331.9 84.0h0.6M321.4 70.9h0.6M350.9 84.1h0.6M310.7 77.4h0.6M345.8 80.0h0.6M333.6 84.8h0.6M357.1 82.1h0.6M299.7 74.7h0.6M318.2 70.5h0.6M354.1 79.1h0.6M335.5 82.9h0.6M312.5 88.0h0.6M342.3 81.9h0.6M330.4 74.8h0.6M334.9 73.7h0.6M309.8 74.3h0.6M297.9 75.3h0.6M353.1 69.0h0.6M340.2 73.3h0.6M356.4 78.0h0.6M330.6 71.8h0.6M316.5 77.5h0.6M299.9 76.8h0.6M334.1 75.7h0.6M346.4 74.3h0.6M354.2 79.2h0.6M323.4 77.5h0.6M316.5 62.1h0.6M314.3 78.8h0.6M354.7 78.1h0.6M340.9 72.9h0.6M332.7 78.7h0.6M353.9 73.0h0.6M344.6 78.3h0.6M332.7 70.8h0.6M346.1 82.3h0.6M340.2 80.0h0.6M344.9 66.7h0.6M320.7 72.8h0.6M342.3 82.6h0.6M308.9 79.1h0.6M299.3 77.6h0.6M330.8 69.0h0.6M345.6 72.4h0.6M313.3 78.2h0.6M352.2 79.3h0.6M328.8 77.3h0.6M340.2 71.2h0.6M351.2 75.9h0.6M347.5 73.9h0.6M339.5 68.7h0.6M317.0 70.9h0.6M310.0 73.8h0.6M334.9 65.9h0.6M336.0 81.0h0.6M336.5 83.2h0.6M324.6 83.6h0.6M310.0 73.9h0.6M354.2 72.6h0.6M340.9 79.2h0.6M341.6 73.9h0.6M297.3 76.9h0.6M332.6 75.0h0.6M332.6 65.3h0.6M302.1 80.6h0.6M312.8 70.1h0.6M308.6 70.9h0.6M337.6 83.4h0.6M351.3 70.1h0.6M338.3 85.4h0.6M320.1 79.5h0.6M350.0 79.7h0.6M333.7 74.5h0.6M348.7 67.6h0.6M335.5 68.3h0.6M308.7 77.7h0.6M326.5 76.6h0.6M316.2 70.4h0.6M319.3 70.1h0.6M300.4 75.5h0.6M346.0 76.9h0.6M334.5 80.6h0.6M319.7 83.1h0.6M342.9 74.6h0.6M329.1 87.7h0.6M301.9 79.1h0.6M347.7 87.7h0.6M348.0 71.2h0.6M333.9 81.7h0.6M339.1 85.4h0.6M334.3 63.9h0.6M317.7 82.8h0.6M300.4 78.2h0.6M339.3 84.2h0.6M317.2 78.3h0.6M344.4 85.7h0.6M318.9 74.7h0.6M323.9 73.7h0.6M353.0 81.9h0.6M305.1 79.6h0.6M316.1 69.7h0.6M341.7 86.2h0.6M326.4 85.6h0.6M351.1 84.1h0.6M306.0 74.8h0.6M296.5 78.8h0.6M347.5 80.9h0.6M308.5 81.1h0.6M317.4 77.0h0.6M311.4 75.3h0.6M326.9 72.3h0.6M353.2 73.4h0.6M329.9 83.8h0.6M343.4 71.7h0.6M308.5 74.8h0.6M332.8 79.8h0.6M313.1 76.0h0.6M313.0 67.0h0.6M318.9 73.2h0.6M323.9 74.8h0.6M343.1 89.1h0.6M304.3 79.3h0.6M315.9 71.7h0.6M356.5 70.7h0.6M322.3 74.2h0.6M296.9 77.6h0.6M351.2 72.2h0.6M295.1 77.7h0.6M323.4 67.7h0.6M342.8 79.7h0.6M355.0 84.6h0.6M352.4 60.2h0.6M354.7 77.1h0.6M336.1 79.2h0.6M356.3 80.0h0.6M314.0 77.8h0.6M319.8 76.9h0.6M339.5 79.4h0.6M338.1 78.1h0.6M348.6 77.9h0.6M306.0 82.7h0.6M323.0 84.3h0.6M338.0 84.2h0.6M303.1 75.6h0.6M331.0 73.7h0.6M351.6 84.2h0.6M297.3 75.9h0.6M349.4 84.2h0.6M343.1 67.5h0.6M326.5 92.3h0.6M312.9 83.5h0.6M346.6 73.4h0.6M322.0 74.2h0.6M338.1 62.1h0.6M306.4 77.1h0.6M345.5 85.9h0.6M353.7 81.1h0.6M353.9 75.7h0.6M357.0 89.4h0.6M301.0 78.6h0.6M348.2 80.1h0.6M314.6 75.7h0.6M304.7 79.1h0.6M347.2 95.6h0.6M352.6 80.2h0.6M301.4 73.3h0.6" stroke="#383838" stroke-opacity="0.22" stroke-width="0.6" fill="none"/>
<ellipse cx="345" cy="70" rx="7" ry="4.3" fill="#e03434" opacity="0.32" filter="url(#b2)"/>
<path d="M345.4 65.2h0.7M356.0 65.6h0.7M351.5 74.5h0.7M340.8 69.3h0.7M346.2 69.1h0.7M334.7 69.1h0.7M348.0 67.6h0.7M338.5 67.7h0.7M340.7 65.5h0.7M340.4 66.1h0.7M339.5 66.6h0.7M354.7 67.8h0.7M353.3 59.4h0.7M342.2 69.1h0.7M344.6 68.6h0.7M354.6 70.8h0.7M342.2 63.2h0.7M341.2 64.1h0.7M338.7 72.7h0.7M353.8 65.2h0.7M345.0 71.1h0.7M344.1 65.4h0.7M341.3 62.8h0.7M338.3 61.5h0.7M350.0 65.7h0.7M339.1 66.4h0.7M340.7 62.7h0.7M333.4 75.8h0.7M337.1 68.8h0.7M340.7 64.3h0.7M340.9 76.2h0.7M334.5 72.8h0.7M340.1 65.0h0.7M343.1 63.7h0.7M327.5 67.8h0.7M347.6 72.3h0.7M342.2 61.8h0.7M335.5 74.5h0.7M342.2 66.8h0.7M346.7 72.9h0.7M343.9 68.1h0.7M344.2 71.2h0.7M344.0 71.9h0.7M348.0 75.2h0.7M335.4 65.2h0.7M346.3 62.5h0.7M344.1 70.3h0.7M337.2 72.1h0.7M342.1 68.9h0.7M339.5 73.2h0.7M344.0 60.8h0.7M333.5 68.6h0.7M333.7 73.7h0.7M334.8 68.8h0.7M343.1 63.3h0.7M359.4 69.6h0.7M350.1 69.7h0.7M351.6 63.9h0.7M344.0 75.3h0.7M353.9 66.2h0.7M346.1 63.7h0.7M344.3 69.3h0.7M350.7 65.6h0.7M336.2 67.9h0.7M330.1 70.0h0.7M336.4 66.8h0.7M352.7 71.7h0.7M349.5 70.3h0.7M345.1 74.8h0.7M342.4 63.9h0.7M342.8 69.1h0.7M346.3 70.1h0.7M338.4 70.2h0.7M348.7 58.5h0.7M337.8 63.6h0.7M352.3 70.4h0.7M341.7 71.7h0.7M338.1 69.0h0.7M342.1 69.7h0.7M338.0 74.9h0.7M343.0 67.1h0.7M332.5 65.1h0.7M340.8 76.2h0.7M344.3 71.9h0.7M346.3 68.0h0.7M341.4 65.3h0.7M351.5 76.8h0.7M333.2 67.5h0.7M342.5 64.8h0.7M340.8 75.1h0.7M343.8 61.6h0.7M342.2 68.1h0.7M352.6 71.9h0.7M343.8 67.4h0.7M338.0 66.3h0.7M359.5 71.0h0.7M344.1 62.9h0.7M342.8 67.8h0.7M349.4 72.4h0.7M340.1 63.5h0.7M342.4 75.7h0.7M349.3 67.8h0.7M336.4 68.5h0.7M341.0 66.5h0.7M349.8 71.7h0.7M355.2 66.5h0.7M343.3 70.0h0.7M343.2 75.0h0.7M350.7 75.0h0.7M334.5 61.4h0.7M339.4 75.5h0.7M338.8 66.4h0.7M330.8 70.3h0.7M325.5 69.4h0.7M341.3 70.2h0.7M349.6 65.9h0.7M348.0 71.7h0.7M351.8 73.8h0.7M326.6 66.0h0.7M342.9 68.8h0.7M352.3 72.8h0.7M338.3 74.1h0.7M335.6 70.5h0.7M346.0 70.2h0.7M343.9 71.2h0.7M347.9 67.2h0.7M343.8 70.5h0.7M351.7 67.5h0.7M348.2 67.1h0.7M345.5 57.3h0.7M341.5 60.0h0.7M348.3 70.7h0.7M339.6 72.5h0.7M349.9 71.0h0.7M351.1 69.3h0.7M349.8 67.3h0.7M335.8 71.6h0.7M346.6 66.8h0.7M346.2 68.8h0.7M349.4 76.2h0.7M334.0 62.0h0.7M340.1 65.9h0.7M343.4 67.6h0.7M352.7 59.4h0.7M340.1 62.9h0.7M349.5 74.0h0.7M344.8 71.3h0.7M356.1 68.1h0.7M345.9 75.2h0.7M333.7 63.9h0.7M345.5 68.4h0.7M351.9 65.8h0.7M348.1 74.1h0.7M342.1 71.3h0.7M335.8 69.7h0.7M344.1 68.2h0.7M343.1 59.8h0.7M352.3 58.5h0.7M349.8 68.7h0.7M335.0 73.5h0.7M329.2 64.8h0.7M341.3 69.2h0.7M345.6 61.0h0.7M337.7 61.4h0.7M340.6 68.4h0.7M351.4 72.1h0.7M348.6 72.4h0.7M332.9 74.6h0.7M346.1 64.8h0.7M344.9 67.9h0.7M342.6 72.6h0.7M347.5 63.7h0.7M347.6 67.2h0.7M359.7 68.7h0.7M345.4 68.6h0.7M339.3 73.0h0.7M340.7 70.8h0.7M348.5 66.5h0.7M356.2 57.2h0.7M347.8 72.6h0.7M347.3 73.6h0.7M345.6 71.2h0.7M341.1 70.4h0.7M344.4 70.8h0.7M336.2 74.6h0.7M348.7 66.1h0.7M346.9 68.3h0.7M345.1 63.8h0.7M338.5 67.6h0.7M342.3 64.6h0.7M340.3 64.6h0.7M345.9 58.9h0.7M342.1 68.2h0.7M346.2 73.6h0.7M349.9 53.8h0.7M352.0 74.9h0.7M337.4 68.4h0.7M341.8 65.3h0.7M337.0 70.1h0.7M351.9 67.4h0.7M338.5 68.2h0.7M352.5 75.6h0.7M340.8 69.4h0.7M350.5 70.4h0.7M340.5 67.3h0.7M342.5 67.7h0.7M344.8 64.1h0.7M344.5 68.0h0.7M343.0 64.7h0.7M348.2 74.2h0.7M351.6 67.4h0.7M349.5 72.2h0.7M340.9 74.9h0.7M332.2 73.6h0.7M344.7 65.2h0.7M325.9 76.8h0.7M348.3 59.2h0.7M347.9 75.6h0.7M336.2 56.1h0.7M347.7 64.1h0.7M339.8 68.2h0.7M352.0 65.0h0.7M339.1 58.1h0.7M338.7 61.2h0.7M339.8 69.8h0.7M345.5 60.1h0.7M337.4 71.6h0.7M358.3 74.2h0.7M341.6 75.2h0.7M355.1 69.8h0.7M342.2 68.3h0.7M342.0 66.5h0.7M339.1 74.5h0.7M346.8 71.6h0.7M351.6 70.2h0.7M344.7 73.9h0.7M338.3 59.1h0.7M345.3 72.8h0.7M339.0 65.7h0.7M326.9 57.1h0.7M344.8 74.0h0.7M332.9 64.8h0.7M340.0 70.7h0.7M344.3 64.9h0.7M341.4 66.5h0.7M342.3 76.5h0.7M353.8 70.2h0.7M350.1 70.5h0.7M353.6 60.8h0.7M345.3 73.0h0.7M345.4 65.3h0.7M355.2 70.8h0.7M340.0 63.5h0.7M346.1 70.3h0.7M344.8 71.2h0.7M345.9 61.3h0.7M347.8 70.1h0.7M344.7 64.1h0.7M349.1 74.7h0.7M338.6 70.3h0.7M347.1 68.8h0.7M350.8 72.6h0.7M350.2 66.7h0.7M342.6 72.8h0.7M340.7 69.9h0.7M343.8 75.2h0.7M347.5 63.6h0.7M337.6 66.0h0.7M349.9 66.7h0.7M342.6 64.9h0.7M335.8 67.1h0.7M341.1 69.5h0.7M332.8 63.3h0.7M344.7 67.8h0.7M343.4 69.8h0.7M355.5 73.3h0.7M336.0 67.0h0.7M347.9 69.5h0.7M337.3 67.9h0.7M342.5 69.1h0.7M338.5 62.7h0.7M355.4 73.3h0.7M343.5 66.3h0.7M358.5 74.5h0.7M338.8 72.6h0.7M341.4 66.1h0.7M342.5 66.9h0.7M338.9 66.7h0.7M347.6 69.0h0.7M351.3 66.8h0.7M335.6 65.9h0.7M340.7 69.1h0.7M341.4 68.4h0.7M334.9 66.7h0.7M335.4 73.1h0.7M341.4 73.7h0.7M338.0 65.8h0.7M348.9 70.5h0.7M344.9 74.6h0.7M337.9 61.6h0.7M339.9 71.1h0.7M346.1 73.1h0.7M347.3 74.5h0.7M343.1 72.5h0.7M347.1 73.6h0.7M342.1 61.1h0.7M336.3 63.9h0.7M345.6 71.4h0.7M341.0 58.5h0.7M332.9 65.9h0.7M348.9 67.7h0.7M346.1 70.4h0.7M348.2 73.0h0.7M340.7 69.8h0.7M353.0 64.5h0.7M346.7 63.8h0.7M349.8 70.6h0.7M339.6 71.5h0.7M341.7 70.5h0.7M351.7 69.3h0.7M343.5 69.1h0.7M343.8 61.7h0.7M353.0 68.5h0.7M350.9 72.4h0.7M345.1 63.0h0.7M355.6 70.7h0.7M334.3 72.0h0.7M340.2 68.3h0.7M352.9 67.4h0.7M353.6 62.6h0.7M340.7 63.2h0.7M344.6 60.6h0.7M349.6 59.7h0.7M347.0 72.1h0.7M345.4 68.5h0.7M349.9 70.1h0.7M355.9 60.7h0.7M344.5 58.6h0.7M336.8 59.8h0.7M343.1 76.6h0.7M343.5 74.2h0.7M341.4 62.0h0.7M348.1 69.1h0.7M348.3 69.4h0.7M349.4 63.7h0.7M346.7 65.4h0.7M345.4 73.3h0.7M337.4 72.1h0.7M341.6 73.1h0.7M338.4 70.2h0.7M345.8 69.2h0.7M343.0 71.1h0.7M343.5 67.9h0.7M347.0 77.0h0.7M341.9 69.8h0.7M350.4 71.3h0.7M350.3 68.2h0.7M337.9 65.3h0.7M351.9 68.4h0.7M341.7 67.0h0.7M339.3 64.7h0.7M341.8 72.7h0.7M345.9 70.1h0.7M351.2 68.2h0.7M334.4 65.1h0.7M346.4 61.4h0.7M347.4 71.7h0.7M347.8 71.5h0.7M347.8 64.8h0.7M346.5 69.1h0.7M340.9 64.5h0.7M349.3 75.7h0.7M345.8 69.3h0.7M348.7 70.9h0.7M345.7 77.1h0.7M342.2 57.7h0.7M343.5 70.7h0.7M347.5 70.0h0.7M350.2 67.3h0.7M331.9 68.8h0.7M335.8 74.9h0.7M333.7 65.5h0.7M340.5 65.5h0.7M339.6 77.3h0.7M345.0 73.8h0.7M341.9 71.2h0.7M352.0 72.8h0.7M339.9 69.2h0.7M339.4 67.3h0.7M338.7 68.1h0.7M341.9 70.4h0.7M344.7 66.5h0.7M340.7 61.0h0.7M338.0 68.0h0.7M335.3 70.2h0.7M344.9 68.2h0.7M340.3 72.1h0.7M337.6 70.3h0.7M342.1 73.6h0.7M345.8 69.5h0.7M356.4 68.0h0.7M353.8 71.7h0.7M338.2 73.2h0.7M340.9 66.7h0.7M331.6 64.6h0.7M331.6 75.4h0.7M332.3 66.3h0.7M349.3 70.7h0.7M342.8 66.6h0.7M334.6 69.9h0.7M339.5 75.7h0.7M340.6 77.1h0.7M339.6 62.4h0.7M352.7 61.8h0.7M331.7 52.4h0.7M340.9 71.8h0.7M345.2 76.5h0.7M346.6 70.1h0.7M330.2 67.4h0.7M344.8 72.9h0.7M335.9 64.3h0.7M340.1 72.1h0.7M333.8 75.5h0.7M348.4 74.9h0.7M362.9 72.3h0.7M349.9 66.4h0.7M341.8 67.2h0.7M332.8 64.4h0.7M351.1 75.0h0.7M336.9 68.5h0.7M349.5 68.5h0.7M332.6 70.0h0.7M335.8 65.6h0.7M344.6 71.4h0.7M335.1 71.3h0.7M348.4 71.0h0.7M352.5 69.1h0.7M344.1 56.5h0.7M346.8 67.9h0.7M353.6 61.9h0.7M346.9 60.6h0.7M352.6 66.4h0.7M337.3 67.9h0.7M357.3 67.3h0.7M351.1 64.6h0.7M344.8 76.7h0.7M348.9 59.7h0.7M345.8 71.1h0.7M345.3 65.9h0.7M337.7 75.0h0.7M341.4 72.9h0.7M341.8 69.1h0.7M350.6 61.4h0.7M346.9 72.6h0.7M346.4 73.5h0.7M343.2 72.0h0.7M351.7 67.3h0.7M328.8 71.8h0.7M338.3 64.9h0.7M349.8 69.9h0.7M341.4 70.5h0.7M347.9 67.6h0.7M353.7 63.9h0.7M348.9 67.6h0.7M334.8 64.4h0.7M342.5 62.8h0.7M336.8 73.9h0.7M346.9 67.9h0.7M350.4 66.2h0.7M342.5 66.2h0.7M347.1 70.8h0.7M342.7 67.1h0.7M355.8 65.2h0.7M344.8 70.0h0.7M345.4 69.4h0.7M347.5 64.2h0.7M350.5 63.4h0.7M348.3 75.1h0.7M343.8 67.3h0.7M344.3 74.6h0.7M347.1 71.6h0.7M347.6 68.3h0.7M341.7 67.5h0.7M340.4 76.7h0.7M342.5 65.5h0.7M346.8 66.8h0.7M341.2 64.6h0.7M337.3 67.9h0.7M341.9 64.0h0.7M341.0 69.2h0.7M347.7 62.5h0.7M340.8 71.2h0.7M341.5 70.3h0.7M355.6 69.7h0.7M346.8 65.7h0.7M338.3 75.0h0.7M341.7 68.0h0.7M339.0 64.9h0.7M348.0 71.8h0.7M335.3 67.6h0.7M343.6 69.4h0.7M347.5 71.8h0.7M348.6 62.0h0.7M340.8 72.2h0.7M340.9 63.5h0.7M343.5 62.5h0.7M351.5 66.7h0.7M332.9 75.8h0.7M349.1 65.5h0.7M345.9 70.9h0.7M352.5 64.1h0.7M337.1 71.7h0.7M351.1 70.2h0.7M338.7 74.3h0.7M345.9 69.5h0.7M341.6 68.7h0.7M328.9 59.4h0.7M343.7 70.2h0.7M346.5 72.5h0.7M349.4 69.6h0.7M340.1 69.5h0.7M336.8 71.4h0.7M348.4 72.9h0.7M341.8 64.2h0.7M350.5 68.3h0.7M352.8 70.7h0.7M342.6 69.9h0.7M343.0 63.9h0.7M339.6 58.9h0.7M331.5 70.2h0.7M344.0 72.2h0.7M348.5 76.9h0.7M350.6 70.7h0.7M343.9 64.3h0.7M355.5 70.8h0.7M340.8 68.1h0.7M343.9 65.3h0.7M340.7 61.5h0.7M341.3 59.6h0.7M342.4 65.2h0.7M339.8 66.5h0.7M341.5 68.9h0.7M345.8 68.7h0.7M344.8 69.7h0.7M347.2 68.3h0.7M339.0 75.4h0.7M346.9 64.8h0.7M344.5 65.0h0.7M332.2 66.0h0.7M337.7 59.7h0.7M350.0 76.8h0.7M340.1 69.8h0.7M340.0 72.2h0.7M341.4 77.1h0.7M344.8 70.8h0.7M347.6 76.6h0.7M342.3 56.9h0.7M354.5 74.9h0.7M340.6 70.1h0.7M341.2 65.9h0.7M343.0 73.9h0.7M345.1 68.7h0.7M353.1 65.1h0.7M358.6 59.0h0.7M342.0 77.4h0.7M343.1 55.7h0.7M348.0 68.9h0.7M343.4 76.5h0.7M349.4 71.8h0.7M337.5 65.5h0.7M349.4 67.3h0.7M330.6 65.5h0.7M347.4 69.8h0.7M348.3 68.2h0.7M359.5 62.2h0.7M338.5 61.3h0.7M348.4 74.2h0.7M348.1 62.2h0.7M338.3 62.9h0.7M338.8 64.4h0.7M336.9 62.0h0.7M334.7 63.7h0.7M342.7 72.3h0.7M337.5 64.8h0.7M331.2 67.8h0.7M345.9 57.0h0.7M333.4 65.4h0.7M348.4 68.7h0.7M345.6 68.7h0.7M338.9 75.8h0.7M334.2 71.0h0.7M338.4 54.1h0.7M335.6 60.4h0.7M341.7 64.0h0.7M341.7 67.0h0.7M359.5 68.7h0.7M331.0 71.6h0.7M340.3 60.0h0.7M347.5 57.3h0.7M350.5 72.4h0.7M352.4 63.4h0.7M337.9 56.7h0.7M349.1 63.6h0.7M326.0 66.2h0.7M342.6 62.3h0.7M349.4 62.5h0.7M348.5 73.4h0.7M335.2 62.8h0.7M338.8 69.9h0.7M330.5 69.4h0.7M339.3 66.6h0.7M345.7 61.6h0.7M347.8 63.6h0.7M343.3 67.0h0.7M341.9 69.9h0.7M355.1 73.9h0.7M351.3 71.9h0.7M335.6 66.6h0.7M352.7 66.6h0.7M348.8 74.2h0.7M352.4 76.0h0.7M346.8 65.7h0.7M332.6 74.5h0.7M341.6 71.2h0.7M328.6 69.7h0.7M335.1 62.9h0.7M339.6 62.1h0.7M352.0 70.6h0.7M344.2 54.5h0.7M345.3 65.9h0.7M348.6 70.5h0.7M338.2 60.1h0.7M351.0 76.6h0.7M345.4 76.7h0.7M337.9 63.1h0.7M340.3 67.9h0.7M342.4 67.8h0.7M347.8 65.7h0.7M353.0 66.0h0.7M342.0 70.8h0.7M342.5 76.8h0.7M355.4 68.9h0.7M364.2 69.0h0.7M355.4 69.1h0.7M345.2 65.0h0.7M341.7 71.6h0.7M348.3 66.0h0.7M345.9 63.5h0.7M338.9 71.7h0.7M352.6 59.1h0.7M360.1 65.9h0.7M338.6 66.5h0.7M339.0 67.8h0.7M340.7 60.8h0.7M335.9 63.7h0.7M349.1 67.7h0.7M334.8 71.5h0.7M348.2 67.9h0.7M346.5 67.4h0.7M348.7 64.3h0.7M334.5 68.6h0.7M344.9 54.6h0.7M345.7 71.7h0.7M349.6 73.3h0.7M346.4 68.4h0.7M340.3 63.6h0.7M351.2 75.1h0.7M352.8 65.1h0.7M352.6 75.2h0.7M339.2 67.1h0.7M347.3 64.7h0.7M338.1 67.4h0.7M342.9 65.1h0.7M348.8 67.6h0.7M334.8 71.0h0.7M361.7 67.2h0.7M351.8 66.2h0.7M339.1 68.4h0.7M340.3 70.4h0.7M343.5 68.5h0.7M343.1 71.2h0.7M336.2 71.4h0.7M343.1 69.9h0.7M334.1 72.1h0.7M340.0 68.6h0.7M355.4 74.2h0.7M343.6 70.5h0.7M341.5 72.7h0.7M354.0 67.5h0.7M346.0 61.5h0.7M348.0 66.3h0.7M340.3 68.7h0.7M351.0 70.3h0.7M341.9 68.3h0.7M349.6 75.8h0.7M348.1 62.1h0.7M355.0 59.8h0.7M350.3 67.6h0.7M343.9 65.1h0.7M337.2 68.7h0.7M342.0 71.8h0.7M353.8 62.0h0.7M341.1 63.2h0.7M329.3 68.2h0.7M346.4 61.2h0.7M349.2 64.8h0.7M338.1 74.8h0.7M348.6 68.2h0.7M335.5 68.4h0.7M345.5 74.0h0.7M342.9 60.1h0.7M346.0 69.1h0.7M346.7 68.3h0.7M339.6 69.8h0.7M349.2 63.6h0.7M340.7 66.4h0.7M344.7 68.0h0.7M353.1 72.1h0.7M338.0 64.9h0.7M344.4 71.5h0.7M354.3 58.1h0.7M352.1 70.6h0.7M339.6 72.3h0.7M340.0 64.0h0.7M347.5 67.1h0.7M339.8 68.5h0.7M344.4 69.9h0.7M335.2 74.4h0.7M348.1 69.4h0.7M333.6 67.4h0.7M344.8 67.5h0.7M348.5 69.8h0.7M339.6 72.3h0.7M333.8 69.8h0.7M335.8 65.8h0.7M331.6 66.9h0.7M355.5 64.6h0.7M331.5 64.3h0.7M335.6 66.1h0.7M346.1 65.7h0.7M344.3 72.2h0.7M350.6 62.7h0.7M352.5 68.8h0.7M346.9 62.8h0.7M343.5 72.4h0.7M340.3 70.0h0.7M342.8 74.7h0.7M350.1 71.2h0.7M347.9 63.5h0.7M348.0 68.7h0.7M333.1 65.4h0.7M339.0 66.0h0.7M339.5 63.5h0.7M340.4 67.0h0.7M337.1 69.0h0.7M348.4 69.5h0.7M355.7 67.7h0.7M340.6 68.9h0.7M343.3 68.1h0.7M344.6 67.3h0.7M343.9 67.0h0.7M338.5 68.8h0.7M349.1 67.6h0.7M330.9 72.1h0.7M340.8 70.6h0.7M331.6 64.2h0.7M348.0 68.5h0.7M334.9 70.0h0.7M336.5 67.2h0.7M343.9 67.4h0.7M337.2 68.1h0.7M345.6 71.5h0.7M341.4 69.4h0.7M356.7 65.9h0.7M336.0 68.3h0.7M338.7 74.5h0.7M347.7 63.9h0.7M344.7 71.7h0.7M346.9 67.3h0.7M350.1 71.5h0.7M346.2 68.8h0.7M352.6 68.0h0.7M335.2 61.2h0.7M345.6 66.1h0.7M346.6 70.2h0.7M337.9 67.1h0.7M349.3 68.5h0.7M335.3 68.7h0.7M349.8 64.0h0.7M347.5 69.0h0.7M332.3 71.0h0.7M346.6 61.4h0.7M331.4 67.4h0.7M347.7 55.4h0.7M333.6 60.4h0.7M343.5 72.5h0.7M342.2 74.4h0.7M333.4 77.4h0.7M331.9 62.3h0.7M347.2 68.1h0.7M340.8 66.9h0.7M351.1 73.6h0.7M343.7 70.1h0.7M361.9 68.9h0.7M345.1 71.4h0.7M355.5 66.4h0.7M346.3 73.2h0.7M344.6 66.9h0.7M347.5 73.8h0.7M339.1 69.4h0.7M339.8 69.6h0.7M354.8 63.1h0.7M342.8 61.2h0.7M336.5 61.0h0.7M347.4 70.9h0.7M338.6 58.3h0.7M344.6 75.0h0.7M351.5 67.0h0.7M352.5 62.1h0.7M356.0 70.2h0.7M351.7 62.6h0.7M348.4 68.7h0.7M347.7 67.3h0.7M346.1 74.2h0.7M343.9 72.8h0.7M359.0 73.0h0.7M343.7 66.3h0.7M355.1 74.5h0.7M343.4 68.2h0.7M352.1 69.1h0.7M325.7 70.6h0.7M345.2 69.8h0.7M340.2 62.2h0.7M354.5 71.6h0.7M354.1 61.0h0.7M340.2 70.8h0.7M343.8 68.2h0.7M350.3 68.9h0.7M346.3 63.3h0.7M345.0 73.3h0.7M350.7 67.8h0.7M335.8 72.6h0.7M354.9 65.0h0.7M347.3 65.1h0.7M325.6 68.8h0.7M338.5 73.4h0.7M343.9 62.2h0.7M359.3 65.8h0.7M344.4 66.1h0.7M334.7 67.2h0.7M353.4 66.3h0.7M347.1 73.6h0.7M344.5 71.9h0.7M351.4 68.6h0.7M342.1 72.5h0.7M343.9 73.4h0.7M351.2 65.6h0.7M347.5 65.1h0.7M351.0 71.8h0.7M355.7 57.3h0.7M335.4 65.6h0.7M335.7 72.2h0.7M348.0 64.7h0.7M342.7 72.7h0.7M346.0 69.6h0.7M345.0 62.6h0.7M343.7 66.3h0.7M337.8 70.3h0.7M346.8 64.3h0.7M353.3 71.3h0.7M339.3 70.0h0.7M357.1 67.1h0.7M355.0 70.4h0.7M339.3 66.8h0.7M350.0 69.6h0.7M337.7 63.8h0.7M344.0 75.2h0.7M337.7 67.3h0.7M341.3 74.0h0.7M343.8 76.0h0.7M338.0 68.4h0.7M339.0 69.3h0.7M332.0 68.3h0.7M345.1 70.0h0.7M357.2 64.6h0.7M342.4 59.9h0.7M343.8 70.1h0.7M337.4 68.7h0.7M341.7 75.8h0.7M339.2 77.1h0.7M334.6 62.0h0.7M339.0 64.1h0.7M341.4 72.2h0.7M346.8 74.1h0.7M342.6 69.1h0.7M346.6 68.8h0.7M353.2 59.7h0.7M342.0 65.2h0.7M333.2 71.2h0.7M343.5 70.2h0.7M345.3 64.3h0.7M351.2 72.6h0.7M345.6 75.5h0.7M362.8 68.3h0.7M342.6 69.2h0.7M349.0 71.7h0.7M338.7 73.2h0.7M338.1 72.7h0.7M342.7 64.3h0.7M346.0 64.1h0.7M349.1 65.9h0.7M324.2 55.7h0.7M352.0 62.2h0.7M354.4 67.6h0.7M353.4 65.3h0.7M350.2 64.5h0.7M343.8 72.7h0.7M348.2 70.1h0.7M353.0 72.5h0.7M338.3 67.7h0.7M349.0 66.5h0.7M347.9 64.4h0.7M343.7 69.7h0.7M356.3 59.9h0.7M340.1 64.4h0.7M338.2 71.3h0.7M344.3 72.6h0.7M340.5 68.2h0.7M353.3 63.0h0.7M333.7 71.2h0.7M336.0 65.0h0.7M346.6 67.9h0.7M349.4 63.9h0.7M336.8 77.2h0.7M353.0 75.6h0.7M332.0 64.5h0.7M351.2 62.9h0.7M338.7 68.3h0.7M341.4 71.5h0.7M356.2 74.5h0.7M344.1 68.2h0.7M340.3 62.6h0.7M346.0 69.9h0.7M356.7 69.8h0.7M344.9 60.9h0.7M339.4 67.3h0.7M345.8 67.1h0.7M336.4 63.8h0.7M339.9 69.6h0.7M340.7 73.5h0.7M348.6 73.3h0.7M341.2 64.3h0.7M347.5 65.7h0.7M351.9 71.8h0.7M354.6 66.9h0.7M333.4 66.8h0.7M336.9 56.3h0.7M348.5 65.4h0.7M346.0 64.5h0.7M344.3 68.3h0.7M340.9 76.7h0.7M338.1 67.8h0.7M333.4 67.1h0.7M350.6 69.3h0.7M343.1 67.1h0.7M344.6 70.3h0.7M349.5 65.2h0.7M356.6 67.5h0.7M343.2 68.2h0.7M348.6 58.5h0.7M333.7 71.4h0.7M341.8 68.2h0.7" stroke="#ee2a2a" stroke-opacity="0.3" stroke-width="0.7" fill="none"/>
<path d="M330.6 59.9h0.7M317.3 49.9h0.7M316.5 52.2h0.7M343.3 54.3h0.7M343.8 58.3h0.7M330.2 60.5h0.7M350.2 64.9h0.7M327.8 53.2h0.7M337.0 51.2h0.7M321.7 65.6h0.7M330.2 60.9h0.7M345.0 56.6h0.7M333.4 50.5h0.7M326.8 52.8h0.7M336.2 65.0h0.7M349.6 59.4h0.7M339.4 49.4h0.7M326.7 58.9h0.7M351.7 57.7h0.7M320.4 64.2h0.7M346.1 50.9h0.7M333.8 56.9h0.7M337.1 67.3h0.7M326.3 63.5h0.7M326.4 62.0h0.7M322.2 57.1h0.7M337.8 54.0h0.7M344.9 50.9h0.7M316.3 55.1h0.7M327.3 56.3h0.7M335.5 57.8h0.7M354.8 65.8h0.7M336.1 57.6h0.7M338.0 61.9h0.7M337.4 52.3h0.7M322.7 56.4h0.7M337.1 67.6h0.7M322.4 52.5h0.7M347.9 51.2h0.7M347.2 50.5h0.7M346.7 49.1h0.7M324.9 51.9h0.7M333.3 50.7h0.7M319.6 52.4h0.7M339.2 57.2h0.7M324.0 63.0h0.7M348.9 65.3h0.7M337.7 60.5h0.7M324.9 51.0h0.7M339.0 65.4h0.7M332.2 62.3h0.7M342.6 65.6h0.7M351.6 64.1h0.7M316.9 53.0h0.7M326.6 68.3h0.7M350.8 64.7h0.7M320.9 55.5h0.7M338.7 64.4h0.7M354.2 57.4h0.7M324.7 51.1h0.7M352.1 61.6h0.7M326.6 68.9h0.7M338.9 62.3h0.7M342.8 67.4h0.7M319.2 53.0h0.7M350.2 59.1h0.7M349.2 55.0h0.7M317.0 67.9h0.7M335.3 52.0h0.7M353.0 49.5h0.7M330.1 59.7h0.7M333.7 57.3h0.7M328.9 53.3h0.7M318.8 67.5h0.7M319.9 54.8h0.7M342.7 53.7h0.7M326.8 62.5h0.7M354.1 68.4h0.7M352.1 57.4h0.7M345.1 64.2h0.7M336.0 50.1h0.7M346.5 65.9h0.7M316.5 59.8h0.7M353.9 62.0h0.7M355.0 58.3h0.7M339.7 49.3h0.7M338.7 56.7h0.7M345.8 52.2h0.7M316.1 52.6h0.7M343.9 65.6h0.7M331.1 56.0h0.7M316.2 65.5h0.7M333.4 64.3h0.7M353.0 62.9h0.7M339.6 58.6h0.7M326.5 50.4h0.7M336.1 65.3h0.7M349.0 49.6h0.7M321.9 56.7h0.7M354.4 66.7h0.7M322.3 64.1h0.7M321.3 60.6h0.7M317.1 61.6h0.7M351.5 67.7h0.7M340.7 64.4h0.7M342.0 59.9h0.7M332.1 56.4h0.7M320.2 51.3h0.7M330.8 65.6h0.7M322.7 64.9h0.7M339.0 61.9h0.7M342.4 66.9h0.7M337.4 49.6h0.7M331.2 51.1h0.7M326.5 61.0h0.7M343.2 69.0h0.7M323.2 67.7h0.7M353.2 61.8h0.7M336.0 51.2h0.7M337.4 60.0h0.7M350.1 61.3h0.7M320.8 64.6h0.7M352.7 68.7h0.7M351.8 64.5h0.7M331.0 59.3h0.7M322.8 64.0h0.7M347.9 56.1h0.7M317.8 58.3h0.7M346.1 59.7h0.7M345.0 56.4h0.7M321.4 68.6h0.7M316.1 54.7h0.7M320.6 61.9h0.7M344.3 53.6h0.7M333.4 69.0h0.7M354.8 56.0h0.7M321.3 61.1h0.7M354.4 67.6h0.7M354.6 62.7h0.7M328.3 60.6h0.7M318.5 50.6h0.7M349.3 57.4h0.7M342.0 57.9h0.7M344.6 62.9h0.7M323.3 58.7h0.7M318.1 54.4h0.7M327.1 59.6h0.7M350.8 56.6h0.7M316.6 65.4h0.7M348.5 58.3h0.7M323.7 58.1h0.7M328.2 63.2h0.7M338.7 59.7h0.7M351.7 57.7h0.7M338.1 50.6h0.7M338.4 58.2h0.7M346.5 66.3h0.7M344.1 68.4h0.7M350.0 66.1h0.7M328.5 51.1h0.7M354.1 66.7h0.7M354.8 58.9h0.7M344.9 62.9h0.7M318.2 61.5h0.7M331.4 58.9h0.7M347.7 53.2h0.7M324.8 56.2h0.7M335.4 56.0h0.7M329.0 64.4h0.7M322.5 52.0h0.7M338.7 50.3h0.7M330.5 66.0h0.7M348.8 62.2h0.7M319.5 60.3h0.7M351.9 52.0h0.7M331.1 51.5h0.7M345.2 62.3h0.7M324.7 52.1h0.7M319.3 66.1h0.7M318.0 52.4h0.7M326.6 61.5h0.7M324.7 53.7h0.7M341.3 55.3h0.7M340.7 55.5h0.7M352.1 49.5h0.7M340.7 57.4h0.7M338.4 66.3h0.7M326.6 59.0h0.7M317.3 52.8h0.7M340.7 59.4h0.7M322.7 67.7h0.7M355.9 58.3h0.7M343.2 58.7h0.7M317.3 64.4h0.7M333.5 50.4h0.7M319.8 55.3h0.7M316.0 56.9h0.7M331.8 55.2h0.7M353.1 60.0h0.7M321.2 64.6h0.7M355.6 57.2h0.7M333.9 64.7h0.7M328.1 57.8h0.7M353.2 66.9h0.7M328.6 55.5h0.7M322.1 57.9h0.7M352.6 62.7h0.7M352.9 49.2h0.7M347.2 66.7h0.7M346.7 57.9h0.7M334.6 56.4h0.7M350.0 51.3h0.7M332.3 51.0h0.7M335.2 58.4h0.7M322.4 65.4h0.7M337.3 61.1h0.7M344.6 67.2h0.7M326.4 68.7h0.7M321.4 59.3h0.7M319.0 52.9h0.7M334.9 67.9h0.7M320.3 53.4h0.7M332.9 60.2h0.7M340.4 53.0h0.7M318.4 66.6h0.7M347.6 64.3h0.7M319.8 59.5h0.7M320.8 66.4h0.7M342.2 62.7h0.7M353.7 61.6h0.7M320.6 62.5h0.7M344.0 66.8h0.7M334.8 57.0h0.7M324.1 63.0h0.7M338.7 56.1h0.7M333.2 62.3h0.7M331.3 59.6h0.7M350.7 64.0h0.7M338.4 60.0h0.7M348.3 58.9h0.7M317.7 50.8h0.7M353.7 50.0h0.7M325.1 66.2h0.7M336.5 58.0h0.7M318.7 68.5h0.7M324.4 58.0h0.7M335.2 50.9h0.7M346.0 63.9h0.7M346.9 55.4h0.7M334.8 61.5h0.7M325.9 49.8h0.7M340.3 66.9h0.7M330.8 52.7h0.7M322.6 56.4h0.7M346.5 57.3h0.7M347.5 59.6h0.7M322.8 67.7h0.7M317.6 66.4h0.7M345.6 56.6h0.7M348.2 56.5h0.7M318.9 63.8h0.7M331.8 55.6h0.7M343.8 53.6h0.7M329.3 67.8h0.7M347.6 64.0h0.7M317.6 57.2h0.7M338.5 53.1h0.7M324.6 59.0h0.7M344.6 57.5h0.7M316.6 55.0h0.7M344.2 60.6h0.7M334.2 52.4h0.7M343.9 54.3h0.7M320.6 60.1h0.7M349.4 57.2h0.7M342.2 57.3h0.7M317.4 62.3h0.7M350.8 50.5h0.7M322.7 64.1h0.7M331.3 68.1h0.7M330.1 67.2h0.7M346.9 66.7h0.7M346.3 49.9h0.7M319.4 55.2h0.7M350.1 51.0h0.7M322.4 51.1h0.7M344.7 52.5h0.7M321.0 50.1h0.7M332.4 67.6h0.7M320.4 60.9h0.7M342.7 55.4h0.7M332.0 53.9h0.7M338.5 49.1h0.7M355.9 49.6h0.7M349.0 61.9h0.7M324.0 58.6h0.7M333.4 55.3h0.7M338.8 58.4h0.7M329.5 56.5h0.7M318.4 63.1h0.7M329.9 60.1h0.7M327.1 57.4h0.7M323.9 49.1h0.7M322.4 59.9h0.7M320.3 66.4h0.7M349.7 54.0h0.7M334.2 55.8h0.7M345.1 64.1h0.7M347.1 52.2h0.7M350.1 60.7h0.7M339.5 61.4h0.7M349.8 64.8h0.7M321.5 66.9h0.7M323.5 65.8h0.7M341.9 52.7h0.7M331.0 64.5h0.7M323.6 61.0h0.7M330.9 57.2h0.7M331.8 49.9h0.7M351.6 60.8h0.7M333.2 57.6h0.7M351.7 63.0h0.7M324.2 60.8h0.7M350.8 51.8h0.7M349.0 63.1h0.7M323.1 51.7h0.7M346.7 51.7h0.7M347.8 62.4h0.7M347.6 67.2h0.7M352.0 63.3h0.7M334.2 67.9h0.7M335.7 51.9h0.7M326.1 50.8h0.7M335.9 58.5h0.7M353.0 54.2h0.7M341.2 54.5h0.7M348.3 52.7h0.7M350.7 54.9h0.7M340.4 63.8h0.7M338.1 57.1h0.7M324.5 59.0h0.7M339.3 52.1h0.7M340.8 61.7h0.7M318.0 62.9h0.7M316.2 56.0h0.7M355.0 60.0h0.7M318.1 54.1h0.7M348.4 50.7h0.7M341.0 52.3h0.7M349.4 49.1h0.7M337.8 67.0h0.7M338.2 68.1h0.7M324.8 52.2h0.7M339.7 65.4h0.7M351.7 60.6h0.7M325.1 64.3h0.7M353.0 61.0h0.7M326.1 59.2h0.7M341.7 56.4h0.7M352.6 56.6h0.7M348.9 66.6h0.7M328.4 54.9h0.7M338.5 52.2h0.7M347.7 68.8h0.7M355.2 54.7h0.7M345.6 51.1h0.7M352.9 54.4h0.7M336.7 65.1h0.7M340.7 64.7h0.7M326.1 66.8h0.7M331.8 67.0h0.7M330.1 69.0h0.7M354.6 55.6h0.7M354.5 53.5h0.7M353.5 67.9h0.7M332.6 67.3h0.7M354.3 59.4h0.7M341.7 55.3h0.7M324.1 53.0h0.7M335.2 68.6h0.7M320.3 61.8h0.7M337.3 61.2h0.7M354.1 52.7h0.7M332.6 52.7h0.7M331.1 57.4h0.7M319.0 66.9h0.7M335.5 65.3h0.7M343.2 54.3h0.7M353.0 50.3h0.7M329.7 61.2h0.7M326.0 63.8h0.7M353.5 67.5h0.7M320.1 61.8h0.7M330.6 54.1h0.7M335.5 59.7h0.7M353.9 63.1h0.7M340.1 52.9h0.7M351.0 67.2h0.7M352.1 51.9h0.7M346.1 49.2h0.7M347.7 54.8h0.7M324.2 64.4h0.7M348.6 60.4h0.7M348.0 54.6h0.7M328.8 55.6h0.7M324.2 59.2h0.7M326.7 65.2h0.7M349.9 68.5h0.7M344.0 62.8h0.7M335.2 51.8h0.7M319.5 66.4h0.7M351.8 65.3h0.7M316.5 63.2h0.7M324.4 65.4h0.7M352.1 49.3h0.7M336.8 62.6h0.7M329.8 58.8h0.7M336.4 68.9h0.7M341.2 68.0h0.7M343.4 58.4h0.7" stroke="#f05050" stroke-opacity="0.25" stroke-width="0.7" fill="none"/>
<path d="M338 82 L349 81 L347 92 L340 102 L326 103 L323 95 Z" fill="#3ea83e" opacity="0.25" filter="url(#b2)"/>
<path d="M337.3 101.0h0.7M340.1 87.3h0.7M332.3 98.1h0.7M330.1 105.2h0.7M336.3 90.9h0.7M332.7 96.7h0.7M333.1 89.1h0.7M346.6 83.1h0.7M329.8 94.6h0.7M330.4 93.8h0.7M342.7 89.0h0.7M339.4 94.2h0.7M333.3 97.8h0.7M334.2 98.3h0.7M337.1 95.2h0.7M341.6 86.2h0.7M329.4 91.2h0.7M348.3 80.6h0.7M353.3 87.1h0.7M337.9 93.8h0.7M332.0 95.8h0.7M344.1 92.7h0.7M340.1 92.8h0.7M338.7 85.9h0.7M334.8 86.6h0.7M344.8 89.6h0.7M327.9 89.6h0.7M338.2 104.6h0.7M327.7 98.3h0.7M340.8 87.3h0.7M334.4 89.2h0.7M340.0 89.8h0.7M345.7 89.6h0.7M341.7 90.0h0.7M330.3 99.1h0.7M334.6 96.4h0.7M347.3 96.2h0.7M331.6 93.3h0.7M331.3 95.3h0.7M331.1 90.8h0.7M341.1 82.1h0.7M340.0 93.4h0.7M328.4 92.9h0.7M349.7 85.6h0.7M351.4 80.6h0.7M338.1 98.9h0.7M343.2 87.2h0.7M353.9 91.6h0.7M330.1 89.0h0.7M326.7 101.8h0.7M355.7 84.7h0.7M323.6 98.4h0.7M331.7 97.7h0.7M330.4 90.0h0.7M333.9 93.0h0.7M337.8 92.3h0.7M344.0 84.0h0.7M338.9 94.6h0.7M336.3 92.5h0.7M334.5 95.3h0.7M344.3 85.1h0.7M333.3 88.6h0.7M328.9 87.4h0.7M341.4 93.3h0.7M322.2 89.8h0.7M342.7 87.2h0.7M340.8 100.2h0.7M328.2 89.8h0.7M316.2 98.6h0.7M327.0 97.2h0.7M340.0 88.8h0.7M342.5 93.8h0.7M338.3 96.4h0.7M325.0 99.1h0.7M340.0 94.8h0.7M323.9 95.1h0.7M334.2 89.3h0.7M339.5 88.8h0.7M338.0 98.9h0.7M350.5 85.5h0.7M324.2 94.4h0.7M357.6 95.2h0.7M338.5 91.2h0.7M345.3 95.8h0.7M334.4 101.8h0.7M339.6 101.5h0.7M327.8 90.8h0.7M328.4 91.0h0.7M333.8 90.2h0.7M330.8 94.0h0.7M333.9 97.4h0.7M336.4 87.1h0.7M327.7 91.8h0.7M339.0 89.6h0.7M327.7 88.5h0.7M332.1 90.0h0.7M332.4 102.7h0.7M323.9 102.2h0.7M331.1 100.7h0.7M345.3 83.7h0.7M345.5 94.4h0.7M337.2 105.8h0.7M340.8 95.0h0.7M341.3 88.9h0.7M324.7 96.0h0.7M330.1 91.4h0.7M330.4 90.6h0.7M330.9 94.2h0.7M333.2 95.4h0.7M329.1 91.8h0.7M332.4 92.7h0.7M346.8 87.2h0.7M332.5 92.5h0.7M319.3 96.7h0.7M333.2 93.3h0.7M335.0 91.8h0.7M337.3 84.9h0.7M347.7 98.9h0.7M345.8 86.4h0.7M345.8 96.5h0.7M332.2 90.8h0.7M338.6 97.2h0.7M334.2 98.5h0.7M335.8 91.1h0.7M343.2 81.6h0.7M324.3 87.5h0.7M345.2 87.8h0.7M354.9 94.4h0.7M340.4 103.6h0.7M318.3 96.4h0.7M337.3 92.1h0.7M326.0 100.2h0.7M331.6 91.8h0.7M330.9 97.5h0.7M342.9 94.8h0.7M346.6 82.3h0.7M326.4 98.1h0.7M334.2 102.4h0.7M337.6 90.9h0.7M347.9 97.0h0.7M323.2 95.6h0.7M335.4 91.4h0.7M329.7 90.8h0.7M332.2 98.3h0.7M322.7 89.3h0.7M330.3 89.9h0.7M332.1 97.5h0.7M328.3 97.9h0.7M324.3 101.4h0.7M336.2 89.7h0.7M335.3 85.6h0.7M325.4 98.8h0.7M338.2 84.5h0.7M336.8 90.6h0.7M338.4 91.7h0.7M317.6 102.2h0.7M332.3 93.0h0.7M347.5 86.3h0.7M325.0 92.7h0.7M332.3 100.1h0.7M347.1 85.7h0.7M341.1 98.5h0.7M336.9 93.5h0.7M334.7 87.3h0.7M324.5 91.7h0.7M331.3 93.3h0.7M332.7 86.6h0.7M337.3 89.8h0.7M342.2 100.8h0.7M348.1 94.6h0.7M334.2 99.0h0.7M336.4 92.7h0.7M336.1 89.8h0.7M336.6 94.5h0.7M336.6 87.9h0.7M346.9 94.9h0.7M330.9 91.2h0.7M337.1 91.3h0.7M331.8 91.4h0.7M345.0 87.7h0.7M344.3 100.3h0.7M344.7 84.7h0.7M336.2 94.1h0.7M339.6 86.0h0.7M336.9 97.8h0.7M332.7 91.7h0.7M346.8 93.9h0.7M346.7 95.4h0.7M341.6 94.8h0.7M340.8 93.9h0.7M331.5 94.9h0.7M347.6 94.8h0.7M327.0 90.4h0.7M331.2 91.3h0.7M351.5 91.6h0.7M334.7 89.0h0.7M331.3 89.9h0.7M319.8 100.0h0.7M347.3 85.1h0.7M339.1 102.0h0.7M338.7 90.0h0.7M322.1 96.2h0.7M335.0 92.9h0.7M330.5 91.9h0.7M340.4 95.9h0.7M341.1 102.1h0.7M339.2 92.2h0.7M338.8 92.7h0.7M348.3 90.0h0.7M341.8 103.9h0.7M323.7 99.2h0.7M335.6 99.0h0.7M327.2 93.1h0.7M342.5 95.5h0.7M336.4 89.5h0.7M341.8 98.1h0.7M340.8 89.7h0.7M326.1 89.2h0.7M332.0 96.8h0.7M328.1 95.1h0.7M351.8 90.2h0.7M335.1 94.8h0.7M341.0 84.2h0.7M346.0 87.8h0.7M336.4 93.9h0.7M323.8 97.6h0.7M336.0 92.7h0.7M342.6 86.2h0.7M338.5 90.2h0.7M340.2 98.9h0.7M343.9 89.6h0.7M338.9 94.2h0.7M333.5 95.2h0.7M337.9 89.9h0.7M349.7 93.0h0.7M345.8 89.7h0.7M339.1 93.0h0.7M329.2 96.3h0.7M332.1 99.9h0.7M341.8 90.3h0.7M324.7 95.4h0.7M337.6 92.2h0.7M342.5 88.6h0.7M332.0 88.6h0.7M337.2 92.5h0.7M346.0 92.9h0.7M339.7 88.8h0.7M324.9 92.7h0.7M321.6 96.4h0.7M343.9 91.4h0.7M335.6 90.9h0.7M330.3 93.8h0.7M345.0 99.3h0.7M341.2 92.5h0.7M349.6 87.5h0.7M322.9 101.3h0.7M338.4 96.4h0.7M341.6 91.4h0.7M328.8 91.5h0.7M330.7 91.5h0.7M329.8 93.7h0.7M348.4 83.6h0.7M337.3 93.5h0.7M332.9 89.5h0.7M339.6 95.4h0.7M330.5 94.6h0.7M340.1 87.1h0.7M331.6 100.1h0.7M327.8 96.9h0.7M345.5 87.9h0.7M339.6 87.1h0.7M322.0 89.1h0.7M333.8 94.7h0.7M343.0 99.6h0.7M322.9 87.9h0.7M344.9 88.6h0.7M336.2 95.6h0.7M327.6 92.5h0.7M336.2 92.5h0.7M328.4 92.1h0.7M326.3 91.1h0.7M333.7 102.2h0.7M335.2 98.0h0.7M324.3 91.0h0.7M328.6 99.5h0.7M330.8 102.9h0.7M323.6 95.3h0.7M342.9 94.4h0.7M332.3 90.2h0.7M338.6 93.4h0.7M340.1 94.0h0.7M325.6 99.8h0.7M341.4 87.7h0.7M341.8 84.0h0.7M340.5 90.1h0.7M332.0 94.8h0.7M348.9 82.0h0.7M341.8 91.7h0.7M349.4 88.4h0.7M347.0 86.7h0.7M326.1 93.5h0.7M328.7 99.0h0.7M343.2 85.5h0.7M342.5 94.0h0.7M331.7 91.9h0.7M334.3 96.2h0.7M338.3 92.8h0.7M337.3 89.4h0.7M340.6 97.5h0.7M327.9 95.1h0.7M342.8 87.2h0.7M341.3 88.9h0.7M329.0 93.8h0.7M331.9 96.9h0.7M344.4 89.7h0.7M330.5 90.6h0.7M342.0 83.0h0.7M342.0 90.3h0.7M335.0 93.3h0.7M336.0 89.6h0.7M336.5 92.2h0.7M332.8 87.4h0.7M344.2 87.9h0.7M340.5 94.2h0.7M353.0 84.4h0.7M338.1 92.8h0.7M340.4 99.1h0.7M334.3 89.6h0.7M341.1 90.0h0.7M332.2 88.2h0.7M341.8 85.7h0.7M335.7 89.5h0.7M346.7 85.8h0.7M322.6 91.4h0.7M336.7 89.7h0.7M337.5 86.5h0.7M340.8 92.8h0.7M328.3 97.9h0.7M330.9 96.8h0.7M345.9 91.1h0.7M331.9 92.4h0.7M336.6 87.0h0.7M345.0 91.2h0.7M319.5 96.1h0.7M336.9 96.6h0.7M334.7 99.7h0.7M342.6 84.4h0.7M319.2 100.9h0.7M325.2 94.6h0.7M325.9 100.8h0.7M330.3 92.5h0.7M337.4 99.1h0.7M333.3 92.4h0.7M349.4 86.8h0.7M335.2 94.2h0.7M342.1 89.8h0.7M331.8 92.3h0.7M330.6 95.3h0.7M337.1 96.6h0.7M340.5 96.0h0.7M328.8 97.6h0.7M349.9 84.2h0.7M331.2 98.7h0.7M349.7 88.0h0.7M327.4 93.0h0.7M335.1 90.3h0.7M344.3 86.3h0.7M333.2 97.2h0.7M335.3 87.0h0.7M342.5 89.5h0.7M338.7 100.3h0.7M346.7 83.5h0.7M330.5 97.6h0.7M332.0 90.3h0.7M343.0 96.7h0.7M332.4 92.4h0.7M334.3 89.9h0.7M339.6 96.2h0.7M331.5 88.7h0.7M331.3 89.5h0.7M333.8 93.7h0.7M340.2 86.6h0.7M347.1 84.8h0.7M339.9 83.6h0.7M329.0 97.5h0.7M321.6 102.8h0.7M330.6 98.8h0.7M334.9 89.1h0.7M345.6 89.7h0.7M327.9 87.2h0.7M323.8 92.5h0.7M320.1 98.1h0.7M334.8 92.1h0.7M339.4 92.4h0.7M324.0 94.1h0.7M340.9 86.1h0.7M332.6 91.2h0.7M346.5 94.4h0.7M338.3 93.2h0.7M344.7 96.5h0.7M331.5 100.8h0.7M343.3 84.2h0.7M326.8 101.4h0.7M341.4 95.2h0.7M336.1 88.7h0.7M321.1 91.2h0.7M335.4 92.6h0.7M324.4 98.3h0.7M340.8 90.9h0.7M347.0 92.6h0.7M342.2 85.4h0.7M335.7 100.5h0.7M326.1 95.1h0.7M331.9 90.1h0.7M335.9 85.4h0.7M350.0 92.5h0.7M330.5 97.4h0.7M331.2 105.1h0.7M317.5 103.0h0.7M333.6 90.7h0.7M338.2 90.4h0.7M338.0 87.4h0.7M332.6 95.2h0.7M341.4 88.6h0.7M337.8 95.8h0.7M326.6 94.5h0.7M325.4 95.0h0.7M342.8 87.5h0.7M338.3 99.0h0.7M327.0 91.7h0.7M344.4 86.2h0.7M326.2 92.5h0.7M334.3 93.7h0.7M344.8 93.1h0.7M321.6 97.9h0.7M332.4 99.3h0.7M327.7 105.1h0.7M328.2 92.3h0.7M337.7 99.4h0.7M325.6 103.0h0.7M328.2 92.7h0.7M335.2 99.7h0.7M340.6 91.5h0.7M343.9 95.7h0.7M332.3 96.2h0.7M331.8 89.5h0.7M348.1 89.7h0.7M339.0 95.8h0.7M347.8 92.0h0.7M342.1 91.6h0.7M319.3 99.5h0.7M327.4 94.7h0.7M329.6 94.1h0.7M347.4 82.6h0.7M329.8 93.7h0.7M342.1 91.3h0.7M334.4 98.2h0.7M338.4 90.2h0.7M339.3 86.2h0.7M331.1 91.6h0.7M340.0 102.8h0.7M339.2 88.1h0.7M342.6 99.8h0.7M329.8 91.9h0.7M343.8 96.2h0.7M320.4 105.6h0.7M335.2 95.3h0.7M336.2 87.1h0.7M335.2 91.7h0.7M336.0 88.1h0.7M325.5 95.9h0.7M328.1 97.3h0.7M346.5 95.3h0.7M339.2 87.3h0.7M347.4 89.5h0.7M332.4 92.5h0.7M336.1 102.2h0.7M332.9 90.0h0.7M331.1 88.7h0.7M331.0 98.1h0.7M336.1 89.4h0.7M357.2 87.2h0.7M326.5 92.1h0.7M328.4 97.3h0.7M340.2 93.7h0.7M335.5 90.8h0.7M332.3 100.7h0.7M336.9 100.4h0.7M339.3 84.2h0.7M333.9 86.6h0.7M328.6 87.8h0.7M335.7 91.7h0.7M338.9 93.8h0.7M337.2 92.4h0.7M343.6 93.2h0.7M331.2 95.3h0.7M341.3 85.9h0.7M320.9 94.5h0.7M335.9 99.6h0.7M331.6 93.9h0.7M341.3 90.6h0.7M329.4 95.9h0.7M325.4 91.1h0.7M332.9 85.8h0.7M334.5 90.8h0.7M328.3 97.0h0.7M332.4 94.6h0.7M337.3 96.6h0.7M336.8 90.2h0.7M337.1 95.9h0.7M330.1 100.6h0.7M331.5 91.1h0.7M329.9 90.2h0.7M316.0 99.6h0.7M339.3 93.5h0.7M346.7 86.6h0.7M329.5 90.7h0.7M324.7 100.0h0.7M328.2 94.9h0.7M332.2 103.0h0.7M334.1 96.4h0.7M332.9 94.3h0.7M331.8 98.6h0.7M325.3 89.6h0.7M331.2 98.7h0.7M334.2 92.5h0.7M339.5 91.6h0.7M329.0 95.1h0.7M332.9 90.4h0.7M340.1 86.9h0.7M357.1 88.1h0.7M329.5 95.8h0.7M348.9 94.6h0.7M328.5 93.4h0.7M333.6 96.9h0.7M331.3 88.2h0.7M346.3 90.8h0.7M331.4 101.8h0.7M339.6 87.8h0.7M338.9 99.9h0.7M345.4 91.5h0.7M329.1 95.8h0.7M336.4 94.3h0.7M332.6 91.6h0.7M343.3 93.6h0.7M317.5 98.2h0.7M353.0 89.2h0.7M336.6 87.9h0.7M318.0 97.6h0.7M338.6 90.9h0.7M329.9 92.1h0.7M336.2 92.0h0.7M337.5 90.7h0.7M348.3 83.3h0.7M322.6 92.5h0.7M339.6 90.5h0.7M347.6 85.7h0.7M327.8 90.0h0.7M340.0 94.3h0.7M336.1 102.3h0.7M333.2 90.1h0.7M317.8 100.2h0.7M337.8 90.6h0.7M330.6 95.5h0.7M347.3 91.6h0.7M331.5 97.0h0.7M340.0 93.8h0.7M339.1 90.9h0.7M341.3 84.7h0.7M323.6 98.3h0.7M334.7 84.9h0.7M337.9 89.8h0.7M329.6 102.5h0.7M333.9 94.3h0.7M340.7 93.5h0.7M335.4 93.7h0.7M339.8 94.3h0.7M337.0 91.2h0.7M337.1 94.9h0.7M332.1 92.2h0.7M325.7 91.3h0.7M340.1 95.6h0.7M339.7 96.4h0.7M339.0 94.9h0.7M326.8 98.1h0.7M337.7 103.1h0.7M331.0 102.3h0.7M336.3 93.6h0.7M333.8 87.2h0.7M328.5 99.2h0.7M330.5 93.7h0.7M335.7 97.2h0.7M331.5 91.2h0.7M332.7 97.7h0.7M334.7 87.1h0.7M325.7 94.0h0.7M339.7 85.9h0.7M330.3 103.9h0.7M336.6 91.7h0.7M339.0 100.0h0.7M332.4 98.3h0.7M324.5 100.5h0.7M352.3 87.1h0.7M334.4 95.2h0.7M336.7 100.2h0.7M336.8 92.2h0.7M317.7 95.3h0.7M344.5 92.0h0.7M328.1 91.6h0.7M339.0 100.6h0.7M336.7 89.1h0.7M329.1 93.4h0.7M316.2 96.3h0.7M331.8 93.4h0.7M325.6 97.7h0.7M341.3 82.7h0.7M324.1 99.3h0.7M343.8 86.9h0.7M332.1 92.1h0.7M333.1 91.4h0.7M348.0 95.7h0.7M341.4 92.2h0.7M331.9 91.0h0.7M335.9 96.9h0.7M317.7 104.2h0.7M331.7 90.0h0.7M335.9 89.7h0.7M331.7 90.1h0.7M331.7 86.7h0.7M343.4 86.7h0.7M332.4 90.7h0.7M327.4 97.0h0.7M332.5 90.5h0.7M333.0 88.8h0.7M341.2 92.6h0.7M339.7 89.0h0.7M340.3 101.4h0.7M342.8 93.3h0.7M338.2 84.2h0.7M329.9 90.2h0.7M338.1 88.3h0.7M333.8 88.5h0.7M345.3 81.6h0.7M336.5 90.4h0.7M346.0 90.0h0.7M325.7 89.6h0.7M334.7 86.3h0.7M336.2 95.1h0.7M334.3 88.6h0.7M330.1 87.6h0.7M346.5 97.4h0.7M330.5 99.5h0.7M343.5 87.1h0.7M330.3 92.2h0.7M330.4 96.0h0.7M332.1 97.9h0.7M348.3 90.6h0.7M344.1 94.6h0.7M351.3 90.8h0.7M351.3 83.5h0.7M343.1 97.9h0.7M334.0 92.7h0.7M329.2 95.3h0.7M345.2 91.9h0.7M332.8 88.4h0.7M340.5 90.4h0.7M330.0 94.8h0.7M331.6 86.3h0.7M331.3 101.2h0.7M322.4 105.1h0.7M338.8 97.9h0.7M335.2 90.7h0.7M340.6 96.3h0.7M331.6 94.0h0.7M338.3 92.1h0.7M325.6 97.8h0.7M344.3 93.5h0.7M316.6 100.9h0.7M336.4 94.8h0.7M343.4 85.4h0.7M317.4 92.2h0.7M323.7 93.1h0.7M326.2 90.0h0.7M338.3 86.6h0.7M327.7 103.5h0.7M333.1 92.7h0.7M339.7 92.9h0.7M356.0 84.5h0.7M326.5 96.0h0.7M338.1 92.5h0.7M332.4 98.9h0.7M338.0 102.1h0.7M322.2 89.7h0.7M326.0 89.3h0.7M324.3 99.2h0.7M324.5 98.8h0.7M336.0 94.8h0.7M329.8 97.0h0.7M321.9 91.5h0.7M330.0 93.0h0.7M323.8 93.1h0.7M331.7 97.0h0.7M327.4 97.3h0.7M346.5 88.3h0.7M352.6 90.2h0.7M337.8 94.7h0.7M322.2 96.9h0.7M345.2 93.2h0.7M351.3 90.7h0.7M332.6 95.4h0.7M337.5 93.8h0.7M345.8 87.9h0.7M337.5 91.4h0.7M345.1 91.2h0.7M337.2 96.6h0.7M334.7 86.2h0.7M334.1 88.9h0.7M334.5 91.1h0.7M330.3 93.3h0.7M337.5 105.6h0.7M338.0 92.2h0.7M330.7 98.7h0.7M338.6 97.2h0.7M332.0 99.9h0.7M337.5 102.3h0.7M344.9 96.2h0.7M339.2 88.0h0.7M332.1 91.3h0.7M322.5 101.0h0.7M341.4 104.5h0.7M334.2 99.9h0.7M324.0 105.8h0.7M332.5 96.8h0.7M329.6 88.7h0.7M344.3 93.7h0.7M336.5 94.7h0.7M329.9 98.0h0.7M322.3 97.7h0.7M352.6 88.5h0.7M332.6 99.4h0.7M321.1 90.2h0.7M330.3 94.6h0.7M333.1 96.6h0.7M334.2 96.8h0.7M326.0 95.9h0.7M344.8 90.3h0.7M339.7 92.4h0.7M332.8 98.1h0.7M331.8 90.7h0.7M326.0 86.9h0.7M333.6 93.2h0.7M329.4 88.4h0.7M337.2 93.1h0.7M343.9 87.5h0.7M333.1 90.8h0.7M333.4 91.1h0.7M332.3 98.1h0.7M349.4 88.4h0.7M348.7 86.8h0.7M323.2 93.7h0.7M329.3 97.4h0.7M355.8 88.3h0.7M331.4 95.8h0.7M347.5 93.1h0.7M337.3 95.7h0.7M349.5 83.2h0.7M332.4 93.6h0.7M336.6 91.7h0.7M338.4 94.2h0.7M337.1 89.5h0.7M335.2 92.4h0.7M351.6 81.5h0.7M334.1 93.0h0.7M340.6 100.3h0.7M330.4 94.1h0.7M332.8 93.4h0.7M339.4 94.9h0.7M334.7 100.5h0.7M344.0 89.4h0.7M339.8 85.2h0.7M338.3 87.1h0.7M333.9 89.5h0.7M323.9 93.5h0.7M329.9 97.4h0.7M344.7 89.1h0.7M337.8 87.6h0.7M334.1 97.8h0.7M340.9 98.7h0.7M331.1 88.9h0.7M335.5 97.1h0.7M331.9 92.0h0.7M344.7 90.4h0.7M325.4 92.3h0.7M335.3 88.4h0.7M336.7 83.9h0.7M337.1 85.4h0.7M333.6 89.0h0.7M347.6 94.6h0.7M332.6 95.1h0.7M331.8 97.5h0.7M327.5 88.8h0.7M326.1 92.8h0.7M334.2 85.3h0.7M329.7 87.7h0.7M335.9 98.4h0.7M331.6 92.2h0.7M326.6 103.0h0.7M332.3 96.6h0.7M330.3 90.4h0.7M328.5 89.2h0.7M332.9 100.0h0.7M331.6 98.3h0.7M340.4 104.0h0.7M336.9 94.7h0.7M343.1 87.4h0.7M351.3 83.5h0.7M330.0 90.9h0.7M342.1 92.8h0.7M341.4 85.1h0.7M335.3 96.7h0.7M321.8 98.2h0.7M332.6 87.7h0.7M336.1 91.6h0.7M339.2 85.4h0.7M343.1 98.4h0.7M335.3 88.2h0.7M340.4 86.9h0.7M329.3 87.4h0.7M338.1 83.6h0.7M332.9 98.6h0.7M345.6 96.3h0.7M347.7 86.3h0.7M334.3 88.1h0.7M329.3 92.5h0.7M334.9 93.5h0.7M334.6 87.2h0.7M348.6 100.2h0.7M339.4 96.3h0.7M329.1 103.8h0.7M332.6 96.8h0.7M316.8 94.1h0.7M333.6 91.4h0.7M335.7 86.7h0.7M344.5 95.6h0.7M324.7 90.1h0.7M337.7 100.3h0.7M329.8 98.9h0.7M338.1 97.9h0.7M337.3 94.7h0.7M336.0 102.4h0.7M347.7 102.9h0.7M326.1 99.7h0.7M331.1 99.1h0.7M337.0 88.8h0.7M327.0 100.9h0.7M329.2 103.1h0.7M334.4 95.3h0.7M331.5 95.8h0.7M323.9 92.2h0.7M336.7 94.0h0.7M326.2 91.3h0.7M333.4 95.6h0.7M343.0 92.0h0.7M336.4 89.6h0.7M335.6 95.2h0.7M334.5 94.1h0.7M327.8 100.9h0.7M332.7 98.2h0.7M336.3 100.0h0.7M328.6 92.7h0.7M331.1 98.8h0.7M342.5 89.1h0.7M333.3 89.3h0.7M324.4 97.8h0.7M340.1 94.3h0.7M342.7 88.7h0.7M339.3 98.1h0.7M331.0 100.9h0.7M328.7 97.1h0.7M342.1 100.1h0.7M341.3 98.0h0.7M338.3 98.0h0.7M334.4 88.6h0.7M341.9 82.8h0.7M330.4 91.1h0.7M337.8 89.9h0.7M341.1 86.9h0.7M339.0 93.6h0.7M338.4 89.1h0.7M349.7 92.9h0.7M331.4 88.1h0.7M345.4 91.5h0.7M328.3 101.0h0.7M345.1 87.3h0.7M346.6 100.6h0.7M343.2 97.1h0.7M324.6 92.7h0.7M345.8 90.7h0.7M335.9 94.6h0.7M343.0 90.9h0.7M332.7 98.2h0.7M335.6 91.3h0.7M327.9 89.5h0.7M330.7 95.9h0.7M337.9 88.6h0.7M322.4 95.9h0.7M332.3 86.5h0.7M337.3 90.0h0.7M338.2 93.9h0.7M334.6 89.1h0.7M342.5 98.3h0.7M332.4 92.4h0.7M339.4 94.1h0.7M350.7 82.2h0.7M328.6 96.0h0.7M343.5 93.4h0.7M340.7 82.1h0.7M329.1 94.3h0.7M345.9 94.7h0.7M349.3 89.0h0.7M336.9 87.0h0.7M347.4 85.2h0.7M342.6 93.0h0.7M335.6 93.1h0.7M351.7 91.7h0.7M329.0 103.9h0.7M331.3 92.8h0.7M335.6 93.8h0.7M339.8 84.3h0.7M331.9 94.6h0.7M331.1 97.9h0.7M329.2 88.1h0.7M333.9 104.3h0.7M328.1 89.8h0.7M343.1 93.7h0.7M341.9 90.9h0.7M334.4 90.8h0.7M328.8 97.5h0.7M344.4 99.6h0.7M341.5 86.9h0.7M334.5 90.0h0.7M340.7 106.5h0.7M336.1 87.6h0.7M334.2 91.7h0.7M354.6 86.1h0.7M341.2 91.8h0.7M343.1 95.1h0.7M335.6 101.4h0.7M341.0 92.5h0.7M339.5 96.1h0.7M348.7 97.7h0.7M330.2 88.7h0.7M319.2 93.3h0.7M328.5 103.0h0.7M324.6 94.9h0.7M330.8 104.4h0.7M331.3 86.3h0.7M338.4 89.0h0.7M343.6 93.1h0.7M335.5 87.3h0.7M328.9 96.4h0.7M344.8 86.8h0.7M329.7 94.7h0.7M339.9 84.7h0.7M337.5 88.3h0.7M326.2 94.3h0.7M340.8 96.1h0.7M331.2 87.7h0.7M346.8 84.7h0.7M336.9 95.9h0.7M331.5 87.4h0.7M332.3 95.1h0.7M338.1 99.9h0.7M332.0 96.4h0.7M355.9 84.6h0.7M325.3 99.6h0.7M340.9 99.0h0.7M326.2 89.7h0.7M335.4 90.6h0.7M338.6 100.7h0.7M321.6 94.6h0.7M336.5 95.2h0.7M324.9 98.9h0.7M325.0 95.9h0.7M327.9 100.5h0.7M331.9 93.8h0.7M331.3 93.6h0.7M330.7 91.4h0.7M313.9 99.6h0.7M348.8 86.5h0.7M347.9 97.8h0.7M340.7 89.8h0.7M339.3 83.0h0.7M325.9 98.4h0.7M336.4 95.4h0.7M336.9 94.6h0.7M330.4 91.3h0.7M334.6 92.9h0.7M342.9 89.6h0.7M333.8 100.3h0.7M331.3 100.5h0.7M336.7 92.8h0.7M330.6 93.1h0.7M334.5 94.6h0.7M333.5 98.0h0.7M329.8 94.3h0.7M336.2 90.6h0.7M342.8 91.8h0.7M342.2 94.6h0.7M320.8 92.3h0.7M326.8 91.0h0.7M339.0 99.8h0.7M337.4 95.4h0.7M336.0 98.1h0.7M328.5 88.3h0.7M333.7 97.7h0.7M339.7 93.3h0.7M339.4 91.8h0.7M332.6 89.4h0.7M333.5 89.7h0.7M339.3 90.6h0.7M336.6 93.8h0.7M345.0 92.7h0.7M313.7 104.1h0.7M330.0 95.8h0.7M343.6 94.5h0.7M327.9 92.7h0.7M338.8 88.8h0.7M348.1 88.8h0.7M327.5 95.1h0.7M342.5 84.9h0.7M344.3 102.0h0.7M322.0 101.7h0.7M339.4 99.8h0.7M328.9 99.2h0.7M331.9 99.3h0.7M334.1 96.9h0.7M339.4 102.1h0.7M336.0 88.8h0.7M344.0 90.7h0.7M339.2 96.5h0.7M335.4 93.5h0.7M347.3 85.4h0.7M335.3 97.7h0.7M331.9 98.8h0.7M357.5 92.0h0.7M320.4 95.3h0.7M324.6 98.4h0.7M334.3 90.2h0.7M339.4 88.5h0.7M334.4 92.4h0.7M355.3 86.5h0.7M335.7 86.3h0.7M327.3 94.4h0.7M330.2 103.1h0.7M336.2 86.5h0.7M327.3 101.9h0.7M339.2 98.4h0.7M334.8 98.7h0.7M339.6 100.4h0.7M329.3 90.9h0.7M336.5 99.3h0.7M340.1 85.0h0.7M333.5 88.9h0.7M323.4 95.0h0.7M332.6 97.4h0.7M331.4 85.8h0.7M346.3 82.9h0.7M337.5 95.5h0.7M338.0 94.8h0.7M353.1 97.0h0.7M344.7 92.8h0.7M336.3 99.4h0.7M334.7 97.4h0.7M336.5 94.2h0.7M325.5 105.0h0.7M341.3 94.5h0.7M311.0 101.4h0.7M326.5 92.5h0.7M340.3 86.9h0.7M333.5 92.0h0.7M328.2 99.6h0.7M346.1 84.0h0.7M334.5 97.2h0.7M324.0 91.7h0.7M339.4 98.2h0.7M326.6 95.3h0.7M344.7 87.8h0.7M335.1 96.4h0.7M339.6 93.1h0.7M340.0 98.1h0.7M322.5 103.8h0.7M340.7 92.2h0.7M330.1 102.2h0.7M333.9 92.7h0.7M333.6 96.6h0.7M331.3 94.3h0.7M337.7 89.6h0.7M336.8 94.0h0.7M332.2 90.9h0.7M341.5 96.4h0.7M339.3 87.5h0.7M330.5 88.1h0.7M336.1 98.0h0.7M337.5 96.2h0.7M323.6 96.4h0.7M335.8 96.4h0.7M329.6 99.0h0.7M335.8 95.9h0.7M331.4 98.3h0.7M340.5 89.1h0.7M335.2 96.1h0.7M321.5 89.3h0.7M339.6 86.6h0.7M340.0 92.1h0.7M338.6 96.8h0.7M344.1 93.4h0.7M332.5 103.0h0.7M342.7 97.0h0.7M340.2 95.6h0.7M331.7 93.9h0.7M334.5 86.0h0.7M344.3 93.6h0.7M340.3 93.5h0.7M317.8 102.8h0.7M330.3 89.1h0.7M344.0 92.7h0.7M338.7 89.4h0.7M322.7 94.2h0.7M343.7 84.0h0.7M341.5 94.9h0.7M340.0 93.4h0.7M334.5 94.3h0.7M331.9 92.9h0.7M330.3 96.0h0.7M337.4 93.2h0.7M350.0 99.2h0.7M347.1 105.5h0.7M329.1 102.5h0.7M323.9 95.2h0.7M338.5 86.4h0.7M332.1 95.7h0.7M338.5 84.4h0.7M326.2 88.6h0.7M336.6 90.1h0.7M334.1 87.3h0.7M335.7 93.3h0.7M325.5 91.4h0.7M337.8 89.3h0.7M325.6 95.4h0.7M331.7 89.3h0.7M326.9 100.3h0.7M329.6 96.8h0.7M332.8 91.0h0.7M330.1 95.7h0.7M333.0 89.6h0.7M332.3 89.9h0.7M328.2 98.9h0.7M337.7 84.6h0.7M347.4 95.8h0.7M336.2 103.8h0.7M318.5 106.4h0.7M349.2 82.8h0.7M344.2 81.8h0.7M347.2 86.9h0.7M323.6 90.0h0.7M337.4 92.1h0.7M342.9 97.7h0.7M337.2 89.0h0.7M335.6 93.9h0.7M333.3 96.6h0.7M329.9 102.7h0.7M336.8 92.7h0.7M329.2 97.2h0.7M328.8 96.0h0.7M332.6 93.5h0.7M340.9 91.3h0.7M342.7 95.2h0.7M334.3 97.0h0.7M337.5 86.0h0.7M345.3 91.2h0.7M338.4 95.1h0.7M339.8 94.8h0.7M333.6 95.0h0.7M327.5 102.2h0.7M335.8 99.0h0.7M338.1 86.3h0.7M339.0 101.9h0.7M331.3 89.3h0.7M340.3 88.6h0.7M332.3 99.1h0.7M329.2 91.4h0.7M338.1 83.9h0.7M326.1 96.6h0.7M331.6 95.7h0.7M331.9 96.1h0.7M358.6 85.4h0.7M325.7 97.6h0.7M341.9 89.8h0.7M329.5 98.1h0.7M341.8 86.3h0.7M336.0 87.9h0.7M348.0 88.9h0.7M340.2 99.0h0.7M322.4 94.5h0.7M336.2 90.0h0.7M328.8 100.7h0.7M323.6 94.3h0.7M334.3 97.4h0.7M338.1 95.0h0.7M336.2 92.6h0.7M338.4 93.9h0.7M346.7 95.6h0.7M328.9 99.4h0.7M342.6 96.5h0.7M348.3 98.0h0.7M339.6 82.8h0.7M344.2 94.9h0.7M337.5 94.0h0.7M329.9 95.6h0.7M348.7 87.6h0.7M341.4 93.9h0.7M327.4 87.3h0.7M341.1 93.6h0.7M334.5 92.7h0.7M337.5 92.1h0.7M326.3 94.8h0.7M340.9 90.4h0.7M336.8 93.0h0.7M326.8 97.0h0.7M328.6 101.4h0.7M344.5 95.3h0.7M344.0 97.6h0.7M323.2 96.3h0.7M334.1 102.3h0.7M327.1 104.7h0.7M333.9 89.6h0.7M335.3 96.9h0.7M345.5 94.8h0.7M334.7 101.8h0.7M338.0 89.5h0.7M344.1 83.5h0.7M339.3 100.7h0.7M334.3 94.6h0.7M334.6 96.8h0.7M336.1 95.4h0.7M339.4 94.7h0.7M321.0 95.4h0.7M346.8 90.8h0.7M344.1 81.9h0.7M334.7 94.9h0.7M328.1 92.8h0.7M339.2 90.0h0.7M351.5 89.8h0.7M327.5 100.3h0.7M326.3 89.0h0.7M342.0 87.3h0.7M333.9 96.8h0.7M330.9 101.2h0.7M328.8 86.0h0.7M341.7 87.6h0.7M343.4 87.3h0.7M303.8 95.2h0.7M335.1 96.2h0.7M336.8 100.9h0.7M329.4 92.8h0.7M321.2 91.7h0.7M338.2 89.8h0.7M347.5 99.3h0.7M340.1 89.8h0.7M354.2 88.5h0.7M338.8 91.8h0.7M334.2 92.9h0.7M328.9 95.3h0.7M347.7 89.6h0.7M320.9 102.7h0.7M325.5 103.6h0.7M336.1 86.9h0.7M337.4 93.9h0.7M339.1 87.5h0.7M326.0 91.5h0.7M331.1 86.3h0.7M348.8 91.5h0.7M335.5 94.5h0.7M335.2 94.0h0.7M337.3 85.7h0.7M343.8 82.0h0.7M340.0 99.8h0.7M342.4 92.1h0.7M335.4 93.4h0.7M337.9 101.1h0.7M337.6 87.5h0.7M331.5 95.3h0.7M344.8 89.3h0.7M334.5 94.1h0.7M348.3 90.8h0.7M334.6 92.6h0.7M338.6 93.6h0.7M350.9 85.1h0.7M327.4 91.7h0.7M330.9 97.9h0.7M342.9 92.5h0.7M331.0 97.8h0.7M330.6 96.7h0.7M334.0 94.4h0.7M334.7 91.0h0.7M333.3 93.5h0.7M341.5 87.9h0.7M334.4 96.7h0.7M347.1 94.8h0.7M334.5 99.6h0.7M340.9 105.5h0.7M334.2 97.7h0.7M346.5 96.2h0.7M334.3 94.1h0.7M341.9 97.7h0.7M332.8 100.7h0.7M348.2 91.5h0.7M334.1 86.0h0.7M336.7 85.5h0.7M335.6 98.5h0.7M327.6 95.6h0.7M344.6 96.0h0.7M339.7 83.8h0.7M341.3 89.9h0.7M347.9 84.4h0.7M343.6 86.7h0.7M332.3 89.9h0.7M328.5 89.3h0.7M319.1 101.8h0.7M333.3 86.0h0.7M332.4 89.6h0.7M332.4 88.9h0.7M338.9 93.4h0.7M323.9 97.1h0.7M326.7 88.6h0.7M342.1 83.8h0.7M349.8 90.7h0.7M328.0 95.2h0.7M338.3 87.0h0.7M332.5 98.4h0.7M346.6 87.4h0.7M343.9 89.5h0.7M334.0 90.5h0.7M336.5 103.6h0.7M333.9 97.3h0.7M340.5 95.0h0.7M351.8 87.4h0.7M327.8 89.2h0.7M321.3 101.9h0.7M323.0 100.2h0.7M336.1 93.8h0.7M338.8 89.1h0.7M353.5 83.3h0.7M347.2 90.5h0.7M336.2 95.9h0.7M333.1 96.1h0.7M339.3 95.2h0.7M340.9 89.1h0.7M330.8 95.8h0.7M341.1 92.1h0.7M329.5 97.9h0.7M334.3 94.4h0.7M332.3 97.3h0.7M330.5 94.9h0.7M332.5 90.4h0.7M332.6 99.5h0.7M338.0 87.3h0.7M324.9 96.7h0.7M348.8 90.6h0.7M348.9 91.0h0.7M346.5 94.5h0.7M345.6 90.2h0.7M338.1 87.4h0.7M331.8 87.9h0.7M331.8 86.8h0.7M323.2 93.2h0.7M332.4 94.8h0.7M323.7 92.6h0.7M341.1 84.5h0.7M337.1 93.8h0.7M328.9 98.2h0.7M335.2 86.8h0.7M337.9 88.1h0.7M336.8 98.1h0.7M333.7 92.1h0.7M344.3 99.0h0.7M330.3 91.2h0.7M335.5 85.1h0.7M332.3 92.8h0.7M334.3 92.7h0.7M336.2 94.7h0.7M342.0 88.4h0.7M334.6 90.5h0.7M340.6 104.2h0.7M324.1 90.0h0.7M332.6 101.8h0.7M339.2 86.8h0.7M325.2 94.3h0.7M324.3 95.1h0.7M333.6 97.8h0.7M343.6 93.0h0.7M340.2 89.5h0.7M334.5 93.6h0.7M337.7 84.9h0.7M337.3 84.6h0.7M335.1 101.7h0.7M340.4 97.6h0.7M333.6 103.2h0.7M329.0 95.7h0.7M343.8 85.0h0.7M345.6 87.6h0.7M321.6 94.8h0.7M340.1 88.5h0.7M334.4 87.8h0.7M339.4 87.1h0.7M328.7 88.9h0.7M333.3 95.4h0.7M333.6 89.1h0.7M328.1 100.0h0.7M324.1 102.1h0.7M338.6 92.7h0.7M339.7 98.8h0.7M325.2 99.1h0.7M336.5 94.2h0.7M332.7 92.1h0.7M333.2 100.0h0.7M341.1 96.7h0.7M337.6 92.0h0.7M335.9 90.3h0.7M327.9 93.1h0.7M340.3 98.2h0.7M344.7 96.8h0.7M323.7 89.8h0.7M339.8 92.2h0.7M333.6 93.9h0.7M327.6 90.8h0.7M347.6 92.6h0.7M341.9 87.7h0.7M352.3 88.6h0.7M328.9 94.6h0.7M331.3 94.3h0.7M325.7 91.4h0.7M329.2 104.9h0.7M324.0 92.1h0.7M330.9 96.9h0.7M342.4 94.6h0.7M340.4 90.5h0.7M339.9 96.8h0.7M332.9 99.0h0.7M340.5 93.1h0.7M332.9 95.8h0.7M341.2 88.2h0.7M335.4 92.0h0.7M328.0 96.2h0.7M327.5 93.1h0.7M346.1 88.6h0.7M325.1 90.4h0.7M330.1 91.8h0.7M338.5 91.6h0.7M339.3 93.4h0.7M332.1 101.7h0.7M324.0 94.3h0.7M343.9 91.0h0.7M332.3 96.8h0.7M323.0 96.6h0.7M345.9 87.3h0.7M336.3 89.8h0.7M325.6 87.2h0.7M315.6 94.9h0.7M331.5 97.8h0.7M331.4 91.9h0.7M333.4 99.8h0.7M337.9 90.0h0.7M330.7 91.4h0.7M338.4 92.7h0.7M336.2 94.1h0.7M322.8 102.1h0.7M344.0 87.1h0.7M334.9 96.1h0.7M333.6 93.5h0.7M334.1 99.5h0.7M333.5 85.9h0.7M333.1 86.8h0.7M329.3 102.3h0.7M324.8 99.9h0.7M342.6 98.9h0.7M337.3 92.5h0.7M337.1 98.9h0.7M347.7 93.2h0.7M348.5 87.2h0.7M350.3 92.4h0.7M330.0 91.7h0.7M349.9 87.5h0.7M334.1 90.0h0.7M335.9 89.4h0.7M335.2 95.9h0.7M333.0 98.4h0.7M331.9 99.1h0.7M334.3 99.0h0.7M349.2 87.3h0.7M318.3 96.2h0.7M322.7 97.5h0.7M325.1 95.3h0.7M340.3 88.0h0.7M337.6 94.0h0.7M351.1 88.6h0.7M333.0 97.9h0.7M336.8 96.0h0.7M349.4 90.8h0.7M353.2 85.9h0.7M336.3 90.7h0.7M337.0 92.3h0.7M335.3 97.6h0.7M337.3 97.4h0.7M330.8 99.8h0.7M329.9 97.2h0.7M347.7 90.6h0.7M347.5 90.7h0.7M335.1 93.9h0.7M332.4 91.2h0.7M336.0 84.2h0.7M324.6 97.2h0.7M333.2 93.7h0.7M324.6 103.7h0.7M338.9 90.3h0.7M328.8 98.7h0.7M328.6 93.9h0.7M331.3 95.7h0.7M317.7 93.4h0.7M334.7 99.0h0.7M332.2 95.9h0.7M346.5 90.5h0.7M332.6 92.5h0.7M335.1 91.8h0.7M328.8 93.5h0.7M349.4 94.3h0.7M338.6 90.8h0.7M345.7 89.9h0.7M333.1 93.0h0.7M344.8 83.5h0.7M327.6 95.3h0.7M330.0 95.1h0.7M332.4 87.1h0.7M340.6 92.9h0.7M348.0 80.9h0.7M342.4 95.4h0.7M326.1 98.4h0.7M329.9 95.6h0.7M332.3 98.2h0.7M340.3 92.5h0.7M324.0 97.7h0.7M331.4 96.8h0.7M342.9 92.4h0.7M335.8 93.5h0.7M339.6 84.0h0.7M331.5 85.7h0.7M330.0 98.5h0.7M337.1 98.6h0.7M344.9 88.6h0.7M344.0 82.3h0.7M329.3 99.3h0.7M327.7 94.9h0.7M342.5 103.4h0.7M336.1 99.9h0.7M321.7 104.0h0.7M325.6 97.5h0.7M338.1 90.0h0.7M325.9 91.2h0.7M330.5 99.0h0.7M342.9 85.3h0.7M324.3 96.1h0.7M337.6 90.8h0.7M334.4 100.0h0.7M332.2 90.0h0.7M340.0 89.0h0.7M336.9 98.2h0.7M327.3 98.8h0.7M340.2 94.6h0.7M334.6 89.8h0.7M334.6 96.6h0.7M337.0 90.4h0.7M333.2 96.4h0.7M320.8 93.5h0.7M340.1 97.1h0.7M341.3 87.8h0.7M338.0 89.3h0.7M333.9 103.0h0.7M331.3 94.7h0.7M334.6 92.0h0.7M341.3 88.1h0.7M321.6 90.2h0.7M329.2 94.3h0.7M334.6 86.4h0.7M333.1 92.7h0.7M332.1 91.6h0.7M336.8 93.0h0.7M336.9 99.6h0.7M339.6 90.6h0.7M342.9 91.8h0.7M337.9 94.4h0.7M347.2 89.7h0.7M351.4 83.5h0.7M331.8 93.1h0.7M330.8 90.6h0.7M332.9 89.5h0.7M328.5 100.5h0.7M339.9 93.6h0.7M341.0 88.9h0.7M338.7 89.2h0.7M325.7 101.6h0.7M329.8 97.4h0.7M339.0 83.3h0.7M334.9 96.2h0.7M315.6 90.3h0.7M338.6 89.8h0.7M335.2 99.1h0.7M327.9 96.9h0.7M347.6 88.4h0.7M340.6 92.9h0.7M338.1 96.4h0.7M324.4 92.3h0.7M339.4 95.2h0.7M338.3 89.2h0.7M332.7 100.0h0.7M314.8 100.8h0.7M326.3 89.4h0.7M337.2 85.3h0.7M327.2 90.4h0.7" stroke="#2ca02c" stroke-opacity="0.32" stroke-width="0.7" fill="none"/>
</g>
<rect x="204.4" y="42.2" width="82.1" height="71.7" fill="none" stroke="#222" stroke-width="1"/>
<rect x="292.3" y="42.0" width="81.5" height="71.9" fill="none" stroke="#222" stroke-width="1"/>
<text class="ns" x="248.3" y="55.0" font-size="4.5" font-style="italic" fill="#1a1a1a" stroke="#1a1a1a" stroke-width="0.1">Enpep</text>
<text class="ns" x="267.0" y="53.6" font-size="4.5" font-style="italic" fill="#1a1a1a" stroke="#1a1a1a" stroke-width="0.1">Psmb11</text>
<text class="ns" x="262.0" y="65.0" font-size="4.5" font-style="italic" fill="#1a1a1a" stroke="#1a1a1a" stroke-width="0.1">Dlx4</text>
<text class="ns" x="273.0" y="66.6" font-size="4.5" font-style="italic" fill="#1a1a1a" stroke="#1a1a1a" stroke-width="0.1">Ccl25</text>
<text class="ns" x="252.7" y="96.5" font-size="4.5" font-style="italic" fill="#1a1a1a" stroke="#1a1a1a" stroke-width="0.1">Kit</text>
<text class="ns" x="261.2" y="92.6" font-size="4.5" font-style="italic" fill="#1a1a1a" stroke="#1a1a1a" stroke-width="0.1">Ly75</text>
<text class="ns" x="271.8" y="92.6" font-size="4.5" font-style="italic" fill="#1a1a1a" stroke="#1a1a1a" stroke-width="0.1">Plxd16</text>
<text class="ns" x="265.5" y="99.9" font-size="4.5" font-style="italic" fill="#1a1a1a" stroke="#1a1a1a" stroke-width="0.1">Cxcl12</text>
<text class="ns" x="344.8" y="49.7" font-size="4.5" font-style="italic" fill="#1a1a1a" stroke="#1a1a1a" stroke-width="0.1">Lbr</text>
<text class="ns" x="357.0" y="52.1" font-size="4.5" font-style="italic" fill="#c0392b" stroke="#c0392b" stroke-width="0.1">Foxn1</text>
<text class="ns" x="361.6" y="59.0" font-size="4.5" font-style="italic" fill="#1a1a1a" stroke="#1a1a1a" stroke-width="0.1">Cd40</text>
<text class="ns" x="363.0" y="68.1" font-size="4.5" font-style="italic" fill="#1a1a1a" stroke="#1a1a1a" stroke-width="0.1">Fezf2</text>
<text class="ns" x="365.3" y="88.8" font-size="4.5" font-style="italic" fill="#1a1a1a" stroke="#1a1a1a" stroke-width="0.1">Aire</text>
<text class="ns" x="357.3" y="95.1" font-size="4.5" font-style="italic" fill="#1a1a1a" stroke="#1a1a1a" stroke-width="0.1">Tnfrsf11a</text>
<text class="ns" x="355.1" y="102.1" font-size="4.5" font-style="italic" fill="#1a1a1a" stroke="#1a1a1a" stroke-width="0.1">Tnfrsf11b</text>
<text class="ns" x="338.1" y="107.1" font-size="4.5" font-style="italic" fill="#1a1a1a" stroke="#1a1a1a" stroke-width="0.1">Ccl21</text>
<text class="ns" x="350.9" y="110.3" font-size="4.5" font-style="italic" fill="#1a1a1a" stroke="#1a1a1a" stroke-width="0.1">Tspan8</text>
<path d="M255.4 55.6L260.7 74.6M273.5 55.0L269.7 76.5M265.7 66.0L265.7 77.0M277.8 67.9L273.0 76.5M256.2 93.0L259.8 79.1M265.3 88.9L269.2 78.4M279.4 80.5L279.4 89.0M271.8 80.5L271.8 96.0M348.6 51.6L344.4 77.1M361.4 54.2L350.2 68.6M362.5 59.6L351.3 75.0M363.5 68.6L354.0 76.6M365.8 87.2L362.0 79.2M359.9 90.4L352.0 79.2M357.8 97.8L350.9 80.3M347.2 104.2L349.8 82.4M354.6 105.3L350.9 81.3" stroke="#222" stroke-width="0.55" fill="none"/>
<text x="198.3" y="53.599999999999994" font-size="6.6" fill="#444" stroke="#444" stroke-width="0.18" text-anchor="end" >0.4</text>
<text x="198.3" y="67.1" font-size="6.6" fill="#444" stroke="#444" stroke-width="0.18" text-anchor="end" >0.2</text>
<text x="198.3" y="80.6" font-size="6.6" fill="#444" stroke="#444" stroke-width="0.18" text-anchor="end" >0.0</text>
<text x="198.3" y="94.1" font-size="6.6" fill="#444" stroke="#444" stroke-width="0.18" text-anchor="end" >-0.2</text>
<text x="198.3" y="107.6" font-size="6.6" fill="#444" stroke="#444" stroke-width="0.18" text-anchor="end" >-0.4</text>
<path d="M200.6 51.3H204M200.6 64.8H204M200.6 78.3H204M200.6 91.8H204M200.6 105.3H204M289.2 44.3H292.3M289.2 61.3H292.3M289.2 78.3H292.3M289.2 95.3H292.3M289.2 112.3H292.3M213.6 113.9V117.6M236.8 113.9V117.6M259.9 113.9V117.6M283.1 113.9V117.6M301.3 113.9V117.6M324.9 113.9V117.6M348.4 113.9V117.6M372.0 113.9V117.6" stroke="#333" stroke-width="0.9" fill="none"/>
<text x="213.29999999999998" y="126.8" font-size="6.2" fill="#444" stroke="#444" stroke-width="0.18" text-anchor="middle">1e<tspan font-size="4.6" dy="-2.0">+00</tspan></text>
<text x="236.5" y="126.8" font-size="6.2" fill="#444" stroke="#444" stroke-width="0.18" text-anchor="middle">1e<tspan font-size="4.6" dy="-2.0">+02</tspan></text>
<text x="259.59999999999997" y="126.8" font-size="6.2" fill="#444" stroke="#444" stroke-width="0.18" text-anchor="middle">1e<tspan font-size="4.6" dy="-2.0">+04</tspan></text>
<text x="282.8" y="126.8" font-size="6.2" fill="#444" stroke="#444" stroke-width="0.18" text-anchor="middle">1e<tspan font-size="4.6" dy="-2.0">+06</tspan></text>
<text x="301.0" y="126.8" font-size="6.2" fill="#444" stroke="#444" stroke-width="0.18" text-anchor="middle">1e<tspan font-size="4.6" dy="-2.0">+00</tspan></text>
<text x="324.59999999999997" y="126.8" font-size="6.2" fill="#444" stroke="#444" stroke-width="0.18" text-anchor="middle">1e<tspan font-size="4.6" dy="-2.0">+02</tspan></text>
<text x="348.09999999999997" y="126.8" font-size="6.2" fill="#444" stroke="#444" stroke-width="0.18" text-anchor="middle">1e<tspan font-size="4.6" dy="-2.0">+04</tspan></text>
<text x="371.7" y="126.8" font-size="6.2" fill="#444" stroke="#444" stroke-width="0.18" text-anchor="middle">1e<tspan font-size="4.6" dy="-2.0">+06</tspan></text>
<text x="0" y="0" font-size="9.4" fill="#333" stroke="#333" stroke-width="0.18" text-anchor="middle" transform="translate(290.0 137.7) scale(0.925 1)">Mean expression</text>
<circle cx="220.9" cy="144.5" r="1.9" fill="#b8392a"/>
<circle cx="272.7" cy="144.5" r="1.9" fill="#111"/>
<circle cx="315.9" cy="144.5" r="1.9" fill="#3f9a3f"/>
<text x="225.8" y="146.6" font-size="6.65" fill="#333" stroke="#333" stroke-width="0.18" >Upregulated</text>
<text x="276.6" y="146.6" font-size="6.65" fill="#333" stroke="#333" stroke-width="0.18" >Unaltered</text>
<text x="319.3" y="146.6" font-size="6.65" fill="#333" stroke="#333" stroke-width="0.18" >Downregulated</text>
<text x="210.0" y="52.2" font-size="6.0" fill="#8a3428" stroke="#8a3428" stroke-width="0.18" >17</text>
<text x="210.0" y="110.0" font-size="6.0" fill="#2a6a2a" stroke="#2a6a2a" stroke-width="0.18" >29</text>
<text x="297.2" y="52.5" font-size="6.2" fill="#b8402e" stroke="#b8402e" stroke-width="0.18" >1418</text>
<text x="297.2" y="110.2" font-size="6.2" fill="#3e883e" stroke="#3e883e" stroke-width="0.18" >1945</text>
<text x="402.0" y="42.5" font-size="6.6" font-weight="bold" fill="#222" stroke="#222" stroke-width="0.28"><tspan fill="#4a70a8" stroke="#4a70a8">p53cKO</tspan> <tspan fill="#c0392b" stroke="#c0392b">Upregulated</tspan> genes</text>
<ellipse cx="429.2" cy="62.2" rx="13.4" ry="10.9" fill="#a3b5d8" stroke="#2a2a2a" stroke-width="1.25"/>
<ellipse cx="452.9" cy="62.2" rx="22.0" ry="14.9" fill="#edbea7" fill-opacity="0.85" stroke="#2a2a2a" stroke-width="1.25"/>
<text x="426.7" y="64.5" font-size="6.3" font-weight="bold" fill="#cc5436" stroke="#cc5436" stroke-width="0.28" text-anchor="middle" >8</text>
<text x="436.5" y="64.5" font-size="6.3" font-weight="bold" fill="#cc5436" stroke="#cc5436" stroke-width="0.28" text-anchor="middle" >9</text>
<text x="453.3" y="64.5" font-size="6.3" font-weight="bold" fill="#cc5436" stroke="#cc5436" stroke-width="0.28" text-anchor="middle" >1409</text>
<text x="398.4" y="76.5" font-size="6.4" font-weight="bold" fill="#222" stroke="#222" stroke-width="0.28" >cTEC</text>
<text x="473.8" y="76.8" font-size="6.4" font-weight="bold" fill="#222" stroke="#222" stroke-width="0.28" >mTEC</text>
<text x="396.9" y="94.7" font-size="6.6" font-weight="bold" fill="#222" stroke="#222" stroke-width="0.28"><tspan fill="#4a70a8" stroke="#4a70a8">p53cKO</tspan> <tspan fill="#4e9a4e" stroke="#4e9a4e">Downregulated</tspan> genes</text>
<ellipse cx="429.2" cy="114.4" rx="13.4" ry="10.9" fill="#a3b5d8" stroke="#2a2a2a" stroke-width="1.25"/>
<ellipse cx="452.9" cy="114.4" rx="22.0" ry="14.9" fill="#edbea7" fill-opacity="0.85" stroke="#2a2a2a" stroke-width="1.25"/>
<text x="426.4" y="116.7" font-size="6.3" font-weight="bold" fill="#4e9a3a" stroke="#4e9a3a" stroke-width="0.28" text-anchor="middle" >11</text>
<text x="437.6" y="116.7" font-size="6.3" font-weight="bold" fill="#4e9a3a" stroke="#4e9a3a" stroke-width="0.28" text-anchor="middle" >18</text>
<text x="453.5" y="116.7" font-size="6.3" font-weight="bold" fill="#4e9a3a" stroke="#4e9a3a" stroke-width="0.28" text-anchor="middle" >1927</text>
<text x="398.4" y="128.7" font-size="6.4" font-weight="bold" fill="#222" stroke="#222" stroke-width="0.28" >cTEC</text>
<text x="473.8" y="129.0" font-size="6.4" font-weight="bold" fill="#222" stroke="#222" stroke-width="0.28" >mTEC</text>
<line x1="25.9" y1="186.7" x2="25.9" y2="347.7" stroke="#333" stroke-width="1"/>
<text x="21.4" y="253.9" font-size="7.5" font-weight="bold" fill="#222" stroke="#222" stroke-width="0.28" text-anchor="middle" transform="rotate(-90 21.4 253.9)">Tissue-restricted antigens</text>
<defs><radialGradient id="gL" cx="0.4" cy="0.35" r="0.7"><stop offset="0" stop-color="#dadada"/><stop offset="1" stop-color="#bcbcbc"/></radialGradient><radialGradient id="gR" cx="0.6" cy="0.35" r="0.7"><stop offset="0" stop-color="#acacac"/><stop offset="1" stop-color="#888888"/></radialGradient></defs>
<text x="32.6" y="194.7" font-size="6.4" font-weight="bold" fill="#1a1a1a" stroke="#1a1a1a" stroke-width="0.28" >Aire-dep.</text>
<text x="69.5" y="194.7" font-size="6.3" font-weight="bold" fill="#1a1a1a" stroke="#1a1a1a" stroke-width="0.28" >Aire-indep.</text>
<circle cx="49.0" cy="215.0" r="17.5" fill="url(#gL)" stroke="#2a2a2a" stroke-width="1.1"/>
<circle cx="86.6" cy="215.3" r="18.3" fill="url(#gR)" stroke="#2a2a2a" stroke-width="1.1"/>
<ellipse cx="67.6" cy="225.4" rx="23.1" ry="18.4" fill="#ee4a2a" fill-opacity="0.85" stroke="#2a1a14" stroke-width="1.35"/>
<circle cx="49.0" cy="215.0" r="17.5" fill="none" stroke="#2a2a2a" stroke-width="0.8" opacity="0.6"/>
<circle cx="86.6" cy="215.3" r="18.3" fill="none" stroke="#2a2a2a" stroke-width="0.8" opacity="0.6"/>
<text x="45.9" y="208.39999999999998" font-size="6.3" fill="#333" stroke="#333" stroke-width="0.18" text-anchor="middle" >2361</text>
<text x="90.3" y="208.39999999999998" font-size="6.3" fill="#333" stroke="#333" stroke-width="0.18" text-anchor="middle" >3994</text>
<text x="58.9" y="217.2" font-size="6.3" font-weight="bold" fill="#1a1a1a" stroke="#1a1a1a" stroke-width="0.28" text-anchor="middle" >12</text>
<text x="77.8" y="217.2" font-size="6.3" font-weight="bold" fill="#1a1a1a" stroke="#1a1a1a" stroke-width="0.28" text-anchor="middle" >244</text>
<text x="55.1" y="224.0" font-size="5.0" fill="#2a1a18" stroke="#2a1a18" stroke-width="0.18" text-anchor="middle" >(0.8%)</text>
<text x="78.8" y="224.0" font-size="5.0" fill="#2a1a18" stroke="#2a1a18" stroke-width="0.18" text-anchor="middle" >(17.2%)</text>
<text x="68.0" y="233.1" font-size="6.3" fill="#2a1a18" stroke="#2a1a18" stroke-width="0.18" text-anchor="middle" >1162</text>
<text x="68.2" y="240.5" font-size="6.1" fill="#2a1a18" stroke="#2a1a18" stroke-width="0.18" text-anchor="middle" >(82%)</text>
<text x="49.1" y="252.5" font-size="6.5" font-weight="bold" fill="#c0392b" stroke="#c0392b" stroke-width="0.28">Upregulated</text>
<text x="42.2" y="259.9" font-size="6.45" font-weight="bold" fill="#222" stroke="#222" stroke-width="0.28">in <tspan fill="#4a70a8" stroke="#4a70a8">p53cKO</tspan> mTEC</text>
<text x="32.6" y="276.29999999999995" font-size="6.4" font-weight="bold" fill="#1a1a1a" stroke="#1a1a1a" stroke-width="0.28" >Aire-dep.</text>
<text x="69.5" y="276.29999999999995" font-size="6.3" font-weight="bold" fill="#1a1a1a" stroke="#1a1a1a" stroke-width="0.28" >Aire-indep.</text>
<circle cx="49.0" cy="296.6" r="17.5" fill="url(#gL)" stroke="#2a2a2a" stroke-width="1.1"/>
<circle cx="86.6" cy="296.9" r="18.3" fill="url(#gR)" stroke="#2a2a2a" stroke-width="1.1"/>
<ellipse cx="67.6" cy="307.0" rx="23.1" ry="18.4" fill="#46b346" fill-opacity="0.8" stroke="#2a1a14" stroke-width="1.35"/>
<circle cx="49.0" cy="296.6" r="17.5" fill="none" stroke="#2a2a2a" stroke-width="0.8" opacity="0.6"/>
<circle cx="86.6" cy="296.9" r="18.3" fill="none" stroke="#2a2a2a" stroke-width="0.8" opacity="0.6"/>
<text x="45.9" y="290.0" font-size="6.3" fill="#333" stroke="#333" stroke-width="0.18" text-anchor="middle" >1870</text>
<text x="90.3" y="290.0" font-size="6.3" fill="#333" stroke="#333" stroke-width="0.18" text-anchor="middle" >3821</text>
<text x="57.7" y="298.8" font-size="6.3" font-weight="bold" fill="#123a12" stroke="#123a12" stroke-width="0.28" text-anchor="middle" >503</text>
<text x="77.8" y="298.8" font-size="6.3" font-weight="bold" fill="#123a12" stroke="#123a12" stroke-width="0.28" text-anchor="middle" >417</text>
<text x="54.6" y="305.6" font-size="5.0" fill="#1f4a1f" stroke="#1f4a1f" stroke-width="0.18" text-anchor="middle" >(25.9%)</text>
<text x="80.3" y="305.6" font-size="5.0" fill="#1f4a1f" stroke="#1f4a1f" stroke-width="0.18" text-anchor="middle" >(21.4%)</text>
<text x="68.2" y="314.7" font-size="6.3" fill="#1f4a1f" stroke="#1f4a1f" stroke-width="0.18" text-anchor="middle" >1025</text>
<text x="67.9" y="322.1" font-size="5.7" fill="#1f4a1f" stroke="#1f4a1f" stroke-width="0.18" text-anchor="middle" >(52.7%)</text>
<text x="45.1" y="334.1" font-size="6.5" font-weight="bold" fill="#4e9a4e" stroke="#4e9a4e" stroke-width="0.28">Downregulated</text>
<text x="42.2" y="341.5" font-size="6.45" font-weight="bold" fill="#222" stroke="#222" stroke-width="0.28">in <tspan fill="#4a70a8" stroke="#4a70a8">p53cKO</tspan> mTEC</text>
<text x="165.4" y="184.5" font-size="7.5" font-weight="bold" fill="#222" stroke="#222" stroke-width="0.28" text-anchor="middle" >GO</text>
<text x="165.4" y="193.2" font-size="7.6" font-weight="bold" fill="#222" stroke="#222" stroke-width="0.28" text-anchor="middle" >Biological processes</text>
<text x="341.1" y="184.2" font-size="7.5" font-weight="bold" fill="#222" stroke="#222" stroke-width="0.28" text-anchor="middle" >GO</text>
<text x="341.1" y="193.4" font-size="7.6" font-weight="bold" fill="#222" stroke="#222" stroke-width="0.28" text-anchor="middle" >Molecular functions</text>
<rect x="134.50" y="199.30" width="9.35" height="1.12" fill="#f7d19d"/><rect x="143.80" y="199.30" width="9.35" height="1.12" fill="#f0a268"/><rect x="153.10" y="199.30" width="9.35" height="1.12" fill="#ec955f"/><rect x="162.40" y="199.30" width="9.35" height="1.12" fill="#5fb45f"/><rect x="171.70" y="199.30" width="9.35" height="1.12" fill="#b6dc98"/><rect x="181.00" y="199.30" width="9.35" height="1.12" fill="#a3d48d"/><rect x="134.50" y="200.38" width="9.35" height="1.12" fill="#f6bf88"/><rect x="143.80" y="200.38" width="9.35" height="1.12" fill="#f1a56b"/><rect x="153.10" y="200.38" width="9.35" height="1.12" fill="#ec955f"/><rect x="162.40" y="200.38" width="9.35" height="1.12" fill="#60b560"/><rect x="171.70" y="200.38" width="9.35" height="1.12" fill="#9bd188"/><rect x="181.00" y="200.38" width="9.35" height="1.12" fill="#74c171"/><rect x="134.50" y="201.45" width="9.35" height="1.12" fill="#f6bf88"/><rect x="143.80" y="201.45" width="9.35" height="1.12" fill="#f2ac73"/><rect x="153.10" y="201.45" width="9.35" height="1.12" fill="#e78152"/><rect x="162.40" y="201.45" width="9.35" height="1.12" fill="#69bc69"/><rect x="171.70" y="201.45" width="9.35" height="1.12" fill="#c1df9f"/><rect x="181.00" y="201.45" width="9.35" height="1.12" fill="#9ad088"/><rect x="134.50" y="202.53" width="9.35" height="1.12" fill="#f4b57d"/><rect x="143.80" y="202.53" width="9.35" height="1.12" fill="#eb925d"/><rect x="153.10" y="202.53" width="9.35" height="1.12" fill="#e78152"/><rect x="162.40" y="202.53" width="9.35" height="1.12" fill="#83c77a"/><rect x="171.70" y="202.53" width="9.35" height="1.12" fill="#a9d690"/><rect x="181.00" y="202.53" width="9.35" height="1.12" fill="#8ccb7f"/><rect x="134.50" y="203.60" width="9.35" height="1.12" fill="#f7c58f"/><rect x="143.80" y="203.60" width="9.35" height="1.12" fill="#f4b47c"/><rect x="153.10" y="203.60" width="9.35" height="1.12" fill="#e98957"/><rect x="162.40" y="203.60" width="9.35" height="1.12" fill="#64b864"/><rect x="171.70" y="203.60" width="9.35" height="1.12" fill="#cee4a8"/><rect x="181.00" y="203.60" width="9.35" height="1.12" fill="#a3d48d"/><rect x="134.50" y="204.68" width="9.35" height="1.12" fill="#f7d19d"/><rect x="143.80" y="204.68" width="9.35" height="1.12" fill="#f3af77"/><rect x="153.10" y="204.68" width="9.35" height="1.12" fill="#ed9962"/><rect x="162.40" y="204.68" width="9.35" height="1.12" fill="#71c06f"/><rect x="171.70" y="204.68" width="9.35" height="1.12" fill="#d5e6ad"/><rect x="181.00" y="204.68" width="9.35" height="1.12" fill="#94ce84"/><rect x="134.50" y="205.75" width="9.35" height="1.12" fill="#f4b77f"/><rect x="143.80" y="205.75" width="9.35" height="1.12" fill="#f0a369"/><rect x="153.10" y="205.75" width="9.35" height="1.12" fill="#ee9a63"/><rect x="162.40" y="205.75" width="9.35" height="1.12" fill="#6cbe6c"/><rect x="171.70" y="205.75" width="9.35" height="1.12" fill="#bedf9d"/><rect x="181.00" y="205.75" width="9.35" height="1.12" fill="#a0d38b"/><rect x="134.50" y="206.83" width="9.35" height="1.12" fill="#f6c18a"/><rect x="143.80" y="206.83" width="9.35" height="1.12" fill="#e4784c"/><rect x="153.10" y="206.83" width="9.35" height="1.12" fill="#e68051"/><rect x="162.40" y="206.83" width="9.35" height="1.12" fill="#a0d38b"/><rect x="171.70" y="206.83" width="9.35" height="1.12" fill="#bfdf9e"/><rect x="181.00" y="206.83" width="9.35" height="1.12" fill="#8bcb7f"/><rect x="134.50" y="207.90" width="9.35" height="1.12" fill="#f8ca94"/><rect x="143.80" y="207.90" width="9.35" height="1.12" fill="#f2ae75"/><rect x="153.10" y="207.90" width="9.35" height="1.12" fill="#e4774b"/><rect x="162.40" y="207.90" width="9.35" height="1.12" fill="#73c170"/><rect x="171.70" y="207.90" width="9.35" height="1.12" fill="#b0d995"/><rect x="181.00" y="207.90" width="9.35" height="1.12" fill="#a7d68f"/><rect x="134.50" y="208.98" width="9.35" height="1.12" fill="#f7d4a0"/><rect x="143.80" y="208.98" width="9.35" height="1.12" fill="#f5bd86"/><rect x="153.10" y="208.98" width="9.35" height="1.12" fill="#e67f50"/><rect x="162.40" y="208.98" width="9.35" height="1.12" fill="#8bca7f"/><rect x="171.70" y="208.98" width="9.35" height="1.12" fill="#99d087"/><rect x="181.00" y="208.98" width="9.35" height="1.12" fill="#5bb25b"/><rect x="134.50" y="210.05" width="9.35" height="1.12" fill="#f8c892"/><rect x="143.80" y="210.05" width="9.35" height="1.12" fill="#f6c28c"/><rect x="153.10" y="210.05" width="9.35" height="1.12" fill="#f0a46a"/><rect x="162.40" y="210.05" width="9.35" height="1.12" fill="#64b964"/><rect x="171.70" y="210.05" width="9.35" height="1.12" fill="#a6d58f"/><rect x="181.00" y="210.05" width="9.35" height="1.12" fill="#97cf86"/><rect x="134.50" y="211.12" width="9.35" height="1.12" fill="#f4b880"/><rect x="143.80" y="211.12" width="9.35" height="1.12" fill="#f6be87"/><rect x="153.10" y="211.12" width="9.35" height="1.12" fill="#ef9d65"/><rect x="162.40" y="211.12" width="9.35" height="1.12" fill="#74c171"/><rect x="171.70" y="211.12" width="9.35" height="1.12" fill="#a3d48d"/><rect x="181.00" y="211.12" width="9.35" height="1.12" fill="#bfdf9e"/><rect x="134.50" y="212.20" width="9.35" height="1.12" fill="#f4b880"/><rect x="143.80" y="212.20" width="9.35" height="1.12" fill="#f3b078"/><rect x="153.10" y="212.20" width="9.35" height="1.12" fill="#ec945f"/><rect x="162.40" y="212.20" width="9.35" height="1.12" fill="#54ad54"/><rect x="171.70" y="212.20" width="9.35" height="1.12" fill="#aed893"/><rect x="181.00" y="212.20" width="9.35" height="1.12" fill="#9ad088"/><rect x="134.50" y="213.28" width="9.35" height="1.12" fill="#f8c993"/><rect x="143.80" y="213.28" width="9.35" height="1.12" fill="#f5bd86"/><rect x="153.10" y="213.28" width="9.35" height="1.12" fill="#e4784b"/><rect x="162.40" y="213.28" width="9.35" height="1.12" fill="#55ae55"/><rect x="171.70" y="213.28" width="9.35" height="1.12" fill="#cee4a9"/><rect x="181.00" y="213.28" width="9.35" height="1.12" fill="#96cf85"/><rect x="134.50" y="214.35" width="9.35" height="1.12" fill="#f7d09b"/><rect x="143.80" y="214.35" width="9.35" height="1.12" fill="#f4b47b"/><rect x="153.10" y="214.35" width="9.35" height="1.12" fill="#e88756"/><rect x="162.40" y="214.35" width="9.35" height="1.12" fill="#6ebf6d"/><rect x="171.70" y="214.35" width="9.35" height="1.12" fill="#dce8b1"/><rect x="181.00" y="214.35" width="9.35" height="1.12" fill="#81c679"/><rect x="134.50" y="215.43" width="9.35" height="1.12" fill="#f7c791"/><rect x="143.80" y="215.43" width="9.35" height="1.12" fill="#f3b178"/><rect x="153.10" y="215.43" width="9.35" height="1.12" fill="#e88554"/><rect x="162.40" y="215.43" width="9.35" height="1.12" fill="#65b965"/><rect x="171.70" y="215.43" width="9.35" height="1.12" fill="#add893"/><rect x="181.00" y="215.43" width="9.35" height="1.12" fill="#a7d68f"/><rect x="134.50" y="216.50" width="9.35" height="1.12" fill="#f8c892"/><rect x="143.80" y="216.50" width="9.35" height="1.12" fill="#f1a76e"/><rect x="153.10" y="216.50" width="9.35" height="1.12" fill="#ea8d5a"/><rect x="162.40" y="216.50" width="9.35" height="1.12" fill="#7bc475"/><rect x="171.70" y="216.50" width="9.35" height="1.12" fill="#d1e5aa"/><rect x="181.00" y="216.50" width="9.35" height="1.12" fill="#91cd82"/><rect x="134.50" y="217.58" width="9.35" height="1.12" fill="#f7d19d"/><rect x="143.80" y="217.58" width="9.35" height="1.12" fill="#ee9b64"/><rect x="153.10" y="217.58" width="9.35" height="1.12" fill="#f1a56b"/><rect x="162.40" y="217.58" width="9.35" height="1.12" fill="#7ec577"/><rect x="171.70" y="217.58" width="9.35" height="1.12" fill="#d6e6ae"/><rect x="181.00" y="217.58" width="9.35" height="1.12" fill="#99d087"/><rect x="134.50" y="218.65" width="9.35" height="1.12" fill="#f5e2b1"/><rect x="143.80" y="218.65" width="9.35" height="1.12" fill="#f1a970"/><rect x="153.10" y="218.65" width="9.35" height="1.12" fill="#ed9761"/><rect x="162.40" y="218.65" width="9.35" height="1.12" fill="#96cf85"/><rect x="171.70" y="218.65" width="9.35" height="1.12" fill="#f5eabb"/><rect x="181.00" y="218.65" width="9.35" height="1.12" fill="#cce3a7"/><rect x="134.50" y="219.73" width="9.35" height="1.12" fill="#f4edbe"/><rect x="143.80" y="219.73" width="9.35" height="1.12" fill="#f0a268"/><rect x="153.10" y="219.73" width="9.35" height="1.12" fill="#ed9962"/><rect x="162.40" y="219.73" width="9.35" height="1.12" fill="#c6e1a3"/><rect x="171.70" y="219.73" width="9.35" height="1.12" fill="#f4ecbd"/><rect x="181.00" y="219.73" width="9.35" height="1.12" fill="#dde9b3"/>
<rect x="134.50" y="220.80" width="9.35" height="1.14" fill="#a3d48d"/><rect x="143.80" y="220.80" width="9.35" height="1.14" fill="#f5e2b1"/><rect x="153.10" y="220.80" width="9.35" height="1.14" fill="#71c06f"/><rect x="162.40" y="220.80" width="9.35" height="1.14" fill="#f7d19c"/><rect x="171.70" y="220.80" width="9.35" height="1.14" fill="#f5ba82"/><rect x="181.00" y="220.80" width="9.35" height="1.14" fill="#ed9861"/><rect x="134.50" y="221.89" width="9.35" height="1.14" fill="#9ed28a"/><rect x="143.80" y="221.89" width="9.35" height="1.14" fill="#e1eab5"/><rect x="153.10" y="221.89" width="9.35" height="1.14" fill="#69bc69"/><rect x="162.40" y="221.89" width="9.35" height="1.14" fill="#f6be87"/><rect x="171.70" y="221.89" width="9.35" height="1.14" fill="#f7d4a0"/><rect x="181.00" y="221.89" width="9.35" height="1.14" fill="#ee9a62"/><rect x="134.50" y="222.99" width="9.35" height="1.14" fill="#74c171"/><rect x="143.80" y="222.99" width="9.35" height="1.14" fill="#d2e5ab"/><rect x="153.10" y="222.99" width="9.35" height="1.14" fill="#6bbe6b"/><rect x="162.40" y="222.99" width="9.35" height="1.14" fill="#f6be86"/><rect x="171.70" y="222.99" width="9.35" height="1.14" fill="#f7d09c"/><rect x="181.00" y="222.99" width="9.35" height="1.14" fill="#ef9d64"/><rect x="134.50" y="224.08" width="9.35" height="1.14" fill="#68bb68"/><rect x="143.80" y="224.08" width="9.35" height="1.14" fill="#c0df9f"/><rect x="153.10" y="224.08" width="9.35" height="1.14" fill="#79c374"/><rect x="162.40" y="224.08" width="9.35" height="1.14" fill="#f6bf88"/><rect x="171.70" y="224.08" width="9.35" height="1.14" fill="#f8cb95"/><rect x="181.00" y="224.08" width="9.35" height="1.14" fill="#e88555"/><rect x="134.50" y="225.18" width="9.35" height="1.14" fill="#b7dc99"/><rect x="143.80" y="225.18" width="9.35" height="1.14" fill="#cfe4a9"/><rect x="153.10" y="225.18" width="9.35" height="1.14" fill="#6cbe6c"/><rect x="162.40" y="225.18" width="9.35" height="1.14" fill="#f8ca94"/><rect x="171.70" y="225.18" width="9.35" height="1.14" fill="#f7c58e"/><rect x="181.00" y="225.18" width="9.35" height="1.14" fill="#f1a76d"/><rect x="134.50" y="226.27" width="9.35" height="1.14" fill="#c2e0a0"/><rect x="143.80" y="226.27" width="9.35" height="1.14" fill="#dde9b3"/><rect x="153.10" y="226.27" width="9.35" height="1.14" fill="#6cbe6c"/><rect x="162.40" y="226.27" width="9.35" height="1.14" fill="#f8ca95"/><rect x="171.70" y="226.27" width="9.35" height="1.14" fill="#f5bc85"/><rect x="181.00" y="226.27" width="9.35" height="1.14" fill="#f0a167"/><rect x="134.50" y="227.37" width="9.35" height="1.14" fill="#b6dc98"/><rect x="143.80" y="227.37" width="9.35" height="1.14" fill="#d6e6ae"/><rect x="153.10" y="227.37" width="9.35" height="1.14" fill="#67ba67"/><rect x="162.40" y="227.37" width="9.35" height="1.14" fill="#f7c38c"/><rect x="171.70" y="227.37" width="9.35" height="1.14" fill="#f8cc97"/><rect x="181.00" y="227.37" width="9.35" height="1.14" fill="#ea8c59"/><rect x="134.50" y="228.46" width="9.35" height="1.14" fill="#c3e0a1"/><rect x="143.80" y="228.46" width="9.35" height="1.14" fill="#c4e1a1"/><rect x="153.10" y="228.46" width="9.35" height="1.14" fill="#74c171"/><rect x="162.40" y="228.46" width="9.35" height="1.14" fill="#f8cb95"/><rect x="171.70" y="228.46" width="9.35" height="1.14" fill="#f7c48e"/><rect x="181.00" y="228.46" width="9.35" height="1.14" fill="#e68051"/><rect x="134.50" y="229.56" width="9.35" height="1.14" fill="#d9e7b0"/><rect x="143.80" y="229.56" width="9.35" height="1.14" fill="#c2e0a0"/><rect x="153.10" y="229.56" width="9.35" height="1.14" fill="#66ba66"/><rect x="162.40" y="229.56" width="9.35" height="1.14" fill="#f5bd86"/><rect x="171.70" y="229.56" width="9.35" height="1.14" fill="#f7c58e"/><rect x="181.00" y="229.56" width="9.35" height="1.14" fill="#ec955f"/><rect x="134.50" y="230.65" width="9.35" height="1.14" fill="#d8e7af"/><rect x="143.80" y="230.65" width="9.35" height="1.14" fill="#e2eab6"/><rect x="153.10" y="230.65" width="9.35" height="1.14" fill="#60b660"/><rect x="162.40" y="230.65" width="9.35" height="1.14" fill="#f7c58f"/><rect x="171.70" y="230.65" width="9.35" height="1.14" fill="#f7d6a3"/><rect x="181.00" y="230.65" width="9.35" height="1.14" fill="#f1a76e"/><rect x="134.50" y="231.75" width="9.35" height="1.14" fill="#b3da96"/><rect x="143.80" y="231.75" width="9.35" height="1.14" fill="#f5e6b6"/><rect x="153.10" y="231.75" width="9.35" height="1.14" fill="#57af57"/><rect x="162.40" y="231.75" width="9.35" height="1.14" fill="#f8c891"/><rect x="171.70" y="231.75" width="9.35" height="1.14" fill="#f8ca94"/><rect x="181.00" y="231.75" width="9.35" height="1.14" fill="#f1a66c"/><rect x="134.50" y="232.84" width="9.35" height="1.14" fill="#bbdd9b"/><rect x="143.80" y="232.84" width="9.35" height="1.14" fill="#e0eab4"/><rect x="153.10" y="232.84" width="9.35" height="1.14" fill="#67ba67"/><rect x="162.40" y="232.84" width="9.35" height="1.14" fill="#f7c58e"/><rect x="171.70" y="232.84" width="9.35" height="1.14" fill="#f6d9a6"/><rect x="181.00" y="232.84" width="9.35" height="1.14" fill="#f0a46a"/><rect x="134.50" y="233.93" width="9.35" height="1.14" fill="#cbe3a6"/><rect x="143.80" y="233.93" width="9.35" height="1.14" fill="#cfe4a9"/><rect x="153.10" y="233.93" width="9.35" height="1.14" fill="#64b864"/><rect x="162.40" y="233.93" width="9.35" height="1.14" fill="#f8cb95"/><rect x="171.70" y="233.93" width="9.35" height="1.14" fill="#f7c38c"/><rect x="181.00" y="233.93" width="9.35" height="1.14" fill="#f0a369"/><rect x="134.50" y="235.03" width="9.35" height="1.14" fill="#a5d58e"/><rect x="143.80" y="235.03" width="9.35" height="1.14" fill="#d8e7af"/><rect x="153.10" y="235.03" width="9.35" height="1.14" fill="#5fb55f"/><rect x="162.40" y="235.03" width="9.35" height="1.14" fill="#f7d7a3"/><rect x="171.70" y="235.03" width="9.35" height="1.14" fill="#f4b67e"/><rect x="181.00" y="235.03" width="9.35" height="1.14" fill="#ef9e66"/><rect x="134.50" y="236.12" width="9.35" height="1.14" fill="#9dd28a"/><rect x="143.80" y="236.12" width="9.35" height="1.14" fill="#f5e9ba"/><rect x="153.10" y="236.12" width="9.35" height="1.14" fill="#6dbf6d"/><rect x="162.40" y="236.12" width="9.35" height="1.14" fill="#f6dba9"/><rect x="171.70" y="236.12" width="9.35" height="1.14" fill="#f4b880"/><rect x="181.00" y="236.12" width="9.35" height="1.14" fill="#f3b078"/><rect x="134.50" y="237.22" width="9.35" height="1.14" fill="#abd792"/><rect x="143.80" y="237.22" width="9.35" height="1.14" fill="#d5e6ad"/><rect x="153.10" y="237.22" width="9.35" height="1.14" fill="#76c272"/><rect x="162.40" y="237.22" width="9.35" height="1.14" fill="#f6daa8"/><rect x="171.70" y="237.22" width="9.35" height="1.14" fill="#f7c690"/><rect x="181.00" y="237.22" width="9.35" height="1.14" fill="#f8c892"/><rect x="134.50" y="238.31" width="9.35" height="1.14" fill="#a8d690"/><rect x="143.80" y="238.31" width="9.35" height="1.14" fill="#cce3a7"/><rect x="153.10" y="238.31" width="9.35" height="1.14" fill="#8bcb7f"/><rect x="162.40" y="238.31" width="9.35" height="1.14" fill="#f6deac"/><rect x="171.70" y="238.31" width="9.35" height="1.14" fill="#f8ce99"/><rect x="181.00" y="238.31" width="9.35" height="1.14" fill="#f6c089"/><rect x="134.50" y="239.41" width="9.35" height="1.14" fill="#79c374"/><rect x="143.80" y="239.41" width="9.35" height="1.14" fill="#c3e0a0"/><rect x="153.10" y="239.41" width="9.35" height="1.14" fill="#8ccb7f"/><rect x="162.40" y="239.41" width="9.35" height="1.14" fill="#f7d09c"/><rect x="171.70" y="239.41" width="9.35" height="1.14" fill="#f6d9a7"/><rect x="181.00" y="239.41" width="9.35" height="1.14" fill="#f3b078"/><rect x="134.50" y="240.50" width="9.35" height="1.14" fill="#75c271"/><rect x="143.80" y="240.50" width="9.35" height="1.14" fill="#bedf9d"/><rect x="153.10" y="240.50" width="9.35" height="1.14" fill="#8ecc81"/><rect x="162.40" y="240.50" width="9.35" height="1.14" fill="#f6c28c"/><rect x="171.70" y="240.50" width="9.35" height="1.14" fill="#f7d4a1"/><rect x="181.00" y="240.50" width="9.35" height="1.14" fill="#ea8e5a"/><rect x="134.50" y="241.60" width="9.35" height="1.14" fill="#7cc576"/><rect x="143.80" y="241.60" width="9.35" height="1.14" fill="#cee4a8"/><rect x="153.10" y="241.60" width="9.35" height="1.14" fill="#77c272"/><rect x="162.40" y="241.60" width="9.35" height="1.14" fill="#f7c58e"/><rect x="171.70" y="241.60" width="9.35" height="1.14" fill="#f5b982"/><rect x="181.00" y="241.60" width="9.35" height="1.14" fill="#e06a42"/><rect x="134.50" y="242.69" width="9.35" height="1.14" fill="#77c373"/><rect x="143.80" y="242.69" width="9.35" height="1.14" fill="#bdde9c"/><rect x="153.10" y="242.69" width="9.35" height="1.14" fill="#64b964"/><rect x="162.40" y="242.69" width="9.35" height="1.14" fill="#f7c58e"/><rect x="171.70" y="242.69" width="9.35" height="1.14" fill="#f7c48e"/><rect x="181.00" y="242.69" width="9.35" height="1.14" fill="#e37449"/><rect x="134.50" y="243.79" width="9.35" height="1.14" fill="#97cf86"/><rect x="143.80" y="243.79" width="9.35" height="1.14" fill="#d8e7af"/><rect x="153.10" y="243.79" width="9.35" height="1.14" fill="#61b661"/><rect x="162.40" y="243.79" width="9.35" height="1.14" fill="#f7c38d"/><rect x="171.70" y="243.79" width="9.35" height="1.14" fill="#f6c28b"/><rect x="181.00" y="243.79" width="9.35" height="1.14" fill="#e98957"/><rect x="134.50" y="244.88" width="9.35" height="1.14" fill="#b7dc99"/><rect x="143.80" y="244.88" width="9.35" height="1.14" fill="#f3f0c1"/><rect x="153.10" y="244.88" width="9.35" height="1.14" fill="#7fc577"/><rect x="162.40" y="244.88" width="9.35" height="1.14" fill="#f7d7a4"/><rect x="171.70" y="244.88" width="9.35" height="1.14" fill="#f8ce99"/><rect x="181.00" y="244.88" width="9.35" height="1.14" fill="#ed9861"/><rect x="134.50" y="245.98" width="9.35" height="1.14" fill="#cfe4a9"/><rect x="143.80" y="245.98" width="9.35" height="1.14" fill="#edeebd"/><rect x="153.10" y="245.98" width="9.35" height="1.14" fill="#82c779"/><rect x="162.40" y="245.98" width="9.35" height="1.14" fill="#f8c992"/><rect x="171.70" y="245.98" width="9.35" height="1.14" fill="#f7c38c"/><rect x="181.00" y="245.98" width="9.35" height="1.14" fill="#f0a167"/><rect x="134.50" y="247.07" width="9.35" height="1.14" fill="#badd9b"/><rect x="143.80" y="247.07" width="9.35" height="1.14" fill="#eaedbb"/><rect x="153.10" y="247.07" width="9.35" height="1.14" fill="#4ea84e"/><rect x="162.40" y="247.07" width="9.35" height="1.14" fill="#f8cc96"/><rect x="171.70" y="247.07" width="9.35" height="1.14" fill="#f6c28c"/><rect x="181.00" y="247.07" width="9.35" height="1.14" fill="#eb915c"/><rect x="134.50" y="248.16" width="9.35" height="1.14" fill="#94ce84"/><rect x="143.80" y="248.16" width="9.35" height="1.14" fill="#a4d48d"/><rect x="153.10" y="248.16" width="9.35" height="1.14" fill="#3c9c3c"/><rect x="162.40" y="248.16" width="9.35" height="1.14" fill="#f8c992"/><rect x="171.70" y="248.16" width="9.35" height="1.14" fill="#f2ae75"/><rect x="181.00" y="248.16" width="9.35" height="1.14" fill="#ed9761"/><rect x="134.50" y="249.26" width="9.35" height="1.14" fill="#98cf86"/><rect x="143.80" y="249.26" width="9.35" height="1.14" fill="#a9d690"/><rect x="153.10" y="249.26" width="9.35" height="1.14" fill="#55ae55"/><rect x="162.40" y="249.26" width="9.35" height="1.14" fill="#f8c891"/><rect x="171.70" y="249.26" width="9.35" height="1.14" fill="#f7d6a2"/><rect x="181.00" y="249.26" width="9.35" height="1.14" fill="#e4784c"/><rect x="134.50" y="250.35" width="9.35" height="1.14" fill="#cce3a7"/><rect x="143.80" y="250.35" width="9.35" height="1.14" fill="#d0e4aa"/><rect x="153.10" y="250.35" width="9.35" height="1.14" fill="#7fc678"/><rect x="162.40" y="250.35" width="9.35" height="1.14" fill="#f1a56b"/><rect x="171.70" y="250.35" width="9.35" height="1.14" fill="#f8ce99"/><rect x="181.00" y="250.35" width="9.35" height="1.14" fill="#e37449"/><rect x="134.50" y="251.45" width="9.35" height="1.14" fill="#e2eab6"/><rect x="143.80" y="251.45" width="9.35" height="1.14" fill="#c8e2a4"/><rect x="153.10" y="251.45" width="9.35" height="1.14" fill="#7ac474"/><rect x="162.40" y="251.45" width="9.35" height="1.14" fill="#f1a76e"/><rect x="171.70" y="251.45" width="9.35" height="1.14" fill="#f6c089"/><rect x="181.00" y="251.45" width="9.35" height="1.14" fill="#ea8c59"/><rect x="134.50" y="252.54" width="9.35" height="1.14" fill="#d7e7ae"/><rect x="143.80" y="252.54" width="9.35" height="1.14" fill="#b2da96"/><rect x="153.10" y="252.54" width="9.35" height="1.14" fill="#52ac52"/><rect x="162.40" y="252.54" width="9.35" height="1.14" fill="#f3b179"/><rect x="171.70" y="252.54" width="9.35" height="1.14" fill="#f3af76"/><rect x="181.00" y="252.54" width="9.35" height="1.14" fill="#ef9f66"/><rect x="134.50" y="253.64" width="9.35" height="1.14" fill="#abd792"/><rect x="143.80" y="253.64" width="9.35" height="1.14" fill="#cae3a6"/><rect x="153.10" y="253.64" width="9.35" height="1.14" fill="#5ab15a"/><rect x="162.40" y="253.64" width="9.35" height="1.14" fill="#f7d5a2"/><rect x="171.70" y="253.64" width="9.35" height="1.14" fill="#f7cf9a"/><rect x="181.00" y="253.64" width="9.35" height="1.14" fill="#f1a76d"/><rect x="134.50" y="254.73" width="9.35" height="1.14" fill="#89ca7d"/><rect x="143.80" y="254.73" width="9.35" height="1.14" fill="#ecedbc"/><rect x="153.10" y="254.73" width="9.35" height="1.14" fill="#70bf6e"/><rect x="162.40" y="254.73" width="9.35" height="1.14" fill="#f5e3b2"/><rect x="171.70" y="254.73" width="9.35" height="1.14" fill="#f7d09c"/><rect x="181.00" y="254.73" width="9.35" height="1.14" fill="#ed9760"/><rect x="134.50" y="255.83" width="9.35" height="1.14" fill="#d1e5aa"/><rect x="143.80" y="255.83" width="9.35" height="1.14" fill="#e3eab6"/><rect x="153.10" y="255.83" width="9.35" height="1.14" fill="#90cc81"/><rect x="162.40" y="255.83" width="9.35" height="1.14" fill="#eaedbb"/><rect x="171.70" y="255.83" width="9.35" height="1.14" fill="#f5e6b6"/><rect x="181.00" y="255.83" width="9.35" height="1.14" fill="#ed9761"/><rect x="134.50" y="256.92" width="9.35" height="1.14" fill="#d8e7af"/><rect x="143.80" y="256.92" width="9.35" height="1.14" fill="#c9e2a5"/><rect x="153.10" y="256.92" width="9.35" height="1.14" fill="#96cf85"/><rect x="162.40" y="256.92" width="9.35" height="1.14" fill="#f5e4b4"/><rect x="171.70" y="256.92" width="9.35" height="1.14" fill="#f5e7b7"/><rect x="181.00" y="256.92" width="9.35" height="1.14" fill="#ed9760"/><rect x="134.50" y="258.02" width="9.35" height="1.14" fill="#cee4a8"/><rect x="143.80" y="258.02" width="9.35" height="1.14" fill="#9bd188"/><rect x="153.10" y="258.02" width="9.35" height="1.14" fill="#90cd82"/><rect x="162.40" y="258.02" width="9.35" height="1.14" fill="#f7d7a3"/><rect x="171.70" y="258.02" width="9.35" height="1.14" fill="#f6e0af"/><rect x="181.00" y="258.02" width="9.35" height="1.14" fill="#ea8d5a"/><rect x="134.50" y="259.11" width="9.35" height="1.14" fill="#d8e7af"/><rect x="143.80" y="259.11" width="9.35" height="1.14" fill="#bcde9c"/><rect x="153.10" y="259.11" width="9.35" height="1.14" fill="#68bb68"/><rect x="162.40" y="259.11" width="9.35" height="1.14" fill="#f6c18a"/><rect x="171.70" y="259.11" width="9.35" height="1.14" fill="#f4f0c2"/><rect x="181.00" y="259.11" width="9.35" height="1.14" fill="#efa067"/><rect x="134.50" y="260.20" width="9.35" height="1.14" fill="#bcde9c"/><rect x="143.80" y="260.20" width="9.35" height="1.14" fill="#cce3a7"/><rect x="153.10" y="260.20" width="9.35" height="1.14" fill="#52ac52"/><rect x="162.40" y="260.20" width="9.35" height="1.14" fill="#f7cf9a"/><rect x="171.70" y="260.20" width="9.35" height="1.14" fill="#f2efc1"/><rect x="181.00" y="260.20" width="9.35" height="1.14" fill="#ec955f"/><rect x="134.50" y="261.30" width="9.35" height="1.14" fill="#acd892"/><rect x="143.80" y="261.30" width="9.35" height="1.14" fill="#b6dc99"/><rect x="153.10" y="261.30" width="9.35" height="1.14" fill="#4ea84e"/><rect x="162.40" y="261.30" width="9.35" height="1.14" fill="#f3b279"/><rect x="171.70" y="261.30" width="9.35" height="1.14" fill="#f7d4a0"/><rect x="181.00" y="261.30" width="9.35" height="1.14" fill="#eb8f5b"/><rect x="134.50" y="262.39" width="9.35" height="1.14" fill="#abd792"/><rect x="143.80" y="262.39" width="9.35" height="1.14" fill="#bfdf9e"/><rect x="153.10" y="262.39" width="9.35" height="1.14" fill="#4ca74c"/><rect x="162.40" y="262.39" width="9.35" height="1.14" fill="#f8ce99"/><rect x="171.70" y="262.39" width="9.35" height="1.14" fill="#f7c790"/><rect x="181.00" y="262.39" width="9.35" height="1.14" fill="#e68051"/><rect x="134.50" y="263.49" width="9.35" height="1.14" fill="#c0df9f"/><rect x="143.80" y="263.49" width="9.35" height="1.14" fill="#d6e6ad"/><rect x="153.10" y="263.49" width="9.35" height="1.14" fill="#54ad54"/><rect x="162.40" y="263.49" width="9.35" height="1.14" fill="#f8cd97"/><rect x="171.70" y="263.49" width="9.35" height="1.14" fill="#f7d5a1"/><rect x="181.00" y="263.49" width="9.35" height="1.14" fill="#e27046"/><rect x="134.50" y="264.58" width="9.35" height="1.14" fill="#b2da96"/><rect x="143.80" y="264.58" width="9.35" height="1.14" fill="#cbe3a6"/><rect x="153.10" y="264.58" width="9.35" height="1.14" fill="#59b059"/><rect x="162.40" y="264.58" width="9.35" height="1.14" fill="#f7c58e"/><rect x="171.70" y="264.58" width="9.35" height="1.14" fill="#f7d5a1"/><rect x="181.00" y="264.58" width="9.35" height="1.14" fill="#e06a42"/><rect x="134.50" y="265.68" width="9.35" height="1.14" fill="#96cf85"/><rect x="143.80" y="265.68" width="9.35" height="1.14" fill="#b6dc98"/><rect x="153.10" y="265.68" width="9.35" height="1.14" fill="#56ae56"/><rect x="162.40" y="265.68" width="9.35" height="1.14" fill="#f6c28b"/><rect x="171.70" y="265.68" width="9.35" height="1.14" fill="#f5bb84"/><rect x="181.00" y="265.68" width="9.35" height="1.14" fill="#e06a42"/><rect x="134.50" y="266.77" width="9.35" height="1.14" fill="#badd9b"/><rect x="143.80" y="266.77" width="9.35" height="1.14" fill="#a6d58f"/><rect x="153.10" y="266.77" width="9.35" height="1.14" fill="#6cbe6c"/><rect x="162.40" y="266.77" width="9.35" height="1.14" fill="#f5b981"/><rect x="171.70" y="266.77" width="9.35" height="1.14" fill="#f7cf9a"/><rect x="181.00" y="266.77" width="9.35" height="1.14" fill="#e27348"/><rect x="134.50" y="267.87" width="9.35" height="1.14" fill="#bfdf9e"/><rect x="143.80" y="267.87" width="9.35" height="1.14" fill="#93ce84"/><rect x="153.10" y="267.87" width="9.35" height="1.14" fill="#75c171"/><rect x="162.40" y="267.87" width="9.35" height="1.14" fill="#f7c58e"/><rect x="171.70" y="267.87" width="9.35" height="1.14" fill="#f7c790"/><rect x="181.00" y="267.87" width="9.35" height="1.14" fill="#ea8c59"/><rect x="134.50" y="268.96" width="9.35" height="1.14" fill="#c2e0a0"/><rect x="143.80" y="268.96" width="9.35" height="1.14" fill="#9cd189"/><rect x="153.10" y="268.96" width="9.35" height="1.14" fill="#68bb68"/><rect x="162.40" y="268.96" width="9.35" height="1.14" fill="#f7c690"/><rect x="171.70" y="268.96" width="9.35" height="1.14" fill="#f8cd97"/><rect x="181.00" y="268.96" width="9.35" height="1.14" fill="#ee9c64"/><rect x="134.50" y="270.06" width="9.35" height="1.14" fill="#d1e5ab"/><rect x="143.80" y="270.06" width="9.35" height="1.14" fill="#92cd83"/><rect x="153.10" y="270.06" width="9.35" height="1.14" fill="#67ba67"/><rect x="162.40" y="270.06" width="9.35" height="1.14" fill="#f7d09b"/><rect x="171.70" y="270.06" width="9.35" height="1.14" fill="#f2efc1"/><rect x="181.00" y="270.06" width="9.35" height="1.14" fill="#f1a76e"/><rect x="134.50" y="271.15" width="9.35" height="1.14" fill="#e8ecba"/><rect x="143.80" y="271.15" width="9.35" height="1.14" fill="#c9e2a4"/><rect x="153.10" y="271.15" width="9.35" height="1.14" fill="#9fd28b"/><rect x="162.40" y="271.15" width="9.35" height="1.14" fill="#f7d19d"/><rect x="171.70" y="271.15" width="9.35" height="1.14" fill="#f5e9ba"/><rect x="181.00" y="271.15" width="9.35" height="1.14" fill="#ef9e65"/><rect x="134.50" y="272.24" width="9.35" height="1.14" fill="#d8e7af"/><rect x="143.80" y="272.24" width="9.35" height="1.14" fill="#c7e1a3"/><rect x="153.10" y="272.24" width="9.35" height="1.14" fill="#7fc677"/><rect x="162.40" y="272.24" width="9.35" height="1.14" fill="#f6daa7"/><rect x="171.70" y="272.24" width="9.35" height="1.14" fill="#f7d7a4"/><rect x="181.00" y="272.24" width="9.35" height="1.14" fill="#f1a96f"/><rect x="134.50" y="273.34" width="9.35" height="1.14" fill="#c9e2a5"/><rect x="143.80" y="273.34" width="9.35" height="1.14" fill="#dce8b2"/><rect x="153.10" y="273.34" width="9.35" height="1.14" fill="#8ccb7f"/><rect x="162.40" y="273.34" width="9.35" height="1.14" fill="#f6deac"/><rect x="171.70" y="273.34" width="9.35" height="1.14" fill="#f5e3b2"/><rect x="181.00" y="273.34" width="9.35" height="1.14" fill="#f3af76"/><rect x="134.50" y="274.43" width="9.35" height="1.14" fill="#bfdf9e"/><rect x="143.80" y="274.43" width="9.35" height="1.14" fill="#eaedbb"/><rect x="153.10" y="274.43" width="9.35" height="1.14" fill="#57af57"/><rect x="162.40" y="274.43" width="9.35" height="1.14" fill="#f2efc1"/><rect x="171.70" y="274.43" width="9.35" height="1.14" fill="#f7c690"/><rect x="181.00" y="274.43" width="9.35" height="1.14" fill="#f4b67e"/><rect x="134.50" y="275.53" width="9.35" height="1.14" fill="#c6e1a3"/><rect x="143.80" y="275.53" width="9.35" height="1.14" fill="#cce3a7"/><rect x="153.10" y="275.53" width="9.35" height="1.14" fill="#6fbf6e"/><rect x="162.40" y="275.53" width="9.35" height="1.14" fill="#f5ebbb"/><rect x="171.70" y="275.53" width="9.35" height="1.14" fill="#f3b178"/><rect x="181.00" y="275.53" width="9.35" height="1.14" fill="#f4b77f"/><rect x="134.50" y="276.62" width="9.35" height="1.14" fill="#93ce84"/><rect x="143.80" y="276.62" width="9.35" height="1.14" fill="#b9dd9a"/><rect x="153.10" y="276.62" width="9.35" height="1.14" fill="#65b965"/><rect x="162.40" y="276.62" width="9.35" height="1.14" fill="#f6dcaa"/><rect x="171.70" y="276.62" width="9.35" height="1.14" fill="#f6c089"/><rect x="181.00" y="276.62" width="9.35" height="1.14" fill="#e78454"/><rect x="134.50" y="277.72" width="9.35" height="1.14" fill="#93ce84"/><rect x="143.80" y="277.72" width="9.35" height="1.14" fill="#dee9b3"/><rect x="153.10" y="277.72" width="9.35" height="1.14" fill="#5eb45e"/><rect x="162.40" y="277.72" width="9.35" height="1.14" fill="#f8cd98"/><rect x="171.70" y="277.72" width="9.35" height="1.14" fill="#f5bd86"/><rect x="181.00" y="277.72" width="9.35" height="1.14" fill="#e4774b"/><rect x="134.50" y="278.81" width="9.35" height="1.14" fill="#8ecc81"/><rect x="143.80" y="278.81" width="9.35" height="1.14" fill="#f5e7b7"/><rect x="153.10" y="278.81" width="9.35" height="1.14" fill="#4faa4f"/><rect x="162.40" y="278.81" width="9.35" height="1.14" fill="#f7d8a4"/><rect x="171.70" y="278.81" width="9.35" height="1.14" fill="#f7d6a3"/><rect x="181.00" y="278.81" width="9.35" height="1.14" fill="#e57d4f"/><rect x="134.50" y="279.91" width="9.35" height="1.14" fill="#9ed28a"/><rect x="143.80" y="279.91" width="9.35" height="1.14" fill="#f5e5b5"/><rect x="153.10" y="279.91" width="9.35" height="1.14" fill="#5eb45e"/><rect x="162.40" y="279.91" width="9.35" height="1.14" fill="#f7cf9a"/><rect x="171.70" y="279.91" width="9.35" height="1.14" fill="#f7d19d"/><rect x="181.00" y="279.91" width="9.35" height="1.14" fill="#f2ab72"/><rect x="134.50" y="281.00" width="9.35" height="1.14" fill="#b8dc99"/><rect x="143.80" y="281.00" width="9.35" height="1.14" fill="#f4ebbc"/><rect x="153.10" y="281.00" width="9.35" height="1.14" fill="#72c070"/><rect x="162.40" y="281.00" width="9.35" height="1.14" fill="#f7c48e"/><rect x="171.70" y="281.00" width="9.35" height="1.14" fill="#f5e5b4"/><rect x="181.00" y="281.00" width="9.35" height="1.14" fill="#ef9f66"/><rect x="134.50" y="282.10" width="9.35" height="1.14" fill="#e4ebb7"/><rect x="143.80" y="282.10" width="9.35" height="1.14" fill="#dce8b2"/><rect x="153.10" y="282.10" width="9.35" height="1.14" fill="#69bc69"/><rect x="162.40" y="282.10" width="9.35" height="1.14" fill="#f6be87"/><rect x="171.70" y="282.10" width="9.35" height="1.14" fill="#f4edbe"/><rect x="181.00" y="282.10" width="9.35" height="1.14" fill="#ee9a62"/><rect x="134.50" y="283.19" width="9.35" height="1.14" fill="#dce8b2"/><rect x="143.80" y="283.19" width="9.35" height="1.14" fill="#d3e5ac"/><rect x="153.10" y="283.19" width="9.35" height="1.14" fill="#80c678"/><rect x="162.40" y="283.19" width="9.35" height="1.14" fill="#f1a96f"/><rect x="171.70" y="283.19" width="9.35" height="1.14" fill="#f7d39f"/><rect x="181.00" y="283.19" width="9.35" height="1.14" fill="#f2ad74"/><rect x="134.50" y="284.28" width="9.35" height="1.14" fill="#bbdd9b"/><rect x="143.80" y="284.28" width="9.35" height="1.14" fill="#c6e1a3"/><rect x="153.10" y="284.28" width="9.35" height="1.14" fill="#8ccb7f"/><rect x="162.40" y="284.28" width="9.35" height="1.14" fill="#f6ddab"/><rect x="171.70" y="284.28" width="9.35" height="1.14" fill="#f8cb95"/><rect x="181.00" y="284.28" width="9.35" height="1.14" fill="#f4b881"/><rect x="134.50" y="285.38" width="9.35" height="1.14" fill="#cae3a6"/><rect x="143.80" y="285.38" width="9.35" height="1.14" fill="#dee9b3"/><rect x="153.10" y="285.38" width="9.35" height="1.14" fill="#8dcb80"/><rect x="162.40" y="285.38" width="9.35" height="1.14" fill="#f6deac"/><rect x="171.70" y="285.38" width="9.35" height="1.14" fill="#f8cc97"/><rect x="181.00" y="285.38" width="9.35" height="1.14" fill="#f7c790"/><rect x="134.50" y="286.47" width="9.35" height="1.14" fill="#d4e6ad"/><rect x="143.80" y="286.47" width="9.35" height="1.14" fill="#e8ecba"/><rect x="153.10" y="286.47" width="9.35" height="1.14" fill="#95cf85"/><rect x="162.40" y="286.47" width="9.35" height="1.14" fill="#f7d6a3"/><rect x="171.70" y="286.47" width="9.35" height="1.14" fill="#f6e2b1"/><rect x="181.00" y="286.47" width="9.35" height="1.14" fill="#f4b67e"/><rect x="134.50" y="287.57" width="9.35" height="1.14" fill="#a7d58f"/><rect x="143.80" y="287.57" width="9.35" height="1.14" fill="#e3ebb7"/><rect x="153.10" y="287.57" width="9.35" height="1.14" fill="#75c171"/><rect x="162.40" y="287.57" width="9.35" height="1.14" fill="#f7d5a1"/><rect x="171.70" y="287.57" width="9.35" height="1.14" fill="#eeeebe"/><rect x="181.00" y="287.57" width="9.35" height="1.14" fill="#f3af76"/><rect x="134.50" y="288.66" width="9.35" height="1.14" fill="#bedf9d"/><rect x="143.80" y="288.66" width="9.35" height="1.14" fill="#cce3a7"/><rect x="153.10" y="288.66" width="9.35" height="1.14" fill="#5eb45e"/><rect x="162.40" y="288.66" width="9.35" height="1.14" fill="#f7d7a3"/><rect x="171.70" y="288.66" width="9.35" height="1.14" fill="#f5e2b1"/><rect x="181.00" y="288.66" width="9.35" height="1.14" fill="#f2aa71"/><rect x="134.50" y="289.76" width="9.35" height="1.14" fill="#cde4a8"/><rect x="143.80" y="289.76" width="9.35" height="1.14" fill="#e6ebb8"/><rect x="153.10" y="289.76" width="9.35" height="1.14" fill="#63b863"/><rect x="162.40" y="289.76" width="9.35" height="1.14" fill="#f7c58e"/><rect x="171.70" y="289.76" width="9.35" height="1.14" fill="#f5e8b9"/><rect x="181.00" y="289.76" width="9.35" height="1.14" fill="#efa067"/><rect x="134.50" y="290.85" width="9.35" height="1.14" fill="#c9e2a5"/><rect x="143.80" y="290.85" width="9.35" height="1.14" fill="#e1eab5"/><rect x="153.10" y="290.85" width="9.35" height="1.14" fill="#8ccb7f"/><rect x="162.40" y="290.85" width="9.35" height="1.14" fill="#f7d5a1"/><rect x="171.70" y="290.85" width="9.35" height="1.14" fill="#f7d7a4"/><rect x="181.00" y="290.85" width="9.35" height="1.14" fill="#f4b57c"/><rect x="134.50" y="291.95" width="9.35" height="1.14" fill="#cde4a8"/><rect x="143.80" y="291.95" width="9.35" height="1.14" fill="#cce3a7"/><rect x="153.10" y="291.95" width="9.35" height="1.14" fill="#7fc677"/><rect x="162.40" y="291.95" width="9.35" height="1.14" fill="#f7d19d"/><rect x="171.70" y="291.95" width="9.35" height="1.14" fill="#f8ca94"/><rect x="181.00" y="291.95" width="9.35" height="1.14" fill="#f3af77"/><rect x="134.50" y="293.04" width="9.35" height="1.14" fill="#bfdf9e"/><rect x="143.80" y="293.04" width="9.35" height="1.14" fill="#badd9b"/><rect x="153.10" y="293.04" width="9.35" height="1.14" fill="#72c06f"/><rect x="162.40" y="293.04" width="9.35" height="1.14" fill="#f8cd98"/><rect x="171.70" y="293.04" width="9.35" height="1.14" fill="#f7d5a1"/><rect x="181.00" y="293.04" width="9.35" height="1.14" fill="#eb8f5b"/><rect x="134.50" y="294.14" width="9.35" height="1.14" fill="#9ed28a"/><rect x="143.80" y="294.14" width="9.35" height="1.14" fill="#a6d58f"/><rect x="153.10" y="294.14" width="9.35" height="1.14" fill="#85c87b"/><rect x="162.40" y="294.14" width="9.35" height="1.14" fill="#f8cb95"/><rect x="171.70" y="294.14" width="9.35" height="1.14" fill="#f7d5a1"/><rect x="181.00" y="294.14" width="9.35" height="1.14" fill="#e57d4f"/><rect x="134.50" y="295.23" width="9.35" height="1.14" fill="#bdde9d"/><rect x="143.80" y="295.23" width="9.35" height="1.14" fill="#acd892"/><rect x="153.10" y="295.23" width="9.35" height="1.14" fill="#54ad54"/><rect x="162.40" y="295.23" width="9.35" height="1.14" fill="#f3b27a"/><rect x="171.70" y="295.23" width="9.35" height="1.14" fill="#f5e3b2"/><rect x="181.00" y="295.23" width="9.35" height="1.14" fill="#f1a56b"/><rect x="134.50" y="296.32" width="9.35" height="1.14" fill="#bfdf9e"/><rect x="143.80" y="296.32" width="9.35" height="1.14" fill="#cde3a7"/><rect x="153.10" y="296.32" width="9.35" height="1.14" fill="#3c9c3c"/><rect x="162.40" y="296.32" width="9.35" height="1.14" fill="#f5bb83"/><rect x="171.70" y="296.32" width="9.35" height="1.14" fill="#f7d09b"/><rect x="181.00" y="296.32" width="9.35" height="1.14" fill="#f5bb83"/><rect x="134.50" y="297.42" width="9.35" height="1.14" fill="#d5e6ad"/><rect x="143.80" y="297.42" width="9.35" height="1.14" fill="#b9dd9a"/><rect x="153.10" y="297.42" width="9.35" height="1.14" fill="#49a549"/><rect x="162.40" y="297.42" width="9.35" height="1.14" fill="#f8cb96"/><rect x="171.70" y="297.42" width="9.35" height="1.14" fill="#f8cf9a"/><rect x="181.00" y="297.42" width="9.35" height="1.14" fill="#f6be87"/><rect x="134.50" y="298.51" width="9.35" height="1.14" fill="#badd9b"/><rect x="143.80" y="298.51" width="9.35" height="1.14" fill="#e1eab5"/><rect x="153.10" y="298.51" width="9.35" height="1.14" fill="#69bc69"/><rect x="162.40" y="298.51" width="9.35" height="1.14" fill="#f6daa8"/><rect x="171.70" y="298.51" width="9.35" height="1.14" fill="#f6e2b0"/><rect x="181.00" y="298.51" width="9.35" height="1.14" fill="#ed9760"/><rect x="134.50" y="299.61" width="9.35" height="1.14" fill="#bedf9d"/><rect x="143.80" y="299.61" width="9.35" height="1.14" fill="#cde3a7"/><rect x="153.10" y="299.61" width="9.35" height="1.14" fill="#7fc677"/><rect x="162.40" y="299.61" width="9.35" height="1.14" fill="#f7d4a0"/><rect x="171.70" y="299.61" width="9.35" height="1.14" fill="#f8c993"/><rect x="181.00" y="299.61" width="9.35" height="1.14" fill="#ef9e65"/><rect x="134.50" y="300.70" width="9.35" height="1.14" fill="#c8e2a4"/><rect x="143.80" y="300.70" width="9.35" height="1.14" fill="#e4ebb7"/><rect x="153.10" y="300.70" width="9.35" height="1.14" fill="#aed994"/><rect x="162.40" y="300.70" width="9.35" height="1.14" fill="#f6e1b0"/><rect x="171.70" y="300.70" width="9.35" height="1.14" fill="#f8c892"/><rect x="181.00" y="300.70" width="9.35" height="1.14" fill="#f2ae76"/><rect x="134.50" y="301.80" width="9.35" height="1.14" fill="#cae2a5"/><rect x="143.80" y="301.80" width="9.35" height="1.14" fill="#dee9b3"/><rect x="153.10" y="301.80" width="9.35" height="1.14" fill="#79c374"/><rect x="162.40" y="301.80" width="9.35" height="1.14" fill="#f5e2b1"/><rect x="171.70" y="301.80" width="9.35" height="1.14" fill="#f6d9a6"/><rect x="181.00" y="301.80" width="9.35" height="1.14" fill="#f0a268"/><rect x="134.50" y="302.89" width="9.35" height="1.14" fill="#93ce84"/><rect x="143.80" y="302.89" width="9.35" height="1.14" fill="#dde9b3"/><rect x="153.10" y="302.89" width="9.35" height="1.14" fill="#4da84d"/><rect x="162.40" y="302.89" width="9.35" height="1.14" fill="#f6e0af"/><rect x="171.70" y="302.89" width="9.35" height="1.14" fill="#edeebd"/><rect x="181.00" y="302.89" width="9.35" height="1.14" fill="#f3af77"/><rect x="134.50" y="303.99" width="9.35" height="1.14" fill="#8aca7e"/><rect x="143.80" y="303.99" width="9.35" height="1.14" fill="#c4e1a2"/><rect x="153.10" y="303.99" width="9.35" height="1.14" fill="#85c87b"/><rect x="162.40" y="303.99" width="9.35" height="1.14" fill="#f6deac"/><rect x="171.70" y="303.99" width="9.35" height="1.14" fill="#f5e6b6"/><rect x="181.00" y="303.99" width="9.35" height="1.14" fill="#f2aa71"/><rect x="134.50" y="305.08" width="9.35" height="1.14" fill="#94ce84"/><rect x="143.80" y="305.08" width="9.35" height="1.14" fill="#d2e5ab"/><rect x="153.10" y="305.08" width="9.35" height="1.14" fill="#b8dc99"/><rect x="162.40" y="305.08" width="9.35" height="1.14" fill="#f7d39f"/><rect x="171.70" y="305.08" width="9.35" height="1.14" fill="#f5ebbc"/><rect x="181.00" y="305.08" width="9.35" height="1.14" fill="#ed9861"/><rect x="134.50" y="306.18" width="9.35" height="1.14" fill="#a4d58e"/><rect x="143.80" y="306.18" width="9.35" height="1.14" fill="#d2e5ab"/><rect x="153.10" y="306.18" width="9.35" height="1.14" fill="#71c06f"/><rect x="162.40" y="306.18" width="9.35" height="1.14" fill="#f8c892"/><rect x="171.70" y="306.18" width="9.35" height="1.14" fill="#f5e6b6"/><rect x="181.00" y="306.18" width="9.35" height="1.14" fill="#e68051"/><rect x="134.50" y="307.27" width="9.35" height="1.14" fill="#bdde9d"/><rect x="143.80" y="307.27" width="9.35" height="1.14" fill="#d0e4a9"/><rect x="153.10" y="307.27" width="9.35" height="1.14" fill="#77c373"/><rect x="162.40" y="307.27" width="9.35" height="1.14" fill="#f6c28b"/><rect x="171.70" y="307.27" width="9.35" height="1.14" fill="#f5e7b7"/><rect x="181.00" y="307.27" width="9.35" height="1.14" fill="#ee9b63"/><rect x="134.50" y="308.37" width="9.35" height="1.14" fill="#9fd28b"/><rect x="143.80" y="308.37" width="9.35" height="1.14" fill="#cde3a8"/><rect x="153.10" y="308.37" width="9.35" height="1.14" fill="#6bbd6b"/><rect x="162.40" y="308.37" width="9.35" height="1.14" fill="#f4b57d"/><rect x="171.70" y="308.37" width="9.35" height="1.14" fill="#f6e0af"/><rect x="181.00" y="308.37" width="9.35" height="1.14" fill="#f1a86e"/><rect x="134.50" y="309.46" width="9.35" height="1.14" fill="#cbe3a6"/><rect x="143.80" y="309.46" width="9.35" height="1.14" fill="#d7e7ae"/><rect x="153.10" y="309.46" width="9.35" height="1.14" fill="#8fcc81"/><rect x="162.40" y="309.46" width="9.35" height="1.14" fill="#f4b881"/><rect x="171.70" y="309.46" width="9.35" height="1.14" fill="#f6e1b0"/><rect x="181.00" y="309.46" width="9.35" height="1.14" fill="#f0a167"/><rect x="134.50" y="310.55" width="9.35" height="1.14" fill="#d3e5ac"/><rect x="143.80" y="310.55" width="9.35" height="1.14" fill="#acd892"/><rect x="153.10" y="310.55" width="9.35" height="1.14" fill="#56af56"/><rect x="162.40" y="310.55" width="9.35" height="1.14" fill="#f5bb83"/><rect x="171.70" y="310.55" width="9.35" height="1.14" fill="#f4b67e"/><rect x="181.00" y="310.55" width="9.35" height="1.14" fill="#f2aa71"/><rect x="134.50" y="311.65" width="9.35" height="1.14" fill="#bdde9d"/><rect x="143.80" y="311.65" width="9.35" height="1.14" fill="#c3e0a1"/><rect x="153.10" y="311.65" width="9.35" height="1.14" fill="#54ad54"/><rect x="162.40" y="311.65" width="9.35" height="1.14" fill="#f8ce98"/><rect x="171.70" y="311.65" width="9.35" height="1.14" fill="#f7c690"/><rect x="181.00" y="311.65" width="9.35" height="1.14" fill="#f3b077"/><rect x="134.50" y="312.74" width="9.35" height="1.14" fill="#b7dc99"/><rect x="143.80" y="312.74" width="9.35" height="1.14" fill="#a6d58f"/><rect x="153.10" y="312.74" width="9.35" height="1.14" fill="#5ab15a"/><rect x="162.40" y="312.74" width="9.35" height="1.14" fill="#f7c48e"/><rect x="171.70" y="312.74" width="9.35" height="1.14" fill="#f5e4b4"/><rect x="181.00" y="312.74" width="9.35" height="1.14" fill="#f1a66c"/><rect x="134.50" y="313.84" width="9.35" height="1.14" fill="#bdde9d"/><rect x="143.80" y="313.84" width="9.35" height="1.14" fill="#b9dd9a"/><rect x="153.10" y="313.84" width="9.35" height="1.14" fill="#7cc475"/><rect x="162.40" y="313.84" width="9.35" height="1.14" fill="#f6dfad"/><rect x="171.70" y="313.84" width="9.35" height="1.14" fill="#f6e1b0"/><rect x="181.00" y="313.84" width="9.35" height="1.14" fill="#ed9660"/><rect x="134.50" y="314.93" width="9.35" height="1.14" fill="#cae3a6"/><rect x="143.80" y="314.93" width="9.35" height="1.14" fill="#b1da95"/><rect x="153.10" y="314.93" width="9.35" height="1.14" fill="#5fb55f"/><rect x="162.40" y="314.93" width="9.35" height="1.14" fill="#f7d8a5"/><rect x="171.70" y="314.93" width="9.35" height="1.14" fill="#f5e4b3"/><rect x="181.00" y="314.93" width="9.35" height="1.14" fill="#e98856"/><rect x="134.50" y="316.03" width="9.35" height="1.14" fill="#bbdd9b"/><rect x="143.80" y="316.03" width="9.35" height="1.14" fill="#cfe4a9"/><rect x="153.10" y="316.03" width="9.35" height="1.14" fill="#54ad54"/><rect x="162.40" y="316.03" width="9.35" height="1.14" fill="#f8ce99"/><rect x="171.70" y="316.03" width="9.35" height="1.14" fill="#f8ce99"/><rect x="181.00" y="316.03" width="9.35" height="1.14" fill="#f2ac73"/><rect x="134.50" y="317.12" width="9.35" height="1.14" fill="#b3da97"/><rect x="143.80" y="317.12" width="9.35" height="1.14" fill="#f0efbf"/><rect x="153.10" y="317.12" width="9.35" height="1.14" fill="#4aa64a"/><rect x="162.40" y="317.12" width="9.35" height="1.14" fill="#f8ca94"/><rect x="171.70" y="317.12" width="9.35" height="1.14" fill="#f6e1b0"/><rect x="181.00" y="317.12" width="9.35" height="1.14" fill="#f1a76e"/><rect x="134.50" y="318.22" width="9.35" height="1.14" fill="#cee4a8"/><rect x="143.80" y="318.22" width="9.35" height="1.14" fill="#c1e0a0"/><rect x="153.10" y="318.22" width="9.35" height="1.14" fill="#53ac53"/><rect x="162.40" y="318.22" width="9.35" height="1.14" fill="#f6e1af"/><rect x="171.70" y="318.22" width="9.35" height="1.14" fill="#f5e8b9"/><rect x="181.00" y="318.22" width="9.35" height="1.14" fill="#ed9962"/><rect x="134.50" y="319.31" width="9.35" height="1.14" fill="#cee4a8"/><rect x="143.80" y="319.31" width="9.35" height="1.14" fill="#d6e6ae"/><rect x="153.10" y="319.31" width="9.35" height="1.14" fill="#71c06f"/><rect x="162.40" y="319.31" width="9.35" height="1.14" fill="#f6deac"/><rect x="171.70" y="319.31" width="9.35" height="1.14" fill="#f5e9ba"/><rect x="181.00" y="319.31" width="9.35" height="1.14" fill="#f1a86f"/><rect x="134.50" y="320.41" width="9.35" height="1.14" fill="#d3e5ab"/><rect x="143.80" y="320.41" width="9.35" height="1.14" fill="#dee9b3"/><rect x="153.10" y="320.41" width="9.35" height="1.14" fill="#7cc476"/><rect x="162.40" y="320.41" width="9.35" height="1.14" fill="#f5e6b6"/><rect x="171.70" y="320.41" width="9.35" height="1.14" fill="#f7d6a3"/><rect x="181.00" y="320.41" width="9.35" height="1.14" fill="#ea8d5a"/>
<rect x="135.1" y="199.9" width="54.6" height="20.6" fill="none" stroke="#b8412e" stroke-width="1.3"/>
<rect x="135.0" y="221.4" width="54.8" height="99.6" fill="none" stroke="#48a048" stroke-width="1.1"/>
<rect x="310.40" y="199.30" width="9.33" height="1.14" fill="#ed9660"/><rect x="319.68" y="199.30" width="9.33" height="1.14" fill="#f8c892"/><rect x="328.97" y="199.30" width="9.33" height="1.14" fill="#eaedbb"/><rect x="338.25" y="199.30" width="9.33" height="1.14" fill="#7fc577"/><rect x="347.53" y="199.30" width="9.33" height="1.14" fill="#e3eab6"/><rect x="356.82" y="199.30" width="9.33" height="1.14" fill="#cce3a7"/><rect x="310.40" y="200.39" width="9.33" height="1.14" fill="#ef9f66"/><rect x="319.68" y="200.39" width="9.33" height="1.14" fill="#f7c38c"/><rect x="328.97" y="200.39" width="9.33" height="1.14" fill="#f4efc1"/><rect x="338.25" y="200.39" width="9.33" height="1.14" fill="#98d087"/><rect x="347.53" y="200.39" width="9.33" height="1.14" fill="#dfe9b4"/><rect x="356.82" y="200.39" width="9.33" height="1.14" fill="#d4e6ac"/><rect x="310.40" y="201.49" width="9.33" height="1.14" fill="#ec925d"/><rect x="319.68" y="201.49" width="9.33" height="1.14" fill="#f6e0af"/><rect x="328.97" y="201.49" width="9.33" height="1.14" fill="#f5e9ba"/><rect x="338.25" y="201.49" width="9.33" height="1.14" fill="#7ec577"/><rect x="347.53" y="201.49" width="9.33" height="1.14" fill="#e7ecb9"/><rect x="356.82" y="201.49" width="9.33" height="1.14" fill="#b9dd9a"/><rect x="310.40" y="202.58" width="9.33" height="1.14" fill="#ec945f"/><rect x="319.68" y="202.58" width="9.33" height="1.14" fill="#f6c089"/><rect x="328.97" y="202.58" width="9.33" height="1.14" fill="#f7d39f"/><rect x="338.25" y="202.58" width="9.33" height="1.14" fill="#73c170"/><rect x="347.53" y="202.58" width="9.33" height="1.14" fill="#dae8b1"/><rect x="356.82" y="202.58" width="9.33" height="1.14" fill="#9ad087"/><rect x="310.40" y="203.67" width="9.33" height="1.14" fill="#f2ac73"/><rect x="319.68" y="203.67" width="9.33" height="1.14" fill="#f7d39f"/><rect x="328.97" y="203.67" width="9.33" height="1.14" fill="#f5e3b2"/><rect x="338.25" y="203.67" width="9.33" height="1.14" fill="#8ccb7f"/><rect x="347.53" y="203.67" width="9.33" height="1.14" fill="#f1efc0"/><rect x="356.82" y="203.67" width="9.33" height="1.14" fill="#afd994"/><rect x="310.40" y="204.77" width="9.33" height="1.14" fill="#f6c18a"/><rect x="319.68" y="204.77" width="9.33" height="1.14" fill="#f7c58e"/><rect x="328.97" y="204.77" width="9.33" height="1.14" fill="#f5e3b2"/><rect x="338.25" y="204.77" width="9.33" height="1.14" fill="#8fcc81"/><rect x="347.53" y="204.77" width="9.33" height="1.14" fill="#f6e0af"/><rect x="356.82" y="204.77" width="9.33" height="1.14" fill="#cde3a7"/><rect x="310.40" y="205.86" width="9.33" height="1.14" fill="#f5b981"/><rect x="319.68" y="205.86" width="9.33" height="1.14" fill="#f5bc85"/><rect x="328.97" y="205.86" width="9.33" height="1.14" fill="#f7d39f"/><rect x="338.25" y="205.86" width="9.33" height="1.14" fill="#9ad087"/><rect x="347.53" y="205.86" width="9.33" height="1.14" fill="#e6ebb8"/><rect x="356.82" y="205.86" width="9.33" height="1.14" fill="#b7dc99"/><rect x="310.40" y="206.95" width="9.33" height="1.14" fill="#f1a76d"/><rect x="319.68" y="206.95" width="9.33" height="1.14" fill="#ef9d65"/><rect x="328.97" y="206.95" width="9.33" height="1.14" fill="#f7c790"/><rect x="338.25" y="206.95" width="9.33" height="1.14" fill="#66ba66"/><rect x="347.53" y="206.95" width="9.33" height="1.14" fill="#cbe3a6"/><rect x="356.82" y="206.95" width="9.33" height="1.14" fill="#b1da95"/><rect x="310.40" y="208.05" width="9.33" height="1.14" fill="#f2ac73"/><rect x="319.68" y="208.05" width="9.33" height="1.14" fill="#f0a46a"/><rect x="328.97" y="208.05" width="9.33" height="1.14" fill="#f6c28b"/><rect x="338.25" y="208.05" width="9.33" height="1.14" fill="#7dc576"/><rect x="347.53" y="208.05" width="9.33" height="1.14" fill="#bfdf9e"/><rect x="356.82" y="208.05" width="9.33" height="1.14" fill="#b7dc99"/><rect x="310.40" y="209.14" width="9.33" height="1.14" fill="#f2ab72"/><rect x="319.68" y="209.14" width="9.33" height="1.14" fill="#f4b67e"/><rect x="328.97" y="209.14" width="9.33" height="1.14" fill="#f6daa7"/><rect x="338.25" y="209.14" width="9.33" height="1.14" fill="#94ce84"/><rect x="347.53" y="209.14" width="9.33" height="1.14" fill="#c2e0a0"/><rect x="356.82" y="209.14" width="9.33" height="1.14" fill="#d3e5ab"/><rect x="310.40" y="210.23" width="9.33" height="1.14" fill="#f5bc85"/><rect x="319.68" y="210.23" width="9.33" height="1.14" fill="#f5bd85"/><rect x="328.97" y="210.23" width="9.33" height="1.14" fill="#d9e7b0"/><rect x="338.25" y="210.23" width="9.33" height="1.14" fill="#9fd28a"/><rect x="347.53" y="210.23" width="9.33" height="1.14" fill="#cae3a6"/><rect x="356.82" y="210.23" width="9.33" height="1.14" fill="#c7e2a4"/><rect x="310.40" y="211.33" width="9.33" height="1.14" fill="#f2ae75"/><rect x="319.68" y="211.33" width="9.33" height="1.14" fill="#f8c892"/><rect x="328.97" y="211.33" width="9.33" height="1.14" fill="#dfe9b3"/><rect x="338.25" y="211.33" width="9.33" height="1.14" fill="#94ce84"/><rect x="347.53" y="211.33" width="9.33" height="1.14" fill="#c9e2a5"/><rect x="356.82" y="211.33" width="9.33" height="1.14" fill="#add893"/><rect x="310.40" y="212.42" width="9.33" height="1.14" fill="#f3b27a"/><rect x="319.68" y="212.42" width="9.33" height="1.14" fill="#f4b77f"/><rect x="328.97" y="212.42" width="9.33" height="1.14" fill="#f6dfae"/><rect x="338.25" y="212.42" width="9.33" height="1.14" fill="#90cc82"/><rect x="347.53" y="212.42" width="9.33" height="1.14" fill="#cbe3a6"/><rect x="356.82" y="212.42" width="9.33" height="1.14" fill="#a7d690"/><rect x="310.40" y="213.52" width="9.33" height="1.14" fill="#f1a86f"/><rect x="319.68" y="213.52" width="9.33" height="1.14" fill="#f1a66d"/><rect x="328.97" y="213.52" width="9.33" height="1.14" fill="#f6deac"/><rect x="338.25" y="213.52" width="9.33" height="1.14" fill="#65b965"/><rect x="347.53" y="213.52" width="9.33" height="1.14" fill="#d1e5aa"/><rect x="356.82" y="213.52" width="9.33" height="1.14" fill="#8bcb7f"/><rect x="310.40" y="214.61" width="9.33" height="1.14" fill="#f2ac73"/><rect x="319.68" y="214.61" width="9.33" height="1.14" fill="#f4b880"/><rect x="328.97" y="214.61" width="9.33" height="1.14" fill="#f7d7a4"/><rect x="338.25" y="214.61" width="9.33" height="1.14" fill="#66ba66"/><rect x="347.53" y="214.61" width="9.33" height="1.14" fill="#d6e6ae"/><rect x="356.82" y="214.61" width="9.33" height="1.14" fill="#cfe4a9"/><rect x="310.40" y="215.70" width="9.33" height="1.14" fill="#f3b279"/><rect x="319.68" y="215.70" width="9.33" height="1.14" fill="#f8cb95"/><rect x="328.97" y="215.70" width="9.33" height="1.14" fill="#f6d9a6"/><rect x="338.25" y="215.70" width="9.33" height="1.14" fill="#6bbd6b"/><rect x="347.53" y="215.70" width="9.33" height="1.14" fill="#cfe4a9"/><rect x="356.82" y="215.70" width="9.33" height="1.14" fill="#cee4a8"/><rect x="310.40" y="216.80" width="9.33" height="1.14" fill="#ed9962"/><rect x="319.68" y="216.80" width="9.33" height="1.14" fill="#f6c18a"/><rect x="328.97" y="216.80" width="9.33" height="1.14" fill="#f5e7b8"/><rect x="338.25" y="216.80" width="9.33" height="1.14" fill="#82c779"/><rect x="347.53" y="216.80" width="9.33" height="1.14" fill="#e4ebb7"/><rect x="356.82" y="216.80" width="9.33" height="1.14" fill="#b8dd9a"/><rect x="310.40" y="217.89" width="9.33" height="1.14" fill="#e88755"/><rect x="319.68" y="217.89" width="9.33" height="1.14" fill="#f4b881"/><rect x="328.97" y="217.89" width="9.33" height="1.14" fill="#f5e2b1"/><rect x="338.25" y="217.89" width="9.33" height="1.14" fill="#76c272"/><rect x="347.53" y="217.89" width="9.33" height="1.14" fill="#e8ecba"/><rect x="356.82" y="217.89" width="9.33" height="1.14" fill="#81c679"/><rect x="310.40" y="218.98" width="9.33" height="1.14" fill="#f0a46b"/><rect x="319.68" y="218.98" width="9.33" height="1.14" fill="#f7c791"/><rect x="328.97" y="218.98" width="9.33" height="1.14" fill="#f6dfad"/><rect x="338.25" y="218.98" width="9.33" height="1.14" fill="#73c170"/><rect x="347.53" y="218.98" width="9.33" height="1.14" fill="#f5e9b9"/><rect x="356.82" y="218.98" width="9.33" height="1.14" fill="#7fc677"/><rect x="310.40" y="220.08" width="9.33" height="1.14" fill="#f3b178"/><rect x="319.68" y="220.08" width="9.33" height="1.14" fill="#f5bb84"/><rect x="328.97" y="220.08" width="9.33" height="1.14" fill="#f5e6b6"/><rect x="338.25" y="220.08" width="9.33" height="1.14" fill="#bbdd9b"/><rect x="347.53" y="220.08" width="9.33" height="1.14" fill="#eaedbb"/><rect x="356.82" y="220.08" width="9.33" height="1.14" fill="#76c272"/><rect x="310.40" y="221.17" width="9.33" height="1.14" fill="#f5bc85"/><rect x="319.68" y="221.17" width="9.33" height="1.14" fill="#f3b37b"/><rect x="328.97" y="221.17" width="9.33" height="1.14" fill="#f5e8b8"/><rect x="338.25" y="221.17" width="9.33" height="1.14" fill="#8aca7e"/><rect x="347.53" y="221.17" width="9.33" height="1.14" fill="#cae3a6"/><rect x="356.82" y="221.17" width="9.33" height="1.14" fill="#83c77a"/><rect x="310.40" y="222.26" width="9.33" height="1.14" fill="#f1a86e"/><rect x="319.68" y="222.26" width="9.33" height="1.14" fill="#f1a86e"/><rect x="328.97" y="222.26" width="9.33" height="1.14" fill="#f7d29e"/><rect x="338.25" y="222.26" width="9.33" height="1.14" fill="#87c97c"/><rect x="347.53" y="222.26" width="9.33" height="1.14" fill="#d4e6ac"/><rect x="356.82" y="222.26" width="9.33" height="1.14" fill="#c8e2a4"/><rect x="310.40" y="223.36" width="9.33" height="1.14" fill="#ee9b63"/><rect x="319.68" y="223.36" width="9.33" height="1.14" fill="#f5bd85"/><rect x="328.97" y="223.36" width="9.33" height="1.14" fill="#f6e2b1"/><rect x="338.25" y="223.36" width="9.33" height="1.14" fill="#8bcb7f"/><rect x="347.53" y="223.36" width="9.33" height="1.14" fill="#e6ecb9"/><rect x="356.82" y="223.36" width="9.33" height="1.14" fill="#d4e6ac"/><rect x="310.40" y="224.45" width="9.33" height="1.14" fill="#f4b880"/><rect x="319.68" y="224.45" width="9.33" height="1.14" fill="#f3af76"/><rect x="328.97" y="224.45" width="9.33" height="1.14" fill="#f6ddab"/><rect x="338.25" y="224.45" width="9.33" height="1.14" fill="#64b864"/><rect x="347.53" y="224.45" width="9.33" height="1.14" fill="#dbe8b1"/><rect x="356.82" y="224.45" width="9.33" height="1.14" fill="#c7e1a3"/><rect x="310.40" y="225.54" width="9.33" height="1.14" fill="#f3b279"/><rect x="319.68" y="225.54" width="9.33" height="1.14" fill="#f5bb84"/><rect x="328.97" y="225.54" width="9.33" height="1.14" fill="#f6dca9"/><rect x="338.25" y="225.54" width="9.33" height="1.14" fill="#5fb55f"/><rect x="347.53" y="225.54" width="9.33" height="1.14" fill="#d7e7ae"/><rect x="356.82" y="225.54" width="9.33" height="1.14" fill="#b6dc98"/><rect x="310.40" y="226.64" width="9.33" height="1.14" fill="#ef9d65"/><rect x="319.68" y="226.64" width="9.33" height="1.14" fill="#f7c690"/><rect x="328.97" y="226.64" width="9.33" height="1.14" fill="#f6e0af"/><rect x="338.25" y="226.64" width="9.33" height="1.14" fill="#59b059"/><rect x="347.53" y="226.64" width="9.33" height="1.14" fill="#ebedbc"/><rect x="356.82" y="226.64" width="9.33" height="1.14" fill="#c5e1a2"/><rect x="310.40" y="227.73" width="9.33" height="1.14" fill="#ea8c59"/><rect x="319.68" y="227.73" width="9.33" height="1.14" fill="#f7d29e"/><rect x="328.97" y="227.73" width="9.33" height="1.14" fill="#f6dba9"/><rect x="338.25" y="227.73" width="9.33" height="1.14" fill="#59b159"/><rect x="347.53" y="227.73" width="9.33" height="1.14" fill="#f4efc0"/><rect x="356.82" y="227.73" width="9.33" height="1.14" fill="#c6e1a3"/><rect x="310.40" y="228.82" width="9.33" height="1.14" fill="#ed9861"/><rect x="319.68" y="228.82" width="9.33" height="1.14" fill="#f7d09b"/><rect x="328.97" y="228.82" width="9.33" height="1.14" fill="#f8cc96"/><rect x="338.25" y="228.82" width="9.33" height="1.14" fill="#5db35d"/><rect x="347.53" y="228.82" width="9.33" height="1.14" fill="#e7ecb9"/><rect x="356.82" y="228.82" width="9.33" height="1.14" fill="#8bca7e"/><rect x="310.40" y="229.92" width="9.33" height="1.14" fill="#f4b880"/><rect x="319.68" y="229.92" width="9.33" height="1.14" fill="#f6c28b"/><rect x="328.97" y="229.92" width="9.33" height="1.14" fill="#f7d29e"/><rect x="338.25" y="229.92" width="9.33" height="1.14" fill="#86c97c"/><rect x="347.53" y="229.92" width="9.33" height="1.14" fill="#d7e7ae"/><rect x="356.82" y="229.92" width="9.33" height="1.14" fill="#c2e0a0"/><rect x="310.40" y="231.01" width="9.33" height="1.14" fill="#efa066"/><rect x="319.68" y="231.01" width="9.33" height="1.14" fill="#f7c48d"/><rect x="328.97" y="231.01" width="9.33" height="1.14" fill="#f7d6a2"/><rect x="338.25" y="231.01" width="9.33" height="1.14" fill="#a7d690"/><rect x="347.53" y="231.01" width="9.33" height="1.14" fill="#e8ecba"/><rect x="356.82" y="231.01" width="9.33" height="1.14" fill="#d7e7ae"/><rect x="310.40" y="232.10" width="9.33" height="1.14" fill="#e98a58"/><rect x="319.68" y="232.10" width="9.33" height="1.14" fill="#f6bf88"/><rect x="328.97" y="232.10" width="9.33" height="1.14" fill="#f6dfae"/><rect x="338.25" y="232.10" width="9.33" height="1.14" fill="#8ccb7f"/><rect x="347.53" y="232.10" width="9.33" height="1.14" fill="#e3eab6"/><rect x="356.82" y="232.10" width="9.33" height="1.14" fill="#cbe3a6"/><rect x="310.40" y="233.20" width="9.33" height="1.14" fill="#f0a369"/><rect x="319.68" y="233.20" width="9.33" height="1.14" fill="#f5bd86"/><rect x="328.97" y="233.20" width="9.33" height="1.14" fill="#f6e1af"/><rect x="338.25" y="233.20" width="9.33" height="1.14" fill="#68bb68"/><rect x="347.53" y="233.20" width="9.33" height="1.14" fill="#d5e6ad"/><rect x="356.82" y="233.20" width="9.33" height="1.14" fill="#bfdf9e"/><rect x="310.40" y="234.29" width="9.33" height="1.14" fill="#ec935e"/><rect x="319.68" y="234.29" width="9.33" height="1.14" fill="#f8c992"/><rect x="328.97" y="234.29" width="9.33" height="1.14" fill="#f5e2b1"/><rect x="338.25" y="234.29" width="9.33" height="1.14" fill="#61b661"/><rect x="347.53" y="234.29" width="9.33" height="1.14" fill="#c1e0a0"/><rect x="356.82" y="234.29" width="9.33" height="1.14" fill="#c8e2a4"/><rect x="310.40" y="235.38" width="9.33" height="1.14" fill="#eb905c"/><rect x="319.68" y="235.38" width="9.33" height="1.14" fill="#f6be87"/><rect x="328.97" y="235.38" width="9.33" height="1.14" fill="#f6ddab"/><rect x="338.25" y="235.38" width="9.33" height="1.14" fill="#b1da96"/><rect x="347.53" y="235.38" width="9.33" height="1.14" fill="#cde4a8"/><rect x="356.82" y="235.38" width="9.33" height="1.14" fill="#c7e2a4"/><rect x="310.40" y="236.48" width="9.33" height="1.14" fill="#f1a56b"/><rect x="319.68" y="236.48" width="9.33" height="1.14" fill="#f4b57d"/><rect x="328.97" y="236.48" width="9.33" height="1.14" fill="#f7d8a5"/><rect x="338.25" y="236.48" width="9.33" height="1.14" fill="#98d086"/><rect x="347.53" y="236.48" width="9.33" height="1.14" fill="#e6ebb8"/><rect x="356.82" y="236.48" width="9.33" height="1.14" fill="#cee4a8"/><rect x="310.40" y="237.57" width="9.33" height="1.14" fill="#f3b178"/><rect x="319.68" y="237.57" width="9.33" height="1.14" fill="#f6c28b"/><rect x="328.97" y="237.57" width="9.33" height="1.14" fill="#f5e9b9"/><rect x="338.25" y="237.57" width="9.33" height="1.14" fill="#7fc577"/><rect x="347.53" y="237.57" width="9.33" height="1.14" fill="#dbe8b1"/><rect x="356.82" y="237.57" width="9.33" height="1.14" fill="#c0df9f"/><rect x="310.40" y="238.67" width="9.33" height="1.14" fill="#f1a86e"/><rect x="319.68" y="238.67" width="9.33" height="1.14" fill="#f5b981"/><rect x="328.97" y="238.67" width="9.33" height="1.14" fill="#f7d09c"/><rect x="338.25" y="238.67" width="9.33" height="1.14" fill="#66ba66"/><rect x="347.53" y="238.67" width="9.33" height="1.14" fill="#d0e5aa"/><rect x="356.82" y="238.67" width="9.33" height="1.14" fill="#abd792"/><rect x="310.40" y="239.76" width="9.33" height="1.14" fill="#f1a76e"/><rect x="319.68" y="239.76" width="9.33" height="1.14" fill="#f4b881"/><rect x="328.97" y="239.76" width="9.33" height="1.14" fill="#f7c38c"/><rect x="338.25" y="239.76" width="9.33" height="1.14" fill="#67bb67"/><rect x="347.53" y="239.76" width="9.33" height="1.14" fill="#d7e7af"/><rect x="356.82" y="239.76" width="9.33" height="1.14" fill="#c3e0a1"/><rect x="310.40" y="240.85" width="9.33" height="1.14" fill="#ed9760"/><rect x="319.68" y="240.85" width="9.33" height="1.14" fill="#f1a970"/><rect x="328.97" y="240.85" width="9.33" height="1.14" fill="#f7d5a2"/><rect x="338.25" y="240.85" width="9.33" height="1.14" fill="#80c678"/><rect x="347.53" y="240.85" width="9.33" height="1.14" fill="#dae8b0"/><rect x="356.82" y="240.85" width="9.33" height="1.14" fill="#aed893"/><rect x="310.40" y="241.95" width="9.33" height="1.14" fill="#ec935e"/><rect x="319.68" y="241.95" width="9.33" height="1.14" fill="#f7c58f"/><rect x="328.97" y="241.95" width="9.33" height="1.14" fill="#f6dca9"/><rect x="338.25" y="241.95" width="9.33" height="1.14" fill="#72c06f"/><rect x="347.53" y="241.95" width="9.33" height="1.14" fill="#dae8b0"/><rect x="356.82" y="241.95" width="9.33" height="1.14" fill="#c8e2a4"/><rect x="310.40" y="243.04" width="9.33" height="1.14" fill="#e98a58"/><rect x="319.68" y="243.04" width="9.33" height="1.14" fill="#f8c891"/><rect x="328.97" y="243.04" width="9.33" height="1.14" fill="#f8cd98"/><rect x="338.25" y="243.04" width="9.33" height="1.14" fill="#50aa50"/><rect x="347.53" y="243.04" width="9.33" height="1.14" fill="#d0e4a9"/><rect x="356.82" y="243.04" width="9.33" height="1.14" fill="#dee9b3"/><rect x="310.40" y="244.13" width="9.33" height="1.14" fill="#e98957"/><rect x="319.68" y="244.13" width="9.33" height="1.14" fill="#f2ab72"/><rect x="328.97" y="244.13" width="9.33" height="1.14" fill="#f7c58f"/><rect x="338.25" y="244.13" width="9.33" height="1.14" fill="#71c06f"/><rect x="347.53" y="244.13" width="9.33" height="1.14" fill="#f6e1b0"/><rect x="356.82" y="244.13" width="9.33" height="1.14" fill="#dee9b3"/><rect x="310.40" y="245.23" width="9.33" height="1.14" fill="#ef9d65"/><rect x="319.68" y="245.23" width="9.33" height="1.14" fill="#f2ad74"/><rect x="328.97" y="245.23" width="9.33" height="1.14" fill="#f7c68f"/><rect x="338.25" y="245.23" width="9.33" height="1.14" fill="#7bc475"/><rect x="347.53" y="245.23" width="9.33" height="1.14" fill="#f6dba9"/><rect x="356.82" y="245.23" width="9.33" height="1.14" fill="#b8dd9a"/><rect x="310.40" y="246.32" width="9.33" height="1.14" fill="#f2aa71"/><rect x="319.68" y="246.32" width="9.33" height="1.14" fill="#f7d09c"/><rect x="328.97" y="246.32" width="9.33" height="1.14" fill="#f6dba9"/><rect x="338.25" y="246.32" width="9.33" height="1.14" fill="#89ca7d"/><rect x="347.53" y="246.32" width="9.33" height="1.14" fill="#f3f0c1"/><rect x="356.82" y="246.32" width="9.33" height="1.14" fill="#a9d691"/><rect x="310.40" y="247.41" width="9.33" height="1.14" fill="#f1a96f"/><rect x="319.68" y="247.41" width="9.33" height="1.14" fill="#f7d4a1"/><rect x="328.97" y="247.41" width="9.33" height="1.14" fill="#f4edbf"/><rect x="338.25" y="247.41" width="9.33" height="1.14" fill="#88c97d"/><rect x="347.53" y="247.41" width="9.33" height="1.14" fill="#efeebe"/><rect x="356.82" y="247.41" width="9.33" height="1.14" fill="#bbde9b"/><rect x="310.40" y="248.51" width="9.33" height="1.14" fill="#f4b47b"/><rect x="319.68" y="248.51" width="9.33" height="1.14" fill="#f2ae75"/><rect x="328.97" y="248.51" width="9.33" height="1.14" fill="#f5e5b5"/><rect x="338.25" y="248.51" width="9.33" height="1.14" fill="#a3d48d"/><rect x="347.53" y="248.51" width="9.33" height="1.14" fill="#dce8b2"/><rect x="356.82" y="248.51" width="9.33" height="1.14" fill="#badd9b"/>
<rect x="310.40" y="249.60" width="9.33" height="1.15" fill="#50aa50"/><rect x="319.68" y="249.60" width="9.33" height="1.15" fill="#bdde9c"/><rect x="328.97" y="249.60" width="9.33" height="1.15" fill="#c6e1a3"/><rect x="338.25" y="249.60" width="9.33" height="1.15" fill="#f7d4a0"/><rect x="347.53" y="249.60" width="9.33" height="1.15" fill="#f6deac"/><rect x="356.82" y="249.60" width="9.33" height="1.15" fill="#f3af77"/><rect x="310.40" y="250.70" width="9.33" height="1.15" fill="#6bbd6b"/><rect x="319.68" y="250.70" width="9.33" height="1.15" fill="#c3e0a1"/><rect x="328.97" y="250.70" width="9.33" height="1.15" fill="#c4e1a1"/><rect x="338.25" y="250.70" width="9.33" height="1.15" fill="#f8ce99"/><rect x="347.53" y="250.70" width="9.33" height="1.15" fill="#f7d29e"/><rect x="356.82" y="250.70" width="9.33" height="1.15" fill="#f2ae75"/><rect x="310.40" y="251.80" width="9.33" height="1.15" fill="#79c374"/><rect x="319.68" y="251.80" width="9.33" height="1.15" fill="#d2e5ab"/><rect x="328.97" y="251.80" width="9.33" height="1.15" fill="#c3e0a0"/><rect x="338.25" y="251.80" width="9.33" height="1.15" fill="#f7d5a1"/><rect x="347.53" y="251.80" width="9.33" height="1.15" fill="#f6d8a5"/><rect x="356.82" y="251.80" width="9.33" height="1.15" fill="#f0a46b"/><rect x="310.40" y="252.90" width="9.33" height="1.15" fill="#58b058"/><rect x="319.68" y="252.90" width="9.33" height="1.15" fill="#a4d58e"/><rect x="328.97" y="252.90" width="9.33" height="1.15" fill="#eaedbb"/><rect x="338.25" y="252.90" width="9.33" height="1.15" fill="#f7d4a1"/><rect x="347.53" y="252.90" width="9.33" height="1.15" fill="#f8ce99"/><rect x="356.82" y="252.90" width="9.33" height="1.15" fill="#e4784b"/><rect x="310.40" y="254.01" width="9.33" height="1.15" fill="#5fb55f"/><rect x="319.68" y="254.01" width="9.33" height="1.15" fill="#81c679"/><rect x="328.97" y="254.01" width="9.33" height="1.15" fill="#d4e6ac"/><rect x="338.25" y="254.01" width="9.33" height="1.15" fill="#f6ddab"/><rect x="347.53" y="254.01" width="9.33" height="1.15" fill="#f5e5b4"/><rect x="356.82" y="254.01" width="9.33" height="1.15" fill="#e78454"/><rect x="310.40" y="255.11" width="9.33" height="1.15" fill="#4aa64a"/><rect x="319.68" y="255.11" width="9.33" height="1.15" fill="#94ce84"/><rect x="328.97" y="255.11" width="9.33" height="1.15" fill="#d3e6ac"/><rect x="338.25" y="255.11" width="9.33" height="1.15" fill="#f6e1b0"/><rect x="347.53" y="255.11" width="9.33" height="1.15" fill="#f6dfae"/><rect x="356.82" y="255.11" width="9.33" height="1.15" fill="#e98b58"/><rect x="310.40" y="256.21" width="9.33" height="1.15" fill="#4da84d"/><rect x="319.68" y="256.21" width="9.33" height="1.15" fill="#b3da96"/><rect x="328.97" y="256.21" width="9.33" height="1.15" fill="#e0eab5"/><rect x="338.25" y="256.21" width="9.33" height="1.15" fill="#f3b37b"/><rect x="347.53" y="256.21" width="9.33" height="1.15" fill="#f5e8b8"/><rect x="356.82" y="256.21" width="9.33" height="1.15" fill="#e88555"/><rect x="310.40" y="257.31" width="9.33" height="1.15" fill="#52ac52"/><rect x="319.68" y="257.31" width="9.33" height="1.15" fill="#d0e4aa"/><rect x="328.97" y="257.31" width="9.33" height="1.15" fill="#e5ebb8"/><rect x="338.25" y="257.31" width="9.33" height="1.15" fill="#f8cc96"/><rect x="347.53" y="257.31" width="9.33" height="1.15" fill="#f8cb95"/><rect x="356.82" y="257.31" width="9.33" height="1.15" fill="#e78252"/><rect x="310.40" y="258.41" width="9.33" height="1.15" fill="#58b058"/><rect x="319.68" y="258.41" width="9.33" height="1.15" fill="#aed994"/><rect x="328.97" y="258.41" width="9.33" height="1.15" fill="#c7e2a4"/><rect x="338.25" y="258.41" width="9.33" height="1.15" fill="#f6e0af"/><rect x="347.53" y="258.41" width="9.33" height="1.15" fill="#f1a76e"/><rect x="356.82" y="258.41" width="9.33" height="1.15" fill="#f1a66d"/><rect x="310.40" y="259.51" width="9.33" height="1.15" fill="#62b762"/><rect x="319.68" y="259.51" width="9.33" height="1.15" fill="#cfe4a9"/><rect x="328.97" y="259.51" width="9.33" height="1.15" fill="#d2e5ab"/><rect x="338.25" y="259.51" width="9.33" height="1.15" fill="#f5e5b5"/><rect x="347.53" y="259.51" width="9.33" height="1.15" fill="#f4b57c"/><rect x="356.82" y="259.51" width="9.33" height="1.15" fill="#ef9e65"/><rect x="310.40" y="260.62" width="9.33" height="1.15" fill="#62b762"/><rect x="319.68" y="260.62" width="9.33" height="1.15" fill="#b9dd9a"/><rect x="328.97" y="260.62" width="9.33" height="1.15" fill="#c6e1a3"/><rect x="338.25" y="260.62" width="9.33" height="1.15" fill="#f4b67e"/><rect x="347.53" y="260.62" width="9.33" height="1.15" fill="#f7c791"/><rect x="356.82" y="260.62" width="9.33" height="1.15" fill="#ea8c59"/><rect x="310.40" y="261.72" width="9.33" height="1.15" fill="#6cbe6c"/><rect x="319.68" y="261.72" width="9.33" height="1.15" fill="#b6dc99"/><rect x="328.97" y="261.72" width="9.33" height="1.15" fill="#b5db98"/><rect x="338.25" y="261.72" width="9.33" height="1.15" fill="#f5b982"/><rect x="347.53" y="261.72" width="9.33" height="1.15" fill="#f0a268"/><rect x="356.82" y="261.72" width="9.33" height="1.15" fill="#e3764a"/><rect x="310.40" y="262.82" width="9.33" height="1.15" fill="#78c373"/><rect x="319.68" y="262.82" width="9.33" height="1.15" fill="#8dcb80"/><rect x="328.97" y="262.82" width="9.33" height="1.15" fill="#bfdf9e"/><rect x="338.25" y="262.82" width="9.33" height="1.15" fill="#f3b279"/><rect x="347.53" y="262.82" width="9.33" height="1.15" fill="#f3b179"/><rect x="356.82" y="262.82" width="9.33" height="1.15" fill="#e06a42"/><rect x="310.40" y="263.92" width="9.33" height="1.15" fill="#63b863"/><rect x="319.68" y="263.92" width="9.33" height="1.15" fill="#a7d68f"/><rect x="328.97" y="263.92" width="9.33" height="1.15" fill="#cfe4a9"/><rect x="338.25" y="263.92" width="9.33" height="1.15" fill="#f7c58e"/><rect x="347.53" y="263.92" width="9.33" height="1.15" fill="#f7c790"/><rect x="356.82" y="263.92" width="9.33" height="1.15" fill="#ed9760"/><rect x="310.40" y="265.02" width="9.33" height="1.15" fill="#5db45d"/><rect x="319.68" y="265.02" width="9.33" height="1.15" fill="#bede9d"/><rect x="328.97" y="265.02" width="9.33" height="1.15" fill="#dae8b0"/><rect x="338.25" y="265.02" width="9.33" height="1.15" fill="#f7c690"/><rect x="347.53" y="265.02" width="9.33" height="1.15" fill="#f7d4a0"/><rect x="356.82" y="265.02" width="9.33" height="1.15" fill="#eb915c"/><rect x="310.40" y="266.12" width="9.33" height="1.15" fill="#59b159"/><rect x="319.68" y="266.12" width="9.33" height="1.15" fill="#c0df9f"/><rect x="328.97" y="266.12" width="9.33" height="1.15" fill="#efeebf"/><rect x="338.25" y="266.12" width="9.33" height="1.15" fill="#f8c892"/><rect x="347.53" y="266.12" width="9.33" height="1.15" fill="#f7d5a2"/><rect x="356.82" y="266.12" width="9.33" height="1.15" fill="#e78152"/><rect x="310.40" y="267.22" width="9.33" height="1.15" fill="#5fb55f"/><rect x="319.68" y="267.22" width="9.33" height="1.15" fill="#75c272"/><rect x="328.97" y="267.22" width="9.33" height="1.15" fill="#f4efc0"/><rect x="338.25" y="267.22" width="9.33" height="1.15" fill="#f6deac"/><rect x="347.53" y="267.22" width="9.33" height="1.15" fill="#f8cf9a"/><rect x="356.82" y="267.22" width="9.33" height="1.15" fill="#e88655"/><rect x="310.40" y="268.33" width="9.33" height="1.15" fill="#8fcc81"/><rect x="319.68" y="268.33" width="9.33" height="1.15" fill="#83c77a"/><rect x="328.97" y="268.33" width="9.33" height="1.15" fill="#d8e7af"/><rect x="338.25" y="268.33" width="9.33" height="1.15" fill="#f6ddab"/><rect x="347.53" y="268.33" width="9.33" height="1.15" fill="#f8cc97"/><rect x="356.82" y="268.33" width="9.33" height="1.15" fill="#efa066"/><rect x="310.40" y="269.43" width="9.33" height="1.15" fill="#77c272"/><rect x="319.68" y="269.43" width="9.33" height="1.15" fill="#97cf86"/><rect x="328.97" y="269.43" width="9.33" height="1.15" fill="#cce3a7"/><rect x="338.25" y="269.43" width="9.33" height="1.15" fill="#f6d9a6"/><rect x="347.53" y="269.43" width="9.33" height="1.15" fill="#f8c993"/><rect x="356.82" y="269.43" width="9.33" height="1.15" fill="#f0a269"/><rect x="310.40" y="270.53" width="9.33" height="1.15" fill="#56ae56"/><rect x="319.68" y="270.53" width="9.33" height="1.15" fill="#c2e0a0"/><rect x="328.97" y="270.53" width="9.33" height="1.15" fill="#b4db97"/><rect x="338.25" y="270.53" width="9.33" height="1.15" fill="#f8cd97"/><rect x="347.53" y="270.53" width="9.33" height="1.15" fill="#f1a96f"/><rect x="356.82" y="270.53" width="9.33" height="1.15" fill="#ed9760"/><rect x="310.40" y="271.63" width="9.33" height="1.15" fill="#46a346"/><rect x="319.68" y="271.63" width="9.33" height="1.15" fill="#bbde9c"/><rect x="328.97" y="271.63" width="9.33" height="1.15" fill="#c1e09f"/><rect x="338.25" y="271.63" width="9.33" height="1.15" fill="#f8cd97"/><rect x="347.53" y="271.63" width="9.33" height="1.15" fill="#f1a66d"/><rect x="356.82" y="271.63" width="9.33" height="1.15" fill="#e4794c"/><rect x="310.40" y="272.73" width="9.33" height="1.15" fill="#45a245"/><rect x="319.68" y="272.73" width="9.33" height="1.15" fill="#94ce84"/><rect x="328.97" y="272.73" width="9.33" height="1.15" fill="#c8e2a4"/><rect x="338.25" y="272.73" width="9.33" height="1.15" fill="#f7d5a2"/><rect x="347.53" y="272.73" width="9.33" height="1.15" fill="#ed9861"/><rect x="356.82" y="272.73" width="9.33" height="1.15" fill="#e67f51"/><rect x="310.40" y="273.83" width="9.33" height="1.15" fill="#5fb55f"/><rect x="319.68" y="273.83" width="9.33" height="1.15" fill="#9ed28a"/><rect x="328.97" y="273.83" width="9.33" height="1.15" fill="#cee4a8"/><rect x="338.25" y="273.83" width="9.33" height="1.15" fill="#f6dba8"/><rect x="347.53" y="273.83" width="9.33" height="1.15" fill="#f2ab72"/><rect x="356.82" y="273.83" width="9.33" height="1.15" fill="#efa067"/><rect x="310.40" y="274.93" width="9.33" height="1.15" fill="#5fb55f"/><rect x="319.68" y="274.93" width="9.33" height="1.15" fill="#99d087"/><rect x="328.97" y="274.93" width="9.33" height="1.15" fill="#a6d58f"/><rect x="338.25" y="274.93" width="9.33" height="1.15" fill="#f5e3b2"/><rect x="347.53" y="274.93" width="9.33" height="1.15" fill="#f6be86"/><rect x="356.82" y="274.93" width="9.33" height="1.15" fill="#ea8c59"/><rect x="310.40" y="276.04" width="9.33" height="1.15" fill="#6dbf6d"/><rect x="319.68" y="276.04" width="9.33" height="1.15" fill="#c4e0a1"/><rect x="328.97" y="276.04" width="9.33" height="1.15" fill="#b4db97"/><rect x="338.25" y="276.04" width="9.33" height="1.15" fill="#f5ebbc"/><rect x="347.53" y="276.04" width="9.33" height="1.15" fill="#f8ce99"/><rect x="356.82" y="276.04" width="9.33" height="1.15" fill="#e88454"/><rect x="310.40" y="277.14" width="9.33" height="1.15" fill="#a6d58f"/><rect x="319.68" y="277.14" width="9.33" height="1.15" fill="#cde3a7"/><rect x="328.97" y="277.14" width="9.33" height="1.15" fill="#cae2a5"/><rect x="338.25" y="277.14" width="9.33" height="1.15" fill="#f6d9a6"/><rect x="347.53" y="277.14" width="9.33" height="1.15" fill="#f7c38c"/><rect x="356.82" y="277.14" width="9.33" height="1.15" fill="#e98a58"/><rect x="310.40" y="278.24" width="9.33" height="1.15" fill="#74c171"/><rect x="319.68" y="278.24" width="9.33" height="1.15" fill="#cee4a8"/><rect x="328.97" y="278.24" width="9.33" height="1.15" fill="#d1e5aa"/><rect x="338.25" y="278.24" width="9.33" height="1.15" fill="#f8c993"/><rect x="347.53" y="278.24" width="9.33" height="1.15" fill="#f2aa71"/><rect x="356.82" y="278.24" width="9.33" height="1.15" fill="#ec935e"/><rect x="310.40" y="279.34" width="9.33" height="1.15" fill="#5eb45e"/><rect x="319.68" y="279.34" width="9.33" height="1.15" fill="#d8e7af"/><rect x="328.97" y="279.34" width="9.33" height="1.15" fill="#dae8b1"/><rect x="338.25" y="279.34" width="9.33" height="1.15" fill="#f6e0ae"/><rect x="347.53" y="279.34" width="9.33" height="1.15" fill="#f3af76"/><rect x="356.82" y="279.34" width="9.33" height="1.15" fill="#ee9a63"/><rect x="310.40" y="280.44" width="9.33" height="1.15" fill="#69bc69"/><rect x="319.68" y="280.44" width="9.33" height="1.15" fill="#c8e2a4"/><rect x="328.97" y="280.44" width="9.33" height="1.15" fill="#dae8b0"/><rect x="338.25" y="280.44" width="9.33" height="1.15" fill="#f5ebbc"/><rect x="347.53" y="280.44" width="9.33" height="1.15" fill="#f8cc96"/><rect x="356.82" y="280.44" width="9.33" height="1.15" fill="#e88554"/><rect x="310.40" y="281.54" width="9.33" height="1.15" fill="#4ca84c"/><rect x="319.68" y="281.54" width="9.33" height="1.15" fill="#b4db97"/><rect x="328.97" y="281.54" width="9.33" height="1.15" fill="#bcde9c"/><rect x="338.25" y="281.54" width="9.33" height="1.15" fill="#f6e0af"/><rect x="347.53" y="281.54" width="9.33" height="1.15" fill="#f6c089"/><rect x="356.82" y="281.54" width="9.33" height="1.15" fill="#e57b4e"/><rect x="310.40" y="282.65" width="9.33" height="1.15" fill="#46a346"/><rect x="319.68" y="282.65" width="9.33" height="1.15" fill="#b6dc98"/><rect x="328.97" y="282.65" width="9.33" height="1.15" fill="#abd792"/><rect x="338.25" y="282.65" width="9.33" height="1.15" fill="#f4b880"/><rect x="347.53" y="282.65" width="9.33" height="1.15" fill="#f6bf88"/><rect x="356.82" y="282.65" width="9.33" height="1.15" fill="#e78252"/><rect x="310.40" y="283.75" width="9.33" height="1.15" fill="#48a448"/><rect x="319.68" y="283.75" width="9.33" height="1.15" fill="#b9dd9a"/><rect x="328.97" y="283.75" width="9.33" height="1.15" fill="#99d087"/><rect x="338.25" y="283.75" width="9.33" height="1.15" fill="#f6be86"/><rect x="347.53" y="283.75" width="9.33" height="1.15" fill="#f3b279"/><rect x="356.82" y="283.75" width="9.33" height="1.15" fill="#ec945f"/><rect x="310.40" y="284.85" width="9.33" height="1.15" fill="#74c171"/><rect x="319.68" y="284.85" width="9.33" height="1.15" fill="#a5d58e"/><rect x="328.97" y="284.85" width="9.33" height="1.15" fill="#bfdf9e"/><rect x="338.25" y="284.85" width="9.33" height="1.15" fill="#f7d5a2"/><rect x="347.53" y="284.85" width="9.33" height="1.15" fill="#f3af76"/><rect x="356.82" y="284.85" width="9.33" height="1.15" fill="#ed9660"/><rect x="310.40" y="285.95" width="9.33" height="1.15" fill="#47a447"/><rect x="319.68" y="285.95" width="9.33" height="1.15" fill="#c2e0a0"/><rect x="328.97" y="285.95" width="9.33" height="1.15" fill="#b9dd9a"/><rect x="338.25" y="285.95" width="9.33" height="1.15" fill="#f5e6b6"/><rect x="347.53" y="285.95" width="9.33" height="1.15" fill="#f5bc85"/><rect x="356.82" y="285.95" width="9.33" height="1.15" fill="#ed9760"/><rect x="310.40" y="287.05" width="9.33" height="1.15" fill="#62b762"/><rect x="319.68" y="287.05" width="9.33" height="1.15" fill="#e1eab5"/><rect x="328.97" y="287.05" width="9.33" height="1.15" fill="#a6d58f"/><rect x="338.25" y="287.05" width="9.33" height="1.15" fill="#f7d8a5"/><rect x="347.53" y="287.05" width="9.33" height="1.15" fill="#f8cc97"/><rect x="356.82" y="287.05" width="9.33" height="1.15" fill="#ef9f66"/><rect x="310.40" y="288.15" width="9.33" height="1.15" fill="#6cbe6c"/><rect x="319.68" y="288.15" width="9.33" height="1.15" fill="#c0df9f"/><rect x="328.97" y="288.15" width="9.33" height="1.15" fill="#bedf9e"/><rect x="338.25" y="288.15" width="9.33" height="1.15" fill="#f7d6a2"/><rect x="347.53" y="288.15" width="9.33" height="1.15" fill="#f7c791"/><rect x="356.82" y="288.15" width="9.33" height="1.15" fill="#f1a66c"/><rect x="310.40" y="289.25" width="9.33" height="1.15" fill="#5bb25b"/><rect x="319.68" y="289.25" width="9.33" height="1.15" fill="#c4e1a1"/><rect x="328.97" y="289.25" width="9.33" height="1.15" fill="#c4e0a1"/><rect x="338.25" y="289.25" width="9.33" height="1.15" fill="#f8cb95"/><rect x="347.53" y="289.25" width="9.33" height="1.15" fill="#f5bb84"/><rect x="356.82" y="289.25" width="9.33" height="1.15" fill="#f0a369"/><rect x="310.40" y="290.36" width="9.33" height="1.15" fill="#62b762"/><rect x="319.68" y="290.36" width="9.33" height="1.15" fill="#9ed28a"/><rect x="328.97" y="290.36" width="9.33" height="1.15" fill="#cbe3a6"/><rect x="338.25" y="290.36" width="9.33" height="1.15" fill="#f7c791"/><rect x="347.53" y="290.36" width="9.33" height="1.15" fill="#f5bc84"/><rect x="356.82" y="290.36" width="9.33" height="1.15" fill="#ef9e65"/><rect x="310.40" y="291.46" width="9.33" height="1.15" fill="#65b965"/><rect x="319.68" y="291.46" width="9.33" height="1.15" fill="#a8d690"/><rect x="328.97" y="291.46" width="9.33" height="1.15" fill="#cbe3a6"/><rect x="338.25" y="291.46" width="9.33" height="1.15" fill="#f6be87"/><rect x="347.53" y="291.46" width="9.33" height="1.15" fill="#f7d29d"/><rect x="356.82" y="291.46" width="9.33" height="1.15" fill="#ed9862"/><rect x="310.40" y="292.56" width="9.33" height="1.15" fill="#63b863"/><rect x="319.68" y="292.56" width="9.33" height="1.15" fill="#a4d48e"/><rect x="328.97" y="292.56" width="9.33" height="1.15" fill="#cae2a5"/><rect x="338.25" y="292.56" width="9.33" height="1.15" fill="#f7d4a0"/><rect x="347.53" y="292.56" width="9.33" height="1.15" fill="#f8cd98"/><rect x="356.82" y="292.56" width="9.33" height="1.15" fill="#f0a268"/><rect x="310.40" y="293.66" width="9.33" height="1.15" fill="#65b965"/><rect x="319.68" y="293.66" width="9.33" height="1.15" fill="#86c87c"/><rect x="328.97" y="293.66" width="9.33" height="1.15" fill="#c1e09f"/><rect x="338.25" y="293.66" width="9.33" height="1.15" fill="#f7c690"/><rect x="347.53" y="293.66" width="9.33" height="1.15" fill="#f3af77"/><rect x="356.82" y="293.66" width="9.33" height="1.15" fill="#ea8d5a"/><rect x="310.40" y="294.76" width="9.33" height="1.15" fill="#71c06f"/><rect x="319.68" y="294.76" width="9.33" height="1.15" fill="#9ad088"/><rect x="328.97" y="294.76" width="9.33" height="1.15" fill="#bbde9b"/><rect x="338.25" y="294.76" width="9.33" height="1.15" fill="#f6ddab"/><rect x="347.53" y="294.76" width="9.33" height="1.15" fill="#f6c18a"/><rect x="356.82" y="294.76" width="9.33" height="1.15" fill="#f1a56c"/><rect x="310.40" y="295.86" width="9.33" height="1.15" fill="#75c271"/><rect x="319.68" y="295.86" width="9.33" height="1.15" fill="#abd792"/><rect x="328.97" y="295.86" width="9.33" height="1.15" fill="#d0e4aa"/><rect x="338.25" y="295.86" width="9.33" height="1.15" fill="#f6deac"/><rect x="347.53" y="295.86" width="9.33" height="1.15" fill="#f5bd86"/><rect x="356.82" y="295.86" width="9.33" height="1.15" fill="#ef9e65"/><rect x="310.40" y="296.97" width="9.33" height="1.15" fill="#67bb67"/><rect x="319.68" y="296.97" width="9.33" height="1.15" fill="#bfdf9e"/><rect x="328.97" y="296.97" width="9.33" height="1.15" fill="#f4ecbd"/><rect x="338.25" y="296.97" width="9.33" height="1.15" fill="#f6ddab"/><rect x="347.53" y="296.97" width="9.33" height="1.15" fill="#f8cd98"/><rect x="356.82" y="296.97" width="9.33" height="1.15" fill="#e88755"/><rect x="310.40" y="298.07" width="9.33" height="1.15" fill="#6ebf6d"/><rect x="319.68" y="298.07" width="9.33" height="1.15" fill="#b1da96"/><rect x="328.97" y="298.07" width="9.33" height="1.15" fill="#d7e7ae"/><rect x="338.25" y="298.07" width="9.33" height="1.15" fill="#f6dfad"/><rect x="347.53" y="298.07" width="9.33" height="1.15" fill="#f7d19c"/><rect x="356.82" y="298.07" width="9.33" height="1.15" fill="#ea8d5a"/><rect x="310.40" y="299.17" width="9.33" height="1.15" fill="#62b762"/><rect x="319.68" y="299.17" width="9.33" height="1.15" fill="#a7d68f"/><rect x="328.97" y="299.17" width="9.33" height="1.15" fill="#bdde9c"/><rect x="338.25" y="299.17" width="9.33" height="1.15" fill="#f7d29e"/><rect x="347.53" y="299.17" width="9.33" height="1.15" fill="#f6bf88"/><rect x="356.82" y="299.17" width="9.33" height="1.15" fill="#ea8c59"/><rect x="310.40" y="300.27" width="9.33" height="1.15" fill="#8ecb80"/><rect x="319.68" y="300.27" width="9.33" height="1.15" fill="#8ecb80"/><rect x="328.97" y="300.27" width="9.33" height="1.15" fill="#c9e2a5"/><rect x="338.25" y="300.27" width="9.33" height="1.15" fill="#f6dcaa"/><rect x="347.53" y="300.27" width="9.33" height="1.15" fill="#f6be87"/><rect x="356.82" y="300.27" width="9.33" height="1.15" fill="#ed9861"/><rect x="310.40" y="301.37" width="9.33" height="1.15" fill="#85c87b"/><rect x="319.68" y="301.37" width="9.33" height="1.15" fill="#98cf86"/><rect x="328.97" y="301.37" width="9.33" height="1.15" fill="#d5e6ad"/><rect x="338.25" y="301.37" width="9.33" height="1.15" fill="#f7d4a0"/><rect x="347.53" y="301.37" width="9.33" height="1.15" fill="#f7d5a2"/><rect x="356.82" y="301.37" width="9.33" height="1.15" fill="#e88454"/><rect x="310.40" y="302.47" width="9.33" height="1.15" fill="#add893"/><rect x="319.68" y="302.47" width="9.33" height="1.15" fill="#a8d690"/><rect x="328.97" y="302.47" width="9.33" height="1.15" fill="#cee4a8"/><rect x="338.25" y="302.47" width="9.33" height="1.15" fill="#f6ddab"/><rect x="347.53" y="302.47" width="9.33" height="1.15" fill="#f7c38c"/><rect x="356.82" y="302.47" width="9.33" height="1.15" fill="#e98b58"/><rect x="310.40" y="303.57" width="9.33" height="1.15" fill="#6bbd6b"/><rect x="319.68" y="303.57" width="9.33" height="1.15" fill="#77c273"/><rect x="328.97" y="303.57" width="9.33" height="1.15" fill="#a3d48d"/><rect x="338.25" y="303.57" width="9.33" height="1.15" fill="#f7d4a0"/><rect x="347.53" y="303.57" width="9.33" height="1.15" fill="#f8c892"/><rect x="356.82" y="303.57" width="9.33" height="1.15" fill="#f1a86e"/><rect x="310.40" y="304.68" width="9.33" height="1.15" fill="#5bb25b"/><rect x="319.68" y="304.68" width="9.33" height="1.15" fill="#aad791"/><rect x="328.97" y="304.68" width="9.33" height="1.15" fill="#a0d38b"/><rect x="338.25" y="304.68" width="9.33" height="1.15" fill="#f7d5a2"/><rect x="347.53" y="304.68" width="9.33" height="1.15" fill="#f8c993"/><rect x="356.82" y="304.68" width="9.33" height="1.15" fill="#f0a167"/><rect x="310.40" y="305.78" width="9.33" height="1.15" fill="#60b560"/><rect x="319.68" y="305.78" width="9.33" height="1.15" fill="#afd994"/><rect x="328.97" y="305.78" width="9.33" height="1.15" fill="#cfe4a9"/><rect x="338.25" y="305.78" width="9.33" height="1.15" fill="#f7d19c"/><rect x="347.53" y="305.78" width="9.33" height="1.15" fill="#f4b67e"/><rect x="356.82" y="305.78" width="9.33" height="1.15" fill="#e4784c"/><rect x="310.40" y="306.88" width="9.33" height="1.15" fill="#6fbf6e"/><rect x="319.68" y="306.88" width="9.33" height="1.15" fill="#69bc69"/><rect x="328.97" y="306.88" width="9.33" height="1.15" fill="#dce8b2"/><rect x="338.25" y="306.88" width="9.33" height="1.15" fill="#f8c992"/><rect x="347.53" y="306.88" width="9.33" height="1.15" fill="#f8ce99"/><rect x="356.82" y="306.88" width="9.33" height="1.15" fill="#ea8e5b"/><rect x="310.40" y="307.98" width="9.33" height="1.15" fill="#63b863"/><rect x="319.68" y="307.98" width="9.33" height="1.15" fill="#88c97d"/><rect x="328.97" y="307.98" width="9.33" height="1.15" fill="#d3e5ac"/><rect x="338.25" y="307.98" width="9.33" height="1.15" fill="#f6dcaa"/><rect x="347.53" y="307.98" width="9.33" height="1.15" fill="#f5bd86"/><rect x="356.82" y="307.98" width="9.33" height="1.15" fill="#e4784c"/><rect x="310.40" y="309.08" width="9.33" height="1.15" fill="#5eb45e"/><rect x="319.68" y="309.08" width="9.33" height="1.15" fill="#95ce85"/><rect x="328.97" y="309.08" width="9.33" height="1.15" fill="#bbde9b"/><rect x="338.25" y="309.08" width="9.33" height="1.15" fill="#f6d9a6"/><rect x="347.53" y="309.08" width="9.33" height="1.15" fill="#efa066"/><rect x="356.82" y="309.08" width="9.33" height="1.15" fill="#e88756"/><rect x="310.40" y="310.18" width="9.33" height="1.15" fill="#53ac53"/><rect x="319.68" y="310.18" width="9.33" height="1.15" fill="#bbde9b"/><rect x="328.97" y="310.18" width="9.33" height="1.15" fill="#d1e5aa"/><rect x="338.25" y="310.18" width="9.33" height="1.15" fill="#f5bd86"/><rect x="347.53" y="310.18" width="9.33" height="1.15" fill="#f5ba83"/><rect x="356.82" y="310.18" width="9.33" height="1.15" fill="#ed9761"/><rect x="310.40" y="311.28" width="9.33" height="1.15" fill="#68bb68"/><rect x="319.68" y="311.28" width="9.33" height="1.15" fill="#a6d58f"/><rect x="328.97" y="311.28" width="9.33" height="1.15" fill="#cbe3a6"/><rect x="338.25" y="311.28" width="9.33" height="1.15" fill="#f8cb95"/><rect x="347.53" y="311.28" width="9.33" height="1.15" fill="#f6c089"/><rect x="356.82" y="311.28" width="9.33" height="1.15" fill="#f1a86e"/><rect x="310.40" y="312.39" width="9.33" height="1.15" fill="#5fb55f"/><rect x="319.68" y="312.39" width="9.33" height="1.15" fill="#93cd83"/><rect x="328.97" y="312.39" width="9.33" height="1.15" fill="#bfdf9e"/><rect x="338.25" y="312.39" width="9.33" height="1.15" fill="#f7d4a0"/><rect x="347.53" y="312.39" width="9.33" height="1.15" fill="#f3b27a"/><rect x="356.82" y="312.39" width="9.33" height="1.15" fill="#f2aa71"/><rect x="310.40" y="313.49" width="9.33" height="1.15" fill="#61b661"/><rect x="319.68" y="313.49" width="9.33" height="1.15" fill="#a5d58e"/><rect x="328.97" y="313.49" width="9.33" height="1.15" fill="#bcde9c"/><rect x="338.25" y="313.49" width="9.33" height="1.15" fill="#f5eabb"/><rect x="347.53" y="313.49" width="9.33" height="1.15" fill="#f5bc85"/><rect x="356.82" y="313.49" width="9.33" height="1.15" fill="#f8ce99"/><rect x="310.40" y="314.59" width="9.33" height="1.15" fill="#8ccb7f"/><rect x="319.68" y="314.59" width="9.33" height="1.15" fill="#7fc678"/><rect x="328.97" y="314.59" width="9.33" height="1.15" fill="#c8e2a4"/><rect x="338.25" y="314.59" width="9.33" height="1.15" fill="#f7cf9a"/><rect x="347.53" y="314.59" width="9.33" height="1.15" fill="#f5bd85"/><rect x="356.82" y="314.59" width="9.33" height="1.15" fill="#f6be87"/><rect x="310.40" y="315.69" width="9.33" height="1.15" fill="#90cc82"/><rect x="319.68" y="315.69" width="9.33" height="1.15" fill="#91cd82"/><rect x="328.97" y="315.69" width="9.33" height="1.15" fill="#c5e1a2"/><rect x="338.25" y="315.69" width="9.33" height="1.15" fill="#f7d6a2"/><rect x="347.53" y="315.69" width="9.33" height="1.15" fill="#f4b57d"/><rect x="356.82" y="315.69" width="9.33" height="1.15" fill="#ee9b63"/><rect x="310.40" y="316.79" width="9.33" height="1.15" fill="#8aca7e"/><rect x="319.68" y="316.79" width="9.33" height="1.15" fill="#b5db98"/><rect x="328.97" y="316.79" width="9.33" height="1.15" fill="#dae8b0"/><rect x="338.25" y="316.79" width="9.33" height="1.15" fill="#f6e1b0"/><rect x="347.53" y="316.79" width="9.33" height="1.15" fill="#f6c089"/><rect x="356.82" y="316.79" width="9.33" height="1.15" fill="#ec925d"/><rect x="310.40" y="317.89" width="9.33" height="1.15" fill="#8fcc81"/><rect x="319.68" y="317.89" width="9.33" height="1.15" fill="#b4db97"/><rect x="328.97" y="317.89" width="9.33" height="1.15" fill="#d7e7ae"/><rect x="338.25" y="317.89" width="9.33" height="1.15" fill="#f5e3b3"/><rect x="347.53" y="317.89" width="9.33" height="1.15" fill="#f5b981"/><rect x="356.82" y="317.89" width="9.33" height="1.15" fill="#ef9e66"/><rect x="310.40" y="319.00" width="9.33" height="1.15" fill="#93ce83"/><rect x="319.68" y="319.00" width="9.33" height="1.15" fill="#95ce84"/><rect x="328.97" y="319.00" width="9.33" height="1.15" fill="#cae3a6"/><rect x="338.25" y="319.00" width="9.33" height="1.15" fill="#f6ddab"/><rect x="347.53" y="319.00" width="9.33" height="1.15" fill="#f7c38c"/><rect x="356.82" y="319.00" width="9.33" height="1.15" fill="#ec945f"/><rect x="310.40" y="320.10" width="9.33" height="1.15" fill="#67ba67"/><rect x="319.68" y="320.10" width="9.33" height="1.15" fill="#91cd82"/><rect x="328.97" y="320.10" width="9.33" height="1.15" fill="#b5db98"/><rect x="338.25" y="320.10" width="9.33" height="1.15" fill="#f8cb96"/><rect x="347.53" y="320.10" width="9.33" height="1.15" fill="#f5ba82"/><rect x="356.82" y="320.10" width="9.33" height="1.15" fill="#e16e44"/><rect x="310.40" y="321.20" width="9.33" height="1.15" fill="#3c9c3c"/><rect x="319.68" y="321.20" width="9.33" height="1.15" fill="#85c87b"/><rect x="328.97" y="321.20" width="9.33" height="1.15" fill="#b8dc99"/><rect x="338.25" y="321.20" width="9.33" height="1.15" fill="#f7c58f"/><rect x="347.53" y="321.20" width="9.33" height="1.15" fill="#f5bd85"/><rect x="356.82" y="321.20" width="9.33" height="1.15" fill="#e27247"/>
<rect x="311.0" y="199.9" width="54.5" height="49.3" fill="none" stroke="#b8412e" stroke-width="1.3"/>
<rect x="310.9" y="250.2" width="54.7" height="71.6" fill="none" stroke="#48a048" stroke-width="1.1"/>
<rect x="192.5" y="199.3" width="6.8" height="4.70" fill="#a9d0e8"/>
<rect x="192.5" y="204.0" width="6.8" height="9.40" fill="#4a8fca"/>
<rect x="192.5" y="213.4" width="6.8" height="4.50" fill="#c6e6bf"/>
<rect x="192.5" y="217.9" width="6.8" height="15.20" fill="#4ea24e"/>
<rect x="192.5" y="233.1" width="6.8" height="49.30" fill="#e8aab0"/>
<rect x="192.5" y="282.4" width="6.8" height="5.60" fill="#d24444"/>
<rect x="192.5" y="288.0" width="6.8" height="2.20" fill="#f7c898"/>
<rect x="192.5" y="290.2" width="6.8" height="31.30" fill="#e8921e"/>
<defs><linearGradient id="sb2" gradientUnits="userSpaceOnUse" x1="0" y1="199.3" x2="0" y2="322.3"><stop offset="0.0000" stop-color="#88c5b4"/><stop offset="0.2049" stop-color="#8ac4b2"/><stop offset="0.2333" stop-color="#c0bca4"/><stop offset="0.3065" stop-color="#cbbba0"/><stop offset="0.3309" stop-color="#e99c80"/><stop offset="0.3756" stop-color="#ea9c84"/><stop offset="0.3959" stop-color="#dea8c0"/><stop offset="0.4203" stop-color="#8aa2dc"/><stop offset="0.4650" stop-color="#8aa0e0"/><stop offset="0.4894" stop-color="#c08ad4"/><stop offset="0.5423" stop-color="#c890cc"/><stop offset="0.5748" stop-color="#cdb094"/><stop offset="0.6398" stop-color="#ccb496"/><stop offset="0.6642" stop-color="#d4c89a"/><stop offset="0.7049" stop-color="#ccd482"/><stop offset="0.7374" stop-color="#eed84c"/><stop offset="0.8837" stop-color="#f0d850"/><stop offset="0.9244" stop-color="#f1e09e"/><stop offset="0.9732" stop-color="#f0e4b0"/><stop offset="1.0000" stop-color="#e8d8c8"/></linearGradient></defs>
<rect x="368.8" y="199.3" width="6.2" height="123.0" fill="url(#sb2)"/>
<path d="M201.6 199.5V203.3M201.6 201.4L209.8 199.1M201.6 204.4V212.8M201.6 208.3L209.8 207.2M201.6 214.0V217.9M201.6 216.7L209.8 216.7M201.6 219.0V233.4M201.6 226.3L209.8 226.3M201.6 234.6V281.8M201.6 257.6L209.8 257.6M201.6 283.0V288.2M201.6 286.0L209.8 282.6M201.6 290.4L209.8 290.4M201.6 295.6V319.2M201.6 306.8L209.8 306.8" stroke="#111" stroke-width="1.2" fill="none"/>
<path d="M377.3 200.4V225.6M377.3 213.6L385.3 213.6M377.3 227.4V237.8M377.3 233.0L385.3 229.6M377.3 239.4V245.8M377.3 243.0L385.3 240.0M377.3 249.8L385.3 249.8M377.3 252.0V260.4M377.3 255.0L385.3 257.4M377.3 263.3V267.4M377.3 265.6L385.3 264.5M377.3 269.8V275.6M377.3 273.3L385.3 272.1M377.3 277.4V283.3M377.3 280.4L385.3 279.2M377.3 284.0V289.3M377.3 288.0L385.3 286.8M377.3 290.5V297.0M377.3 292.6L385.3 292.6M377.3 295.4L385.3 300.6M377.3 300.6V318.9M377.3 309.6L385.3 310.8M377.3 320.6L385.3 320.6" stroke="#111" stroke-width="1.2" fill="none"/>
<text x="211.7" y="200.9" font-size="6.6" fill="#c25a50" stroke="#c25a50" stroke-width="0.18">DNA replication <tspan fill="#333" stroke="#333">(64)</tspan></text>
<text x="211.7" y="209.9" font-size="6.6" fill="#c25a50" stroke="#c25a50" stroke-width="0.18">Mitotic nuclear division <tspan fill="#333" stroke="#333">(119)</tspan></text>
<text x="211.7" y="218.9" font-size="6.6" fill="#c25a50" stroke="#c25a50" stroke-width="0.18">Ribosome biogenesis <tspan fill="#333" stroke="#333">(61)</tspan></text>
<text x="211.7" y="227.6" font-size="6.6" fill="#68a468" stroke="#68a468" stroke-width="0.18">Transmembrane</text>
<text x="211.7" y="236.3" font-size="6.6" fill="#68a468" stroke="#68a468" stroke-width="0.18">transport <tspan fill="#333" stroke="#333">(182)</tspan></text>
<text x="211.7" y="260.6" font-size="6.6" fill="#68a468" stroke="#68a468" stroke-width="0.18">System Development <tspan fill="#333" stroke="#333">(605)</tspan></text>
<text x="211.7" y="276.4" font-size="6.6" fill="#68a468" stroke="#68a468" stroke-width="0.18">Actin filament-based</text>
<text x="211.7" y="284.3" font-size="6.6" fill="#68a468" stroke="#68a468" stroke-width="0.18">Process <tspan fill="#333" stroke="#333">(90)</tspan></text>
<text x="211.7" y="292.4" font-size="6.6" fill="#68a468" stroke="#68a468" stroke-width="0.18">Neuropeptide sign.pathway <tspan fill="#333" stroke="#333">(26)</tspan></text>
<text x="211.7" y="309.2" font-size="6.6" fill="#68a468" stroke="#68a468" stroke-width="0.18">Regulation of multicellular</text>
<text x="211.7" y="316.7" font-size="6.6" fill="#68a468" stroke="#68a468" stroke-width="0.18">organismal process <tspan fill="#333" stroke="#333">(381)</tspan></text>
<text x="387.3" y="215.8" font-size="6.6" fill="#c25a50" stroke="#c25a50" stroke-width="0.18">RNA binding <tspan fill="#333" stroke="#333">(248)</tspan></text>
<text x="387.3" y="231.9" font-size="6.6" fill="#c25a50" stroke="#c25a50" stroke-width="0.18">Protein complex binding <tspan fill="#333" stroke="#333">(111)</tspan></text>
<text x="387.3" y="242.0" font-size="6.6" fill="#c25a50" stroke="#c25a50" stroke-width="0.18">ATPase activity <tspan fill="#333" stroke="#333">(71)</tspan></text>
<text x="387.3" y="250.7" font-size="6.6" fill="#c25a50" stroke="#c25a50" stroke-width="0.18">Struc. Const. of nuclear pore <tspan fill="#333" stroke="#333">(8)</tspan></text>
<text x="387.3" y="259.5" font-size="6.6" fill="#68a468" stroke="#68a468" stroke-width="0.18">RNA pol II transcription factor activity <tspan fill="#333" stroke="#333">(112)</tspan></text>
<text x="387.3" y="267.2" font-size="6.6" fill="#68a468" stroke="#68a468" stroke-width="0.18">Enzyme inhibitor activity <tspan fill="#333" stroke="#333">(64)</tspan></text>
<text x="387.3" y="275.0" font-size="6.6" fill="#68a468" stroke="#68a468" stroke-width="0.18">Carbohydrate binding <tspan fill="#333" stroke="#333">(46)</tspan></text>
<text x="387.3" y="282.6" font-size="6.6" fill="#68a468" stroke="#68a468" stroke-width="0.18">Calcium ion binding <tspan fill="#333" stroke="#333">(108)</tspan></text>
<text x="387.3" y="289.3" font-size="6.6" fill="#68a468" stroke="#68a468" stroke-width="0.18">Hormone activity <tspan fill="#333" stroke="#333">(23)</tspan></text>
<text x="387.3" y="296.2" font-size="6.6" fill="#68a468" stroke="#68a468" stroke-width="0.18">Iron ion binding <tspan fill="#333" stroke="#333">(39)</tspan></text>
<text x="387.3" y="303.9" font-size="6.6" fill="#68a468" stroke="#68a468" stroke-width="0.18">Growth factor activity <tspan fill="#333" stroke="#333">(26)</tspan></text>
<text x="387.3" y="313.5" font-size="6.6" fill="#68a468" stroke="#68a468" stroke-width="0.18">Transporter activity <tspan fill="#333" stroke="#333">(188)</tspan></text>
<text x="387.3" y="322.3" font-size="6.6" fill="#68a468" stroke="#68a468" stroke-width="0.18">Cell adhesion molecule binding <tspan fill="#333" stroke="#333">(24)</tspan></text>
<text class="ns" x="140.8" y="325.6" font-size="6.5" fill="#5b7db2" text-anchor="end" transform="rotate(-50 140.8 325.6)">p53cKO_1</text>
<text class="ns" x="150.0" y="325.6" font-size="6.5" fill="#5b7db2" text-anchor="end" transform="rotate(-50 150.0 325.6)">p53cKO_2</text>
<text class="ns" x="159.3" y="325.6" font-size="6.5" fill="#5b7db2" text-anchor="end" transform="rotate(-50 159.3 325.6)">p53cKO_3</text>
<text class="ns" x="168.7" y="325.6" font-size="6.5" fill="#a09a9c" text-anchor="end" transform="rotate(-50 168.7 325.6)">Ctr_1</text>
<text class="ns" x="178.0" y="325.6" font-size="6.5" fill="#a09a9c" text-anchor="end" transform="rotate(-50 178.0 325.6)">Ctr_2</text>
<text class="ns" x="187.2" y="325.6" font-size="6.5" fill="#a09a9c" text-anchor="end" transform="rotate(-50 187.2 325.6)">Ctr_3</text>
<text class="ns" x="316.6" y="325.6" font-size="6.5" fill="#5b7db2" text-anchor="end" transform="rotate(-50 316.6 325.6)">p53cKO_1</text>
<text class="ns" x="325.9" y="325.6" font-size="6.5" fill="#5b7db2" text-anchor="end" transform="rotate(-50 325.9 325.6)">p53cKO_2</text>
<text class="ns" x="335.2" y="325.6" font-size="6.5" fill="#5b7db2" text-anchor="end" transform="rotate(-50 335.2 325.6)">p53cKO_3</text>
<text class="ns" x="344.5" y="325.6" font-size="6.5" fill="#a09a9c" text-anchor="end" transform="rotate(-50 344.5 325.6)">Ctr_1</text>
<text class="ns" x="353.8" y="325.6" font-size="6.5" fill="#a09a9c" text-anchor="end" transform="rotate(-50 353.8 325.6)">Ctr_2</text>
<text class="ns" x="363.1" y="325.6" font-size="6.5" fill="#a09a9c" text-anchor="end" transform="rotate(-50 363.1 325.6)">Ctr_3</text>
<defs><linearGradient id="zs" x1="0" x2="1" y1="0" y2="0"><stop offset="0" stop-color="#3f983a"/><stop offset="0.25" stop-color="#9ccf8c"/><stop offset="0.5" stop-color="#ffffff"/><stop offset="0.75" stop-color="#f2b293"/><stop offset="1" stop-color="#e44d24"/></linearGradient></defs>
<text x="471.4" y="187.1" font-size="6.4" font-weight="bold" fill="#222" stroke="#222" stroke-width="0.28" text-anchor="middle" >Row Z-Score</text>
<text x="459.6" y="195.8" font-size="6.0" fill="#333" stroke="#333" stroke-width="0.18" text-anchor="middle" >-1</text>
<text x="482.6" y="195.8" font-size="6.0" fill="#333" stroke="#333" stroke-width="0.18" text-anchor="middle" >1</text>
<rect x="448.4" y="199.2" width="46.0" height="6.4" fill="url(#zs)" stroke="#7a5040" stroke-width="0.6"/>
<path d="M460.2 197V199.2M482.4 197V199.2" stroke="#333" stroke-width="0.7"/>
</g>
</svg>
</body></html>
